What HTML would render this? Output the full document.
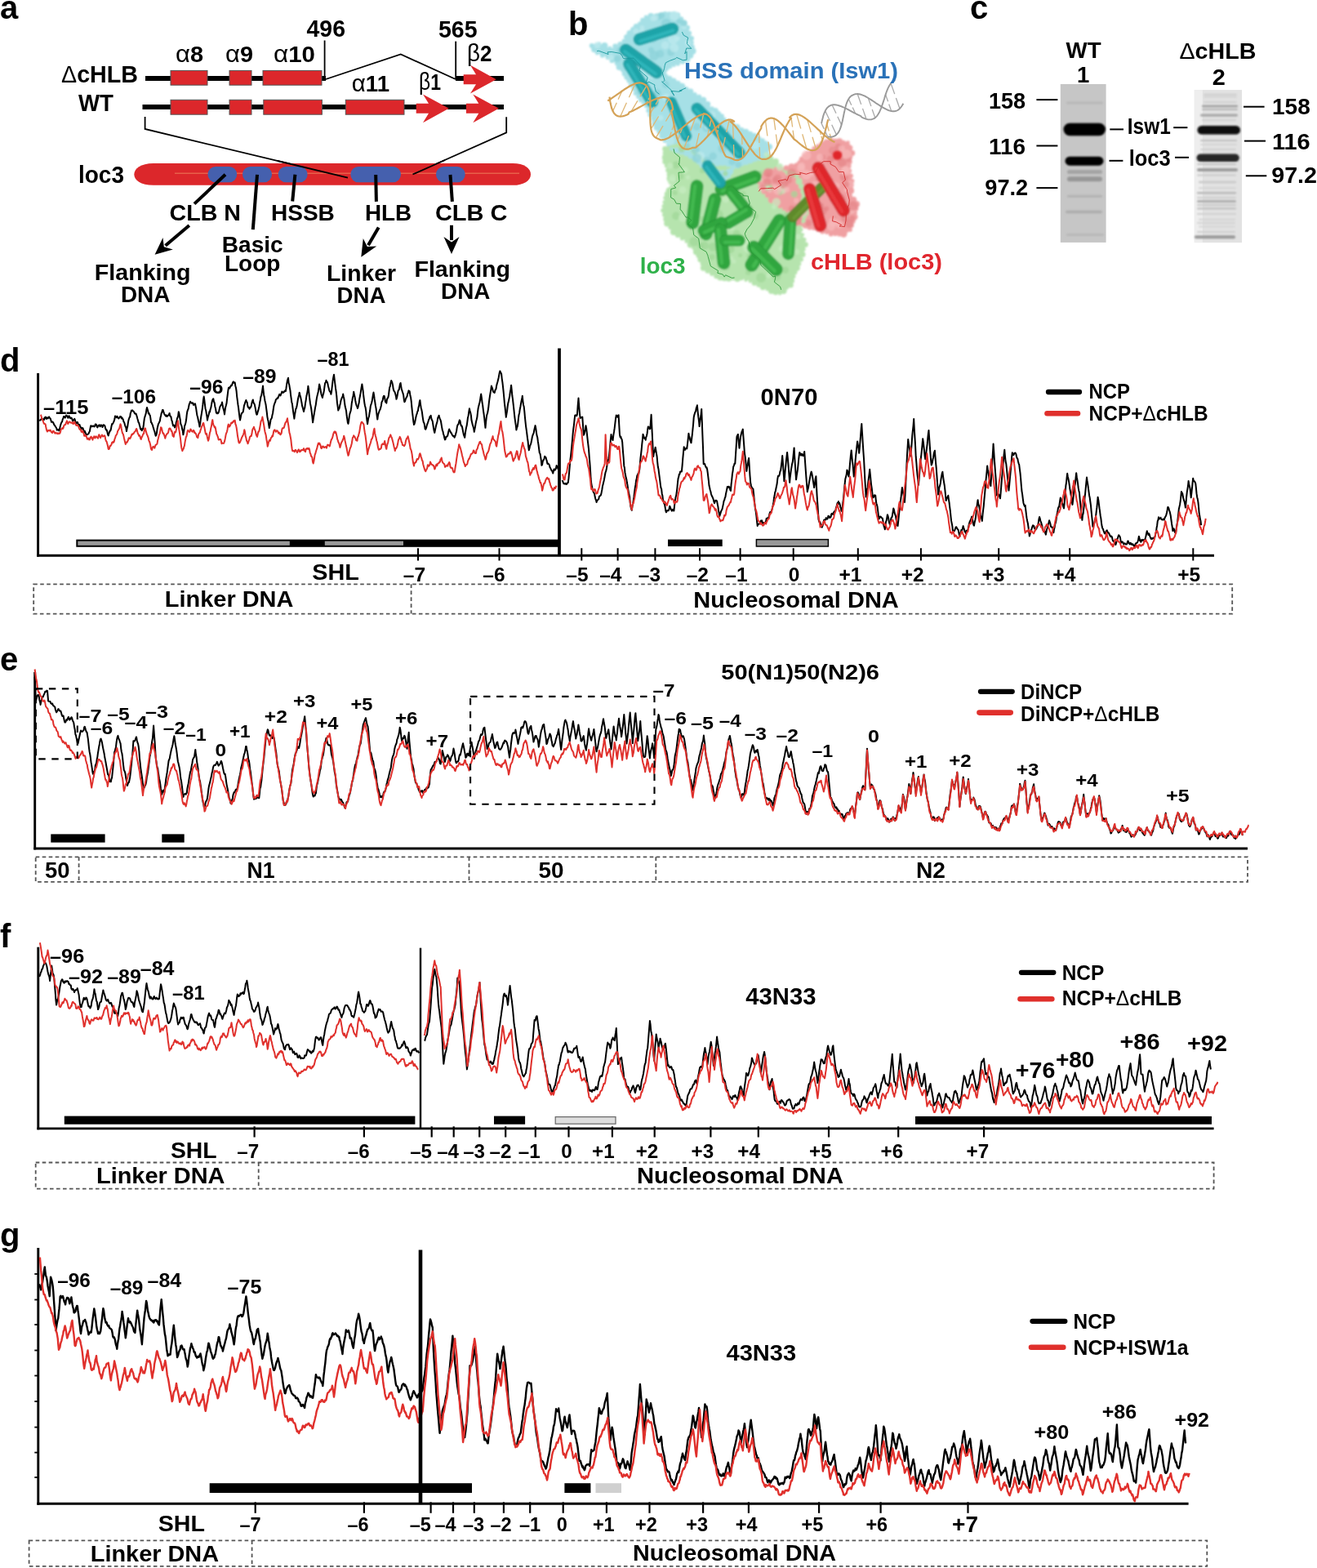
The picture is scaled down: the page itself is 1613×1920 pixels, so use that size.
<!DOCTYPE html>
<html><head><meta charset="utf-8"><title>Figure</title>
<style>
html,body{margin:0;padding:0;background:#fff;overflow:hidden;width:1613px;height:1920px;}
svg{display:block;}
text{font-family:'Liberation Sans', Arial, Helvetica, sans-serif;font-weight:bold;}
</style></head>
<body>
<svg width="1613" height="1920" viewBox="0 0 1613 1920">
<rect width="1613" height="1920" fill="#fff"/>
<text x="0.0" y="23.0" font-size="40">a</text>
<text x="696.0" y="43.4" font-size="40">b</text>
<text x="1188.0" y="23.0" font-size="40">c</text>
<text x="0.0" y="454.7" font-size="40">d</text>
<text x="0.0" y="820.5" font-size="40">e</text>
<text x="0.0" y="1160.3" font-size="40">f</text>
<text x="0.0" y="1526.4" font-size="40">g</text>
<line x1="178.0" y1="96.0" x2="399.0" y2="96.0" stroke="#000" stroke-width="6"/>
<line x1="558.0" y1="96.0" x2="617.0" y2="96.0" stroke="#000" stroke-width="6"/>
<line x1="174.5" y1="131.0" x2="617.0" y2="131.0" stroke="#000" stroke-width="6"/>
<rect x="209.0" y="86.4" width="45.0" height="17.8" fill="#dc272b" stroke="#555" stroke-width="1"/>
<rect x="281.0" y="86.4" width="27.0" height="17.8" fill="#dc272b" stroke="#555" stroke-width="1"/>
<rect x="322.0" y="86.4" width="72.0" height="17.8" fill="#dc272b" stroke="#555" stroke-width="1"/>
<rect x="209.0" y="122.3" width="45.0" height="17.9" fill="#dc272b" stroke="#555" stroke-width="1"/>
<rect x="281.0" y="122.3" width="27.0" height="17.9" fill="#dc272b" stroke="#555" stroke-width="1"/>
<rect x="322.8" y="122.3" width="71.6" height="17.9" fill="#dc272b" stroke="#555" stroke-width="1"/>
<rect x="423.3" y="122.3" width="71.7" height="17.9" fill="#dc272b" stroke="#555" stroke-width="1"/>
<path d="M567.7,91.2 L583,91.2 L576,79.80000000000001 L607.8,97.2 L576,114.6 L583,103.2 L567.7,103.2 Z" fill="#dc272b"/>
<path d="M509.7,126.80000000000001 L525,126.80000000000001 L518,115.4 L549.8,132.8 L518,150.20000000000002 L525,138.8 L509.7,138.8 Z" fill="#dc272b"/>
<path d="M570.9,126.80000000000001 L586.3,126.80000000000001 L579.3,115.4 L611,132.8 L579.3,150.20000000000002 L586.3,138.8 L570.9,138.8 Z" fill="#dc272b"/>
<line x1="397.6" y1="49.5" x2="397.6" y2="97.0" stroke="#000" stroke-width="1.8"/>
<line x1="558.2" y1="50.6" x2="558.2" y2="97.0" stroke="#000" stroke-width="1.8"/>
<path d="M399,97 L490.8,66.4 L558,97" fill="none" stroke="#000" stroke-width="1.8"/>
<path d="M177.6,143 L177.6,158 L426,217.7" fill="none" stroke="#000" stroke-width="1.8"/>
<path d="M620.2,143.3 L620.2,162.3 L505.5,213.5" fill="none" stroke="#000" stroke-width="1.8"/>
<path d="M188,200 L628,200 C642,200 650,206 650,213.4 C650,220.8 642,226.8 628,226.8 L188,226.8 C172,226.8 164.3,220 164.3,213.4 C164.3,206.8 172,200 188,200 Z" fill="#dc272b"/>
<line x1="214.0" y1="212.3" x2="636.0" y2="212.3" stroke="#e8604a" stroke-width="1.6"/>
<rect x="254.5" y="204.0" width="35.7" height="19.3" fill="#4560ae" rx="9.6"/>
<rect x="297.0" y="204.0" width="36.0" height="19.3" fill="#4560ae" rx="9.6"/>
<rect x="340.7" y="204.0" width="35.9" height="19.3" fill="#4560ae" rx="9.6"/>
<rect x="429.3" y="204.0" width="61.7" height="19.3" fill="#4560ae" rx="9.6"/>
<rect x="534.0" y="204.0" width="35.7" height="19.3" fill="#4560ae" rx="9.6"/>
<path d="M340,197 L426,217.7" fill="none" stroke="#000" stroke-width="1.8"/>
<path d="M545,196 L505.5,213.5" fill="none" stroke="#000" stroke-width="1.8"/>
<line x1="276.0" y1="213.8" x2="238.0" y2="249.6" stroke="#000" stroke-width="4"/>
<line x1="315.0" y1="213.8" x2="309.8" y2="281.2" stroke="#000" stroke-width="4"/>
<line x1="361.4" y1="213.8" x2="358.2" y2="246.5" stroke="#000" stroke-width="4"/>
<line x1="460.2" y1="214.0" x2="460.9" y2="246.9" stroke="#000" stroke-width="4"/>
<line x1="551.5" y1="214.0" x2="553.9" y2="246.9" stroke="#000" stroke-width="4"/>
<line x1="231.8" y1="276.0" x2="202.6" y2="300.8" stroke="#000" stroke-width="4"/>
<path d="M189.6,311.8 L199.5,291.0 L200.8,302.3 L211.8,305.5 Z" fill="#000"/>
<line x1="463.7" y1="278.6" x2="451.0" y2="300.2" stroke="#000" stroke-width="4"/>
<path d="M442.3,314.8 L444.8,291.9 L449.8,302.1 L461.2,301.6 Z" fill="#000"/>
<line x1="553.0" y1="275.8" x2="553.0" y2="294.1" stroke="#000" stroke-width="4"/>
<path d="M553.0,311.1 L543.5,290.1 L553.0,296.4 L562.5,290.1 Z" fill="#000"/>
<text x="75.0" y="101.2" font-size="29.3" textLength="94.0" lengthAdjust="spacingAndGlyphs"><tspan font-weight="normal">&#916;</tspan>cHLB</text>
<text x="96.0" y="136.0" font-size="29.3" textLength="43.0" lengthAdjust="spacingAndGlyphs">WT</text>
<text x="96.0" y="223.9" font-size="29.3" textLength="56.0" lengthAdjust="spacingAndGlyphs">loc3</text>
<text x="375.5" y="44.7" font-size="29" textLength="47.5" lengthAdjust="spacingAndGlyphs">496</text>
<text x="537.0" y="46.4" font-size="29" textLength="47.6" lengthAdjust="spacingAndGlyphs">565</text>
<text x="215.0" y="76.0" font-size="28" textLength="34.0" lengthAdjust="spacingAndGlyphs"><tspan font-family="'Liberation Sans', 'DejaVu Sans', sans-serif" font-weight="normal" font-size="30">&#945;</tspan>8</text>
<text x="276.0" y="76.0" font-size="28" textLength="34.0" lengthAdjust="spacingAndGlyphs"><tspan font-family="'Liberation Sans', 'DejaVu Sans', sans-serif" font-weight="normal" font-size="30">&#945;</tspan>9</text>
<text x="335.0" y="76.0" font-size="28" textLength="51.0" lengthAdjust="spacingAndGlyphs"><tspan font-family="'Liberation Sans', 'DejaVu Sans', sans-serif" font-weight="normal" font-size="30">&#945;</tspan>10</text>
<text x="430.7" y="111.7" font-size="28" textLength="46.3" lengthAdjust="spacingAndGlyphs"><tspan font-family="'Liberation Sans', 'DejaVu Sans', sans-serif" font-weight="normal" font-size="30">&#945;</tspan>11</text>
<text x="513.0" y="109.6" font-size="28" textLength="27.0" lengthAdjust="spacingAndGlyphs"><tspan font-family="'Liberation Sans', 'DejaVu Sans', sans-serif" font-weight="normal" font-size="30">&#946;</tspan>1</text>
<text x="572.0" y="74.8" font-size="28" textLength="30.5" lengthAdjust="spacingAndGlyphs"><tspan font-family="'Liberation Sans', 'DejaVu Sans', sans-serif" font-weight="normal" font-size="30">&#946;</tspan>2</text>
<text x="207.5" y="269.6" font-size="28" textLength="87.5" lengthAdjust="spacingAndGlyphs">CLB N</text>
<text x="331.9" y="269.6" font-size="28" textLength="78.0" lengthAdjust="spacingAndGlyphs">HSSB</text>
<text x="447.0" y="270.2" font-size="28" textLength="57.2" lengthAdjust="spacingAndGlyphs">HLB</text>
<text x="532.9" y="270.2" font-size="28" textLength="88.5" lengthAdjust="spacingAndGlyphs">CLB C</text>
<text x="115.8" y="343.4" font-size="28" textLength="117.7" lengthAdjust="spacingAndGlyphs">Flanking</text>
<text x="147.9" y="369.8" font-size="28" textLength="60.7" lengthAdjust="spacingAndGlyphs">DNA</text>
<text x="271.8" y="308.6" font-size="28" textLength="74.9" lengthAdjust="spacingAndGlyphs">Basic</text>
<text x="275.0" y="331.8" font-size="28" textLength="68.5" lengthAdjust="spacingAndGlyphs">Loop</text>
<text x="400.0" y="343.6" font-size="28" textLength="85.0" lengthAdjust="spacingAndGlyphs">Linker</text>
<text x="412.5" y="370.6" font-size="28" textLength="59.9" lengthAdjust="spacingAndGlyphs">DNA</text>
<text x="507.4" y="339.0" font-size="28" textLength="117.7" lengthAdjust="spacingAndGlyphs">Flanking</text>
<text x="540.0" y="366.0" font-size="28" textLength="60.4" lengthAdjust="spacingAndGlyphs">DNA</text>
<defs><filter id="sb" x="-10%" y="-10%" width="120%" height="120%"><feGaussianBlur stdDeviation="1.2"/></filter><filter id="sb2" x="-10%" y="-10%" width="120%" height="120%"><feGaussianBlur stdDeviation="0.9"/></filter></defs>
<g filter="url(#sb)">
<path d="M814.6,182.3 C817.2,179.3 825.0,179.7 830.2,179.7 C835.4,179.7 840.6,179.3 845.8,182.3 C851.0,185.3 856.2,194.0 861.5,197.9 C866.7,201.8 871.0,204.4 877.1,205.7 C883.2,207.0 890.1,207.0 897.9,205.7 C905.7,204.4 917.0,201.0 924.0,197.9 C930.9,194.9 935.2,187.5 939.6,187.5 C943.9,187.5 946.5,194.4 950.0,197.9 C953.5,201.4 956.1,205.3 960.4,208.3 C964.8,211.4 972.1,211.8 976.0,216.1 C979.9,220.5 982.1,227.0 983.9,234.4 C985.6,241.8 986.9,252.6 986.5,260.4 C986.0,268.2 981.2,274.7 981.2,281.2 C981.2,287.8 986.5,293.4 986.5,299.5 C986.5,305.6 983.4,312.1 981.2,317.7 C979.1,323.4 975.6,328.1 973.4,333.3 C971.3,338.5 971.3,344.6 968.2,349.0 C965.2,353.3 960.0,358.5 955.2,359.4 C950.4,360.2 944.8,356.3 939.6,354.2 C934.4,352.0 929.2,348.5 924.0,346.4 C918.8,344.2 913.5,342.0 908.3,341.1 C903.1,340.3 897.9,341.6 892.7,341.1 C887.5,340.7 882.3,340.7 877.1,338.5 C871.9,336.4 864.9,332.5 861.5,328.1 C858.0,323.8 858.9,317.3 856.2,312.5 C853.6,307.7 849.3,303.0 845.8,299.5 C842.4,296.0 838.9,294.3 835.4,291.7 C831.9,289.1 828.0,286.9 825.0,283.9 C822.0,280.8 819.4,277.8 817.2,273.4 C815.0,269.1 812.4,263.0 812.0,257.8 C811.5,252.6 812.8,247.0 814.6,242.2 C816.3,237.4 821.5,233.9 822.4,229.2 C823.3,224.4 821.1,218.8 819.8,213.5 C818.5,208.3 815.5,203.1 814.6,197.9 C813.7,192.7 812.0,185.3 814.6,182.3 Z" fill="#b6e4ae"/>
<path d="M724.7,56.0 C725.2,54.0 730.2,53.0 733.9,53.4 C737.5,53.8 742.5,58.4 746.9,58.6 C751.2,58.8 755.1,58.4 759.9,54.7 C764.7,51.0 770.3,42.1 775.5,36.5 C780.7,30.8 785.5,23.9 791.1,20.8 C796.8,17.8 802.9,18.7 809.4,18.2 C815.9,17.8 824.8,15.6 830.2,18.2 C835.6,20.8 839.1,29.1 841.9,33.9 C844.7,38.6 846.1,42.1 847.1,46.9 C848.2,51.6 849.3,58.2 848.4,62.5 C847.6,66.8 845.0,70.3 841.9,72.9 C838.9,75.5 834.5,76.4 830.2,78.1 C825.9,79.9 819.4,81.2 815.9,83.3 C812.4,85.5 807.9,88.5 809.4,91.1 C810.9,93.8 818.9,95.5 825.0,99.0 C831.1,102.4 839.8,108.1 845.8,112.0 C851.9,115.9 857.1,118.9 861.5,122.4 C865.8,125.9 867.5,128.9 871.9,132.8 C876.2,136.7 881.4,141.5 887.5,145.8 C893.6,150.2 901.4,154.9 908.3,158.9 C915.3,162.8 923.5,165.8 929.2,169.3 C934.8,172.7 940.5,176.6 942.2,179.7 C943.9,182.7 941.8,185.3 939.6,187.5 C937.4,189.7 933.5,191.0 929.2,192.7 C924.8,194.4 918.8,195.7 913.5,197.9 C908.3,200.1 902.3,202.3 897.9,205.7 C893.6,209.2 891.8,217.0 887.5,218.8 C883.2,220.5 877.1,219.6 871.9,216.1 C866.7,212.7 861.5,202.7 856.2,197.9 C851.0,193.1 846.3,190.1 840.6,187.5 C835.0,184.9 826.7,184.9 822.4,182.3 C818.1,179.7 817.2,175.3 814.6,171.9 C812.0,168.4 809.4,165.8 806.8,161.5 C804.2,157.1 801.6,151.0 799.0,145.8 C796.4,140.6 794.6,135.4 791.1,130.2 C787.7,125.0 781.6,119.8 778.1,114.6 C774.7,109.4 772.9,103.7 770.3,99.0 C767.7,94.2 765.1,89.4 762.5,85.9 C759.9,82.5 757.7,80.7 754.7,78.1 C751.6,75.5 748.2,72.5 744.3,70.3 C740.4,68.1 734.5,67.5 731.2,65.1 C728.0,62.7 724.3,57.9 724.7,56.0 Z" fill="#a6e0e6"/>
<path d="M929.2,216.1 C931.3,212.7 939.1,210.1 944.8,208.3 C950.4,206.6 957.8,206.6 963.0,205.7 C968.2,204.9 971.7,206.2 976.0,203.1 C980.4,200.1 984.7,191.4 989.1,187.5 C993.4,183.6 997.3,182.3 1002.1,179.7 C1006.9,177.1 1011.6,172.7 1017.7,171.9 C1023.8,171.0 1034.2,171.9 1038.5,174.5 C1042.9,177.1 1043.8,182.7 1043.8,187.5 C1043.8,192.3 1038.5,197.5 1038.5,203.1 C1038.5,208.8 1043.3,215.3 1043.8,221.4 C1044.2,227.4 1040.3,234.8 1041.1,239.6 C1042.0,244.4 1048.1,245.7 1049.0,250.0 C1049.8,254.3 1047.7,260.4 1046.4,265.6 C1045.1,270.8 1043.3,277.8 1041.1,281.2 C1039.0,284.7 1037.2,285.6 1033.3,286.5 C1029.4,287.3 1022.9,287.3 1017.7,286.5 C1012.5,285.6 1007.3,283.0 1002.1,281.2 C996.9,279.5 990.8,277.3 986.5,276.0 C982.1,274.7 978.6,276.0 976.0,273.4 C973.4,270.8 973.4,263.5 970.8,260.4 C968.2,257.4 963.9,256.9 960.4,255.2 C956.9,253.5 953.5,252.6 950.0,250.0 C946.5,247.4 942.6,243.1 939.6,239.6 C936.5,236.1 933.5,233.1 931.8,229.2 C930.0,225.3 927.0,219.6 929.2,216.1 Z" fill="#f0a0a2"/>
<circle cx="814.6" cy="182.3" r="3.4" fill="#b6e4ae"/>
<circle cx="819.8" cy="181.4" r="3.6" fill="#b6e4ae"/>
<circle cx="825.0" cy="180.6" r="3.7" fill="#b6e4ae"/>
<circle cx="830.2" cy="179.7" r="4.1" fill="#b6e4ae"/>
<circle cx="835.4" cy="180.6" r="3.6" fill="#b6e4ae"/>
<circle cx="840.6" cy="181.4" r="4.0" fill="#b6e4ae"/>
<circle cx="845.8" cy="182.3" r="2.1" fill="#b6e4ae"/>
<circle cx="849.7" cy="186.2" r="3.0" fill="#b6e4ae"/>
<circle cx="853.6" cy="190.1" r="4.1" fill="#b6e4ae"/>
<circle cx="857.6" cy="194.0" r="3.4" fill="#b6e4ae"/>
<circle cx="861.5" cy="197.9" r="4.0" fill="#b6e4ae"/>
<circle cx="866.7" cy="200.5" r="2.2" fill="#b6e4ae"/>
<circle cx="871.9" cy="203.1" r="3.0" fill="#b6e4ae"/>
<circle cx="877.1" cy="205.7" r="2.5" fill="#b6e4ae"/>
<circle cx="882.3" cy="205.7" r="3.2" fill="#b6e4ae"/>
<circle cx="887.5" cy="205.7" r="3.3" fill="#b6e4ae"/>
<circle cx="892.7" cy="205.7" r="2.0" fill="#b6e4ae"/>
<circle cx="897.9" cy="205.7" r="2.5" fill="#b6e4ae"/>
<circle cx="903.1" cy="204.2" r="2.6" fill="#b6e4ae"/>
<circle cx="908.3" cy="202.6" r="4.0" fill="#b6e4ae"/>
<circle cx="913.5" cy="201.0" r="3.7" fill="#b6e4ae"/>
<circle cx="918.8" cy="199.5" r="2.4" fill="#b6e4ae"/>
<circle cx="924.0" cy="197.9" r="3.8" fill="#b6e4ae"/>
<circle cx="929.2" cy="194.4" r="2.3" fill="#b6e4ae"/>
<circle cx="934.4" cy="191.0" r="3.4" fill="#b6e4ae"/>
<circle cx="939.6" cy="187.5" r="2.3" fill="#b6e4ae"/>
<circle cx="944.8" cy="192.7" r="2.0" fill="#b6e4ae"/>
<circle cx="950.0" cy="197.9" r="3.9" fill="#b6e4ae"/>
<circle cx="955.2" cy="203.1" r="2.5" fill="#b6e4ae"/>
<circle cx="960.4" cy="208.3" r="2.5" fill="#b6e4ae"/>
<circle cx="965.6" cy="210.9" r="4.2" fill="#b6e4ae"/>
<circle cx="970.8" cy="213.5" r="3.9" fill="#b6e4ae"/>
<circle cx="976.0" cy="216.1" r="2.6" fill="#b6e4ae"/>
<circle cx="978.6" cy="222.2" r="4.1" fill="#b6e4ae"/>
<circle cx="981.3" cy="228.3" r="3.2" fill="#b6e4ae"/>
<circle cx="983.9" cy="234.4" r="3.5" fill="#b6e4ae"/>
<circle cx="984.4" cy="239.6" r="2.5" fill="#b6e4ae"/>
<circle cx="984.9" cy="244.8" r="4.1" fill="#b6e4ae"/>
<circle cx="985.4" cy="250.0" r="3.5" fill="#b6e4ae"/>
<circle cx="985.9" cy="255.2" r="4.1" fill="#b6e4ae"/>
<circle cx="986.5" cy="260.4" r="4.0" fill="#b6e4ae"/>
<circle cx="985.2" cy="265.6" r="2.7" fill="#b6e4ae"/>
<circle cx="983.9" cy="270.8" r="2.8" fill="#b6e4ae"/>
<circle cx="982.6" cy="276.0" r="2.4" fill="#b6e4ae"/>
<circle cx="981.2" cy="281.2" r="2.3" fill="#b6e4ae"/>
<circle cx="983.0" cy="287.3" r="2.1" fill="#b6e4ae"/>
<circle cx="984.7" cy="293.4" r="2.7" fill="#b6e4ae"/>
<circle cx="986.5" cy="299.5" r="3.3" fill="#b6e4ae"/>
<circle cx="984.7" cy="305.6" r="2.0" fill="#b6e4ae"/>
<circle cx="983.0" cy="311.6" r="3.5" fill="#b6e4ae"/>
<circle cx="981.2" cy="317.7" r="2.7" fill="#b6e4ae"/>
<circle cx="978.6" cy="322.9" r="2.7" fill="#b6e4ae"/>
<circle cx="976.0" cy="328.1" r="3.8" fill="#b6e4ae"/>
<circle cx="973.4" cy="333.3" r="3.1" fill="#b6e4ae"/>
<circle cx="971.7" cy="338.5" r="2.7" fill="#b6e4ae"/>
<circle cx="970.0" cy="343.8" r="3.1" fill="#b6e4ae"/>
<circle cx="968.2" cy="349.0" r="3.6" fill="#b6e4ae"/>
<circle cx="963.9" cy="352.4" r="2.1" fill="#b6e4ae"/>
<circle cx="959.5" cy="355.9" r="4.1" fill="#b6e4ae"/>
<circle cx="955.2" cy="359.4" r="2.1" fill="#b6e4ae"/>
<circle cx="950.0" cy="357.6" r="3.6" fill="#b6e4ae"/>
<circle cx="944.8" cy="355.9" r="3.9" fill="#b6e4ae"/>
<circle cx="939.6" cy="354.2" r="2.0" fill="#b6e4ae"/>
<circle cx="934.4" cy="351.6" r="3.7" fill="#b6e4ae"/>
<circle cx="929.2" cy="349.0" r="2.8" fill="#b6e4ae"/>
<circle cx="924.0" cy="346.4" r="3.3" fill="#b6e4ae"/>
<circle cx="918.8" cy="344.6" r="2.0" fill="#b6e4ae"/>
<circle cx="913.5" cy="342.9" r="2.1" fill="#b6e4ae"/>
<circle cx="908.3" cy="341.1" r="2.4" fill="#b6e4ae"/>
<circle cx="903.1" cy="341.1" r="4.1" fill="#b6e4ae"/>
<circle cx="897.9" cy="341.1" r="2.4" fill="#b6e4ae"/>
<circle cx="892.7" cy="341.1" r="3.7" fill="#b6e4ae"/>
<circle cx="887.5" cy="340.3" r="4.0" fill="#b6e4ae"/>
<circle cx="882.3" cy="339.4" r="4.1" fill="#b6e4ae"/>
<circle cx="877.1" cy="338.5" r="2.8" fill="#b6e4ae"/>
<circle cx="871.9" cy="335.1" r="2.8" fill="#b6e4ae"/>
<circle cx="866.7" cy="331.6" r="3.2" fill="#b6e4ae"/>
<circle cx="861.5" cy="328.1" r="3.7" fill="#b6e4ae"/>
<circle cx="859.7" cy="322.9" r="2.2" fill="#b6e4ae"/>
<circle cx="858.0" cy="317.7" r="3.6" fill="#b6e4ae"/>
<circle cx="856.2" cy="312.5" r="3.8" fill="#b6e4ae"/>
<circle cx="852.8" cy="308.2" r="3.9" fill="#b6e4ae"/>
<circle cx="849.3" cy="303.8" r="2.1" fill="#b6e4ae"/>
<circle cx="845.8" cy="299.5" r="4.1" fill="#b6e4ae"/>
<circle cx="840.6" cy="295.6" r="2.2" fill="#b6e4ae"/>
<circle cx="835.4" cy="291.7" r="2.7" fill="#b6e4ae"/>
<circle cx="830.2" cy="287.8" r="3.3" fill="#b6e4ae"/>
<circle cx="825.0" cy="283.9" r="4.0" fill="#b6e4ae"/>
<circle cx="821.1" cy="278.6" r="2.7" fill="#b6e4ae"/>
<circle cx="817.2" cy="273.4" r="4.0" fill="#b6e4ae"/>
<circle cx="815.5" cy="268.2" r="3.2" fill="#b6e4ae"/>
<circle cx="813.7" cy="263.0" r="2.7" fill="#b6e4ae"/>
<circle cx="812.0" cy="257.8" r="2.7" fill="#b6e4ae"/>
<circle cx="812.8" cy="252.6" r="2.4" fill="#b6e4ae"/>
<circle cx="813.7" cy="247.4" r="2.2" fill="#b6e4ae"/>
<circle cx="814.6" cy="242.2" r="2.3" fill="#b6e4ae"/>
<circle cx="817.2" cy="237.8" r="3.5" fill="#b6e4ae"/>
<circle cx="819.8" cy="233.5" r="4.2" fill="#b6e4ae"/>
<circle cx="822.4" cy="229.2" r="2.4" fill="#b6e4ae"/>
<circle cx="821.5" cy="224.0" r="2.1" fill="#b6e4ae"/>
<circle cx="820.7" cy="218.8" r="4.2" fill="#b6e4ae"/>
<circle cx="819.8" cy="213.5" r="3.2" fill="#b6e4ae"/>
<circle cx="818.1" cy="208.3" r="2.9" fill="#b6e4ae"/>
<circle cx="816.3" cy="203.1" r="2.5" fill="#b6e4ae"/>
<circle cx="814.6" cy="197.9" r="3.3" fill="#b6e4ae"/>
<circle cx="814.6" cy="192.7" r="3.8" fill="#b6e4ae"/>
<circle cx="814.6" cy="187.5" r="3.0" fill="#b6e4ae"/>
<circle cx="724.7" cy="56.0" r="2.9" fill="#a6e0e6"/>
<circle cx="733.9" cy="53.4" r="2.1" fill="#a6e0e6"/>
<circle cx="740.4" cy="56.0" r="4.0" fill="#a6e0e6"/>
<circle cx="746.9" cy="58.6" r="2.1" fill="#a6e0e6"/>
<circle cx="753.4" cy="56.6" r="3.1" fill="#a6e0e6"/>
<circle cx="759.9" cy="54.7" r="3.8" fill="#a6e0e6"/>
<circle cx="763.8" cy="50.1" r="2.3" fill="#a6e0e6"/>
<circle cx="767.7" cy="45.6" r="3.6" fill="#a6e0e6"/>
<circle cx="771.6" cy="41.0" r="4.1" fill="#a6e0e6"/>
<circle cx="775.5" cy="36.5" r="3.4" fill="#a6e0e6"/>
<circle cx="779.4" cy="32.6" r="3.7" fill="#a6e0e6"/>
<circle cx="783.3" cy="28.6" r="2.2" fill="#a6e0e6"/>
<circle cx="787.2" cy="24.7" r="3.0" fill="#a6e0e6"/>
<circle cx="791.1" cy="20.8" r="2.3" fill="#a6e0e6"/>
<circle cx="797.2" cy="20.0" r="3.9" fill="#a6e0e6"/>
<circle cx="803.3" cy="19.1" r="2.6" fill="#a6e0e6"/>
<circle cx="809.4" cy="18.2" r="3.0" fill="#a6e0e6"/>
<circle cx="814.6" cy="18.2" r="4.2" fill="#a6e0e6"/>
<circle cx="819.8" cy="18.2" r="3.9" fill="#a6e0e6"/>
<circle cx="825.0" cy="18.2" r="4.1" fill="#a6e0e6"/>
<circle cx="830.2" cy="18.2" r="3.0" fill="#a6e0e6"/>
<circle cx="834.1" cy="23.4" r="3.1" fill="#a6e0e6"/>
<circle cx="838.0" cy="28.6" r="3.6" fill="#a6e0e6"/>
<circle cx="841.9" cy="33.9" r="3.1" fill="#a6e0e6"/>
<circle cx="844.5" cy="40.4" r="2.6" fill="#a6e0e6"/>
<circle cx="847.1" cy="46.9" r="2.9" fill="#a6e0e6"/>
<circle cx="847.6" cy="52.1" r="2.3" fill="#a6e0e6"/>
<circle cx="848.0" cy="57.3" r="2.8" fill="#a6e0e6"/>
<circle cx="848.4" cy="62.5" r="4.2" fill="#a6e0e6"/>
<circle cx="845.2" cy="67.7" r="4.1" fill="#a6e0e6"/>
<circle cx="841.9" cy="72.9" r="3.4" fill="#a6e0e6"/>
<circle cx="836.1" cy="75.5" r="3.1" fill="#a6e0e6"/>
<circle cx="830.2" cy="78.1" r="2.7" fill="#a6e0e6"/>
<circle cx="825.4" cy="79.9" r="2.2" fill="#a6e0e6"/>
<circle cx="820.7" cy="81.6" r="2.6" fill="#a6e0e6"/>
<circle cx="815.9" cy="83.3" r="3.7" fill="#a6e0e6"/>
<circle cx="812.6" cy="87.2" r="3.9" fill="#a6e0e6"/>
<circle cx="809.4" cy="91.1" r="2.8" fill="#a6e0e6"/>
<circle cx="814.6" cy="93.8" r="3.7" fill="#a6e0e6"/>
<circle cx="819.8" cy="96.4" r="3.7" fill="#a6e0e6"/>
<circle cx="825.0" cy="99.0" r="3.5" fill="#a6e0e6"/>
<circle cx="830.2" cy="102.2" r="3.5" fill="#a6e0e6"/>
<circle cx="835.4" cy="105.5" r="3.7" fill="#a6e0e6"/>
<circle cx="840.6" cy="108.7" r="2.8" fill="#a6e0e6"/>
<circle cx="845.8" cy="112.0" r="3.5" fill="#a6e0e6"/>
<circle cx="851.0" cy="115.5" r="2.6" fill="#a6e0e6"/>
<circle cx="856.2" cy="118.9" r="3.1" fill="#a6e0e6"/>
<circle cx="861.5" cy="122.4" r="3.7" fill="#a6e0e6"/>
<circle cx="866.7" cy="127.6" r="3.5" fill="#a6e0e6"/>
<circle cx="871.9" cy="132.8" r="2.6" fill="#a6e0e6"/>
<circle cx="875.8" cy="136.1" r="4.1" fill="#a6e0e6"/>
<circle cx="879.7" cy="139.3" r="3.4" fill="#a6e0e6"/>
<circle cx="883.6" cy="142.6" r="3.3" fill="#a6e0e6"/>
<circle cx="887.5" cy="145.8" r="2.0" fill="#a6e0e6"/>
<circle cx="892.7" cy="149.1" r="3.2" fill="#a6e0e6"/>
<circle cx="897.9" cy="152.3" r="2.6" fill="#a6e0e6"/>
<circle cx="903.1" cy="155.6" r="3.5" fill="#a6e0e6"/>
<circle cx="908.3" cy="158.9" r="3.0" fill="#a6e0e6"/>
<circle cx="913.5" cy="161.5" r="3.8" fill="#a6e0e6"/>
<circle cx="918.8" cy="164.1" r="3.4" fill="#a6e0e6"/>
<circle cx="924.0" cy="166.7" r="3.8" fill="#a6e0e6"/>
<circle cx="929.2" cy="169.3" r="2.8" fill="#a6e0e6"/>
<circle cx="933.5" cy="172.7" r="3.4" fill="#a6e0e6"/>
<circle cx="937.8" cy="176.2" r="3.6" fill="#a6e0e6"/>
<circle cx="942.2" cy="179.7" r="3.8" fill="#a6e0e6"/>
<circle cx="939.6" cy="187.5" r="2.8" fill="#a6e0e6"/>
<circle cx="934.4" cy="190.1" r="3.9" fill="#a6e0e6"/>
<circle cx="929.2" cy="192.7" r="3.9" fill="#a6e0e6"/>
<circle cx="924.0" cy="194.4" r="3.5" fill="#a6e0e6"/>
<circle cx="918.8" cy="196.2" r="4.1" fill="#a6e0e6"/>
<circle cx="913.5" cy="197.9" r="4.1" fill="#a6e0e6"/>
<circle cx="908.3" cy="200.5" r="3.1" fill="#a6e0e6"/>
<circle cx="903.1" cy="203.1" r="3.2" fill="#a6e0e6"/>
<circle cx="897.9" cy="205.7" r="2.4" fill="#a6e0e6"/>
<circle cx="894.4" cy="210.1" r="3.8" fill="#a6e0e6"/>
<circle cx="891.0" cy="214.4" r="4.1" fill="#a6e0e6"/>
<circle cx="887.5" cy="218.8" r="3.0" fill="#a6e0e6"/>
<circle cx="882.3" cy="217.9" r="3.5" fill="#a6e0e6"/>
<circle cx="877.1" cy="217.0" r="3.6" fill="#a6e0e6"/>
<circle cx="871.9" cy="216.1" r="3.6" fill="#a6e0e6"/>
<circle cx="868.0" cy="211.6" r="2.4" fill="#a6e0e6"/>
<circle cx="864.1" cy="207.0" r="3.7" fill="#a6e0e6"/>
<circle cx="860.2" cy="202.5" r="3.3" fill="#a6e0e6"/>
<circle cx="856.2" cy="197.9" r="3.5" fill="#a6e0e6"/>
<circle cx="851.0" cy="194.4" r="2.9" fill="#a6e0e6"/>
<circle cx="845.8" cy="191.0" r="3.4" fill="#a6e0e6"/>
<circle cx="840.6" cy="187.5" r="3.7" fill="#a6e0e6"/>
<circle cx="834.5" cy="185.8" r="3.4" fill="#a6e0e6"/>
<circle cx="828.5" cy="184.0" r="3.6" fill="#a6e0e6"/>
<circle cx="822.4" cy="182.3" r="2.1" fill="#a6e0e6"/>
<circle cx="818.5" cy="177.1" r="2.4" fill="#a6e0e6"/>
<circle cx="814.6" cy="171.9" r="3.0" fill="#a6e0e6"/>
<circle cx="810.7" cy="166.7" r="3.4" fill="#a6e0e6"/>
<circle cx="806.8" cy="161.5" r="2.5" fill="#a6e0e6"/>
<circle cx="804.2" cy="156.2" r="3.5" fill="#a6e0e6"/>
<circle cx="801.6" cy="151.0" r="3.4" fill="#a6e0e6"/>
<circle cx="799.0" cy="145.8" r="2.1" fill="#a6e0e6"/>
<circle cx="796.4" cy="140.6" r="3.0" fill="#a6e0e6"/>
<circle cx="793.8" cy="135.4" r="2.5" fill="#a6e0e6"/>
<circle cx="791.1" cy="130.2" r="2.1" fill="#a6e0e6"/>
<circle cx="787.9" cy="126.3" r="2.3" fill="#a6e0e6"/>
<circle cx="784.6" cy="122.4" r="2.7" fill="#a6e0e6"/>
<circle cx="781.4" cy="118.5" r="2.4" fill="#a6e0e6"/>
<circle cx="778.1" cy="114.6" r="2.4" fill="#a6e0e6"/>
<circle cx="775.5" cy="109.4" r="2.1" fill="#a6e0e6"/>
<circle cx="772.9" cy="104.2" r="3.0" fill="#a6e0e6"/>
<circle cx="770.3" cy="99.0" r="2.8" fill="#a6e0e6"/>
<circle cx="767.7" cy="94.6" r="3.3" fill="#a6e0e6"/>
<circle cx="765.1" cy="90.3" r="3.3" fill="#a6e0e6"/>
<circle cx="762.5" cy="85.9" r="2.5" fill="#a6e0e6"/>
<circle cx="758.6" cy="82.0" r="4.0" fill="#a6e0e6"/>
<circle cx="754.7" cy="78.1" r="2.0" fill="#a6e0e6"/>
<circle cx="749.5" cy="74.2" r="2.9" fill="#a6e0e6"/>
<circle cx="744.3" cy="70.3" r="2.6" fill="#a6e0e6"/>
<circle cx="737.8" cy="67.7" r="2.9" fill="#a6e0e6"/>
<circle cx="731.2" cy="65.1" r="2.3" fill="#a6e0e6"/>
<circle cx="728.0" cy="60.5" r="3.8" fill="#a6e0e6"/>
<circle cx="929.2" cy="216.1" r="2.8" fill="#f0a0a2"/>
<circle cx="934.4" cy="213.5" r="2.1" fill="#f0a0a2"/>
<circle cx="939.6" cy="210.9" r="3.3" fill="#f0a0a2"/>
<circle cx="944.8" cy="208.3" r="2.2" fill="#f0a0a2"/>
<circle cx="950.9" cy="207.5" r="3.2" fill="#f0a0a2"/>
<circle cx="956.9" cy="206.6" r="2.7" fill="#f0a0a2"/>
<circle cx="963.0" cy="205.7" r="3.3" fill="#f0a0a2"/>
<circle cx="969.5" cy="204.4" r="4.1" fill="#f0a0a2"/>
<circle cx="976.0" cy="203.1" r="3.8" fill="#f0a0a2"/>
<circle cx="979.3" cy="199.2" r="2.9" fill="#f0a0a2"/>
<circle cx="982.6" cy="195.3" r="3.8" fill="#f0a0a2"/>
<circle cx="985.8" cy="191.4" r="3.4" fill="#f0a0a2"/>
<circle cx="989.1" cy="187.5" r="2.8" fill="#f0a0a2"/>
<circle cx="993.4" cy="184.9" r="2.3" fill="#f0a0a2"/>
<circle cx="997.7" cy="182.3" r="3.3" fill="#f0a0a2"/>
<circle cx="1002.1" cy="179.7" r="3.2" fill="#f0a0a2"/>
<circle cx="1007.3" cy="177.1" r="4.1" fill="#f0a0a2"/>
<circle cx="1012.5" cy="174.5" r="4.1" fill="#f0a0a2"/>
<circle cx="1017.7" cy="171.9" r="3.3" fill="#f0a0a2"/>
<circle cx="1022.9" cy="172.5" r="2.8" fill="#f0a0a2"/>
<circle cx="1028.1" cy="173.2" r="4.0" fill="#f0a0a2"/>
<circle cx="1033.3" cy="173.8" r="2.0" fill="#f0a0a2"/>
<circle cx="1038.5" cy="174.5" r="2.2" fill="#f0a0a2"/>
<circle cx="1041.1" cy="181.0" r="3.2" fill="#f0a0a2"/>
<circle cx="1043.8" cy="187.5" r="3.4" fill="#f0a0a2"/>
<circle cx="1042.0" cy="192.7" r="2.3" fill="#f0a0a2"/>
<circle cx="1040.3" cy="197.9" r="3.4" fill="#f0a0a2"/>
<circle cx="1038.5" cy="203.1" r="4.0" fill="#f0a0a2"/>
<circle cx="1040.3" cy="209.2" r="2.8" fill="#f0a0a2"/>
<circle cx="1042.0" cy="215.3" r="2.9" fill="#f0a0a2"/>
<circle cx="1043.8" cy="221.4" r="2.5" fill="#f0a0a2"/>
<circle cx="1042.9" cy="227.4" r="2.6" fill="#f0a0a2"/>
<circle cx="1042.0" cy="233.5" r="4.1" fill="#f0a0a2"/>
<circle cx="1041.1" cy="239.6" r="2.8" fill="#f0a0a2"/>
<circle cx="1045.1" cy="244.8" r="4.1" fill="#f0a0a2"/>
<circle cx="1049.0" cy="250.0" r="4.0" fill="#f0a0a2"/>
<circle cx="1048.1" cy="255.2" r="3.3" fill="#f0a0a2"/>
<circle cx="1047.2" cy="260.4" r="2.6" fill="#f0a0a2"/>
<circle cx="1046.4" cy="265.6" r="4.2" fill="#f0a0a2"/>
<circle cx="1044.6" cy="270.8" r="3.1" fill="#f0a0a2"/>
<circle cx="1042.9" cy="276.0" r="2.9" fill="#f0a0a2"/>
<circle cx="1041.1" cy="281.2" r="2.7" fill="#f0a0a2"/>
<circle cx="1033.3" cy="286.5" r="4.2" fill="#f0a0a2"/>
<circle cx="1028.1" cy="286.5" r="3.1" fill="#f0a0a2"/>
<circle cx="1022.9" cy="286.5" r="2.6" fill="#f0a0a2"/>
<circle cx="1017.7" cy="286.5" r="3.0" fill="#f0a0a2"/>
<circle cx="1012.5" cy="284.7" r="2.3" fill="#f0a0a2"/>
<circle cx="1007.3" cy="283.0" r="3.4" fill="#f0a0a2"/>
<circle cx="1002.1" cy="281.2" r="3.0" fill="#f0a0a2"/>
<circle cx="996.9" cy="279.5" r="2.6" fill="#f0a0a2"/>
<circle cx="991.7" cy="277.8" r="3.7" fill="#f0a0a2"/>
<circle cx="986.5" cy="276.0" r="3.8" fill="#f0a0a2"/>
<circle cx="981.2" cy="274.7" r="2.0" fill="#f0a0a2"/>
<circle cx="976.0" cy="273.4" r="3.2" fill="#f0a0a2"/>
<circle cx="973.4" cy="266.9" r="2.6" fill="#f0a0a2"/>
<circle cx="970.8" cy="260.4" r="4.1" fill="#f0a0a2"/>
<circle cx="965.6" cy="257.8" r="3.7" fill="#f0a0a2"/>
<circle cx="960.4" cy="255.2" r="2.5" fill="#f0a0a2"/>
<circle cx="955.2" cy="252.6" r="2.6" fill="#f0a0a2"/>
<circle cx="950.0" cy="250.0" r="2.3" fill="#f0a0a2"/>
<circle cx="944.8" cy="244.8" r="4.2" fill="#f0a0a2"/>
<circle cx="939.6" cy="239.6" r="2.6" fill="#f0a0a2"/>
<circle cx="935.7" cy="234.4" r="3.3" fill="#f0a0a2"/>
<circle cx="931.8" cy="229.2" r="3.0" fill="#f0a0a2"/>
<circle cx="930.5" cy="222.7" r="3.4" fill="#f0a0a2"/>
<circle cx="917.3" cy="313.3" r="2.9" fill="#9fd797" opacity="0.7"/>
<circle cx="864.4" cy="275.6" r="3.7" fill="#c8edc2" opacity="0.7"/>
<circle cx="873.0" cy="302.2" r="5.3" fill="#9fd797" opacity="0.7"/>
<circle cx="966.9" cy="277.7" r="2.6" fill="#c8edc2" opacity="0.7"/>
<circle cx="915.8" cy="303.5" r="5.8" fill="#c8edc2" opacity="0.7"/>
<circle cx="961.8" cy="330.8" r="4.2" fill="#9fd797" opacity="0.7"/>
<circle cx="968.8" cy="263.3" r="5.2" fill="#c8edc2" opacity="0.7"/>
<circle cx="957.9" cy="304.5" r="4.0" fill="#c8edc2" opacity="0.7"/>
<circle cx="925.1" cy="264.6" r="3.6" fill="#9fd797" opacity="0.7"/>
<circle cx="895.5" cy="278.4" r="4.2" fill="#c8edc2" opacity="0.7"/>
<circle cx="905.8" cy="256.2" r="4.4" fill="#9fd797" opacity="0.7"/>
<circle cx="823.9" cy="221.0" r="5.4" fill="#9fd797" opacity="0.7"/>
<circle cx="850.2" cy="295.7" r="5.8" fill="#9fd797" opacity="0.7"/>
<circle cx="888.4" cy="212.6" r="3.1" fill="#9fd797" opacity="0.7"/>
<circle cx="823.7" cy="218.0" r="4.4" fill="#c8edc2" opacity="0.7"/>
<circle cx="942.1" cy="230.0" r="4.5" fill="#9fd797" opacity="0.7"/>
<circle cx="941.5" cy="337.5" r="3.0" fill="#c8edc2" opacity="0.7"/>
<circle cx="897.4" cy="243.2" r="4.8" fill="#9fd797" opacity="0.7"/>
<circle cx="836.1" cy="232.6" r="4.5" fill="#c8edc2" opacity="0.7"/>
<circle cx="970.8" cy="279.4" r="4.7" fill="#c8edc2" opacity="0.7"/>
<circle cx="823.0" cy="222.0" r="5.4" fill="#c8edc2" opacity="0.7"/>
<circle cx="852.9" cy="246.4" r="5.1" fill="#9fd797" opacity="0.7"/>
<circle cx="834.9" cy="183.0" r="3.7" fill="#9fd797" opacity="0.7"/>
<circle cx="827.9" cy="202.1" r="4.6" fill="#9fd797" opacity="0.7"/>
<circle cx="880.0" cy="262.8" r="5.9" fill="#9fd797" opacity="0.7"/>
<circle cx="938.5" cy="189.3" r="3.0" fill="#c8edc2" opacity="0.7"/>
<circle cx="930.8" cy="219.8" r="2.9" fill="#c8edc2" opacity="0.7"/>
<circle cx="955.2" cy="204.8" r="4.7" fill="#c8edc2" opacity="0.7"/>
<circle cx="957.8" cy="231.8" r="5.8" fill="#c8edc2" opacity="0.7"/>
<circle cx="950.9" cy="247.6" r="5.0" fill="#c8edc2" opacity="0.7"/>
<circle cx="925.0" cy="324.2" r="4.0" fill="#c8edc2" opacity="0.7"/>
<circle cx="902.3" cy="286.2" r="4.5" fill="#9fd797" opacity="0.7"/>
<circle cx="895.9" cy="316.3" r="2.5" fill="#c8edc2" opacity="0.7"/>
<circle cx="972.8" cy="237.8" r="4.1" fill="#9fd797" opacity="0.7"/>
<circle cx="839.0" cy="208.3" r="3.8" fill="#c8edc2" opacity="0.7"/>
<circle cx="963.6" cy="264.1" r="4.4" fill="#9fd797" opacity="0.7"/>
<circle cx="860.4" cy="208.7" r="3.5" fill="#9fd797" opacity="0.7"/>
<circle cx="872.1" cy="314.8" r="3.6" fill="#9fd797" opacity="0.7"/>
<circle cx="932.0" cy="300.8" r="4.2" fill="#9fd797" opacity="0.7"/>
<circle cx="862.8" cy="300.9" r="5.1" fill="#9fd797" opacity="0.7"/>
<circle cx="912.3" cy="297.6" r="4.7" fill="#c8edc2" opacity="0.7"/>
<circle cx="930.7" cy="212.8" r="3.8" fill="#9fd797" opacity="0.7"/>
<circle cx="939.8" cy="308.7" r="3.1" fill="#9fd797" opacity="0.7"/>
<circle cx="842.6" cy="217.2" r="2.7" fill="#c8edc2" opacity="0.7"/>
<circle cx="938.7" cy="228.3" r="4.1" fill="#c8edc2" opacity="0.7"/>
<circle cx="947.9" cy="253.4" r="2.7" fill="#c8edc2" opacity="0.7"/>
<circle cx="975.9" cy="308.4" r="3.3" fill="#c8edc2" opacity="0.7"/>
<circle cx="828.0" cy="264.4" r="4.9" fill="#9fd797" opacity="0.7"/>
<circle cx="898.8" cy="320.1" r="2.7" fill="#c8edc2" opacity="0.7"/>
<circle cx="889.8" cy="294.8" r="5.6" fill="#9fd797" opacity="0.7"/>
<circle cx="843.3" cy="271.1" r="3.9" fill="#9fd797" opacity="0.7"/>
<circle cx="826.7" cy="236.1" r="2.9" fill="#9fd797" opacity="0.7"/>
<circle cx="916.4" cy="333.6" r="3.3" fill="#9fd797" opacity="0.7"/>
<circle cx="889.0" cy="243.9" r="4.0" fill="#c8edc2" opacity="0.7"/>
<circle cx="932.1" cy="339.9" r="6.0" fill="#9fd797" opacity="0.7"/>
<circle cx="836.2" cy="266.5" r="5.2" fill="#c8edc2" opacity="0.7"/>
<circle cx="955.0" cy="235.9" r="3.0" fill="#9fd797" opacity="0.7"/>
<circle cx="894.3" cy="305.0" r="5.3" fill="#9fd797" opacity="0.7"/>
<circle cx="860.1" cy="268.2" r="3.4" fill="#9fd797" opacity="0.7"/>
<circle cx="950.9" cy="338.3" r="5.6" fill="#9fd797" opacity="0.7"/>
<circle cx="885.4" cy="236.1" r="5.1" fill="#9fd797" opacity="0.7"/>
<circle cx="968.3" cy="297.2" r="5.2" fill="#9fd797" opacity="0.7"/>
<circle cx="889.1" cy="326.5" r="4.8" fill="#9fd797" opacity="0.7"/>
<circle cx="939.0" cy="305.7" r="3.4" fill="#c8edc2" opacity="0.7"/>
<circle cx="910.0" cy="237.4" r="3.6" fill="#9fd797" opacity="0.7"/>
<circle cx="857.8" cy="301.1" r="3.5" fill="#9fd797" opacity="0.7"/>
<circle cx="906.6" cy="312.5" r="2.6" fill="#9fd797" opacity="0.7"/>
<circle cx="820.8" cy="203.1" r="3.8" fill="#c8edc2" opacity="0.7"/>
<circle cx="977.6" cy="289.7" r="3.3" fill="#c8edc2" opacity="0.7"/>
<circle cx="833.8" cy="215.8" r="3.8" fill="#9fd797" opacity="0.7"/>
<circle cx="851.8" cy="184.0" r="5.0" fill="#8cd2d9" opacity="0.7"/>
<circle cx="821.7" cy="64.0" r="4.6" fill="#8cd2d9" opacity="0.7"/>
<circle cx="820.7" cy="172.1" r="5.8" fill="#bfeaee" opacity="0.7"/>
<circle cx="815.9" cy="28.7" r="5.9" fill="#8cd2d9" opacity="0.7"/>
<circle cx="825.7" cy="58.6" r="5.4" fill="#bfeaee" opacity="0.7"/>
<circle cx="801.2" cy="68.0" r="5.9" fill="#8cd2d9" opacity="0.7"/>
<circle cx="831.3" cy="25.8" r="3.1" fill="#8cd2d9" opacity="0.7"/>
<circle cx="925.0" cy="177.9" r="5.1" fill="#bfeaee" opacity="0.7"/>
<circle cx="873.2" cy="191.3" r="4.7" fill="#8cd2d9" opacity="0.7"/>
<circle cx="806.6" cy="20.3" r="4.3" fill="#8cd2d9" opacity="0.7"/>
<circle cx="872.2" cy="140.6" r="4.3" fill="#bfeaee" opacity="0.7"/>
<circle cx="843.4" cy="156.7" r="4.1" fill="#8cd2d9" opacity="0.7"/>
<circle cx="841.4" cy="178.4" r="3.8" fill="#8cd2d9" opacity="0.7"/>
<circle cx="786.5" cy="33.8" r="2.8" fill="#bfeaee" opacity="0.7"/>
<circle cx="857.5" cy="191.3" r="5.8" fill="#bfeaee" opacity="0.7"/>
<circle cx="870.4" cy="210.1" r="5.6" fill="#8cd2d9" opacity="0.7"/>
<circle cx="829.8" cy="36.7" r="2.9" fill="#bfeaee" opacity="0.7"/>
<circle cx="810.3" cy="18.8" r="3.9" fill="#8cd2d9" opacity="0.7"/>
<circle cx="794.6" cy="83.2" r="5.5" fill="#bfeaee" opacity="0.7"/>
<circle cx="778.9" cy="38.3" r="3.5" fill="#bfeaee" opacity="0.7"/>
<circle cx="814.6" cy="55.4" r="4.8" fill="#bfeaee" opacity="0.7"/>
<circle cx="815.4" cy="103.5" r="4.4" fill="#8cd2d9" opacity="0.7"/>
<circle cx="790.5" cy="74.5" r="4.6" fill="#bfeaee" opacity="0.7"/>
<circle cx="865.3" cy="156.6" r="5.1" fill="#8cd2d9" opacity="0.7"/>
<circle cx="837.7" cy="32.8" r="3.2" fill="#bfeaee" opacity="0.7"/>
<circle cx="865.0" cy="204.1" r="3.3" fill="#bfeaee" opacity="0.7"/>
<circle cx="797.7" cy="92.0" r="5.2" fill="#bfeaee" opacity="0.7"/>
<circle cx="884.8" cy="181.9" r="5.3" fill="#8cd2d9" opacity="0.7"/>
<circle cx="767.2" cy="83.2" r="3.1" fill="#8cd2d9" opacity="0.7"/>
<circle cx="826.1" cy="19.4" r="5.9" fill="#bfeaee" opacity="0.7"/>
<circle cx="807.6" cy="86.9" r="5.1" fill="#bfeaee" opacity="0.7"/>
<circle cx="890.0" cy="162.9" r="3.5" fill="#8cd2d9" opacity="0.7"/>
<circle cx="799.5" cy="46.6" r="5.7" fill="#8cd2d9" opacity="0.7"/>
<circle cx="837.6" cy="28.3" r="4.0" fill="#8cd2d9" opacity="0.7"/>
<circle cx="823.1" cy="44.1" r="2.8" fill="#8cd2d9" opacity="0.7"/>
<circle cx="803.2" cy="21.5" r="3.4" fill="#bfeaee" opacity="0.7"/>
<circle cx="868.5" cy="142.2" r="4.6" fill="#8cd2d9" opacity="0.7"/>
<circle cx="904.3" cy="201.8" r="3.8" fill="#8cd2d9" opacity="0.7"/>
<circle cx="783.6" cy="112.4" r="3.5" fill="#8cd2d9" opacity="0.7"/>
<circle cx="892.0" cy="170.2" r="2.8" fill="#bfeaee" opacity="0.7"/>
<circle cx="793.8" cy="110.1" r="4.1" fill="#8cd2d9" opacity="0.7"/>
<circle cx="731.5" cy="55.3" r="4.0" fill="#bfeaee" opacity="0.7"/>
<circle cx="797.4" cy="61.3" r="3.5" fill="#8cd2d9" opacity="0.7"/>
<circle cx="786.4" cy="39.5" r="3.9" fill="#bfeaee" opacity="0.7"/>
<circle cx="804.9" cy="114.0" r="4.5" fill="#8cd2d9" opacity="0.7"/>
<circle cx="808.5" cy="65.9" r="4.8" fill="#8cd2d9" opacity="0.7"/>
<circle cx="815.8" cy="119.3" r="4.6" fill="#bfeaee" opacity="0.7"/>
<circle cx="799.9" cy="22.5" r="3.5" fill="#bfeaee" opacity="0.7"/>
<circle cx="853.2" cy="155.1" r="4.8" fill="#8cd2d9" opacity="0.7"/>
<circle cx="801.1" cy="117.3" r="4.5" fill="#8cd2d9" opacity="0.7"/>
<circle cx="830.0" cy="47.1" r="2.9" fill="#bfeaee" opacity="0.7"/>
<circle cx="809.2" cy="144.3" r="3.4" fill="#bfeaee" opacity="0.7"/>
<circle cx="853.5" cy="193.7" r="5.7" fill="#8cd2d9" opacity="0.7"/>
<circle cx="853.9" cy="131.6" r="5.7" fill="#bfeaee" opacity="0.7"/>
<circle cx="857.7" cy="141.0" r="3.3" fill="#8cd2d9" opacity="0.7"/>
<circle cx="878.2" cy="162.4" r="4.6" fill="#8cd2d9" opacity="0.7"/>
<circle cx="865.8" cy="197.1" r="5.0" fill="#8cd2d9" opacity="0.7"/>
<circle cx="784.2" cy="99.5" r="3.6" fill="#bfeaee" opacity="0.7"/>
<circle cx="758.5" cy="61.6" r="3.4" fill="#8cd2d9" opacity="0.7"/>
<circle cx="824.2" cy="48.3" r="6.0" fill="#bfeaee" opacity="0.7"/>
<circle cx="819.9" cy="122.1" r="3.9" fill="#8cd2d9" opacity="0.7"/>
<circle cx="756.3" cy="71.9" r="4.2" fill="#8cd2d9" opacity="0.7"/>
<circle cx="845.5" cy="151.1" r="4.0" fill="#bfeaee" opacity="0.7"/>
<circle cx="748.2" cy="70.2" r="3.8" fill="#bfeaee" opacity="0.7"/>
<circle cx="830.6" cy="160.4" r="2.8" fill="#8cd2d9" opacity="0.7"/>
<circle cx="842.8" cy="52.8" r="3.7" fill="#bfeaee" opacity="0.7"/>
<circle cx="788.4" cy="85.8" r="6.0" fill="#bfeaee" opacity="0.7"/>
<circle cx="896.6" cy="198.0" r="4.3" fill="#8cd2d9" opacity="0.7"/>
<circle cx="825.2" cy="32.6" r="4.0" fill="#bfeaee" opacity="0.7"/>
<circle cx="866.4" cy="154.9" r="3.6" fill="#bfeaee" opacity="0.7"/>
<circle cx="1042.5" cy="225.3" r="2.9" fill="#e48588" opacity="0.7"/>
<circle cx="942.9" cy="233.5" r="2.8" fill="#f6b9ba" opacity="0.7"/>
<circle cx="981.6" cy="203.1" r="4.4" fill="#f6b9ba" opacity="0.7"/>
<circle cx="1007.8" cy="192.6" r="3.2" fill="#e48588" opacity="0.7"/>
<circle cx="1041.7" cy="225.3" r="4.1" fill="#f6b9ba" opacity="0.7"/>
<circle cx="959.9" cy="225.8" r="5.2" fill="#e48588" opacity="0.7"/>
<circle cx="1012.4" cy="255.4" r="2.9" fill="#e48588" opacity="0.7"/>
<circle cx="939.9" cy="223.0" r="4.7" fill="#e48588" opacity="0.7"/>
<circle cx="1025.2" cy="227.1" r="3.5" fill="#f6b9ba" opacity="0.7"/>
<circle cx="1004.4" cy="251.8" r="4.4" fill="#e48588" opacity="0.7"/>
<circle cx="998.4" cy="227.0" r="5.4" fill="#f6b9ba" opacity="0.7"/>
<circle cx="963.7" cy="231.9" r="3.5" fill="#f6b9ba" opacity="0.7"/>
<circle cx="1007.6" cy="258.6" r="5.0" fill="#e48588" opacity="0.7"/>
<circle cx="987.6" cy="190.2" r="5.9" fill="#f6b9ba" opacity="0.7"/>
<circle cx="1008.4" cy="220.1" r="5.4" fill="#f6b9ba" opacity="0.7"/>
<circle cx="969.9" cy="255.7" r="4.3" fill="#e48588" opacity="0.7"/>
<circle cx="948.3" cy="228.5" r="2.5" fill="#f6b9ba" opacity="0.7"/>
<circle cx="1021.6" cy="267.8" r="2.7" fill="#e48588" opacity="0.7"/>
<circle cx="1031.3" cy="199.2" r="5.4" fill="#e48588" opacity="0.7"/>
<circle cx="975.3" cy="245.8" r="3.3" fill="#f6b9ba" opacity="0.7"/>
<circle cx="1039.4" cy="195.4" r="3.3" fill="#e48588" opacity="0.7"/>
<circle cx="1018.2" cy="229.6" r="4.0" fill="#f6b9ba" opacity="0.7"/>
<circle cx="996.0" cy="235.0" r="5.3" fill="#e48588" opacity="0.7"/>
<circle cx="1036.0" cy="232.7" r="2.5" fill="#f6b9ba" opacity="0.7"/>
<circle cx="1020.9" cy="184.1" r="4.1" fill="#f6b9ba" opacity="0.7"/>
<circle cx="1036.8" cy="225.7" r="3.5" fill="#e48588" opacity="0.7"/>
<circle cx="1021.1" cy="243.3" r="5.4" fill="#e48588" opacity="0.7"/>
<circle cx="941.2" cy="214.2" r="2.8" fill="#e48588" opacity="0.7"/>
<circle cx="1033.6" cy="216.7" r="5.2" fill="#e48588" opacity="0.7"/>
<circle cx="1036.3" cy="250.8" r="3.3" fill="#f6b9ba" opacity="0.7"/>
<circle cx="1037.0" cy="188.8" r="5.9" fill="#f6b9ba" opacity="0.7"/>
<circle cx="983.8" cy="259.8" r="4.9" fill="#f6b9ba" opacity="0.7"/>
<circle cx="1020.5" cy="271.6" r="5.7" fill="#f6b9ba" opacity="0.7"/>
<circle cx="1027.9" cy="275.0" r="4.5" fill="#f6b9ba" opacity="0.7"/>
<circle cx="1016.9" cy="195.1" r="4.5" fill="#e48588" opacity="0.7"/>
<circle cx="952.2" cy="233.0" r="5.4" fill="#f6b9ba" opacity="0.7"/>
<circle cx="1005.0" cy="253.1" r="4.0" fill="#e48588" opacity="0.7"/>
<circle cx="1004.3" cy="192.7" r="4.4" fill="#f6b9ba" opacity="0.7"/>
<circle cx="1042.7" cy="257.0" r="5.0" fill="#f6b9ba" opacity="0.7"/>
<circle cx="1043.9" cy="267.4" r="3.6" fill="#e48588" opacity="0.7"/>
<circle cx="987.6" cy="214.0" r="6.0" fill="#f6b9ba" opacity="0.7"/>
<circle cx="1019.8" cy="226.6" r="5.3" fill="#f6b9ba" opacity="0.7"/>
<circle cx="1035.3" cy="209.6" r="5.9" fill="#f6b9ba" opacity="0.7"/>
<circle cx="949.6" cy="220.7" r="4.0" fill="#e48588" opacity="0.7"/>
<circle cx="1027.0" cy="180.0" r="4.4" fill="#e48588" opacity="0.7"/>
<circle cx="971.1" cy="260.0" r="2.6" fill="#e48588" opacity="0.7"/>
<circle cx="1040.2" cy="273.9" r="5.2" fill="#e48588" opacity="0.7"/>
<circle cx="934.0" cy="230.7" r="4.1" fill="#f6b9ba" opacity="0.7"/>
<circle cx="965.6" cy="220.5" r="4.7" fill="#e48588" opacity="0.7"/>
<circle cx="1034.7" cy="267.1" r="4.6" fill="#e48588" opacity="0.7"/>
<circle cx="940.7" cy="211.5" r="5.8" fill="#e48588" opacity="0.7"/>
<circle cx="1044.8" cy="252.1" r="5.8" fill="#e48588" opacity="0.7"/>
<circle cx="1035.7" cy="207.3" r="4.1" fill="#f6b9ba" opacity="0.7"/>
<circle cx="990.3" cy="273.0" r="3.9" fill="#e48588" opacity="0.7"/>
<circle cx="1002.8" cy="218.3" r="4.0" fill="#e48588" opacity="0.7"/>
<circle cx="997.2" cy="239.4" r="4.9" fill="#e48588" opacity="0.7"/>
<circle cx="1004.2" cy="204.5" r="4.8" fill="#e48588" opacity="0.7"/>
<circle cx="981.1" cy="205.9" r="4.9" fill="#f6b9ba" opacity="0.7"/>
<circle cx="1030.0" cy="242.8" r="5.5" fill="#e48588" opacity="0.7"/>
<circle cx="1030.9" cy="182.0" r="4.0" fill="#f6b9ba" opacity="0.7"/>
<circle cx="973.5" cy="261.7" r="5.8" fill="#e48588" opacity="0.7"/>
<circle cx="975.9" cy="270.1" r="6.0" fill="#e48588" opacity="0.7"/>
<circle cx="994.1" cy="212.8" r="3.1" fill="#f6b9ba" opacity="0.7"/>
<circle cx="952.4" cy="218.4" r="4.9" fill="#e48588" opacity="0.7"/>
<circle cx="1037.1" cy="261.1" r="3.6" fill="#f6b9ba" opacity="0.7"/>
<circle cx="969.5" cy="211.7" r="5.5" fill="#e48588" opacity="0.7"/>
<circle cx="934.6" cy="229.1" r="3.5" fill="#e48588" opacity="0.7"/>
<circle cx="955.6" cy="224.1" r="2.6" fill="#e48588" opacity="0.7"/>
<circle cx="1020.1" cy="184.3" r="4.9" fill="#e48588" opacity="0.7"/>
<circle cx="1017.8" cy="277.3" r="5.4" fill="#f6b9ba" opacity="0.7"/>
</g>
<g filter="url(#sb2)">
<line x1="853.6" y1="227.9" x2="848.2" y2="272.9" stroke="#23862f" stroke-width="15.1" stroke-linecap="round" opacity="0.92"/>
<line x1="853.6" y1="227.9" x2="848.2" y2="272.9" stroke="#2fa83f" stroke-width="13.7" stroke-linecap="round" opacity="0.92"/>
<line x1="851.2" y1="227.6" x2="845.7" y2="272.6" stroke="#52c75a" stroke-width="4.1" stroke-linecap="round" opacity="0.6"/>
<line x1="883.6" y1="231.8" x2="924.5" y2="216.7" stroke="#23862f" stroke-width="15.4" stroke-linecap="round" opacity="0.92"/>
<line x1="883.6" y1="231.8" x2="924.5" y2="216.7" stroke="#2fa83f" stroke-width="14.0" stroke-linecap="round" opacity="0.92"/>
<line x1="884.5" y1="234.1" x2="925.4" y2="219.0" stroke="#52c75a" stroke-width="4.2" stroke-linecap="round" opacity="0.6"/>
<line x1="875.5" y1="244.0" x2="864.6" y2="286.5" stroke="#23862f" stroke-width="15.1" stroke-linecap="round" opacity="0.92"/>
<line x1="875.5" y1="244.0" x2="864.6" y2="286.5" stroke="#2fa83f" stroke-width="13.7" stroke-linecap="round" opacity="0.92"/>
<line x1="873.1" y1="243.4" x2="862.2" y2="285.8" stroke="#52c75a" stroke-width="4.1" stroke-linecap="round" opacity="0.6"/>
<line x1="895.8" y1="234.6" x2="915.1" y2="259.1" stroke="#23862f" stroke-width="14.2" stroke-linecap="round" opacity="0.92"/>
<line x1="895.8" y1="234.6" x2="915.1" y2="259.1" stroke="#2fa83f" stroke-width="12.8" stroke-linecap="round" opacity="0.92"/>
<line x1="894.0" y1="236.1" x2="913.3" y2="260.5" stroke="#52c75a" stroke-width="3.9" stroke-linecap="round" opacity="0.6"/>
<line x1="915.1" y1="259.1" x2="891.9" y2="272.9" stroke="#23862f" stroke-width="14.2" stroke-linecap="round" opacity="0.92"/>
<line x1="915.1" y1="259.1" x2="891.9" y2="272.9" stroke="#2fa83f" stroke-width="12.8" stroke-linecap="round" opacity="0.92"/>
<line x1="913.9" y1="257.1" x2="890.7" y2="270.9" stroke="#52c75a" stroke-width="3.9" stroke-linecap="round" opacity="0.6"/>
<line x1="862.0" y1="282.3" x2="883.6" y2="272.9" stroke="#23862f" stroke-width="14.2" stroke-linecap="round" opacity="0.92"/>
<line x1="862.0" y1="282.3" x2="883.6" y2="272.9" stroke="#2fa83f" stroke-width="12.8" stroke-linecap="round" opacity="0.92"/>
<line x1="862.9" y1="284.4" x2="884.5" y2="275.0" stroke="#52c75a" stroke-width="3.9" stroke-linecap="round" opacity="0.6"/>
<line x1="882.3" y1="281.0" x2="886.5" y2="321.9" stroke="#23862f" stroke-width="15.1" stroke-linecap="round" opacity="0.92"/>
<line x1="882.3" y1="281.0" x2="886.5" y2="321.9" stroke="#2fa83f" stroke-width="13.7" stroke-linecap="round" opacity="0.92"/>
<line x1="879.8" y1="281.2" x2="884.0" y2="322.1" stroke="#52c75a" stroke-width="4.1" stroke-linecap="round" opacity="0.6"/>
<line x1="887.8" y1="294.5" x2="905.5" y2="294.5" stroke="#23862f" stroke-width="13.7" stroke-linecap="round" opacity="0.92"/>
<line x1="887.8" y1="294.5" x2="905.5" y2="294.5" stroke="#2fa83f" stroke-width="12.3" stroke-linecap="round" opacity="0.92"/>
<line x1="887.8" y1="296.7" x2="905.5" y2="296.7" stroke="#52c75a" stroke-width="3.7" stroke-linecap="round" opacity="0.6"/>
<line x1="920.6" y1="324.5" x2="954.7" y2="270.1" stroke="#23862f" stroke-width="15.7" stroke-linecap="round" opacity="0.92"/>
<line x1="920.6" y1="324.5" x2="954.7" y2="270.1" stroke="#2fa83f" stroke-width="14.3" stroke-linecap="round" opacity="0.92"/>
<line x1="922.8" y1="325.8" x2="956.9" y2="271.4" stroke="#52c75a" stroke-width="4.3" stroke-linecap="round" opacity="0.6"/>
<line x1="923.2" y1="302.9" x2="950.5" y2="329.9" stroke="#23862f" stroke-width="15.7" stroke-linecap="round" opacity="0.92"/>
<line x1="923.2" y1="302.9" x2="950.5" y2="329.9" stroke="#2fa83f" stroke-width="14.3" stroke-linecap="round" opacity="0.92"/>
<line x1="921.4" y1="304.7" x2="948.7" y2="331.8" stroke="#52c75a" stroke-width="4.3" stroke-linecap="round" opacity="0.6"/>
<line x1="965.4" y1="310.9" x2="968.2" y2="268.8" stroke="#23862f" stroke-width="14.2" stroke-linecap="round" opacity="0.92"/>
<line x1="965.4" y1="310.9" x2="968.2" y2="268.8" stroke="#2fa83f" stroke-width="12.8" stroke-linecap="round" opacity="0.92"/>
<line x1="967.7" y1="311.1" x2="970.5" y2="268.9" stroke="#52c75a" stroke-width="3.9" stroke-linecap="round" opacity="0.6"/>
<line x1="970.8" y1="265.6" x2="1007.3" y2="229.2" stroke="#4a6e20" stroke-width="13.1" stroke-linecap="round" opacity="1.0"/>
<line x1="970.8" y1="265.6" x2="1007.3" y2="229.2" stroke="#5e8a2a" stroke-width="11.7" stroke-linecap="round" opacity="1.0"/>
<line x1="972.3" y1="267.1" x2="1008.8" y2="230.7" stroke="#74a03a" stroke-width="3.5" stroke-linecap="round" opacity="0.6"/>
<line x1="783.3" y1="48.2" x2="823.7" y2="35.2" stroke="#168a8f" stroke-width="14.5" stroke-linecap="round" opacity="0.92"/>
<line x1="783.3" y1="48.2" x2="823.7" y2="35.2" stroke="#1ea5ab" stroke-width="13.1" stroke-linecap="round" opacity="0.92"/>
<line x1="784.1" y1="50.4" x2="824.4" y2="37.4" stroke="#3cc3c8" stroke-width="3.9" stroke-linecap="round" opacity="0.6"/>
<line x1="766.4" y1="61.2" x2="804.2" y2="88.5" stroke="#168a8f" stroke-width="14.5" stroke-linecap="round" opacity="0.92"/>
<line x1="766.4" y1="61.2" x2="804.2" y2="88.5" stroke="#1ea5ab" stroke-width="13.1" stroke-linecap="round" opacity="0.92"/>
<line x1="765.0" y1="63.1" x2="802.8" y2="90.5" stroke="#3cc3c8" stroke-width="3.9" stroke-linecap="round" opacity="0.6"/>
<line x1="770.3" y1="78.1" x2="799.0" y2="125.0" stroke="#168a8f" stroke-width="13.7" stroke-linecap="round" opacity="0.92"/>
<line x1="770.3" y1="78.1" x2="799.0" y2="125.0" stroke="#1ea5ab" stroke-width="12.3" stroke-linecap="round" opacity="0.92"/>
<line x1="768.4" y1="79.3" x2="797.1" y2="126.1" stroke="#3cc3c8" stroke-width="3.7" stroke-linecap="round" opacity="0.6"/>
<line x1="822.4" y1="125.0" x2="840.6" y2="166.7" stroke="#168a8f" stroke-width="12.5" stroke-linecap="round" opacity="0.92"/>
<line x1="822.4" y1="125.0" x2="840.6" y2="166.7" stroke="#1ea5ab" stroke-width="11.1" stroke-linecap="round" opacity="0.92"/>
<line x1="820.6" y1="125.8" x2="838.8" y2="167.5" stroke="#3cc3c8" stroke-width="3.3" stroke-linecap="round" opacity="0.6"/>
<line x1="853.6" y1="132.8" x2="905.7" y2="187.5" stroke="#168a8f" stroke-width="13.7" stroke-linecap="round" opacity="0.92"/>
<line x1="853.6" y1="132.8" x2="905.7" y2="187.5" stroke="#1ea5ab" stroke-width="12.3" stroke-linecap="round" opacity="0.92"/>
<line x1="852.0" y1="134.3" x2="904.1" y2="189.0" stroke="#3cc3c8" stroke-width="3.7" stroke-linecap="round" opacity="0.6"/>
<line x1="866.7" y1="203.1" x2="882.3" y2="224.0" stroke="#168a8f" stroke-width="13.1" stroke-linecap="round" opacity="0.92"/>
<line x1="866.7" y1="203.1" x2="882.3" y2="224.0" stroke="#1ea5ab" stroke-width="11.7" stroke-linecap="round" opacity="0.92"/>
<line x1="865.0" y1="204.4" x2="880.6" y2="225.2" stroke="#3cc3c8" stroke-width="3.5" stroke-linecap="round" opacity="0.6"/>
<line x1="991.7" y1="231.8" x2="1004.7" y2="276.0" stroke="#b81c20" stroke-width="14.5" stroke-linecap="round" opacity="1.0"/>
<line x1="991.7" y1="231.8" x2="1004.7" y2="276.0" stroke="#e0262b" stroke-width="13.1" stroke-linecap="round" opacity="1.0"/>
<line x1="989.4" y1="232.4" x2="1002.4" y2="276.7" stroke="#ee4a4c" stroke-width="3.9" stroke-linecap="round" opacity="0.6"/>
<line x1="1002.1" y1="205.7" x2="1033.3" y2="257.8" stroke="#b81c20" stroke-width="14.5" stroke-linecap="round" opacity="1.0"/>
<line x1="1002.1" y1="205.7" x2="1033.3" y2="257.8" stroke="#e0262b" stroke-width="13.1" stroke-linecap="round" opacity="1.0"/>
<line x1="1000.1" y1="206.9" x2="1031.3" y2="259.0" stroke="#ee4a4c" stroke-width="3.9" stroke-linecap="round" opacity="0.6"/>
<circle cx="1025.5" cy="190.1" r="5.7" fill="#e0262b"/>
</g>
<path d="M835.4,39.1 L837.2,43.1 L842.7,46.1 L841.7,50.6 L841.5,53.7 L846.8,59.4 L840.8,59.0 L838.7,65.8 L841.0,63.3 L841.0,73.2 L836.5,73.8 L828.8,70.4 L827.3,71.8 L820.7,74.2 L815.3,76.8 L814.1,80.6 L813.7,83.3 L812.5,87.6 L811.1,89.0 L814.0,98.4 L811.9,100.5 L810.6,100.1 L813.0,102.1 L819.1,107.6 L822.3,110.6 L825.7,117.1 L821.9,111.4 L831.6,112.3 L835.3,110.7 L831.8,111.4 L840.1,107.7" fill="none" stroke="#18989d" stroke-width="0.9" stroke-linejoin="round"/>
<path d="M731.2,62.5 L733.4,62.3 L745.1,66.5 L744.1,63.8 L749.2,63.5 L759.5,65.4 L761.9,68.4 L763.4,71.5 L767.1,71.9 L771.2,71.3 L776.0,71.2 L784.7,80.3 L782.9,86.1 L785.4,87.8 L793.2,94.8 L790.8,102.5 L794.8,100.3 L802.0,104.0 L801.6,105.2 L803.3,112.1 L807.5,115.3" fill="none" stroke="#18989d" stroke-width="0.9" stroke-linejoin="round"/>
<path d="M825.0,182.3 L826.1,187.2 L832.5,192.6 L831.8,200.6 L831.0,200.6 L838.4,210.7 L831.0,211.3 L832.0,222.0 L825.4,227.2 L827.8,229.9 L821.8,231.5 L821.6,241.9 L825.7,244.2 L828.4,249.2 L833.5,249.5 L833.1,256.8 L834.4,257.4 L840.0,266.1 L842.5,266.1 L846.8,269.7 L842.3,274.4 L848.6,279.1 L849.7,287.6 L855.7,292.1 L857.3,303.9 L865.0,308.4 L867.0,313.1 L867.2,314.3 L870.4,325.9 L879.6,331.5 L878.8,334.3 L885.3,336.1 L887.2,339.1 L888.6,336.8 L896.5,340.4 L899.6,340.0" fill="none" stroke="#2c9a3a" stroke-width="0.9" stroke-linejoin="round"/>
<path d="M897.9,229.2 L903.2,234.3 L903.1,234.7 L910.2,238.1 L909.8,239.6 L916.2,240.1 L916.5,242.9 L918.3,248.7 L916.7,253.1 L925.5,259.0 L925.6,259.6 L923.6,267.3 L919.4,275.4 L914.7,281.0 L912.2,286.2 L913.4,289.7 L917.1,295.8 L918.5,303.1 L918.0,300.6 L920.4,309.6 L921.8,310.1 L931.1,318.4 L931.9,324.7 L935.2,327.8 L938.4,330.7 L947.0,339.0 L949.6,338.2 L949.6,340.8 L948.4,345.3 L955.6,351.0 L956.7,354.8" fill="none" stroke="#2c9a3a" stroke-width="0.9" stroke-linejoin="round"/>
<path d="M929.2,234.4 L931.7,230.9 L937.1,230.7 L939.6,230.6 L946.8,230.2 L948.7,231.6 L956.6,226.7 L953.1,221.6 L962.1,219.6 L964.0,221.3 L964.2,220.9 L966.3,215.1 L973.6,213.2 L980.5,213.7 L979.7,211.3 L987.4,213.2 L992.6,211.5 L999.1,210.6 L1003.4,202.0 L1007.1,198.7 L1008.9,197.7 L1017.2,197.7 L1017.1,201.0 L1023.3,204.3 L1025.8,208.1 L1027.3,210.5 L1033.2,210.5 L1035.4,220.4 L1031.7,223.6 L1037.4,232.2 L1037.6,234.9 L1040.3,244.9 L1039.7,250.8 L1036.5,257.2 L1036.0,270.0 L1034.4,277.6 L1028.1,276.9 L1030.6,275.4 L1024.2,271.9 L1019.5,270.7 L1020.3,264.5" fill="none" stroke="#d42a2a" stroke-width="0.9" stroke-linejoin="round"/>
<line x1="750.6" y1="136.1" x2="755.3" y2="125.8" stroke="#dfb776" stroke-width="1.3"/>
<line x1="761.8" y1="111.5" x2="757.1" y2="121.8" stroke="#dfb776" stroke-width="1.3"/>
<line x1="759.8" y1="142.6" x2="767.4" y2="125.7" stroke="#dfb776" stroke-width="1.3"/>
<line x1="778.0" y1="102.4" x2="770.4" y2="119.3" stroke="#dfb776" stroke-width="1.3"/>
<line x1="773.0" y1="136.6" x2="780.9" y2="123.4" stroke="#dfb776" stroke-width="1.3"/>
<line x1="791.8" y1="105.2" x2="783.9" y2="118.3" stroke="#dfb776" stroke-width="1.3"/>
<line x1="791.1" y1="127.0" x2="793.2" y2="123.5" stroke="#dfb776" stroke-width="1.3"/>
<line x1="796.1" y1="118.7" x2="794.0" y2="122.2" stroke="#dfb776" stroke-width="1.3"/>
<line x1="807.9" y1="119.7" x2="803.0" y2="127.8" stroke="#dfb776" stroke-width="1.3"/>
<line x1="796.4" y1="138.9" x2="801.2" y2="130.8" stroke="#dfb776" stroke-width="1.3"/>
<line x1="819.3" y1="121.3" x2="810.1" y2="136.7" stroke="#dfb776" stroke-width="1.3"/>
<line x1="797.3" y1="157.9" x2="806.6" y2="142.5" stroke="#dfb776" stroke-width="1.3"/>
<line x1="824.1" y1="133.9" x2="815.4" y2="148.5" stroke="#dfb776" stroke-width="1.3"/>
<line x1="803.3" y1="168.7" x2="812.0" y2="154.1" stroke="#dfb776" stroke-width="1.3"/>
<line x1="825.5" y1="152.5" x2="823.1" y2="159.1" stroke="#dfb776" stroke-width="1.3"/>
<line x1="819.8" y1="168.2" x2="822.2" y2="161.6" stroke="#dfb776" stroke-width="1.3"/>
<line x1="830.0" y1="171.7" x2="832.3" y2="165.3" stroke="#dfb776" stroke-width="1.3"/>
<line x1="835.6" y1="156.5" x2="833.2" y2="162.9" stroke="#dfb776" stroke-width="1.3"/>
<line x1="837.7" y1="182.0" x2="843.5" y2="166.1" stroke="#dfb776" stroke-width="1.3"/>
<line x1="851.6" y1="144.2" x2="845.7" y2="160.1" stroke="#dfb776" stroke-width="1.3"/>
<line x1="852.1" y1="180.6" x2="856.2" y2="163.1" stroke="#dfb776" stroke-width="1.3"/>
<line x1="861.8" y1="139.1" x2="857.7" y2="156.5" stroke="#dfb776" stroke-width="1.3"/>
<line x1="866.3" y1="167.3" x2="868.4" y2="158.4" stroke="#dfb776" stroke-width="1.3"/>
<line x1="871.2" y1="146.1" x2="869.1" y2="155.0" stroke="#dfb776" stroke-width="1.3"/>
<line x1="880.7" y1="153.0" x2="879.7" y2="157.4" stroke="#dfb776" stroke-width="1.3"/>
<line x1="878.3" y1="163.5" x2="879.3" y2="159.1" stroke="#dfb776" stroke-width="1.3"/>
<line x1="893.3" y1="146.5" x2="889.7" y2="161.9" stroke="#dfb776" stroke-width="1.3"/>
<line x1="884.8" y1="183.1" x2="888.3" y2="167.8" stroke="#dfb776" stroke-width="1.3"/>
<line x1="897.6" y1="151.5" x2="898.3" y2="170.0" stroke="#dfb776" stroke-width="1.3"/>
<line x1="899.1" y1="195.5" x2="898.5" y2="177.0" stroke="#dfb776" stroke-width="1.3"/>
<line x1="908.6" y1="165.6" x2="909.0" y2="177.1" stroke="#dfb776" stroke-width="1.3"/>
<line x1="909.6" y1="193.0" x2="909.2" y2="181.5" stroke="#dfb776" stroke-width="1.3"/>
<line x1="930.6" y1="193.8" x2="930.2" y2="180.2" stroke="#dfb776" stroke-width="1.3"/>
<line x1="929.6" y1="161.5" x2="930.0" y2="175.0" stroke="#dfb776" stroke-width="1.3"/>
<line x1="943.4" y1="192.2" x2="940.9" y2="173.6" stroke="#dfb776" stroke-width="1.3"/>
<line x1="937.5" y1="147.9" x2="939.9" y2="166.5" stroke="#dfb776" stroke-width="1.3"/>
<line x1="952.3" y1="178.6" x2="950.4" y2="164.5" stroke="#dfb776" stroke-width="1.3"/>
<line x1="947.8" y1="145.1" x2="949.7" y2="159.2" stroke="#dfb776" stroke-width="1.3"/>
<line x1="969.1" y1="144.5" x2="970.6" y2="155.5" stroke="#dfb776" stroke-width="1.3"/>
<line x1="972.6" y1="170.5" x2="971.1" y2="159.6" stroke="#dfb776" stroke-width="1.3"/>
<line x1="975.6" y1="139.9" x2="980.8" y2="157.5" stroke="#dfb776" stroke-width="1.3"/>
<line x1="987.9" y1="182.0" x2="982.7" y2="164.3" stroke="#dfb776" stroke-width="1.3"/>
<line x1="988.8" y1="146.6" x2="993.3" y2="161.9" stroke="#dfb776" stroke-width="1.3"/>
<line x1="999.5" y1="183.0" x2="995.0" y2="167.7" stroke="#dfb776" stroke-width="1.3"/>
<line x1="1004.1" y1="160.4" x2="1005.4" y2="165.1" stroke="#dfb776" stroke-width="1.3"/>
<line x1="1007.3" y1="171.5" x2="1005.9" y2="166.8" stroke="#dfb776" stroke-width="1.3"/>
<line x1="1018.7" y1="172.2" x2="1016.2" y2="163.7" stroke="#dfb776" stroke-width="1.3"/>
<line x1="1012.8" y1="152.0" x2="1015.3" y2="160.5" stroke="#dfb776" stroke-width="1.3"/>
<path d="M746.5,118.6 L746.9,121.5 L747.3,124.4 L747.8,127.1 L748.4,129.6 L749.0,132.0 L749.8,134.1 L750.6,136.1 L751.6,137.8 L752.6,139.3 L753.8,140.5 L755.1,141.4 L756.5,142.1 L758.1,142.5 L759.8,142.6 L761.5,142.5 L763.4,142.1 L765.4,141.5 L767.5,140.7 L769.7,139.6 L770.5,137.6 L773.0,136.6 L775.4,135.4 L778.0,134.1 L780.6,132.7 L783.2,131.3 L785.8,129.9 L788.5,128.4 L791.1,127.0 L793.7,125.6 L796.2,124.3 L798.7,123.1 L801.1,122.0 L803.5,121.1 L805.7,120.3 L807.9,119.7 L809.9,119.3 L811.8,119.0 L813.6,119.0 L815.2,119.3 L816.7,119.7 L818.1,120.4 L819.3,121.3 L820.4,122.5 L821.3,123.9 L822.1,125.5 L822.8,127.3 L823.3,129.3 L823.8,131.5 L824.1,133.9 L822.0,135.3 L822.7,138.0 L823.3,140.7 L823.9,143.6 L824.4,146.5 L825.0,149.5 L825.5,152.5 L826.1,155.5 L826.6,158.5 L827.2,161.4 L827.8,164.2 L828.5,166.8 L829.2,169.4 L830.0,171.7 L830.8,173.9 L831.8,175.8 L832.8,177.6 L833.9,179.1 L835.0,180.3 L836.3,181.3 L837.7,182.0 L839.2,182.5 L840.7,182.7 L842.4,182.6 L844.2,182.3 L846.0,181.7 L847.9,180.9 L852.1,180.6 L854.0,179.1 L856.0,177.5 L858.0,175.7 L860.0,173.7 L862.1,171.7 L864.2,169.5 L866.3,167.3 L868.4,165.1 L870.5,162.9 L872.6,160.7 L874.6,158.6 L876.7,156.6 L878.7,154.7 L880.7,153.0 L882.7,151.4 L884.6,150.0 L886.4,148.8 L888.2,147.9 L890.0,147.2 L891.7,146.7 L893.3,146.5 L894.9,146.6 L896.4,147.0 L897.8,147.7 L899.2,148.6 L894.6,149.2 L896.1,150.2 L897.6,151.5 L899.2,153.0 L900.8,154.7 L902.3,156.6 L903.9,158.7 L905.5,160.9 L907.1,163.2 L908.6,165.6 L910.2,168.1 L911.8,170.6 L913.4,173.1 L915.0,175.6 L916.6,178.1 L918.2,180.4 L919.7,182.7 L921.3,184.8 L922.9,186.8 L924.4,188.7 L926.0,190.3 L927.6,191.7 L929.1,192.9 L930.6,193.8 L932.2,194.5 L933.7,194.9 L937.6,194.8 L939.1,194.6 L940.6,194.0 L942.0,193.2 L943.4,192.2 L944.7,190.9 L946.0,189.3 L947.3,187.5 L948.6,185.5 L949.8,183.4 L951.1,181.0 L952.3,178.6 L953.4,176.0 L954.6,173.3 L955.8,170.6 L956.9,167.8 L958.1,165.0 L959.3,162.3 L960.4,159.6 L961.6,157.0 L962.8,154.5 L964.0,152.2 L965.3,150.0 L966.5,147.9 L967.8,146.1 L969.1,144.5 L967.1,143.9 L968.3,142.5 L969.6,141.5 L971.0,140.7 L972.4,140.1 L974.0,139.9 L975.6,139.9 L977.2,140.1 L979.0,140.6 L980.8,141.4 L982.7,142.4 L984.7,143.6 L986.7,145.0 L988.8,146.6 L990.9,148.3 L993.0,150.2 L995.2,152.2 L997.4,154.2 L999.6,156.3 L1001.8,158.4 L1004.1,160.4 L1006.3,162.5 L1008.4,164.4 L1010.6,166.3 L1012.7,168.0 L1014.8,169.6 L1016.8,171.0 L1018.7,172.2 L1020.6,173.2 L1022.5,174.0" fill="none" stroke="#d4a257" stroke-width="2.2" stroke-linejoin="round"/>
<path d="M744.3,123.5 L746.7,122.0 L749.1,120.3 L751.6,118.6 L754.2,116.9 L756.7,115.1 L759.3,113.3 L761.8,111.5 L764.3,109.8 L766.8,108.2 L769.2,106.7 L771.5,105.3 L773.8,104.2 L776.0,103.2 L778.0,102.4 L780.0,101.8 L781.9,101.5 L783.7,101.4 L785.3,101.6 L786.8,102.1 L790.7,104.1 L791.8,105.2 L792.8,106.5 L793.6,108.0 L794.3,109.8 L794.9,111.7 L795.4,113.9 L795.8,116.2 L796.1,118.7 L796.2,121.4 L796.4,124.1 L796.4,127.0 L796.4,129.9 L796.4,132.9 L796.4,135.9 L796.4,138.9 L796.3,141.9 L796.3,144.8 L796.4,147.7 L796.5,150.4 L796.7,153.1 L797.0,155.6 L797.3,157.9 L797.8,160.1 L798.4,162.1 L799.1,163.8 L799.9,165.4 L800.9,166.7 L802.0,167.8 L803.3,168.7 L808.8,171.3 L810.4,171.4 L812.1,171.2 L813.9,170.8 L815.8,170.1 L817.8,169.2 L819.8,168.2 L821.9,166.9 L824.1,165.4 L826.3,163.8 L828.6,162.1 L830.9,160.3 L833.2,158.4 L835.6,156.5 L837.9,154.5 L840.3,152.6 L842.6,150.7 L844.9,148.9 L847.2,147.2 L849.4,145.6 L851.6,144.2 L853.7,142.9 L855.7,141.8 L857.7,141.0 L859.6,140.3 L861.3,139.9 L863.0,139.8 L861.8,139.1 L863.3,139.3 L864.8,139.7 L866.2,140.5 L867.5,141.5 L868.8,142.8 L870.1,144.3 L871.2,146.1 L872.4,148.1 L873.4,150.3 L874.5,152.6 L875.4,155.2 L876.4,157.8 L877.3,160.6 L878.3,163.5 L879.2,166.4 L880.1,169.3 L881.0,172.2 L881.9,175.1 L882.8,177.9 L883.8,180.6 L884.8,183.1 L885.8,185.6 L886.8,187.8 L887.9,189.9 L889.1,191.7 L896.0,193.9 L897.6,194.8 L899.1,195.5 L900.6,196.0 L902.1,196.1 L903.6,196.1 L905.1,195.7 L906.6,195.1 L908.1,194.2 L909.6,193.0 L911.0,191.7 L912.5,190.1 L913.9,188.3 L915.3,186.3 L916.8,184.1 L918.2,181.8 L919.6,179.4 L921.0,176.9 L922.5,174.3 L923.9,171.7 L925.3,169.1 L926.7,166.5 L928.1,163.9 L929.6,161.5 L931.0,159.1 L932.4,156.8 L932.3,154.9 L933.5,152.8 L934.8,150.9 L936.1,149.3 L937.5,147.9 L938.8,146.7 L940.2,145.7 L941.7,145.1 L943.2,144.7 L944.7,144.6 L946.2,144.7 L947.8,145.1 L949.4,145.8 L951.1,146.7 L952.8,147.9 L954.5,149.3 L956.2,150.9 L958.0,152.7 L959.8,154.6 L961.6,156.7 L963.4,158.9 L965.2,161.1 L967.1,163.5 L968.9,165.8 L970.8,168.2 L972.6,170.5 L975.6,172.6 L977.7,174.5 L979.9,176.3 L982.0,178.0 L984.0,179.5 L986.0,180.8 L987.9,182.0 L989.8,182.9 L991.6,183.5 L993.3,184.0 L995.0,184.1 L996.6,184.0 L998.1,183.7 L999.5,183.0 L1000.8,182.1 L1002.1,180.9 L1003.2,179.5 L1004.4,177.8 L1005.4,175.9 L1006.4,173.8 L1007.3,171.5 L1008.2,169.0 L1009.0,166.4 L1009.8,163.7 L1010.6,160.8 L1011.3,157.9 L1012.1,155.0 L1012.8,152.0 L1013.5,149.1 L1014.3,146.2" fill="none" stroke="#d4a257" stroke-width="2.2" stroke-linejoin="round"/>
<line x1="1013.7" y1="167.4" x2="1010.5" y2="160.5" stroke="#aaaaaa" stroke-width="1.3"/>
<line x1="1006.1" y1="151.1" x2="1009.3" y2="157.9" stroke="#aaaaaa" stroke-width="1.3"/>
<line x1="1024.4" y1="164.9" x2="1018.7" y2="152.7" stroke="#aaaaaa" stroke-width="1.3"/>
<line x1="1010.7" y1="135.8" x2="1016.5" y2="148.0" stroke="#aaaaaa" stroke-width="1.3"/>
<line x1="1030.6" y1="152.9" x2="1025.8" y2="142.7" stroke="#aaaaaa" stroke-width="1.3"/>
<line x1="1019.1" y1="128.5" x2="1024.0" y2="138.8" stroke="#aaaaaa" stroke-width="1.3"/>
<line x1="1039.3" y1="121.2" x2="1042.8" y2="128.7" stroke="#aaaaaa" stroke-width="1.3"/>
<line x1="1047.7" y1="139.0" x2="1044.2" y2="131.5" stroke="#aaaaaa" stroke-width="1.3"/>
<line x1="1050.2" y1="115.0" x2="1054.7" y2="127.9" stroke="#aaaaaa" stroke-width="1.3"/>
<line x1="1061.0" y1="145.8" x2="1056.5" y2="132.9" stroke="#aaaaaa" stroke-width="1.3"/>
<line x1="1063.3" y1="120.0" x2="1066.9" y2="130.1" stroke="#aaaaaa" stroke-width="1.3"/>
<line x1="1071.8" y1="144.2" x2="1068.2" y2="134.0" stroke="#aaaaaa" stroke-width="1.3"/>
<line x1="1091.7" y1="136.0" x2="1088.7" y2="127.5" stroke="#aaaaaa" stroke-width="1.3"/>
<line x1="1084.6" y1="115.9" x2="1087.6" y2="124.3" stroke="#aaaaaa" stroke-width="1.3"/>
<line x1="1102.0" y1="133.0" x2="1097.4" y2="120.0" stroke="#aaaaaa" stroke-width="1.3"/>
<line x1="1091.1" y1="102.1" x2="1095.7" y2="115.1" stroke="#aaaaaa" stroke-width="1.3"/>
<path d="M1013.7,167.4 L1015.6,167.6 L1017.3,167.7 L1018.9,167.6 L1020.4,167.2 L1021.9,166.7 L1023.2,165.9 L1024.4,164.9 L1025.6,163.8 L1026.6,162.4 L1027.6,160.8 L1028.4,159.1 L1029.2,157.2 L1029.9,155.1 L1030.6,152.9 L1031.2,150.6 L1031.8,148.2 L1032.3,145.8 L1032.8,143.3 L1033.3,140.8 L1033.8,138.3 L1034.4,135.8 L1034.9,133.4 L1035.5,131.0 L1036.1,128.8 L1036.8,126.7 L1037.6,124.7 L1038.4,122.9 L1039.3,121.2 L1040.3,119.7 L1041.4,118.5 L1042.6,117.4 L1045.6,115.8 L1047.1,115.3 L1048.6,115.1 L1050.2,115.0 L1051.9,115.2 L1053.6,115.5 L1055.5,116.1 L1057.3,116.8 L1059.3,117.7 L1061.3,118.8 L1063.3,120.0 L1065.4,121.2 L1067.5,122.6 L1069.6,124.0 L1071.7,125.4 L1073.8,126.9 L1076.0,128.3 L1078.1,129.6 L1080.1,130.9 L1082.2,132.1 L1084.2,133.2 L1086.1,134.2 L1088.0,135.0 L1089.9,135.6 L1091.7,136.0 L1093.4,136.2 L1095.0,136.3 L1096.5,136.0 L1098.0,135.6 L1099.4,135.0 L1100.7,134.1 L1102.0,133.0 L1103.1,131.7 L1104.2,130.2 L1105.3,128.5 L1106.3,126.7" fill="none" stroke="#999999" stroke-width="1.9" stroke-linejoin="round"/>
<path d="M1006.1,151.1 L1006.6,148.6 L1007.2,146.2 L1007.8,143.9 L1008.4,141.6 L1009.1,139.5 L1009.9,137.6 L1010.7,135.8 L1011.6,134.1 L1012.6,132.7 L1013.7,131.4 L1014.9,130.4 L1016.2,129.6 L1017.6,128.9 L1019.1,128.5 L1020.7,128.3 L1022.4,128.3 L1024.2,128.5 L1026.1,128.9 L1028.0,129.5 L1030.0,130.2 L1032.1,131.0 L1034.3,132.0 L1036.5,133.0 L1038.7,134.2 L1040.9,135.4 L1043.2,136.6 L1045.4,137.8 L1047.7,139.0 L1049.9,140.1 L1052.1,141.2 L1054.3,142.1 L1055.3,143.5 L1057.2,144.4 L1059.1,145.2 L1061.0,145.8 L1062.7,146.2 L1064.4,146.4 L1066.1,146.4 L1067.6,146.2 L1069.1,145.7 L1070.5,145.1 L1071.8,144.2 L1073.0,143.1 L1074.2,141.8 L1075.3,140.3 L1076.3,138.6 L1077.3,136.7 L1078.2,134.7 L1079.1,132.6 L1079.9,130.3 L1080.7,128.0 L1081.5,125.6 L1082.3,123.2 L1083.1,120.7 L1083.8,118.3 L1084.6,115.9 L1085.4,113.5 L1086.2,111.3 L1087.1,109.1 L1088.0,107.1 L1089.0,105.3 L1090.0,103.6 L1091.1,102.1 L1092.3,100.7 L1093.5,99.7 L1094.9,98.8 L1096.3,98.1" fill="none" stroke="#999999" stroke-width="1.9" stroke-linejoin="round"/>
<text x="838.0" y="96.0" font-size="28" fill="#2a72b8" textLength="262.0" lengthAdjust="spacingAndGlyphs">HSS domain (Isw1)</text>
<text x="783.8" y="334.8" font-size="28" fill="#2fb14a" textLength="55.8" lengthAdjust="spacingAndGlyphs">loc3</text>
<text x="993.0" y="330.0" font-size="28" fill="#e0262e" textLength="161.0" lengthAdjust="spacingAndGlyphs">cHLB (loc3)</text>
<defs><filter id="gb1" x="-20%" y="-50%" width="140%" height="200%"><feGaussianBlur stdDeviation="1.3"/></filter><filter id="gb2" x="-20%" y="-50%" width="140%" height="200%"><feGaussianBlur stdDeviation="0.8"/></filter></defs>
<rect x="1298.8" y="103" width="55.8" height="193.9" fill="#c6c6c6"/>
<g filter="url(#gb1)">
<rect x="1302.5" y="150.8" width="51.5" height="15.5" rx="7.8" fill="#000" opacity="1"/>
<rect x="1304.5" y="191.7" width="47.0" height="11.0" rx="5.5" fill="#050505" opacity="1"/>
<rect x="1307" y="208.1" width="43.0" height="5.0" rx="2.5" fill="#a4a4a4" opacity="1"/>
<rect x="1307" y="216.2" width="43.0" height="6.0" rx="3.0" fill="#979797" opacity="1"/>
<rect x="1306" y="124.5" width="45.0" height="3.0" rx="1.5" fill="#b8b8b8" opacity="1"/>
<rect x="1307" y="238.8" width="43.0" height="3.0" rx="1.5" fill="#b2b2b2" opacity="1"/>
<rect x="1305" y="257.8" width="45.0" height="3.5" rx="1.8" fill="#adadad" opacity="1"/>
<rect x="1306" y="286.2" width="46.0" height="2.5" rx="1.2" fill="#b6b6b6" opacity="1"/>
</g>
<rect x="1462.8" y="110.1" width="58.2" height="187" fill="#e2e2e2"/>
<rect x="1462.8" y="110.1" width="10" height="187" fill="#eeeeee"/>
<g filter="url(#gb2)">
<rect x="1474" y="114.5" width="41.0" height="3.0" rx="1.5" fill="#d2d2d2" opacity="1"/>
<rect x="1474" y="118.0" width="41.0" height="2.0" rx="1.0" fill="#d6d6d6" opacity="1"/>
<rect x="1472" y="128.7" width="44.0" height="2.6" rx="1.3" fill="#9c9c9c" opacity="1"/>
<rect x="1472" y="133.0" width="44.0" height="2.0" rx="1.0" fill="#b4b4b4" opacity="1"/>
<rect x="1470" y="139.5" width="46.0" height="3.2" rx="1.6" fill="#a8a8a8" opacity="1"/>
<rect x="1472" y="146.0" width="42.0" height="2.0" rx="1.0" fill="#cfcfcf" opacity="1"/>
<rect x="1470" y="171.1" width="45.0" height="2.0" rx="1.0" fill="#bdbdbd" opacity="1"/>
<rect x="1470" y="176.0" width="45.0" height="2.0" rx="1.0" fill="#d4d4d4" opacity="1"/>
<rect x="1466" y="205.9" width="50.0" height="4.0" rx="2.0" fill="#9d9d9d" opacity="1"/>
<rect x="1468" y="221.7" width="46.0" height="2.5" rx="1.2" fill="#c8c8c8" opacity="1"/>
<rect x="1468" y="229.3" width="46.0" height="2.0" rx="1.0" fill="#d3d3d3" opacity="1"/>
<rect x="1466" y="234.9" width="48.0" height="2.6" rx="1.3" fill="#b8b8b8" opacity="1"/>
<rect x="1466" y="241.1" width="48.0" height="2.0" rx="1.0" fill="#cdcdcd" opacity="1"/>
<rect x="1466" y="244.9" width="48.0" height="3.0" rx="1.5" fill="#afafaf" opacity="1"/>
<rect x="1466" y="254.3" width="48.0" height="2.2" rx="1.1" fill="#c0c0c0" opacity="1"/>
<rect x="1468" y="267.8" width="45.0" height="2.0" rx="1.0" fill="#d2d2d2" opacity="1"/>
<rect x="1468" y="276.4" width="45.0" height="2.0" rx="1.0" fill="#d6d6d6" opacity="1"/>
<rect x="1463" y="288.2" width="50.0" height="4.0" rx="2.0" fill="#999999" opacity="1"/>
<rect x="1470" y="182.0" width="44.0" height="2.0" rx="1.0" fill="#d0d0d0" opacity="1"/>
<rect x="1466" y="200.0" width="48.0" height="2.0" rx="1.0" fill="#c4c4c4" opacity="1"/>
<rect x="1466" y="213.5" width="48.0" height="2.0" rx="1.0" fill="#cacaca" opacity="1"/>
<rect x="1466" y="250.0" width="48.0" height="2.0" rx="1.0" fill="#c8c8c8" opacity="1"/>
<rect x="1466" y="261.0" width="48.0" height="2.0" rx="1.0" fill="#cfcfcf" opacity="1"/>
<rect x="1466" y="272.0" width="47.0" height="2.0" rx="1.0" fill="#d2d2d2" opacity="1"/>
<rect x="1466" y="283.0" width="47.0" height="2.0" rx="1.0" fill="#cdcdcd" opacity="1"/>
<rect x="1474" y="124.0" width="41.0" height="2.0" rx="1.0" fill="#d0d0d0" opacity="1"/>
<rect x="1466.5" y="154.1" width="52.5" height="10.5" rx="5.2" fill="#0a0a0a" opacity="1"/>
<rect x="1465.5" y="188.6" width="52.3" height="9.5" rx="4.8" fill="#262626" opacity="1"/>
</g>
<text x="1305.6" y="71.1" font-size="28.5" textLength="43.0" lengthAdjust="spacingAndGlyphs">WT</text>
<text x="1319.0" y="100.7" font-size="28.5" textLength="15.3" lengthAdjust="spacingAndGlyphs">1</text>
<text x="1444.4" y="72.0" font-size="28.5" textLength="94.0" lengthAdjust="spacingAndGlyphs"><tspan font-weight="normal">&#916;</tspan>cHLB</text>
<text x="1484.7" y="104.2" font-size="28.5" textLength="16.1" lengthAdjust="spacingAndGlyphs">2</text>
<text x="1210.9" y="132.9" font-size="28" textLength="45.1" lengthAdjust="spacingAndGlyphs">158</text>
<text x="1210.9" y="189.3" font-size="28" textLength="45.1" lengthAdjust="spacingAndGlyphs">116</text>
<text x="1206.3" y="238.9" font-size="28" textLength="52.9" lengthAdjust="spacingAndGlyphs">97.2</text>
<line x1="1269.4" y1="122.1" x2="1295.4" y2="122.1" stroke="#000" stroke-width="2"/>
<line x1="1269.4" y1="178.5" x2="1295.4" y2="178.5" stroke="#000" stroke-width="2"/>
<line x1="1269.4" y1="230.1" x2="1295.4" y2="230.1" stroke="#000" stroke-width="2"/>
<line x1="1359.3" y1="158.4" x2="1376.0" y2="158.4" stroke="#000" stroke-width="2"/>
<text x="1380.8" y="163.8" font-size="28" textLength="52.9" lengthAdjust="spacingAndGlyphs">Isw1</text>
<line x1="1437.2" y1="156.2" x2="1454.4" y2="156.2" stroke="#000" stroke-width="2"/>
<line x1="1358.5" y1="196.8" x2="1375.4" y2="196.8" stroke="#000" stroke-width="2"/>
<text x="1382.7" y="202.7" font-size="28" textLength="51.0" lengthAdjust="spacingAndGlyphs">loc3</text>
<line x1="1439.0" y1="192.8" x2="1456.0" y2="192.8" stroke="#000" stroke-width="2"/>
<text x="1558.0" y="140.1" font-size="28" textLength="46.7" lengthAdjust="spacingAndGlyphs">158</text>
<text x="1558.0" y="182.5" font-size="28" textLength="46.7" lengthAdjust="spacingAndGlyphs">116</text>
<text x="1557.2" y="224.2" font-size="28" textLength="55.8" lengthAdjust="spacingAndGlyphs">97.2</text>
<line x1="1523.0" y1="130.7" x2="1548.6" y2="130.7" stroke="#000" stroke-width="2"/>
<line x1="1524.0" y1="172.6" x2="1550.0" y2="172.6" stroke="#000" stroke-width="2"/>
<line x1="1525.8" y1="215.3" x2="1551.3" y2="215.3" stroke="#000" stroke-width="2"/>
<line x1="46.6" y1="456.9" x2="46.6" y2="681.6" stroke="#000" stroke-width="2.9"/>
<line x1="45.2" y1="680.2" x2="1487.0" y2="680.2" stroke="#000" stroke-width="2.9"/>
<line x1="512.0" y1="671.2" x2="512.0" y2="686.5" stroke="#000" stroke-width="2"/>
<line x1="611.5" y1="671.2" x2="611.5" y2="686.5" stroke="#000" stroke-width="2"/>
<line x1="712.3" y1="671.2" x2="712.3" y2="686.5" stroke="#000" stroke-width="2"/>
<line x1="756.6" y1="671.2" x2="756.6" y2="686.5" stroke="#000" stroke-width="2"/>
<line x1="802.4" y1="671.2" x2="802.4" y2="686.5" stroke="#000" stroke-width="2"/>
<line x1="857.0" y1="671.2" x2="857.0" y2="686.5" stroke="#000" stroke-width="2"/>
<line x1="906.6" y1="671.2" x2="906.6" y2="686.5" stroke="#000" stroke-width="2"/>
<line x1="971.7" y1="671.2" x2="971.7" y2="686.5" stroke="#000" stroke-width="2"/>
<line x1="1050.8" y1="671.2" x2="1050.8" y2="686.5" stroke="#000" stroke-width="2"/>
<line x1="1127.9" y1="671.2" x2="1127.9" y2="686.5" stroke="#000" stroke-width="2"/>
<line x1="1223.2" y1="671.2" x2="1223.2" y2="686.5" stroke="#000" stroke-width="2"/>
<line x1="1310.2" y1="671.2" x2="1310.2" y2="686.5" stroke="#000" stroke-width="2"/>
<line x1="1461.3" y1="671.2" x2="1461.3" y2="686.5" stroke="#000" stroke-width="2"/>
<rect x="93.3" y="660.6" width="591.7" height="9.2" fill="#000"/>
<rect x="95.3" y="662.6" width="259.5" height="5.2" fill="#999"/>
<rect x="397.8" y="662.6" width="96.2" height="5.2" fill="#999"/>
<rect x="818.0" y="660.6" width="66.7" height="8.4" fill="#000"/>
<rect x="926.4" y="660.6" width="88.0" height="8.4" fill="#999" stroke="#000" stroke-width="1.5"/>
<path d="M48.4,514.3 L49.0,514.8 L49.6,513.9 L50.2,513.8 L50.8,512.6 L51.5,512.6 L52.1,513.6 L52.7,513.4 L53.3,513.5 L53.9,514.0 L54.5,511.5 L55.1,511.5 L55.7,510.6 L56.3,512.4 L56.9,512.9 L57.6,511.3 L58.2,512.2 L58.8,512.4 L59.4,510.9 L60.0,510.4 L60.6,511.3 L61.2,512.3 L61.8,512.7 L62.4,514.7 L63.1,516.9 L63.7,516.5 L64.3,516.4 L64.9,516.9 L65.5,518.3 L66.1,519.5 L66.7,520.7 L67.3,521.2 L67.9,522.3 L68.5,523.3 L69.2,524.3 L69.8,526.8 L70.4,526.0 L71.0,526.0 L71.6,526.1 L72.2,527.4 L72.9,526.5 L73.5,523.0 L74.2,520.4 L74.8,518.5 L75.4,517.0 L76.1,516.4 L76.7,513.6 L77.4,512.1 L78.0,510.0 L78.6,510.1 L79.2,511.4 L79.8,511.6 L80.4,510.2 L81.0,508.5 L81.6,508.9 L82.2,509.2 L82.8,510.7 L83.4,511.8 L84.0,510.0 L84.6,509.2 L85.2,510.5 L85.8,511.8 L86.4,512.2 L87.1,511.5 L87.7,511.9 L88.3,513.1 L88.9,515.2 L89.5,515.4 L90.1,514.5 L90.7,513.7 L91.3,512.8 L91.9,514.3 L92.6,517.4 L93.2,518.8 L93.8,517.7 L94.4,517.0 L95.0,517.0 L95.6,518.9 L96.2,520.6 L96.9,520.2 L97.5,520.1 L98.1,522.2 L98.8,523.0 L99.4,524.8 L100.0,525.5 L100.6,523.9 L101.2,523.9 L101.9,525.2 L102.5,527.7 L103.1,529.6 L103.8,527.8 L104.4,529.6 L105.0,530.7 L105.6,532.0 L106.2,532.1 L106.9,532.1 L107.5,531.8 L108.1,531.2 L108.7,530.7 L109.3,529.0 L109.9,528.2 L110.5,524.6 L111.1,521.6 L111.7,521.2 L112.3,522.2 L113.0,522.2 L113.6,521.6 L114.3,521.6 L114.9,522.1 L115.5,522.5 L116.2,521.6 L116.8,519.5 L117.4,519.4 L118.1,520.1 L118.7,522.4 L119.4,523.4 L120.0,522.1 L120.6,520.9 L121.2,520.6 L121.8,520.3 L122.4,522.3 L123.0,522.0 L123.6,520.4 L124.2,520.4 L124.9,521.1 L125.5,523.1 L126.1,521.7 L126.7,520.2 L127.3,520.6 L127.9,520.7 L128.5,521.7 L129.2,524.7 L129.9,526.5 L130.6,526.3 L131.3,528.3 L132.0,531.8 L132.7,533.4 L133.3,531.0 L134.0,529.4 L134.6,527.5 L135.3,527.4 L135.9,525.4 L136.5,521.9 L137.2,518.9 L137.8,519.3 L138.4,518.3 L139.1,516.9 L139.7,515.5 L140.4,513.1 L141.0,509.4 L141.6,509.8 L142.2,510.5 L142.8,511.3 L143.5,509.7 L144.1,511.0 L144.7,511.9 L145.3,512.5 L145.9,511.4 L146.5,511.4 L147.1,510.0 L147.8,509.9 L148.4,510.7 L149.0,512.4 L149.6,511.6 L150.2,512.8 L150.8,513.6 L151.4,516.2 L152.0,517.0 L152.6,518.8 L153.2,521.1 L153.8,522.5 L154.4,524.0 L155.0,528.0 L155.6,524.6 L156.2,522.3 L156.8,518.1 L157.4,514.6 L158.0,512.8 L158.6,511.0 L159.2,510.7 L159.8,506.0 L160.4,504.6 L161.0,502.6 L161.6,502.8 L162.2,502.4 L162.9,503.4 L163.5,503.6 L164.1,504.3 L164.8,505.9 L165.4,506.8 L166.0,506.5 L166.6,506.5 L167.2,508.5 L167.8,510.4 L168.4,512.7 L169.0,514.7 L169.6,517.2 L170.2,517.8 L170.8,520.2 L171.4,522.2 L172.0,525.0 L172.6,525.9 L173.2,525.0 L173.8,527.2 L174.4,525.8 L175.0,525.3 L175.7,521.8 L176.3,516.6 L176.9,512.1 L177.5,510.1 L178.1,508.2 L178.8,505.9 L179.4,501.4 L180.0,499.0 L180.6,501.0 L181.3,503.4 L181.9,506.5 L182.5,505.9 L183.1,507.8 L183.8,508.7 L184.4,512.3 L185.0,517.1 L185.7,517.6 L186.3,519.5 L186.9,520.3 L187.6,523.1 L188.2,524.9 L188.8,527.0 L189.4,528.5 L190.1,531.6 L190.7,533.8 L191.3,532.9 L192.0,530.1 L192.6,524.8 L193.3,522.1 L193.9,519.2 L194.5,518.2 L195.2,516.8 L195.8,515.5 L196.4,511.8 L197.1,509.0 L197.7,506.0 L198.4,504.5 L199.0,502.1 L199.7,502.1 L200.3,504.4 L201.0,506.3 L201.7,507.8 L202.3,508.4 L203.0,509.5 L203.7,508.3 L204.3,509.9 L205.0,509.7 L205.6,508.8 L206.3,508.4 L206.9,507.7 L207.6,506.0 L208.2,509.4 L208.9,509.5 L209.5,510.7 L210.2,514.4 L210.8,515.8 L211.4,518.8 L212.1,521.4 L212.7,520.5 L213.4,520.9 L214.0,523.6 L214.6,522.4 L215.2,521.4 L215.8,517.2 L216.4,515.7 L217.0,512.1 L217.6,511.3 L218.2,508.7 L218.8,504.2 L219.4,506.3 L220.0,510.1 L220.7,513.7 L221.3,518.9 L221.9,520.3 L222.5,521.7 L223.2,525.6 L223.8,527.6 L224.4,532.3 L225.0,529.3 L225.6,525.5 L226.2,521.2 L226.9,519.8 L227.5,517.3 L228.1,514.0 L228.7,508.1 L229.3,504.1 L230.0,501.9 L230.6,500.7 L231.2,497.8 L231.8,494.7 L232.5,493.4 L233.1,491.7 L233.8,492.8 L234.4,493.5 L235.1,493.8 L235.7,493.2 L236.4,493.6 L237.0,495.9 L237.7,495.5 L238.3,495.5 L239.0,494.3 L239.6,497.4 L240.2,500.3 L240.8,504.7 L241.4,508.5 L242.1,510.8 L242.7,513.7 L243.3,516.4 L243.9,518.8 L244.5,522.6 L245.2,518.4 L245.8,513.5 L246.4,509.3 L247.1,505.1 L247.8,500.6 L248.4,495.7 L249.0,489.4 L249.7,485.6 L250.3,489.6 L250.9,494.9 L251.5,500.2 L252.2,502.5 L252.8,506.4 L253.4,509.5 L254.0,514.7 L254.6,511.2 L255.2,509.2 L255.8,507.1 L256.4,503.9 L257.0,504.5 L257.6,501.3 L258.3,499.4 L258.9,496.1 L259.5,492.8 L260.1,490.2 L260.7,489.0 L261.3,488.2 L262.0,491.9 L262.7,493.3 L263.4,498.0 L264.1,500.5 L264.8,505.2 L265.5,506.2 L266.1,505.4 L266.8,506.3 L267.4,505.6 L268.1,503.8 L268.8,500.6 L269.4,498.0 L270.1,497.0 L270.7,495.8 L271.4,495.3 L272.0,492.6 L272.6,496.0 L273.2,498.9 L273.8,501.3 L274.4,503.6 L275.0,507.4 L275.6,502.5 L276.2,498.7 L276.9,496.2 L277.5,493.8 L278.1,488.5 L278.8,483.0 L279.4,478.2 L280.0,474.7 L280.6,474.6 L281.3,475.4 L281.9,473.7 L282.6,473.0 L283.2,471.6 L283.9,471.9 L284.5,470.3 L285.1,468.3 L285.8,467.4 L286.4,468.8 L287.1,468.7 L287.7,468.3 L288.3,472.4 L289.0,475.0 L289.6,479.0 L290.2,485.6 L290.9,490.9 L291.5,495.7 L292.1,499.5 L292.7,504.9 L293.4,510.5 L294.0,514.4 L294.6,512.0 L295.2,508.7 L295.9,506.0 L296.5,505.6 L297.1,505.3 L297.7,504.3 L298.3,501.3 L298.9,496.8 L299.5,495.4 L300.2,492.9 L300.8,491.4 L301.4,490.0 L302.0,492.0 L302.6,492.5 L303.2,496.3 L303.8,498.7 L304.4,498.5 L305.0,499.5 L305.6,500.8 L306.3,498.7 L307.0,498.8 L307.7,497.1 L308.4,493.6 L309.1,491.2 L309.8,489.5 L310.4,492.6 L311.1,494.0 L311.8,495.2 L312.4,498.1 L313.1,501.6 L313.7,505.5 L314.4,507.7 L315.0,507.2 L315.6,504.6 L316.3,502.4 L316.9,499.9 L317.5,497.5 L318.2,492.8 L318.8,490.0 L319.5,485.5 L320.1,484.7 L320.7,481.1 L321.4,476.8 L322.0,472.6 L322.6,478.5 L323.2,483.7 L323.8,486.3 L324.4,490.4 L325.0,492.9 L325.6,495.8 L326.2,500.4 L326.8,505.0 L327.4,510.3 L328.0,513.7 L328.6,515.7 L329.2,520.4 L329.8,524.0 L330.4,520.8 L331.0,517.6 L331.6,513.7 L332.3,512.9 L332.9,511.6 L333.5,508.2 L334.1,506.0 L334.7,501.5 L335.4,497.1 L336.0,495.0 L336.6,493.3 L337.2,492.2 L337.8,489.5 L338.5,488.6 L339.1,488.4 L339.7,487.3 L340.4,487.6 L341.0,485.8 L341.6,484.5 L342.2,482.8 L342.9,483.6 L343.5,484.4 L344.1,482.8 L344.8,481.4 L345.4,479.4 L346.1,480.3 L346.7,480.8 L347.3,480.5 L348.0,479.8 L348.6,478.4 L349.3,478.4 L349.9,479.1 L350.5,475.4 L351.1,470.8 L351.8,466.8 L352.4,464.5 L353.0,462.7 L353.6,469.0 L354.2,471.0 L354.9,475.1 L355.5,478.3 L356.1,483.8 L356.7,488.1 L357.3,492.5 L357.9,494.5 L358.5,499.4 L359.2,504.5 L359.8,508.7 L360.4,512.7 L361.0,507.8 L361.7,504.2 L362.3,500.7 L362.9,499.9 L363.5,497.6 L364.2,493.5 L364.8,489.5 L365.4,486.8 L366.1,484.0 L366.7,480.8 L367.4,483.7 L368.0,485.7 L368.7,488.9 L369.4,492.7 L370.0,496.6 L370.7,499.0 L371.3,501.2 L372.0,504.1 L372.7,500.9 L373.3,499.1 L374.0,493.9 L374.7,489.8 L375.4,484.8 L376.0,482.1 L376.7,478.8 L377.4,472.8 L378.0,476.8 L378.6,483.1 L379.3,488.9 L379.9,493.7 L380.5,496.6 L381.2,500.5 L381.8,504.9 L382.4,510.5 L383.1,517.3 L383.7,513.4 L384.3,509.6 L384.9,506.0 L385.5,502.5 L386.1,498.9 L386.8,495.6 L387.4,491.0 L388.0,487.1 L388.6,484.4 L389.2,481.9 L389.8,479.4 L390.5,475.0 L391.1,470.6 L391.7,472.6 L392.3,476.3 L393.0,480.0 L393.6,483.0 L394.2,484.9 L394.9,487.0 L395.5,484.0 L396.2,481.9 L396.9,478.2 L397.5,473.1 L398.2,469.0 L398.8,468.4 L399.5,465.7 L400.1,467.7 L400.8,467.8 L401.4,470.0 L402.0,473.0 L402.7,475.6 L403.3,478.1 L404.0,479.6 L404.7,479.6 L405.4,482.7 L406.1,479.2 L406.8,472.8 L407.6,466.0 L408.3,462.0 L409.0,458.7 L409.7,464.5 L410.3,469.5 L411.0,475.2 L411.6,479.2 L412.3,485.1 L412.9,492.8 L413.6,497.6 L414.3,502.5 L414.9,500.9 L415.6,500.0 L416.2,496.6 L416.9,494.0 L417.5,490.5 L418.2,488.5 L418.9,486.6 L419.5,486.1 L420.2,482.6 L420.8,485.8 L421.4,488.2 L422.1,493.5 L422.7,497.8 L423.3,500.1 L424.0,503.1 L424.6,508.5 L425.2,512.7 L425.9,517.5 L426.5,518.9 L427.1,515.6 L427.7,510.6 L428.3,507.0 L428.9,505.1 L429.6,503.0 L430.2,499.1 L430.8,493.5 L431.4,490.5 L432.0,486.5 L432.6,484.8 L433.2,479.7 L433.9,483.1 L434.6,486.3 L435.2,490.5 L435.9,493.8 L436.6,496.6 L437.2,497.3 L437.9,500.0 L438.5,498.6 L439.1,495.6 L439.7,493.3 L440.3,488.2 L440.9,485.2 L441.5,481.9 L442.1,478.1 L442.7,474.1 L443.4,470.4 L444.0,474.2 L444.6,478.3 L445.2,484.1 L445.8,488.9 L446.4,493.6 L447.0,497.0 L447.6,499.0 L448.3,503.4 L448.9,510.1 L449.5,515.0 L450.1,519.2 L450.7,515.0 L451.3,511.6 L451.9,510.1 L452.6,505.5 L453.2,502.5 L453.8,497.4 L454.4,495.3 L455.0,493.8 L455.6,491.6 L456.2,487.8 L456.9,483.5 L457.5,480.6 L458.1,483.9 L458.7,488.9 L459.3,492.4 L459.9,496.9 L460.5,499.6 L461.1,504.3 L461.7,509.4 L462.3,513.6 L463.0,508.3 L463.6,506.3 L464.3,504.2 L464.9,502.3 L465.6,501.4 L466.2,499.3 L466.9,496.4 L467.5,492.3 L468.2,491.3 L468.8,489.5 L469.5,486.0 L470.1,484.7 L470.8,485.1 L471.4,488.4 L472.0,492.1 L472.7,492.4 L473.3,493.7 L473.9,489.3 L474.6,487.7 L475.3,486.9 L475.9,484.3 L476.6,478.5 L477.2,474.4 L477.9,472.8 L478.5,468.7 L479.2,466.0 L479.8,467.2 L480.5,469.1 L481.1,471.9 L481.7,476.3 L482.4,478.6 L483.0,479.2 L483.6,480.3 L484.2,482.2 L484.9,485.1 L485.5,488.8 L486.1,487.0 L486.8,483.2 L487.4,479.8 L488.0,477.6 L488.7,477.4 L489.3,474.0 L489.9,470.5 L490.6,469.0 L491.2,472.9 L491.8,476.6 L492.4,478.1 L493.0,480.1 L493.6,481.8 L494.2,484.2 L494.8,489.5 L495.4,492.3 L496.1,491.2 L496.7,489.1 L497.3,487.5 L498.0,486.4 L498.6,485.2 L499.2,482.1 L499.8,481.2 L500.5,478.2 L501.1,479.6 L501.7,479.1 L502.4,484.3 L503.1,486.7 L503.7,491.3 L504.4,498.8 L505.0,504.8 L505.7,510.5 L506.4,516.7 L507.0,520.1 L507.6,519.0 L508.2,516.8 L508.9,513.3 L509.5,510.3 L510.1,507.9 L510.7,506.5 L511.3,503.9 L511.9,503.1 L512.5,499.1 L513.2,496.6 L513.8,492.1 L514.4,490.1 L515.0,495.1 L515.7,499.4 L516.3,501.6 L516.9,504.6 L517.6,510.1 L518.2,514.1 L518.8,517.1 L519.5,518.1 L520.1,521.3 L520.7,525.3 L521.3,525.7 L522.0,524.2 L522.6,521.6 L523.2,519.5 L523.9,517.8 L524.5,516.0 L525.1,513.8 L525.8,512.9 L526.4,510.3 L527.0,510.1 L527.7,508.8 L528.3,512.4 L529.0,514.2 L529.7,515.6 L530.3,519.5 L531.0,524.0 L531.6,527.3 L532.3,529.9 L533.0,526.4 L533.6,523.4 L534.3,520.2 L534.9,518.4 L535.6,515.7 L536.3,511.4 L536.9,510.6 L537.6,508.7 L538.2,511.1 L538.8,512.8 L539.4,514.1 L540.0,516.0 L540.7,520.4 L541.3,523.9 L541.9,527.1 L542.5,528.4 L543.1,531.7 L543.7,533.1 L544.3,536.2 L545.0,538.4 L545.6,537.9 L546.3,534.8 L546.9,534.7 L547.6,534.5 L548.3,533.3 L548.9,530.2 L549.6,527.3 L550.2,525.5 L550.9,527.4 L551.5,528.1 L552.1,529.8 L552.8,530.2 L553.4,531.7 L554.0,532.7 L554.7,533.8 L555.3,534.2 L555.9,533.6 L556.6,535.8 L557.2,534.3 L557.8,532.8 L558.4,530.5 L559.1,527.9 L559.7,523.6 L560.3,520.9 L561.0,519.8 L561.6,519.2 L562.2,516.4 L562.9,514.4 L563.5,515.4 L564.1,518.7 L564.8,521.4 L565.4,521.2 L566.0,522.7 L566.7,526.2 L567.3,529.4 L567.9,532.3 L568.6,534.2 L569.2,535.8 L569.8,530.8 L570.5,526.4 L571.1,523.3 L571.7,521.1 L572.4,516.2 L573.0,511.2 L573.6,509.2 L574.3,504.1 L574.9,500.3 L575.5,503.0 L576.2,505.3 L576.9,508.6 L577.5,514.6 L578.2,517.6 L578.8,520.2 L579.5,522.2 L580.1,524.4 L580.8,528.8 L581.4,525.5 L582.0,522.7 L582.6,518.7 L583.2,515.7 L583.8,513.5 L584.4,510.8 L585.0,505.1 L585.6,500.3 L586.2,497.6 L586.8,495.3 L587.4,492.9 L588.0,490.1 L588.6,486.0 L589.2,482.6 L589.9,487.1 L590.5,492.3 L591.2,496.4 L591.9,502.5 L592.5,506.4 L593.2,511.6 L593.8,518.0 L594.5,523.8 L595.1,517.1 L595.7,511.8 L596.3,508.0 L597.0,506.2 L597.6,503.0 L598.2,499.5 L598.8,493.6 L599.4,488.9 L600.0,484.9 L600.6,481.2 L601.3,476.9 L601.9,472.6 L602.5,474.2 L603.1,475.6 L603.8,478.9 L604.4,480.1 L605.0,480.4 L605.7,480.9 L606.3,478.4 L606.9,476.9 L607.5,476.4 L608.1,472.4 L608.7,470.1 L609.3,468.0 L610.0,465.3 L610.6,462.8 L611.2,459.6 L611.8,456.2 L612.4,454.4 L613.3,456.3 L614.1,457.8 L614.7,463.6 L615.4,468.2 L616.0,473.4 L616.6,479.2 L617.3,486.5 L617.9,493.6 L618.5,498.3 L619.2,504.8 L619.8,510.8 L620.4,507.2 L621.1,503.2 L621.7,497.6 L622.3,493.7 L623.0,491.0 L623.6,487.9 L624.2,485.0 L624.8,480.4 L625.5,476.4 L626.1,471.7 L626.7,477.3 L627.4,485.0 L628.0,488.9 L628.6,494.4 L629.3,500.5 L629.9,506.6 L630.5,511.9 L631.2,517.2 L631.8,520.8 L632.4,526.5 L633.1,523.6 L633.7,522.4 L634.3,518.6 L634.9,512.7 L635.5,508.0 L636.1,505.9 L636.7,501.5 L637.4,498.0 L638.0,494.5 L638.6,491.0 L639.2,488.6 L639.8,484.8 L640.4,491.1 L641.0,495.7 L641.7,498.0 L642.3,503.6 L642.9,510.5 L643.5,516.3 L644.1,522.0 L644.7,526.1 L645.4,531.5 L646.0,536.5 L646.6,540.4 L647.2,546.8 L647.8,551.3 L648.5,548.8 L649.1,545.6 L649.8,544.5 L650.4,542.5 L651.1,539.3 L651.7,535.8 L652.4,533.1 L653.0,531.6 L653.7,530.1 L654.3,526.5 L655.0,523.6 L655.6,521.1 L656.3,524.6 L656.9,529.3 L657.6,533.7 L658.2,535.3 L658.9,540.9 L659.5,544.6 L660.2,550.1 L660.8,554.5 L661.5,555.5 L662.1,559.2 L662.8,563.6 L663.4,569.8 L664.1,568.9 L664.7,565.3 L665.3,563.6 L666.0,563.0 L666.6,561.2 L667.2,558.7 L667.8,560.1 L668.5,560.1 L669.1,562.5 L669.7,564.2 L670.4,567.9 L671.0,567.4 L671.6,567.8 L672.3,568.7 L672.9,569.5 L673.5,572.2 L674.2,573.3 L674.8,574.6 L675.4,575.9 L676.1,576.5 L676.7,578.1 L677.3,579.5 L677.9,576.6 L678.5,574.6 L679.1,574.6 L679.7,575.6 L680.3,574.9 L680.9,573.5 L681.6,570.1 L682.2,570.8 L682.8,571.7 L683.4,574.0 L684.1,574.8 M688.4,588.0 L689.1,589.0 L689.7,590.7 L690.3,592.1 L691.0,592.5 L691.6,592.6 L692.2,591.8 L692.8,592.7 L693.4,592.0 L694.0,592.9 L694.6,591.8 L695.2,591.3 L695.8,590.9 L696.5,585.4 L697.1,578.6 L697.8,570.3 L698.4,563.4 L699.1,558.0 L699.8,551.6 L700.4,545.4 L701.1,537.3 L701.7,530.4 L702.3,524.9 L703.0,520.0 L703.6,513.9 L704.2,508.6 L704.9,508.3 L705.6,508.5 L706.3,509.2 L707.0,507.1 L707.7,496.3 L708.5,487.6 L709.2,497.2 L709.9,505.3 L710.6,512.0 L711.2,510.8 L711.9,510.9 L712.6,511.7 L713.3,510.5 L714.0,521.0 L714.8,532.7 L715.5,531.5 L716.2,528.6 L716.8,525.9 L717.5,521.2 L718.2,524.9 L719.0,532.0 L719.7,538.7 L720.4,544.7 L721.1,550.6 L721.7,559.1 L722.4,567.1 L723.0,576.2 L723.6,585.7 L724.3,592.5 L724.9,595.1 L725.5,598.3 L726.2,601.0 L726.8,602.6 L727.4,603.4 L728.1,604.8 L728.7,608.3 L729.3,610.8 L730.0,612.5 L730.6,615.0 L731.3,612.7 L731.9,612.5 L732.6,611.6 L733.2,611.4 L733.9,607.9 L734.6,607.3 L735.2,607.0 L735.9,606.3 L736.6,603.4 L737.3,599.9 L738.0,595.2 L738.6,592.9 L739.2,590.6 L739.8,587.9 L740.4,584.7 L741.0,581.2 L741.6,578.2 L742.2,576.9 L742.8,574.0 L743.4,570.4 L744.1,565.6 L744.7,563.9 L745.3,562.0 L746.0,557.6 L746.6,552.1 L747.2,545.3 L747.9,537.8 L748.5,532.1 L749.2,535.5 L749.9,537.6 L750.6,539.0 L751.3,532.9 L752.0,528.9 L752.7,524.2 L753.4,518.2 L754.1,512.2 L754.8,508.5 L755.5,509.8 L756.2,510.7 L756.9,508.8 L757.6,508.2 L758.3,520.9 L759.0,532.6 L759.7,535.4 L760.3,534.6 L760.9,537.1 L761.6,537.9 L762.2,541.5 L762.9,551.9 L763.6,559.8 L764.3,570.4 L764.9,572.8 L765.5,578.9 L766.1,582.0 L766.7,585.1 L767.3,586.9 L767.9,590.8 L768.5,593.9 L769.2,598.9 L769.9,602.6 L770.5,605.5 L771.2,608.6 L771.8,615.8 L772.5,620.5 L773.1,623.0 L773.8,624.8 L774.5,619.9 L775.1,616.7 L775.8,612.4 L776.4,608.4 L777.1,602.6 L777.8,597.1 L778.4,593.9 L779.1,588.3 L779.7,586.3 L780.3,582.5 L780.9,581.5 L781.5,579.9 L782.1,580.8 L782.7,577.7 L783.3,574.8 L783.9,567.3 L784.5,560.7 L785.1,556.0 L785.7,550.3 L786.3,543.9 L786.9,538.5 L787.5,531.8 L788.1,533.4 L788.8,535.8 L789.4,537.0 L790.0,536.4 L790.7,538.8 L791.3,535.3 L791.9,534.0 L792.6,530.7 L793.2,525.9 L793.8,522.4 L794.5,522.9 L795.1,523.1 L795.7,525.4 L796.4,524.7 L797.0,515.9 L797.6,507.8 L798.3,521.6 L798.9,533.8 L799.5,547.1 L800.2,559.1 L800.8,555.1 L801.4,553.8 L802.0,550.7 L802.7,547.7 L803.3,551.3 L803.9,554.9 L804.6,559.0 L805.2,565.9 L805.8,571.5 L806.5,574.5 L807.1,579.5 L807.7,583.9 L808.3,588.7 L808.9,593.8 L809.5,597.5 L810.1,598.5 L810.7,604.2 L811.4,607.1 L812.0,612.2 L812.7,613.8 L813.3,616.5 L814.0,617.3 L814.6,620.8 L815.3,625.4 L816.0,627.3 L816.6,626.2 L817.2,624.9 L817.8,625.1 L818.4,625.3 L819.0,625.0 L819.6,622.8 L820.2,619.7 L820.8,620.8 L821.5,623.0 L822.2,624.6 L822.8,625.6 L823.5,625.0 L824.1,623.8 L824.8,625.3 L825.4,625.4 L826.1,618.9 L826.9,612.9 L827.6,608.5 L828.2,606.6 L828.8,602.5 L829.4,597.5 L830.0,590.8 L830.6,585.9 L831.2,584.1 L831.8,580.8 L832.4,580.8 L833.0,577.7 L833.7,577.3 L834.3,577.4 L834.9,577.4 L835.6,570.2 L836.3,561.3 L837.0,553.8 L837.7,547.3 L838.4,550.6 L839.1,550.8 L839.8,549.3 L840.5,548.6 L841.3,549.4 L842.0,543.5 L842.7,537.7 L843.4,530.8 L844.0,533.8 L844.6,535.5 L845.3,539.0 L845.9,540.6 L846.5,542.3 L847.2,536.9 L847.8,532.2 L848.4,526.2 L849.1,519.1 L849.7,511.1 L850.3,508.1 L850.9,506.2 L851.5,504.4 L852.1,503.6 L852.7,499.8 L853.3,498.5 L853.9,496.3 L854.6,504.0 L855.3,510.4 L856.0,515.3 L856.6,522.1 L857.3,515.9 L857.9,511.5 L858.5,508.5 L859.2,500.9 L859.8,516.2 L860.4,532.7 L861.1,550.3 L861.7,568.2 L862.3,568.2 L863.0,567.9 L863.6,569.5 L864.2,571.2 L864.9,572.6 L865.5,572.3 L866.1,574.5 L866.7,578.6 L867.3,583.6 L867.9,588.7 L868.5,594.6 L869.1,597.1 L869.7,599.7 L870.4,602.0 L871.0,605.0 L871.7,607.0 L872.3,608.0 L873.0,609.7 L873.7,611.4 L874.3,614.0 L875.0,616.2 L875.6,614.7 L876.2,612.8 L876.9,612.7 L877.5,612.9 L878.1,613.6 L878.8,617.6 L879.4,620.4 L880.0,624.9 L880.7,628.5 L881.3,632.0 L882.0,629.9 L882.6,627.9 L883.3,625.5 L883.9,624.6 L884.6,623.1 L885.3,619.9 L885.9,617.1 L886.6,613.1 L887.2,612.5 L887.8,609.6 L888.4,608.7 L889.0,604.8 L889.6,602.1 L890.2,599.2 L890.8,596.1 L891.4,597.2 L892.0,595.9 L892.6,595.7 L893.2,596.5 L893.8,597.9 L894.4,600.1 L895.0,600.9 L895.6,592.8 L896.3,587.0 L896.9,580.5 L897.5,577.1 L898.2,571.5 L898.9,570.1 L899.6,567.4 L900.3,567.8 L901.0,556.9 L901.7,546.6 L902.4,534.8 L903.1,533.2 L903.9,531.8 L904.7,541.4 L905.5,548.7 L906.3,540.8 L907.0,535.0 L907.7,532.0 L908.4,529.0 L909.1,527.4 L909.8,525.6 L910.5,535.6 L911.2,544.6 L911.9,554.7 L912.5,558.4 L913.1,563.1 L913.8,569.8 L914.4,576.9 L915.1,572.0 L915.8,568.5 L916.5,563.8 L917.1,560.9 L917.8,571.2 L918.5,582.5 L919.2,591.1 L919.9,594.5 L920.5,596.2 L921.1,597.4 L921.8,598.1 L922.4,598.7 L923.1,605.2 L923.7,611.1 L924.4,617.8 L925.0,623.0 L925.7,626.4 L926.4,631.9 L927.0,637.7 L927.7,643.9 L928.3,642.1 L928.9,641.7 L929.5,641.5 L930.1,641.6 L930.7,641.1 L931.3,639.7 L931.9,637.4 L932.5,638.1 L933.1,637.3 L933.7,639.7 L934.3,640.8 L934.9,640.2 L935.5,640.0 L936.1,641.0 L936.8,639.7 L937.4,639.7 L938.1,638.2 L938.7,634.8 L939.4,635.2 L940.1,634.2 L940.7,634.8 L941.4,633.0 L942.0,631.3 L942.6,628.6 L943.2,627.1 L943.8,627.8 L944.4,627.3 L945.0,625.1 L945.6,623.5 L946.2,621.1 L946.8,618.5 L947.4,614.9 L948.0,609.5 L948.6,607.1 L949.2,602.9 L949.8,601.5 L950.4,598.3 L951.1,595.0 L951.7,592.0 L952.3,586.4 L953.0,582.8 L953.6,582.9 L954.2,582.7 L954.9,580.3 L955.5,577.0 L956.1,576.4 L956.8,571.0 L957.5,565.3 L958.2,558.0 L958.9,566.8 L959.7,578.7 L960.4,589.3 L961.0,584.6 L961.6,576.8 L962.3,570.5 L962.9,563.8 L963.5,558.8 L964.1,553.9 L964.9,561.9 L965.6,570.2 L966.4,580.8 L967.1,590.8 L967.7,584.5 L968.3,580.1 L968.9,575.1 L969.5,571.7 L970.1,568.2 L970.8,565.6 L971.4,560.1 L972.0,554.1 L972.6,548.4 L973.2,559.4 L973.8,568.3 L974.5,579.4 L975.1,587.3 L975.7,582.7 L976.3,579.1 L976.9,575.1 L977.5,569.6 L978.1,563.2 L978.7,557.8 L979.3,554.0 L979.9,555.2 L980.5,556.9 L981.1,557.7 L981.7,555.7 L982.3,556.0 L982.9,557.2 L983.5,558.1 L984.4,557.0 L985.2,552.9 L985.9,563.4 L986.7,574.6 L987.4,584.4 L988.1,593.0 L988.8,602.2 L989.4,599.4 L990.0,597.0 L990.6,593.2 L991.2,589.4 L991.8,586.4 L992.4,583.3 L993.1,579.3 L993.7,577.6 L994.4,580.1 L995.1,583.6 L995.8,588.6 L996.5,592.9 L997.2,597.1 L997.9,593.1 L998.6,586.8 L999.4,583.2 L1000.0,595.2 L1000.6,606.9 L1001.2,615.8 L1001.9,625.4 L1002.5,636.0 L1003.1,638.1 L1003.7,639.7 L1004.3,639.2 L1004.9,640.9 L1005.5,642.8 L1006.1,645.0 L1006.7,645.7 L1007.4,644.0 L1008.0,642.0 L1008.6,639.2 L1009.3,636.6 L1009.9,636.6 L1010.5,636.5 L1011.2,636.4 L1011.8,634.1 L1012.4,634.7 L1013.1,635.6 L1013.7,635.1 L1014.4,631.8 L1015.0,631.9 L1015.6,632.5 L1016.3,634.1 L1016.9,633.3 L1017.6,633.0 L1018.2,629.6 L1018.8,628.7 L1019.5,629.1 L1020.1,629.9 L1020.8,628.0 L1021.4,627.0 L1022.0,626.2 L1022.6,625.8 L1023.2,626.0 L1023.9,622.2 L1024.5,620.4 L1025.1,617.7 L1025.7,615.9 L1026.3,617.0 L1026.9,613.9 L1027.5,617.0 L1028.1,615.8 L1028.7,617.8 L1029.3,620.8 L1029.9,622.3 L1030.5,625.7 L1031.1,625.9 L1031.7,621.8 L1032.3,615.4 L1032.9,611.6 L1033.5,605.0 L1034.1,598.3 L1034.7,592.1 L1035.3,586.5 L1036.0,583.9 L1036.7,581.3 L1037.4,575.5 L1038.1,577.1 L1038.8,580.8 L1039.5,583.5 L1040.1,578.3 L1040.8,570.1 L1041.4,563.5 L1042.0,556.9 L1042.7,551.4 L1043.3,558.1 L1043.9,564.4 L1044.6,569.7 L1045.2,576.8 L1045.8,583.6 L1046.4,579.0 L1047.0,571.9 L1047.6,564.2 L1048.2,558.0 L1048.8,552.4 L1049.4,546.7 L1050.1,540.5 L1050.8,544.4 L1051.5,548.7 L1052.2,554.8 L1052.8,548.8 L1053.4,541.5 L1054.1,533.4 L1054.7,525.2 L1055.3,519.1 L1056.0,530.5 L1056.7,542.0 L1057.4,553.0 L1058.1,562.9 L1058.7,574.4 L1059.3,586.5 L1060.0,598.3 L1060.6,608.5 L1061.3,602.8 L1061.9,599.3 L1062.6,596.7 L1063.2,591.0 L1063.9,585.7 L1064.6,580.6 L1065.2,574.8 L1065.9,581.8 L1066.5,588.4 L1067.1,594.0 L1067.8,598.5 L1068.4,604.0 L1069.0,609.5 L1069.7,609.1 L1070.3,608.1 L1070.9,606.2 L1071.6,607.1 L1072.2,606.6 L1072.8,613.0 L1073.4,616.5 L1074.0,618.2 L1074.6,620.6 L1075.2,625.4 L1075.8,630.7 L1076.4,635.4 L1077.0,634.8 L1077.7,632.7 L1078.3,632.5 L1078.9,632.8 L1079.6,634.1 L1080.2,634.4 L1080.8,634.4 L1081.4,637.7 L1082.0,641.7 L1082.6,644.4 L1083.2,645.8 L1083.8,648.3 L1084.4,643.3 L1085.0,638.9 L1085.7,637.4 L1086.3,633.8 L1086.9,630.2 L1087.6,632.0 L1088.2,635.0 L1088.8,638.7 L1089.5,641.4 L1090.1,642.6 L1090.7,639.3 L1091.3,634.9 L1091.9,633.5 L1092.5,633.4 L1093.1,630.0 L1093.7,626.3 L1094.3,622.5 L1095.0,624.4 L1095.6,627.9 L1096.3,630.2 L1097.0,632.1 L1097.6,636.4 L1098.3,639.5 L1098.9,643.4 L1099.6,643.9 L1100.2,638.1 L1100.9,630.6 L1101.5,625.7 L1102.1,621.8 L1102.7,615.7 L1103.5,609.5 L1104.2,602.6 L1104.9,597.0 L1105.5,600.5 L1106.1,603.8 L1106.8,607.4 L1107.4,610.9 L1108.0,614.9 L1108.6,605.5 L1109.2,594.2 L1109.8,581.5 L1110.4,569.5 L1111.0,557.4 L1111.6,547.9 L1112.2,538.0 L1112.9,543.3 L1113.5,546.7 L1114.1,550.4 L1114.8,555.3 L1115.4,558.5 L1116.0,550.7 L1116.7,541.8 L1117.3,533.4 L1117.9,527.3 L1118.6,521.0 L1119.2,513.0 L1119.8,525.6 L1120.5,536.4 L1121.1,546.3 L1121.7,559.2 L1122.4,567.0 L1123.0,575.1 L1123.6,581.6 L1124.2,586.6 L1124.9,593.8 L1125.5,588.0 L1126.2,579.7 L1126.9,570.8 L1127.5,563.8 L1128.2,558.5 L1128.8,552.6 L1129.5,545.3 L1130.2,537.2 L1130.8,540.8 L1131.4,546.3 L1132.0,552.2 L1132.7,558.9 L1133.3,562.2 L1133.9,557.6 L1134.5,553.0 L1135.1,548.4 L1135.7,543.4 L1136.3,536.5 L1136.9,530.8 L1137.5,527.0 L1138.2,537.4 L1138.8,546.1 L1139.4,554.4 L1140.1,563.3 L1140.7,569.5 L1141.3,568.3 L1141.9,566.3 L1142.5,562.1 L1143.1,560.2 L1143.7,555.7 L1144.3,553.3 L1144.9,551.8 L1145.5,559.6 L1146.1,566.7 L1146.7,572.8 L1147.3,580.9 L1147.9,589.5 L1148.5,597.5 L1149.1,605.6 L1149.8,602.4 L1150.4,596.7 L1151.1,595.0 L1151.8,591.9 L1152.4,587.3 L1153.1,583.4 L1153.7,579.8 L1154.4,577.8 L1155.0,583.1 L1155.6,587.3 L1156.2,591.2 L1156.8,594.7 L1157.4,599.9 L1158.0,606.2 L1158.6,613.0 L1159.3,611.5 L1160.0,609.3 L1160.7,608.4 L1161.3,606.8 L1162.0,611.8 L1162.6,615.6 L1163.2,620.9 L1163.9,626.2 L1164.5,632.6 L1165.1,637.9 L1165.8,641.2 L1166.4,644.6 L1167.0,650.3 L1167.6,650.3 L1168.2,649.9 L1168.8,650.3 L1169.4,649.0 L1170.1,647.1 L1170.7,645.4 L1171.3,645.2 L1171.9,646.6 L1172.5,647.4 L1173.1,648.3 L1173.7,649.0 L1174.3,652.0 L1174.9,654.8 L1175.5,657.0 L1176.1,654.8 L1176.7,651.7 L1177.3,649.0 L1177.9,649.1 L1178.5,648.8 L1179.1,646.3 L1179.7,644.1 L1180.3,646.7 L1181.0,648.2 L1181.6,651.0 L1182.2,651.1 L1182.8,653.0 L1183.5,650.0 L1184.1,649.8 L1184.7,649.7 L1185.4,648.9 L1186.0,646.0 L1186.6,642.9 L1187.2,640.6 L1187.8,638.4 L1188.4,637.5 L1189.0,636.3 L1189.6,634.9 L1190.2,632.6 L1190.9,635.5 L1191.6,639.3 L1192.3,642.6 L1193.0,643.6 L1193.6,640.0 L1194.3,637.0 L1195.0,633.5 L1195.6,628.2 L1196.3,622.4 L1196.9,616.6 L1197.6,612.2 L1198.3,617.6 L1198.9,618.7 L1199.6,621.9 L1200.2,626.1 L1200.9,631.0 L1201.6,632.9 L1202.2,635.0 L1202.9,637.9 L1203.5,630.1 L1204.1,624.9 L1204.8,619.3 L1205.4,611.9 L1206.0,605.9 L1206.7,597.9 L1207.3,590.0 L1207.9,584.0 L1208.6,577.2 L1209.2,570.4 L1209.8,575.0 L1210.4,577.9 L1211.0,582.7 L1211.6,586.5 L1212.2,589.3 L1212.8,592.3 L1213.4,595.1 L1214.0,586.5 L1214.7,576.5 L1215.3,565.8 L1215.9,555.2 L1216.6,543.5 L1217.2,552.3 L1217.8,561.5 L1218.4,569.7 L1219.0,577.9 L1219.6,585.6 L1220.2,595.4 L1220.8,606.5 L1221.4,606.3 L1222.0,606.1 L1222.6,605.1 L1223.2,605.5 L1223.8,606.3 L1224.4,608.7 L1225.0,610.3 L1225.7,602.5 L1226.3,594.9 L1227.0,586.2 L1227.6,580.3 L1228.3,571.7 L1229.0,563.6 L1229.6,556.5 L1230.3,550.8 L1230.9,558.2 L1231.6,565.1 L1232.3,568.0 L1232.9,573.7 L1233.6,580.7 L1234.2,587.2 L1234.9,594.1 L1235.5,600.6 L1236.2,594.0 L1236.8,586.8 L1237.4,580.6 L1238.0,574.4 L1238.6,567.6 L1239.2,559.7 L1239.8,554.2 L1240.4,555.2 L1241.1,557.3 L1241.8,556.4 L1242.4,555.0 L1243.1,554.5 L1243.7,554.7 L1244.4,555.9 L1245.0,559.2 L1245.7,561.2 L1246.3,561.6 L1246.9,564.8 L1247.6,567.6 L1248.2,568.9 L1248.9,574.7 L1249.5,579.2 L1250.2,586.6 L1250.8,594.5 L1251.5,601.6 L1252.1,605.2 L1252.8,610.9 L1253.5,616.0 L1254.2,618.2 L1254.9,619.9 L1255.6,618.7 L1256.2,623.6 L1256.9,629.7 L1257.5,634.4 L1258.2,638.0 L1258.9,641.0 L1259.5,645.4 L1260.2,650.5 L1260.8,656.4 L1261.4,654.7 L1262.0,652.2 L1262.6,649.6 L1263.3,648.5 L1263.9,646.3 L1264.5,644.7 L1265.1,643.2 L1265.7,644.0 L1266.3,644.0 L1266.9,646.9 L1267.5,647.4 L1268.1,648.4 L1268.7,646.5 L1269.3,647.6 L1269.9,645.8 L1270.5,644.9 L1271.2,643.3 L1271.8,639.8 L1272.4,635.8 L1273.1,633.0 L1273.7,634.8 L1274.4,638.1 L1275.1,639.6 L1275.7,641.9 L1276.4,644.0 L1277.0,648.4 L1277.7,649.6 L1278.3,650.4 L1279.0,650.1 L1279.6,650.3 L1280.2,652.9 L1280.9,654.6 L1281.5,651.4 L1282.1,648.1 L1282.7,646.9 L1283.3,644.2 L1283.9,641.9 L1284.5,639.7 L1285.1,637.3 L1285.7,639.1 L1286.4,641.2 L1287.1,645.1 L1287.7,645.1 L1288.4,646.0 L1289.0,645.6 L1289.7,648.1 L1290.4,652.2 L1291.0,648.1 L1291.6,645.9 L1292.2,642.1 L1292.8,640.2 L1293.4,637.8 L1294.0,633.1 L1294.6,629.5 L1295.2,627.1 L1295.8,622.9 L1296.4,621.0 L1297.0,620.9 L1297.6,617.6 L1298.2,613.0 L1298.8,609.4 L1299.4,610.6 L1300.0,613.1 L1300.6,615.6 L1301.2,616.4 L1301.8,618.5 L1302.4,620.9 L1303.0,622.5 L1303.6,617.1 L1304.2,609.4 L1304.8,601.7 L1305.4,594.5 L1306.0,591.0 L1306.6,584.6 L1307.2,579.8 L1307.8,583.7 L1308.5,586.5 L1309.1,589.6 L1309.7,593.6 L1310.4,598.9 L1311.0,601.9 L1311.6,606.1 L1312.3,608.6 L1312.9,614.7 L1313.5,618.0 L1314.2,612.4 L1314.9,605.6 L1315.5,599.1 L1316.2,595.3 L1316.9,592.2 L1317.5,585.4 L1318.2,579.2 L1318.8,584.2 L1319.4,587.5 L1320.1,592.1 L1320.7,597.4 L1321.3,600.7 L1322.0,603.6 L1322.7,612.0 L1323.4,618.8 L1324.0,626.1 L1324.7,630.5 L1325.4,636.8 L1326.0,630.9 L1326.7,628.7 L1327.3,622.6 L1327.9,618.0 L1328.5,610.0 L1329.1,604.5 L1329.8,597.1 L1330.4,590.7 L1331.0,584.6 L1331.6,588.9 L1332.2,592.4 L1332.9,597.7 L1333.5,602.2 L1334.1,606.7 L1334.7,609.4 L1335.3,614.0 L1336.0,618.8 L1336.6,625.8 L1337.2,631.8 L1337.8,637.5 L1338.4,644.8 L1339.1,642.6 L1339.7,640.9 L1340.3,640.4 L1340.9,636.9 L1341.5,635.3 L1342.2,631.3 L1342.8,625.8 L1343.4,621.4 L1344.0,615.3 L1344.6,608.7 L1345.3,612.5 L1345.9,617.1 L1346.5,622.2 L1347.1,626.3 L1347.7,631.2 L1348.4,635.0 L1349.0,640.3 L1349.6,644.3 L1350.2,646.8 L1350.8,647.4 L1351.5,649.6 L1352.1,651.1 L1352.7,652.9 L1353.3,653.4 L1353.9,652.6 L1354.6,651.0 L1355.2,649.8 L1355.8,649.4 L1356.4,651.0 L1357.0,652.5 L1357.7,652.3 L1358.3,653.2 L1358.9,654.9 L1359.5,655.7 L1360.1,657.1 L1360.8,656.6 L1361.4,656.7 L1362.0,658.0 L1362.6,660.8 L1363.2,662.3 L1363.9,663.0 L1364.5,662.6 L1365.1,663.6 L1365.7,664.2 L1366.3,667.0 L1367.0,665.3 L1367.6,662.6 L1368.2,659.7 L1368.8,659.7 L1369.4,657.3 L1370.1,655.2 L1370.7,655.9 L1371.3,656.6 L1371.9,657.9 L1372.5,661.7 L1373.2,664.6 L1373.8,663.9 L1374.4,663.3 L1375.0,663.6 L1375.6,665.1 L1376.3,666.2 L1376.9,665.7 L1377.5,665.2 L1378.1,665.9 L1378.7,666.6 L1379.4,666.6 L1380.0,666.5 L1380.6,664.9 L1381.2,662.5 L1381.8,662.5 L1382.5,665.0 L1383.1,665.7 L1383.7,666.4 L1384.3,664.7 L1384.9,665.0 L1385.6,666.6 L1386.2,666.1 L1386.8,666.9 L1387.4,666.2 L1388.0,667.4 L1388.7,668.5 L1389.3,669.9 L1389.9,669.1 L1390.5,666.2 L1391.1,665.2 L1391.8,665.1 L1392.4,664.7 L1393.0,664.1 L1393.6,662.8 L1394.2,660.3 L1394.9,656.8 L1395.5,658.7 L1396.1,662.1 L1396.7,661.5 L1397.3,663.8 L1398.0,661.0 L1398.6,662.2 L1399.2,661.6 L1399.8,660.8 L1400.4,661.2 L1401.1,662.1 L1401.7,663.0 L1402.3,660.6 L1402.9,658.5 L1403.5,656.2 L1404.2,652.7 L1404.8,650.2 L1405.4,652.4 L1406.0,653.7 L1406.6,655.0 L1407.3,653.3 L1407.9,655.1 L1408.5,657.1 L1409.1,658.4 L1409.7,659.8 L1410.4,659.0 L1411.0,659.9 L1411.6,659.3 L1412.2,658.7 L1412.8,659.3 L1413.5,658.4 L1414.1,657.8 L1414.7,656.8 L1415.3,653.4 L1415.9,652.0 L1416.6,646.2 L1417.2,643.2 L1417.8,637.9 L1418.4,636.8 L1419.0,633.3 L1419.7,635.5 L1420.3,635.2 L1420.9,634.6 L1421.5,633.7 L1422.1,635.5 L1422.8,636.0 L1423.4,636.6 L1424.0,636.5 L1424.6,635.6 L1425.2,636.4 L1425.9,636.5 L1426.5,634.3 L1427.1,633.0 L1427.7,632.2 L1428.3,630.6 L1429.0,628.0 L1429.6,624.9 L1430.2,621.1 L1430.8,621.1 L1431.4,622.4 L1432.1,625.0 L1432.7,626.6 L1433.3,629.2 L1433.9,632.3 L1434.5,637.0 L1435.2,642.0 L1435.8,645.5 L1436.4,650.1 L1437.0,649.0 L1437.6,647.2 L1438.3,649.3 L1438.9,651.8 L1439.5,652.0 L1440.1,652.7 L1440.7,647.2 L1441.4,642.7 L1442.0,639.4 L1442.6,634.8 L1443.2,629.4 L1443.8,623.5 L1444.5,620.4 L1445.1,617.7 L1445.7,613.6 L1446.3,608.5 L1446.9,602.0 L1447.6,603.5 L1448.2,604.2 L1448.8,607.5 L1449.4,610.6 L1450.0,612.5 L1450.7,614.6 L1451.3,617.9 L1451.9,621.6 L1452.5,616.2 L1453.1,608.8 L1453.8,602.5 L1454.4,598.9 L1455.0,595.0 L1455.6,589.0 L1456.2,592.7 L1456.9,595.6 L1457.5,598.0 L1458.1,603.7 L1458.7,609.3 L1459.3,604.5 L1460.0,597.7 L1460.6,591.4 L1461.2,585.7 L1461.8,588.7 L1462.4,589.2 L1463.1,589.5 L1463.7,590.7 L1464.3,592.2 L1464.9,597.6 L1465.5,604.2 L1466.2,608.9 L1466.8,611.1 L1467.4,614.7 L1468.0,620.1 L1468.6,627.6 L1469.2,631.2 L1469.9,635.6 L1470.5,638.0 L1471.1,643.1" fill="none" stroke="#000" stroke-width="2.0" stroke-linejoin="round"/>
<path d="M49.5,508.0 L50.1,508.4 L50.7,510.2 L51.3,512.7 L51.9,513.6 L52.5,515.2 L53.1,516.6 L53.8,518.7 L54.4,519.0 L55.0,519.1 L55.6,519.4 L56.2,522.5 L56.8,525.2 L57.4,527.5 L58.0,528.5 L58.6,527.5 L59.2,526.7 L59.9,527.3 L60.5,527.5 L61.1,526.8 L61.7,526.6 L62.3,528.1 L62.9,529.0 L63.6,529.7 L64.2,530.0 L64.8,528.0 L65.4,527.7 L66.0,528.2 L66.7,529.4 L67.3,530.7 L67.9,529.7 L68.5,529.7 L69.1,530.7 L69.7,530.8 L70.4,530.2 L71.0,531.3 L71.6,530.8 L72.2,530.3 L72.8,530.9 L73.4,530.4 L74.0,528.9 L74.7,525.6 L75.3,525.2 L75.9,525.0 L76.5,523.9 L77.1,524.9 L77.7,523.5 L78.3,521.3 L78.9,520.4 L79.6,520.0 L80.2,520.1 L80.8,517.8 L81.4,516.9 L82.0,515.4 L82.6,517.8 L83.3,519.0 L83.9,517.8 L84.5,516.6 L85.1,516.4 L85.8,516.6 L86.4,517.5 L87.0,517.7 L87.7,517.6 L88.3,517.9 L88.9,517.1 L89.6,519.2 L90.2,517.9 L90.8,518.4 L91.4,516.6 L92.1,518.6 L92.7,519.7 L93.3,520.9 L93.9,521.1 L94.5,520.7 L95.2,520.5 L95.8,521.3 L96.4,522.9 L97.0,524.6 L97.6,525.9 L98.2,525.7 L98.9,525.7 L99.5,528.6 L100.1,529.0 L100.7,529.1 L101.3,527.5 L102.0,529.9 L102.6,530.7 L103.2,533.8 L103.8,533.5 L104.4,532.8 L105.0,534.0 L105.7,533.6 L106.3,536.0 L106.9,537.8 L107.5,536.9 L108.1,536.5 L108.7,538.2 L109.3,537.9 L109.9,538.4 L110.5,535.8 L111.1,535.2 L111.7,534.6 L112.3,536.7 L112.9,536.7 L113.5,538.6 L114.1,535.7 L114.7,535.9 L115.3,534.2 L115.9,535.1 L116.5,536.5 L117.1,534.8 L117.7,534.3 L118.3,535.4 L118.9,535.6 L119.5,535.5 L120.1,536.7 L120.7,533.5 L121.3,532.2 L121.9,533.2 L122.5,535.0 L123.1,536.1 L123.7,534.5 L124.3,533.8 L124.9,532.5 L125.5,533.5 L126.1,534.5 L126.7,534.2 L127.3,533.8 L127.9,533.2 L128.5,534.0 L129.2,537.8 L129.9,540.0 L130.6,540.7 L131.3,543.2 L132.0,546.0 L132.7,549.8 L133.3,550.0 L134.0,549.2 L134.6,546.1 L135.3,546.1 L135.9,545.3 L136.5,544.3 L137.2,541.8 L137.8,542.2 L138.4,540.8 L139.1,541.8 L139.7,540.7 L140.4,537.7 L141.0,536.4 L141.7,533.7 L142.3,532.9 L142.9,532.0 L143.6,530.3 L144.2,527.7 L144.9,526.9 L145.6,525.4 L146.2,524.6 L146.8,521.8 L147.5,519.3 L148.1,520.7 L148.8,525.0 L149.4,528.0 L150.0,530.5 L150.7,531.4 L151.3,533.4 L151.9,536.2 L152.5,538.7 L153.2,541.8 L153.8,544.0 L154.4,541.8 L155.0,541.4 L155.6,541.8 L156.2,540.2 L156.8,539.5 L157.4,536.8 L158.0,536.0 L158.6,536.8 L159.2,537.1 L159.8,536.0 L160.5,534.5 L161.1,532.5 L161.7,531.5 L162.3,532.1 L162.9,530.9 L163.5,531.1 L164.1,530.0 L164.7,529.0 L165.3,528.4 L165.9,527.9 L166.5,526.2 L167.1,525.0 L167.8,526.7 L168.4,529.2 L169.0,531.1 L169.7,532.3 L170.3,533.8 L170.9,533.1 L171.5,534.5 L172.2,537.1 L172.8,537.9 L173.5,535.2 L174.1,534.8 L174.8,532.7 L175.4,531.4 L176.1,531.0 L176.7,526.8 L177.3,524.5 L178.0,524.4 L178.6,527.7 L179.2,529.4 L179.9,532.0 L180.5,533.0 L181.1,534.7 L181.8,536.7 L182.4,539.9 L183.0,540.6 L183.6,542.6 L184.2,545.0 L184.9,549.3 L185.5,550.6 L186.1,551.0 L186.8,547.8 L187.4,547.1 L188.0,546.7 L188.7,547.8 L189.3,548.6 L189.9,546.9 L190.5,545.1 L191.2,544.5 L191.8,544.3 L192.5,543.3 L193.1,539.5 L193.8,536.9 L194.4,534.4 L195.1,531.8 L195.7,531.0 L196.3,527.5 L197.0,523.2 L197.7,523.8 L198.3,526.1 L199.0,528.8 L199.7,530.8 L200.3,530.6 L201.0,532.4 L201.6,534.3 L202.3,536.7 L202.9,534.4 L203.6,532.7 L204.2,531.7 L204.8,530.9 L205.4,530.7 L206.1,529.5 L206.7,526.4 L207.3,524.7 L208.0,524.5 L208.6,524.8 L209.2,526.2 L209.8,527.9 L210.4,527.8 L211.0,530.2 L211.6,533.8 L212.2,533.7 L212.8,534.9 L213.5,530.8 L214.1,528.7 L214.8,529.5 L215.4,528.4 L216.1,524.9 L216.7,520.1 L217.3,517.3 L218.0,515.3 L218.6,521.1 L219.2,525.5 L219.8,528.8 L220.4,533.1 L221.0,537.0 L221.6,542.8 L222.2,547.7 L222.8,550.3 L223.4,552.1 L224.0,550.5 L224.7,549.7 L225.3,547.4 L225.9,545.8 L226.6,541.1 L227.2,538.1 L227.8,535.2 L228.4,534.4 L229.1,531.3 L229.7,527.7 L230.3,526.8 L230.9,528.0 L231.5,528.0 L232.1,528.9 L232.7,528.1 L233.3,525.4 L234.0,526.1 L234.6,527.2 L235.2,528.2 L235.8,528.7 L236.4,528.2 L237.0,526.9 L237.6,527.5 L238.2,529.9 L238.8,529.6 L239.4,530.8 L240.0,531.2 L240.6,533.0 L241.2,535.2 L241.8,535.4 L242.4,536.2 L243.0,532.5 L243.7,530.6 L244.3,530.3 L244.9,529.2 L245.6,526.6 L246.2,525.0 L246.8,523.0 L247.4,521.7 L248.1,519.9 L248.7,518.2 L249.3,518.1 L250.0,521.8 L250.6,524.4 L251.2,527.7 L251.8,530.9 L252.5,531.9 L253.1,531.1 L253.7,534.4 L254.4,537.5 L255.0,539.7 L255.7,537.8 L256.3,533.8 L257.0,529.7 L257.6,528.4 L258.3,524.2 L259.0,521.3 L259.6,517.1 L260.3,514.1 L260.9,517.9 L261.5,520.6 L262.1,521.5 L262.8,523.4 L263.4,522.5 L264.0,524.5 L264.6,528.3 L265.2,531.4 L265.9,532.5 L266.5,534.1 L267.1,535.7 L267.7,538.5 L268.3,538.4 L269.0,537.9 L269.6,538.0 L270.2,538.0 L270.9,540.2 L271.5,543.3 L272.1,542.4 L272.7,542.8 L273.4,542.7 L274.0,542.9 L274.6,541.6 L275.3,539.4 L275.9,536.4 L276.6,532.3 L277.2,530.4 L277.9,528.8 L278.6,525.7 L279.2,521.3 L279.8,519.6 L280.4,520.9 L281.0,522.6 L281.6,521.5 L282.2,520.6 L282.8,518.5 L283.4,517.5 L284.1,518.3 L284.7,517.1 L285.3,517.0 L285.9,515.6 L286.5,515.2 L287.1,516.2 L287.7,514.7 L288.4,519.5 L289.0,520.6 L289.7,524.0 L290.4,528.8 L291.0,533.8 L291.7,537.5 L292.3,541.3 L293.0,542.5 L293.6,542.0 L294.3,540.5 L294.9,539.2 L295.5,537.7 L296.1,535.7 L296.8,534.6 L297.4,533.5 L298.0,532.0 L298.7,529.7 L299.3,526.2 L300.0,528.8 L300.7,534.2 L301.4,536.2 L302.1,539.8 L302.8,540.7 L303.5,543.3 L304.1,541.9 L304.7,539.6 L305.4,537.9 L306.0,535.0 L306.6,534.5 L307.2,533.7 L307.8,533.9 L308.4,531.3 L309.0,527.1 L309.7,525.0 L310.3,524.5 L310.9,522.7 L311.6,524.8 L312.3,526.6 L312.9,528.2 L313.6,531.7 L314.3,533.6 L315.0,534.9 L315.6,532.3 L316.3,528.8 L316.9,528.7 L317.6,527.0 L318.2,523.7 L318.8,520.6 L319.5,516.0 L320.1,514.9 L320.8,513.5 L321.4,510.6 L322.0,514.0 L322.7,517.7 L323.3,521.1 L323.9,525.2 L324.5,528.7 L325.2,531.1 L325.8,533.5 L326.4,538.0 L327.1,541.7 L327.7,546.7 L328.3,544.9 L329.0,541.6 L329.6,539.8 L330.2,538.7 L330.9,539.8 L331.5,537.3 L332.1,535.8 L332.8,535.4 L333.4,533.5 L334.0,534.3 L334.7,530.7 L335.3,527.8 L335.9,526.7 L336.6,526.4 L337.2,527.8 L337.8,528.8 L338.5,528.3 L339.1,527.1 L339.7,527.7 L340.4,528.3 L341.0,530.5 L341.6,529.8 L342.2,529.8 L342.9,531.6 L343.5,532.2 L344.1,531.5 L344.7,530.5 L345.3,526.1 L345.9,524.4 L346.5,524.1 L347.1,524.3 L347.8,523.8 L348.4,521.4 L349.0,519.3 L349.6,517.6 L350.2,516.7 L350.8,516.4 L351.4,514.1 L352.0,512.3 L352.6,517.3 L353.3,520.9 L353.9,525.7 L354.5,530.2 L355.1,531.7 L355.8,535.5 L356.4,538.8 L357.0,544.8 L357.7,549.9 L358.3,552.2 L358.9,552.3 L359.6,552.0 L360.2,552.0 L360.8,553.2 L361.5,551.2 L362.1,550.9 L362.7,551.9 L363.3,552.6 L364.0,554.2 L364.6,552.8 L365.2,551.2 L365.9,550.4 L366.5,552.1 L367.1,553.2 L367.7,553.1 L368.4,551.6 L369.0,551.1 L369.6,551.5 L370.2,550.9 L370.9,550.6 L371.5,551.2 L372.1,549.1 L372.8,551.6 L373.4,552.4 L374.0,553.2 L374.6,550.4 L375.3,549.3 L375.9,549.8 L376.5,548.9 L377.2,549.7 L377.8,550.0 L378.4,548.9 L379.1,550.9 L379.7,554.7 L380.4,555.8 L381.1,558.7 L381.7,559.1 L382.4,560.2 L383.0,565.6 L383.7,567.5 L384.3,565.0 L385.0,561.3 L385.6,557.1 L386.2,555.7 L386.9,553.1 L387.5,551.0 L388.1,549.4 L388.8,546.6 L389.4,544.2 L390.0,542.6 L390.7,544.0 L391.3,542.6 L391.9,544.0 L392.6,545.5 L393.2,548.5 L393.8,549.1 L394.4,548.4 L395.0,546.7 L395.7,546.4 L396.3,547.0 L396.9,547.9 L397.5,548.0 L398.1,547.4 L398.8,547.0 L399.4,547.3 L400.0,548.6 L400.6,546.3 L401.2,544.6 L401.9,545.0 L402.5,545.1 L403.1,545.5 L403.7,546.5 L404.4,543.9 L405.0,541.2 L405.6,539.0 L406.3,537.5 L406.9,536.7 L407.5,534.4 L408.2,531.5 L408.8,529.8 L409.4,528.7 L410.1,528.4 L410.7,530.1 L411.3,529.2 L411.9,531.6 L412.6,534.5 L413.2,537.9 L413.8,539.2 L414.5,541.7 L415.1,542.4 L415.7,544.6 L416.4,547.9 L417.0,546.2 L417.6,543.7 L418.2,541.8 L418.8,540.7 L419.4,539.8 L420.0,537.9 L420.6,536.9 L421.2,533.7 L421.9,536.0 L422.5,539.4 L423.2,542.5 L423.9,546.1 L424.5,548.3 L425.2,552.1 L425.8,555.3 L426.5,557.9 L427.1,556.6 L427.7,553.4 L428.3,550.8 L428.9,548.7 L429.6,547.4 L430.2,545.2 L430.8,543.0 L431.4,539.1 L432.0,535.6 L432.6,535.4 L433.2,533.3 L433.8,534.1 L434.4,534.7 L435.0,536.2 L435.6,537.2 L436.2,539.1 L436.9,538.7 L437.5,539.7 L438.1,535.2 L438.8,534.5 L439.4,531.7 L440.1,529.4 L440.7,525.8 L441.4,521.2 L442.1,518.4 L442.7,517.0 L443.4,516.7 L444.1,518.2 L444.8,518.5 L445.5,520.0 L446.1,525.1 L446.8,529.7 L447.5,533.2 L448.1,537.9 L448.8,543.6 L449.4,550.2 L450.1,556.3 L450.7,552.7 L451.3,550.1 L451.9,548.1 L452.5,546.2 L453.1,544.3 L453.7,542.8 L454.3,540.9 L454.9,537.8 L455.5,537.5 L456.1,536.2 L456.7,534.0 L457.3,530.1 L457.9,526.5 L458.5,524.8 L459.2,530.7 L459.9,533.7 L460.5,535.6 L461.2,539.5 L461.8,541.1 L462.5,545.0 L463.1,548.3 L463.8,550.8 L464.4,550.5 L465.0,549.5 L465.6,550.0 L466.3,549.5 L466.9,548.4 L467.5,544.4 L468.1,544.2 L468.7,543.3 L469.3,543.8 L470.0,544.2 L470.6,542.2 L471.2,540.0 L471.9,544.0 L472.6,547.9 L473.3,549.8 L473.9,545.8 L474.6,543.4 L475.2,541.8 L475.8,538.5 L476.5,535.8 L477.1,535.5 L477.7,533.9 L478.3,532.4 L479.0,534.4 L479.6,535.4 L480.2,537.3 L480.8,539.6 L481.4,541.8 L482.0,544.4 L482.6,547.3 L483.2,549.1 L483.8,552.1 L484.5,548.9 L485.1,549.2 L485.8,548.0 L486.5,546.0 L487.1,543.6 L487.8,539.3 L488.4,537.9 L489.1,536.8 L489.7,534.9 L490.4,536.2 L491.1,538.4 L491.7,541.2 L492.4,542.1 L493.0,545.0 L493.7,545.0 L494.4,545.2 L495.0,546.1 L495.7,545.2 L496.3,543.8 L497.0,539.9 L497.7,537.9 L498.3,536.5 L499.0,536.1 L499.6,534.3 L500.3,537.1 L500.9,539.9 L501.5,542.5 L502.1,545.8 L502.7,549.5 L503.3,550.5 L503.9,552.5 L504.6,556.1 L505.2,561.0 L505.8,565.3 L506.4,568.1 L507.0,570.6 L507.6,567.0 L508.2,567.0 L508.9,565.7 L509.5,565.9 L510.1,563.9 L510.7,562.1 L511.3,562.1 L511.9,562.6 L512.6,561.2 L513.2,559.9 L513.8,556.4 L514.4,555.2 L515.0,556.6 L515.7,559.6 L516.3,561.0 L516.9,563.7 L517.6,564.5 L518.2,568.2 L518.8,570.4 L519.5,572.9 L520.1,574.8 L520.7,576.4 L521.3,577.2 L522.0,575.3 L522.6,574.7 L523.2,573.2 L523.9,569.3 L524.5,569.8 L525.1,570.8 L525.8,570.1 L526.4,569.0 L527.0,565.6 L527.7,567.0 L528.4,568.4 L529.0,569.0 L529.7,569.0 L530.3,570.0 L531.0,570.1 L531.7,572.1 L532.3,574.5 L532.9,573.6 L533.5,571.0 L534.1,569.4 L534.7,568.6 L535.3,570.3 L535.9,568.2 L536.5,567.4 L537.1,567.2 L537.7,566.8 L538.3,565.5 L538.9,565.7 L539.5,562.5 L540.1,562.0 L540.7,560.5 L541.3,563.5 L541.9,565.9 L542.5,566.6 L543.2,567.5 L543.8,567.9 L544.4,568.8 L545.0,571.9 L545.6,570.9 L546.3,571.0 L546.9,570.0 L547.6,569.5 L548.3,570.7 L548.9,568.4 L549.6,567.3 L550.2,566.0 L550.9,567.6 L551.5,571.6 L552.1,572.7 L552.8,573.1 L553.4,572.7 L554.0,573.3 L554.7,576.0 L555.3,577.7 L555.9,578.5 L556.6,578.2 L557.2,575.2 L557.8,571.0 L558.4,567.9 L559.1,562.6 L559.7,558.6 L560.3,554.6 L561.0,551.0 L561.6,548.4 L562.2,544.2 L562.9,546.1 L563.5,547.4 L564.1,549.5 L564.8,552.2 L565.4,554.8 L566.0,557.8 L566.7,560.3 L567.3,562.9 L567.9,565.9 L568.6,567.3 L569.2,569.1 L569.8,571.1 L570.5,569.8 L571.1,568.9 L571.7,568.9 L572.4,567.9 L573.0,564.7 L573.6,563.5 L574.3,561.6 L574.9,561.7 L575.5,559.5 L576.2,557.9 L576.8,556.2 L577.4,555.8 L578.1,555.4 L578.7,554.9 L579.3,553.3 L579.9,551.5 L580.5,551.8 L581.1,554.0 L581.7,554.9 L582.3,555.0 L582.9,555.0 L583.6,550.9 L584.2,550.3 L584.9,548.9 L585.5,546.2 L586.2,544.6 L586.9,542.9 L587.5,541.2 L588.2,540.9 L588.8,543.0 L589.4,543.6 L590.1,544.3 L590.7,548.0 L591.3,550.6 L592.0,553.1 L592.6,556.0 L593.2,557.8 L593.9,559.7 L594.5,562.7 L595.1,561.7 L595.7,558.7 L596.3,555.3 L596.9,555.0 L597.5,553.8 L598.1,552.7 L598.7,550.9 L599.3,548.0 L599.9,545.4 L600.5,543.3 L601.1,542.5 L601.7,540.7 L602.3,537.9 L603.0,536.4 L603.6,534.1 L604.2,537.9 L604.9,538.3 L605.5,539.2 L606.2,539.9 L606.9,540.8 L607.5,545.2 L608.2,546.6 L608.9,541.9 L609.5,537.9 L610.2,533.4 L610.8,531.6 L611.5,527.8 L612.1,523.4 L612.8,519.2 L613.5,516.0 L614.1,522.1 L614.7,527.0 L615.4,528.9 L616.0,532.6 L616.6,537.1 L617.3,543.6 L617.9,549.4 L618.5,553.6 L619.2,556.3 L619.8,559.5 L620.4,558.1 L621.1,558.6 L621.8,556.8 L622.4,555.7 L623.1,555.8 L623.7,555.3 L624.4,555.4 L625.1,553.3 L625.7,553.2 L626.3,554.5 L626.9,556.9 L627.5,559.3 L628.1,563.0 L628.7,564.6 L629.3,563.6 L629.9,561.5 L630.5,561.1 L631.1,559.6 L631.7,556.6 L632.3,554.9 L632.9,552.3 L633.5,552.6 L634.2,557.5 L634.9,561.2 L635.6,563.0 L636.3,559.3 L636.9,556.9 L637.6,554.8 L638.2,551.6 L638.9,547.6 L639.6,544.6 L640.2,541.9 L640.8,544.8 L641.4,546.8 L642.0,549.1 L642.7,550.1 L643.3,553.7 L643.9,558.6 L644.5,560.4 L645.1,562.4 L645.7,565.0 L646.3,565.8 L646.9,569.1 L647.5,573.4 L648.1,577.4 L648.7,578.0 L649.3,581.8 L649.9,579.7 L650.6,579.5 L651.2,578.0 L651.8,575.2 L652.5,575.1 L653.1,573.0 L653.7,574.6 L654.4,574.3 L655.0,571.5 L655.6,569.9 L656.2,569.5 L656.8,572.4 L657.4,576.2 L658.0,577.8 L658.6,580.9 L659.2,582.1 L659.8,585.1 L660.4,586.8 L661.0,588.3 L661.6,591.1 L662.2,590.9 L662.9,593.6 L663.5,596.5 L664.1,600.7 L664.7,598.8 L665.3,595.4 L666.0,592.5 L666.6,591.6 L667.2,591.8 L667.8,589.3 L668.5,587.5 L669.1,586.4 L669.7,585.4 L670.4,584.9 L671.0,586.1 L671.6,586.9 L672.3,586.2 L672.9,589.8 L673.5,591.2 L674.2,594.1 L674.8,595.4 L675.4,597.2 L676.1,597.7 L676.7,600.6 L677.3,600.6 L677.9,599.9 L678.5,598.0 L679.1,596.8 L679.7,598.2 L680.3,597.9 L680.9,596.0 L681.6,594.8 M688.4,581.7 L689.1,581.2 L689.7,583.3 L690.3,586.6 L691.0,587.4 L691.6,587.3 L692.2,583.4 L692.8,579.9 L693.4,579.8 L694.0,578.7 L694.6,575.4 L695.2,571.7 L695.8,568.3 L696.4,567.2 L697.0,567.8 L697.6,567.3 L698.2,563.9 L698.8,564.2 L699.4,564.3 L700.0,563.6 L700.7,559.9 L701.3,552.3 L701.9,546.1 L702.6,541.2 L703.2,537.8 L703.8,534.4 L704.5,529.8 L705.1,527.0 L705.7,522.2 L706.3,519.3 L707.1,517.0 L707.8,515.0 L708.5,512.2 L709.1,514.9 L709.7,518.9 L710.4,522.0 L711.0,524.1 L711.6,525.0 L712.3,528.2 L712.9,535.0 L713.5,540.5 L714.1,545.3 L714.8,549.6 L715.5,552.9 L716.2,555.0 L716.8,556.3 L717.5,558.9 L718.2,560.0 L719.0,563.1 L719.7,568.4 L720.4,571.4 L721.1,573.6 L721.7,577.8 L722.4,583.1 L723.0,587.2 L723.6,594.5 L724.3,599.2 L724.9,598.0 L725.5,599.3 L726.1,600.3 L726.7,601.3 L727.3,600.7 L727.9,599.2 L728.5,599.1 L729.1,600.1 L729.7,602.9 L730.4,604.5 L731.0,604.1 L731.6,604.0 L732.3,601.2 L732.9,599.3 L733.5,597.6 L734.2,595.2 L734.8,591.3 L735.5,588.0 L736.2,584.5 L736.9,580.2 L737.5,576.8 L738.2,574.9 L738.8,572.7 L739.4,571.7 L740.1,569.6 L740.7,567.4 L741.6,532.2 L742.4,550.3 L743.2,569.1 L743.9,567.2 L744.5,566.6 L745.1,566.3 L745.8,566.7 L746.4,565.6 L747.1,554.3 L747.9,543.5 L748.5,542.2 L749.1,543.0 L749.7,544.3 L750.3,545.5 L750.9,545.3 L751.5,544.7 L752.1,544.8 L752.7,546.0 L753.4,547.2 L754.0,546.0 L754.6,546.0 L755.3,546.9 L755.9,549.4 L756.5,550.1 L757.2,549.9 L757.8,546.7 L758.4,547.1 L759.1,553.1 L759.8,561.3 L760.5,567.8 L761.2,573.5 L761.8,575.1 L762.4,577.4 L763.0,580.1 L763.6,583.9 L764.2,585.3 L764.8,586.4 L765.4,588.8 L766.0,593.9 L766.6,596.0 L767.2,597.3 L767.8,598.3 L768.4,598.7 L769.0,601.4 L769.6,605.7 L770.2,608.7 L770.8,611.5 L771.4,612.7 L772.0,616.8 L772.6,619.9 L773.2,621.8 L773.8,624.3 L774.5,618.9 L775.1,616.2 L775.8,616.3 L776.4,613.1 L777.1,610.4 L777.8,606.5 L778.4,602.8 L779.1,599.7 L779.7,597.3 L780.3,591.6 L780.9,588.0 L781.5,584.4 L782.1,580.1 L782.7,576.0 L783.3,572.8 L783.9,569.3 L784.5,566.6 L785.1,565.4 L785.7,565.1 L786.3,563.7 L786.9,562.2 L787.5,558.6 L788.1,558.5 L788.8,560.0 L789.4,561.9 L790.0,562.8 L790.7,564.7 L791.3,560.8 L791.9,559.3 L792.6,555.1 L793.2,552.9 L793.8,546.9 L794.5,544.4 L795.1,543.1 L795.7,544.2 L796.4,542.8 L797.0,540.4 L797.7,546.4 L798.4,553.6 L799.1,562.5 L799.7,567.2 L800.4,569.0 L801.0,572.4 L801.6,576.9 L802.3,579.8 L802.9,584.3 L803.5,587.1 L804.1,588.9 L804.7,592.3 L805.3,597.3 L805.9,601.2 L806.5,606.4 L807.1,606.0 L807.8,607.0 L808.5,607.2 L809.1,610.0 L809.8,610.1 L810.4,611.1 L811.1,612.2 L811.7,613.6 L812.4,614.3 L813.1,615.4 L813.7,615.7 L814.4,614.3 L815.0,615.4 L815.7,616.7 L816.4,618.8 L817.0,618.7 L817.6,616.1 L818.2,614.7 L818.8,612.7 L819.4,611.0 L820.0,609.0 L820.6,607.7 L821.2,606.8 L821.8,609.1 L822.4,611.7 L823.0,611.0 L823.6,610.9 L824.2,611.4 L824.8,612.1 L825.4,615.4 L826.0,616.5 L826.7,616.0 L827.3,613.7 L827.9,614.5 L828.5,614.8 L829.1,614.7 L829.7,613.3 L830.3,607.5 L830.9,604.3 L831.6,601.2 L832.2,598.1 L832.8,596.9 L833.4,593.7 L834.0,591.7 L834.6,590.1 L835.2,589.6 L835.8,589.1 L836.4,588.7 L837.0,587.1 L837.7,585.1 L838.4,586.3 L839.0,583.9 L839.7,583.8 L840.3,580.6 L841.0,579.5 L841.7,579.1 L842.3,580.2 L842.9,582.0 L843.5,580.9 L844.1,581.2 L844.7,583.8 L845.3,584.7 L845.9,586.1 L846.5,587.9 L847.1,585.1 L847.7,583.7 L848.3,583.0 L848.9,581.3 L849.5,580.1 L850.1,576.4 L850.7,574.1 L851.3,573.5 L851.9,575.3 L852.5,575.8 L853.2,574.8 L853.8,571.3 L854.4,570.8 L855.0,570.2 L855.6,572.0 L856.2,572.7 L856.9,572.8 L857.5,573.2 L858.1,576.3 L858.8,577.1 L859.5,586.5 L860.2,593.1 L861.0,602.7 L861.7,612.6 L862.3,613.0 L863.0,611.6 L863.6,608.6 L864.2,607.6 L864.9,605.6 L865.5,605.1 L866.1,609.3 L866.8,612.7 L867.4,616.7 L868.0,622.5 L868.7,628.3 L869.3,626.5 L869.9,622.6 L870.6,619.3 L871.2,618.1 L871.8,617.4 L872.5,618.7 L873.1,620.2 L873.8,620.5 L874.5,621.5 L875.1,622.4 L875.8,624.8 L876.4,623.1 L877.1,624.0 L877.7,627.1 L878.4,631.1 L879.1,633.0 L879.7,632.9 L880.4,632.1 L881.0,635.1 L881.7,636.2 L882.4,638.4 L883.0,637.5 L883.6,637.4 L884.2,637.1 L884.8,637.1 L885.4,637.2 L886.0,635.3 L886.6,633.6 L887.2,630.7 L887.8,631.6 L888.4,631.2 L889.0,629.3 L889.6,624.9 L890.2,623.2 L890.8,620.8 L891.4,620.3 L892.0,619.2 L892.6,618.9 L893.2,617.3 L893.8,616.1 L894.4,614.7 L895.0,614.9 L895.6,611.5 L896.2,609.8 L896.8,606.3 L897.4,605.4 L898.0,605.6 L898.6,606.1 L899.2,604.8 L899.9,597.9 L900.5,593.0 L901.1,588.6 L901.8,585.1 L902.4,580.6 L903.0,579.5 L903.6,578.3 L904.2,578.3 L904.8,580.4 L905.4,578.6 L906.0,577.9 L906.6,576.7 L907.2,570.5 L907.9,567.0 L908.5,563.4 L909.1,558.9 L909.8,552.8 L910.4,560.2 L911.0,566.7 L911.7,575.4 L912.3,583.2 L912.9,589.2 L913.6,590.2 L914.2,591.0 L914.8,593.6 L915.5,592.6 L916.1,591.6 L916.7,591.9 L917.3,592.6 L917.9,595.8 L918.5,596.9 L919.1,597.4 L919.7,598.1 L920.3,598.6 L920.9,601.7 L921.5,605.1 L922.1,607.2 L922.7,608.4 L923.3,611.5 L923.9,615.6 L924.5,618.0 L925.2,622.7 L925.8,624.5 L926.4,626.2 L927.0,629.0 L927.7,633.8 L928.3,636.8 L929.0,637.9 L929.7,638.5 L930.3,639.0 L931.0,640.9 L931.6,641.8 L932.3,640.6 L933.0,642.0 L933.6,642.7 L934.3,643.7 L934.9,643.2 L935.6,642.8 L936.2,640.4 L936.9,639.9 L937.6,641.1 L938.2,641.6 L938.9,639.1 L939.5,638.2 L940.2,635.9 L940.9,635.5 L941.5,635.4 L942.2,633.2 L942.8,629.6 L943.5,629.8 L944.1,628.3 L944.7,628.1 L945.3,625.6 L945.9,622.0 L946.5,620.0 L947.1,618.6 L947.7,618.2 L948.3,615.3 L948.9,613.5 L949.5,610.8 L950.1,609.8 L950.7,608.9 L951.3,608.3 L951.9,605.8 L952.5,603.7 L953.1,604.6 L953.7,606.4 L954.3,608.3 L954.9,610.3 L955.5,610.0 L956.1,607.7 L956.8,606.2 L957.4,605.2 L958.0,603.9 L958.7,601.5 L959.3,599.7 L959.9,596.8 L960.6,596.7 L961.2,595.9 L961.8,591.6 L962.5,588.3 L963.1,592.7 L963.7,596.7 L964.3,602.8 L964.9,606.4 L965.5,609.7 L966.1,613.0 L966.7,617.6 L967.3,613.5 L967.9,609.5 L968.6,604.8 L969.2,599.7 L969.8,597.2 L970.4,601.2 L971.0,605.4 L971.6,607.2 L972.2,609.6 L972.9,613.1 L973.5,618.1 L974.1,622.5 L974.7,618.1 L975.3,615.3 L975.9,609.4 L976.5,606.0 L977.1,601.7 L977.7,597.7 L978.3,594.7 L978.9,593.6 L979.6,594.4 L980.2,596.2 L980.9,597.2 L981.6,596.4 L982.2,594.9 L982.9,594.8 L983.5,595.3 L984.2,600.2 L984.9,605.3 L985.5,607.4 L986.2,611.5 L986.8,615.5 L987.5,619.1 L988.2,622.7 L988.8,624.5 L989.5,620.8 L990.1,620.7 L990.8,618.6 L991.4,615.0 L992.1,610.6 L992.8,605.5 L993.4,602.9 L994.1,601.2 L994.7,604.5 L995.3,605.4 L996.0,608.6 L996.6,612.0 L997.2,613.6 L997.9,614.4 L998.5,615.1 L999.1,617.2 L999.8,619.0 L1000.4,623.7 L1001.0,625.8 L1001.6,629.9 L1002.2,630.9 L1002.8,634.8 L1003.4,637.5 L1004.0,641.1 L1004.6,645.6 L1005.3,643.6 L1005.9,644.0 L1006.6,643.8 L1007.3,642.4 L1007.9,641.2 L1008.6,639.2 L1009.2,638.5 L1009.9,637.9 L1010.6,641.3 L1011.2,642.6 L1011.9,642.8 L1012.6,643.2 L1013.3,644.6 L1013.9,646.5 L1014.6,647.7 L1015.3,649.7 L1015.9,647.1 L1016.6,645.5 L1017.2,644.7 L1017.9,642.6 L1018.6,639.1 L1019.2,635.7 L1019.9,635.8 L1020.5,635.4 L1021.2,634.1 L1021.9,629.8 L1022.5,628.3 L1023.2,626.4 L1023.8,623.1 L1024.5,621.6 L1025.2,619.0 L1025.8,617.3 L1026.5,621.4 L1027.1,623.2 L1027.8,625.9 L1028.4,625.1 L1029.1,628.5 L1029.8,630.8 L1030.4,634.0 L1031.1,638.2 L1031.7,630.7 L1032.3,622.4 L1033.0,615.9 L1033.6,608.5 L1034.2,600.9 L1034.9,593.9 L1035.6,597.1 L1036.3,600.3 L1037.0,604.5 L1037.7,606.5 L1038.5,607.7 L1039.1,602.1 L1039.8,595.2 L1040.5,590.0 L1041.2,583.8 L1041.9,589.3 L1042.6,594.1 L1043.3,600.0 L1044.1,604.6 L1044.8,608.9 L1045.4,602.3 L1046.0,596.5 L1046.6,592.3 L1047.2,587.6 L1047.8,580.4 L1048.4,573.6 L1049.0,567.3 L1049.6,568.8 L1050.2,569.1 L1050.8,568.2 L1051.4,566.6 L1052.0,565.7 L1052.6,564.8 L1053.2,565.5 L1053.8,571.0 L1054.5,576.9 L1055.1,583.0 L1055.7,589.1 L1056.4,597.6 L1057.0,603.4 L1057.6,607.7 L1058.3,610.1 L1058.9,613.8 L1059.5,620.4 L1060.2,625.2 L1060.8,619.8 L1061.4,615.2 L1062.0,610.5 L1062.6,606.4 L1063.2,600.9 L1063.8,595.3 L1064.4,589.1 L1065.0,592.1 L1065.7,596.5 L1066.4,603.4 L1067.0,607.6 L1067.7,609.5 L1068.4,612.3 L1069.0,616.1 L1069.7,617.7 L1070.4,616.0 L1071.1,615.7 L1071.7,617.7 L1072.3,621.7 L1072.9,627.4 L1073.5,629.0 L1074.1,632.0 L1074.7,634.0 L1075.3,636.8 L1076.0,639.0 L1076.6,640.7 L1077.2,639.9 L1077.8,639.3 L1078.4,639.0 L1079.0,639.2 L1079.6,640.2 L1080.3,640.7 L1080.9,639.4 L1081.5,640.5 L1082.1,640.3 L1082.7,640.8 L1083.4,643.0 L1084.0,643.2 L1084.7,642.0 L1085.4,644.3 L1086.0,646.0 L1086.7,648.1 L1087.3,648.5 L1088.0,648.4 L1088.7,646.5 L1089.3,645.9 L1090.0,644.3 L1090.6,641.8 L1091.3,638.0 L1091.9,638.2 L1092.6,637.6 L1093.3,636.3 L1093.9,637.6 L1094.5,639.3 L1095.2,641.5 L1095.8,644.1 L1096.4,647.5 L1097.1,644.0 L1097.7,639.9 L1098.4,635.4 L1099.1,632.1 L1099.7,627.4 L1100.4,623.4 L1101.0,617.7 L1101.7,614.6 L1102.3,616.9 L1103.0,621.3 L1103.6,623.5 L1104.2,624.5 L1104.9,624.7 L1105.5,620.1 L1106.1,614.1 L1106.8,608.5 L1107.4,603.5 L1108.0,597.0 L1108.7,591.8 L1109.3,587.1 L1109.9,581.5 L1110.5,574.9 L1111.2,567.3 L1111.8,565.6 L1112.4,564.4 L1113.0,562.9 L1113.6,559.6 L1114.2,555.3 L1114.8,552.4 L1115.4,548.3 L1116.0,555.8 L1116.6,560.0 L1117.2,564.8 L1117.8,570.6 L1118.4,575.7 L1119.0,581.3 L1119.6,586.1 L1120.2,590.7 L1120.9,595.5 L1121.5,600.8 L1122.1,609.0 L1122.8,615.1 L1123.4,608.1 L1124.0,599.8 L1124.6,592.0 L1125.2,584.8 L1125.8,577.6 L1126.4,569.8 L1127.0,561.9 L1127.6,565.1 L1128.2,567.9 L1128.8,572.3 L1129.4,574.5 L1130.0,577.5 L1130.6,578.1 L1131.2,580.1 L1131.8,583.4 L1132.6,580.5 L1133.3,574.8 L1134.0,568.1 L1134.7,562.2 L1135.4,555.3 L1136.1,562.6 L1136.7,567.8 L1137.3,572.9 L1138.0,580.1 L1138.6,586.0 L1139.2,585.1 L1139.8,582.6 L1140.4,578.5 L1141.0,575.6 L1141.6,573.1 L1142.2,573.3 L1142.8,572.5 L1143.5,579.1 L1144.1,584.2 L1144.8,588.7 L1145.4,596.5 L1146.1,601.0 L1146.8,606.4 L1147.4,612.6 L1148.1,619.6 L1148.7,618.0 L1149.3,614.9 L1149.9,612.2 L1150.5,608.2 L1151.1,604.4 L1151.7,602.9 L1152.3,601.4 L1152.9,602.8 L1153.5,605.3 L1154.1,607.3 L1154.7,609.6 L1155.3,611.9 L1155.9,614.8 L1156.5,615.7 L1157.1,615.8 L1157.8,618.4 L1158.4,621.0 L1159.0,623.9 L1159.7,625.4 L1160.3,628.2 L1160.9,630.9 L1161.5,634.4 L1162.1,640.0 L1162.7,643.8 L1163.3,648.2 L1163.9,652.0 L1164.5,651.6 L1165.1,651.7 L1165.7,653.8 L1166.3,652.0 L1166.9,651.2 L1167.5,650.7 L1168.1,652.7 L1168.8,655.1 L1169.4,657.1 L1170.1,655.5 L1170.7,655.4 L1171.4,656.9 L1172.0,657.1 L1172.7,659.1 L1173.4,659.0 L1174.0,658.9 L1174.7,657.5 L1175.3,656.8 L1176.0,655.4 L1176.7,653.1 L1177.3,652.2 L1178.0,650.8 L1178.6,651.2 L1179.3,653.9 L1179.9,654.4 L1180.5,656.3 L1181.2,657.7 L1181.8,659.6 L1182.4,657.8 L1183.0,655.1 L1183.6,654.2 L1184.2,651.7 L1184.8,651.4 L1185.4,651.1 L1186.0,647.3 L1186.7,645.1 L1187.3,642.2 L1188.0,641.7 L1188.6,641.4 L1189.3,640.9 L1190.0,638.1 L1190.6,634.6 L1191.3,634.6 L1191.9,631.9 L1192.5,630.0 L1193.1,627.6 L1193.7,625.4 L1194.3,624.2 L1194.9,622.0 L1195.5,620.9 L1196.1,623.2 L1196.7,624.1 L1197.3,625.7 L1197.9,630.2 L1198.5,634.6 L1199.1,637.3 L1199.7,639.3 L1200.3,629.9 L1201.0,622.5 L1201.6,615.7 L1202.2,606.9 L1202.9,603.3 L1203.5,599.5 L1204.1,596.6 L1204.8,595.5 L1205.4,592.4 L1206.0,589.6 L1206.6,589.5 L1207.2,589.2 L1207.8,590.8 L1208.4,593.4 L1209.0,597.0 L1209.7,597.4 L1210.3,597.7 L1210.9,591.6 L1211.5,587.6 L1212.2,580.5 L1212.8,575.0 L1213.4,567.2 L1214.0,562.3 L1214.8,570.1 L1215.5,578.1 L1216.2,582.6 L1216.9,588.1 L1217.6,594.7 L1218.3,600.2 L1218.9,606.5 L1219.5,611.6 L1220.2,613.9 L1220.8,620.5 L1221.4,614.0 L1222.1,607.8 L1222.7,600.5 L1223.3,594.3 L1224.0,588.3 L1224.6,584.8 L1225.2,579.8 L1225.9,572.9 L1226.5,567.0 L1227.1,559.7 L1227.8,565.7 L1228.4,570.6 L1229.1,576.8 L1229.8,581.3 L1230.4,586.7 L1231.1,591.5 L1231.7,598.5 L1232.4,601.8 L1233.0,595.8 L1233.7,593.5 L1234.4,589.8 L1235.0,588.6 L1235.7,583.3 L1236.3,578.0 L1237.0,574.2 L1237.7,570.8 L1238.3,569.9 L1238.9,568.0 L1239.6,565.2 L1240.2,564.3 L1240.8,562.9 L1241.5,561.2 L1242.1,567.9 L1242.7,572.3 L1243.3,578.1 L1244.0,584.3 L1244.6,593.6 L1245.2,602.0 L1245.9,609.8 L1246.5,615.1 L1247.1,623.2 L1247.7,623.6 L1248.3,624.8 L1248.9,622.9 L1249.6,623.2 L1250.2,624.0 L1250.8,624.2 L1251.4,626.2 L1252.0,628.4 L1252.6,631.4 L1253.2,633.8 L1253.8,637.8 L1254.4,642.5 L1255.0,648.9 L1255.6,652.5 L1256.2,651.7 L1256.9,650.4 L1257.5,649.9 L1258.2,650.8 L1258.9,650.5 L1259.5,648.8 L1260.2,648.4 L1260.8,650.0 L1261.5,652.0 L1262.2,651.6 L1262.8,650.1 L1263.5,650.3 L1264.1,650.4 L1264.8,652.3 L1265.5,652.6 L1266.1,653.3 L1266.8,651.6 L1267.4,649.6 L1268.1,649.8 L1268.7,646.9 L1269.4,644.7 L1270.1,643.9 L1270.7,643.4 L1271.4,642.8 L1272.0,642.7 L1272.6,641.6 L1273.2,641.8 L1273.8,642.8 L1274.4,643.4 L1275.0,645.5 L1275.6,644.5 L1276.2,646.1 L1276.9,648.4 L1277.5,648.9 L1278.1,651.4 L1278.8,650.8 L1279.4,648.2 L1280.0,645.3 L1280.7,644.5 L1281.3,643.9 L1281.9,642.1 L1282.6,642.7 L1283.2,642.7 L1283.8,644.5 L1284.5,646.5 L1285.1,648.4 L1285.7,649.9 L1286.3,651.5 L1287.0,652.6 L1287.6,655.4 L1288.2,655.8 L1288.9,651.4 L1289.6,647.5 L1290.2,646.3 L1290.9,645.6 L1291.5,643.1 L1292.2,639.3 L1292.9,636.0 L1293.5,632.5 L1294.1,632.4 L1294.8,631.1 L1295.4,630.1 L1296.0,627.3 L1296.7,626.9 L1297.3,627.3 L1297.9,625.1 L1298.6,623.5 L1299.2,620.0 L1299.8,616.8 L1300.4,615.9 L1301.0,614.3 L1301.6,611.0 L1302.2,607.1 L1302.8,604.9 L1303.4,601.0 L1304.1,599.1 L1304.7,601.9 L1305.4,605.0 L1306.0,607.7 L1306.7,611.8 L1307.3,617.7 L1308.0,620.7 L1308.7,621.8 L1309.3,624.3 L1310.0,620.9 L1310.6,617.2 L1311.3,615.0 L1311.9,611.2 L1312.6,605.6 L1313.3,601.1 L1313.9,596.8 L1314.6,593.4 L1315.2,588.6 L1315.9,593.3 L1316.7,599.7 L1317.4,604.7 L1318.1,608.8 L1318.8,613.6 L1319.4,614.9 L1320.0,619.2 L1320.6,622.8 L1321.2,627.0 L1321.8,629.1 L1322.4,631.7 L1323.0,634.6 L1323.9,629.5 L1324.8,622.0 L1325.4,617.8 L1326.0,613.0 L1326.7,610.1 L1327.3,607.6 L1327.9,611.2 L1328.5,613.2 L1329.1,615.3 L1329.8,618.0 L1330.4,622.1 L1331.0,623.9 L1331.6,625.1 L1332.2,627.8 L1332.9,632.5 L1333.5,636.6 L1334.1,642.1 L1334.7,644.5 L1335.3,648.5 L1336.0,651.3 L1336.6,657.3 L1337.2,655.8 L1337.8,653.9 L1338.4,649.5 L1339.1,647.5 L1339.7,644.5 L1340.3,640.4 L1340.9,638.5 L1341.5,634.2 L1342.2,632.0 L1342.8,635.7 L1343.4,640.0 L1344.0,643.3 L1344.6,645.0 L1345.3,646.4 L1345.9,647.2 L1346.5,650.7 L1347.1,655.2 L1347.7,656.7 L1348.4,655.7 L1349.0,655.0 L1349.6,656.0 L1350.2,658.1 L1350.8,659.4 L1351.5,661.0 L1352.1,661.2 L1352.7,660.6 L1353.3,659.9 L1353.9,658.5 L1354.6,656.1 L1355.2,652.1 L1355.8,654.6 L1356.4,657.1 L1357.0,660.4 L1357.7,662.1 L1358.3,662.9 L1358.9,663.7 L1359.5,664.5 L1360.1,664.7 L1360.8,667.0 L1361.4,666.7 L1362.0,666.2 L1362.6,669.2 L1363.2,669.3 L1363.9,667.6 L1364.5,665.3 L1365.1,662.3 L1365.7,660.4 L1366.3,660.8 L1367.0,660.7 L1367.6,662.1 L1368.2,662.0 L1368.8,661.1 L1369.4,662.9 L1370.1,663.4 L1370.7,663.8 L1371.3,663.6 L1371.9,665.1 L1372.5,667.0 L1373.2,669.6 L1373.8,671.2 L1374.4,670.3 L1375.0,669.0 L1375.6,668.3 L1376.3,668.4 L1376.9,668.6 L1377.5,670.1 L1378.1,670.5 L1378.7,669.8 L1379.4,671.6 L1380.0,670.9 L1380.6,672.3 L1381.2,671.6 L1381.8,672.1 L1382.5,672.2 L1383.1,674.2 L1383.7,673.7 L1384.3,672.9 L1384.9,671.5 L1385.6,670.7 L1386.2,671.2 L1386.8,673.1 L1387.4,672.1 L1388.0,671.3 L1388.7,669.8 L1389.3,670.7 L1389.9,671.3 L1390.5,670.4 L1391.1,669.3 L1391.8,667.5 L1392.4,667.7 L1393.0,670.1 L1393.6,671.1 L1394.2,670.3 L1394.9,667.2 L1395.5,667.6 L1396.1,667.0 L1396.7,667.9 L1397.3,668.7 L1398.0,668.1 L1398.6,667.2 L1399.2,667.0 L1399.8,667.6 L1400.4,666.5 L1401.1,663.9 L1401.7,661.7 L1402.3,662.5 L1402.9,662.8 L1403.5,661.0 L1404.2,663.5 L1404.8,663.9 L1405.4,665.0 L1406.0,666.3 L1406.6,669.2 L1407.3,671.4 L1407.9,672.5 L1408.5,672.0 L1409.1,670.0 L1409.7,670.3 L1410.4,669.0 L1411.0,666.6 L1411.6,665.7 L1412.2,664.0 L1412.8,663.0 L1413.5,661.4 L1414.1,659.1 L1414.7,656.0 L1415.3,652.1 L1415.9,651.2 L1416.6,650.1 L1417.2,649.8 L1417.8,651.3 L1418.4,652.9 L1419.0,656.5 L1419.7,658.3 L1420.3,658.8 L1420.9,659.5 L1421.5,657.6 L1422.1,656.5 L1422.8,655.6 L1423.4,656.8 L1424.0,654.3 L1424.6,650.0 L1425.2,647.9 L1425.9,645.4 L1426.5,642.5 L1427.1,638.0 L1427.7,639.1 L1428.3,642.6 L1429.0,645.4 L1429.6,647.5 L1430.2,650.3 L1430.8,650.3 L1431.4,652.2 L1432.1,655.2 L1432.7,657.8 L1433.3,661.4 L1433.9,661.7 L1434.5,660.1 L1435.2,660.6 L1435.8,659.8 L1436.4,661.2 L1437.0,659.4 L1437.6,658.8 L1438.3,657.8 L1438.9,656.4 L1439.5,654.2 L1440.1,653.1 L1440.7,648.8 L1441.4,644.3 L1442.0,640.4 L1442.6,637.6 L1443.2,636.4 L1443.8,631.5 L1444.5,627.1 L1445.1,630.2 L1445.7,631.1 L1446.3,633.5 L1446.9,633.8 L1447.6,634.2 L1448.2,637.8 L1448.8,639.8 L1449.4,643.2 L1450.0,639.7 L1450.7,636.5 L1451.3,632.2 L1451.9,631.3 L1452.5,628.0 L1453.1,627.9 L1453.8,625.1 L1454.4,620.8 L1455.0,618.8 L1455.6,621.0 L1456.2,622.5 L1456.9,624.1 L1457.5,624.6 L1458.1,626.8 L1458.7,628.9 L1459.3,626.1 L1460.0,623.2 L1460.6,618.0 L1461.2,613.1 L1461.8,610.2 L1462.4,614.4 L1463.1,615.8 L1463.7,619.8 L1464.3,621.8 L1464.9,625.1 L1465.5,627.8 L1466.2,629.9 L1466.8,632.3 L1467.4,632.1 L1468.0,635.1 L1468.6,639.3 L1469.2,642.6 L1469.9,645.8 L1470.5,645.7 L1471.1,648.2 L1471.7,648.8 L1472.3,651.7 L1473.0,654.2 L1473.6,651.1 L1474.2,646.0 L1474.8,643.7 L1475.4,642.7 L1476.1,638.8 L1476.7,634.9" fill="none" stroke="#e0302c" stroke-width="2.0" stroke-linejoin="round"/>
<line x1="685.0" y1="426.5" x2="685.0" y2="680.0" stroke="#000" stroke-width="3.8"/>
<text x="382.2" y="710.4" font-size="27" textLength="57.7" lengthAdjust="spacingAndGlyphs">SHL</text>
<text x="507.5" y="711.5" font-size="24.5" text-anchor="middle">&#8211;7</text>
<text x="604.9" y="711.5" font-size="24.5" text-anchor="middle">&#8211;6</text>
<text x="707.0" y="711.5" font-size="24.5" text-anchor="middle">&#8211;5</text>
<text x="747.8" y="711.5" font-size="24.5" text-anchor="middle">&#8211;4</text>
<text x="795.4" y="711.5" font-size="24.5" text-anchor="middle">&#8211;3</text>
<text x="854.3" y="711.5" font-size="24.5" text-anchor="middle">&#8211;2</text>
<text x="902.0" y="711.5" font-size="24.5" text-anchor="middle">&#8211;1</text>
<text x="972.6" y="711.5" font-size="24.5" text-anchor="middle">0</text>
<text x="1041.4" y="711.5" font-size="24.5" text-anchor="middle">+1</text>
<text x="1117.6" y="711.5" font-size="24.5" text-anchor="middle">+2</text>
<text x="1216.4" y="711.5" font-size="24.5" text-anchor="middle">+3</text>
<text x="1303.3" y="711.5" font-size="24.5" text-anchor="middle">+4</text>
<text x="1456.2" y="711.5" font-size="24.5" text-anchor="middle">+5</text>
<rect x="41.2" y="715.3" width="1468.0" height="36.3" fill="none" stroke="#555" stroke-width="1.8" stroke-dasharray="4.6,3.4"/>
<line x1="503.6" y1="715.3" x2="503.6" y2="751.6" stroke="#555" stroke-width="1.8" stroke-dasharray="4.6,3.4"/>
<text x="201.8" y="743.4" font-size="28" textLength="157.6" lengthAdjust="spacingAndGlyphs">Linker DNA</text>
<text x="849.3" y="744.0" font-size="28" textLength="251.5" lengthAdjust="spacingAndGlyphs">Nucleosomal DNA</text>
<text x="53.0" y="506.8" font-size="24" textLength="55.5" lengthAdjust="spacingAndGlyphs">&#8211;115</text>
<text x="136.7" y="493.8" font-size="24" textLength="54.3" lengthAdjust="spacingAndGlyphs">&#8211;106</text>
<text x="232.2" y="481.6" font-size="24" textLength="41.2" lengthAdjust="spacingAndGlyphs">&#8211;96</text>
<text x="297.3" y="468.6" font-size="24" textLength="41.2" lengthAdjust="spacingAndGlyphs">&#8211;89</text>
<text x="388.5" y="448.2" font-size="24" textLength="39.0" lengthAdjust="spacingAndGlyphs">&#8211;81</text>
<text x="931.6" y="495.5" font-size="29.5" textLength="69.8" lengthAdjust="spacingAndGlyphs">0N70</text>
<line x1="1284.0" y1="480.0" x2="1322.0" y2="480.0" stroke="#000" stroke-width="6.3" stroke-linecap="round"/>
<line x1="1282.5" y1="506.3" x2="1320.0" y2="506.3" stroke="#e0302c" stroke-width="6.6" stroke-linecap="round"/>
<text x="1333.6" y="487.7" font-size="25.5" textLength="50.4" lengthAdjust="spacingAndGlyphs">NCP</text>
<text x="1333.6" y="515.3" font-size="25.5" textLength="146.0" lengthAdjust="spacingAndGlyphs">NCP+<tspan font-weight="normal">&#916;</tspan>cHLB</text>
<line x1="42.7" y1="823.0" x2="42.7" y2="1040.4" stroke="#000" stroke-width="2.9"/>
<line x1="41.3" y1="1039.0" x2="1528.0" y2="1039.0" stroke="#000" stroke-width="2.9"/>
<rect x="62.3" y="1021.4" width="66.3" height="10.2" fill="#000"/>
<rect x="198.3" y="1021.4" width="27.4" height="10.2" fill="#000"/>
<path d="M42.6,829.0 L43.3,844.3 L43.9,859.0 L44.5,856.4 L45.2,853.4 L45.8,851.7 L46.4,851.0 L47.1,851.0 L47.7,852.5 L48.3,856.9 L49.0,859.4 L49.6,862.9 L50.2,859.5 L50.9,856.7 L51.5,853.5 L52.1,853.6 L52.8,853.3 L53.4,851.4 L54.0,850.1 L54.7,848.6 L55.3,846.7 L55.9,847.1 L56.6,846.7 L57.3,845.6 L58.0,845.9 L59.1,858.3 L59.7,858.7 L60.3,858.9 L61.0,858.8 L61.6,859.2 L62.2,861.2 L62.9,861.2 L63.5,862.1 L64.1,861.4 L64.8,863.2 L65.4,864.3 L66.0,864.5 L66.7,865.2 L67.3,865.8 L67.9,869.0 L68.6,871.0 L69.2,872.3 L69.8,871.1 L70.5,870.0 L71.1,868.4 L71.7,868.1 L72.4,869.7 L73.0,870.2 L73.6,870.7 L74.3,870.6 L74.9,872.3 L75.6,875.2 L76.3,877.0 L77.0,876.9 L77.6,876.4 L78.3,880.0 L78.9,882.9 L79.5,884.6 L80.2,884.5 L80.8,883.0 L81.4,881.0 L82.1,881.9 L82.7,880.7 L83.3,878.7 L84.0,877.9 L84.6,880.1 L85.2,881.6 L85.8,880.1 L86.5,880.5 L87.1,878.6 L87.7,878.2 L88.4,880.0 L89.0,882.6 L89.6,883.4 L90.3,885.1 L91.0,890.0 L91.7,893.4 L92.4,899.3 L93.0,900.5 L93.6,903.6 L94.3,906.7 L94.9,909.7 L95.6,910.2 L96.3,906.6 L97.0,903.0 L97.7,900.1 L98.4,896.6 L99.1,894.5 L99.8,895.4 L100.5,895.8 L101.2,895.7 L101.9,894.4 L102.5,894.3 L103.1,890.6 L103.8,889.7 L104.5,892.0 L105.1,894.1 L105.8,896.3 L106.5,896.7 L107.1,900.3 L107.8,904.7 L108.4,910.2 L109.0,915.8 L109.7,920.9 L110.3,923.7 L110.9,927.8 L111.5,933.2 L112.1,936.7 L112.7,940.3 L113.3,944.8 L113.9,947.8 L114.5,946.7 L115.1,945.0 L115.7,944.2 L116.3,941.6 L116.9,937.0 L117.5,935.6 L118.1,934.1 L118.7,929.8 L119.3,927.1 L119.9,922.4 L120.5,918.8 L121.1,914.9 L121.7,912.3 L122.3,908.2 L122.9,905.4 L123.6,904.5 L124.2,906.3 L124.8,908.4 L125.5,912.2 L126.2,916.1 L126.9,919.3 L127.6,922.7 L128.2,926.8 L128.9,930.4 L129.5,933.5 L130.1,937.0 L130.7,940.2 L131.4,944.2 L132.0,948.1 L132.6,948.3 L133.3,950.8 L133.9,953.7 L134.5,956.9 L135.2,957.0 L135.8,957.3 L136.4,954.1 L137.1,952.2 L137.7,946.5 L138.3,941.2 L139.0,933.6 L139.6,927.1 L140.2,920.7 L140.8,919.5 L141.4,916.8 L142.0,914.7 L142.6,909.2 L143.2,905.1 L143.8,902.4 L144.5,900.9 L145.1,903.5 L145.7,905.3 L146.3,906.5 L147.0,908.8 L147.6,910.4 L148.2,916.3 L148.8,920.4 L149.4,922.5 L150.0,926.6 L150.6,932.6 L151.2,937.8 L151.8,942.9 L152.4,944.1 L153.0,945.2 L153.6,947.8 L154.2,952.5 L154.8,955.6 L155.4,959.3 L156.0,962.0 L156.7,959.8 L157.3,958.2 L157.9,958.0 L158.6,954.7 L159.2,951.7 L159.8,946.6 L160.4,940.7 L161.0,936.0 L161.6,929.5 L162.2,923.8 L162.8,916.0 L163.4,907.2 L164.1,907.5 L164.9,907.5 L165.6,906.1 L166.3,904.0 L167.0,902.3 L167.7,906.2 L168.4,909.2 L169.1,910.9 L169.7,914.1 L170.4,920.0 L171.0,928.5 L171.6,933.8 L172.3,940.8 L172.9,944.9 L173.5,948.9 L174.2,953.6 L174.8,958.6 L175.4,962.2 L176.1,964.8 L176.7,964.6 L177.3,962.5 L178.0,961.6 L178.6,960.0 L179.2,956.7 L179.8,951.6 L180.4,949.2 L181.0,945.8 L181.6,941.9 L182.2,936.9 L182.8,932.7 L183.4,927.1 L184.2,923.2 L184.9,917.8 L185.6,912.1 L186.3,907.4 L187.0,903.6 L188.1,888.6 L188.8,898.7 L189.5,907.5 L190.1,917.3 L190.8,928.9 L191.4,931.9 L192.0,936.6 L192.6,939.7 L193.2,941.0 L193.8,945.3 L194.4,949.4 L195.0,953.4 L195.7,956.4 L196.3,960.1 L196.9,965.4 L197.6,968.8 L198.2,972.7 L198.8,970.6 L199.5,968.5 L200.1,967.6 L200.7,969.8 L201.4,969.8 L202.0,963.6 L202.7,959.1 L203.3,953.9 L204.0,949.9 L204.7,945.7 L205.3,941.1 L206.0,935.9 L206.6,931.5 L207.2,930.1 L207.8,928.7 L208.4,925.2 L209.0,922.1 L209.6,919.2 L210.2,916.6 L210.8,914.7 L211.5,911.9 L212.1,908.2 L212.7,904.4 L213.4,901.2 L214.1,905.6 L214.7,911.0 L215.4,914.3 L216.1,918.2 L216.7,922.7 L217.3,927.9 L217.9,932.5 L218.5,934.6 L219.1,937.3 L219.7,939.9 L220.3,943.7 L220.9,949.5 L221.5,954.3 L222.1,956.8 L222.7,961.4 L223.3,966.0 L223.9,971.7 L224.6,975.8 L225.2,973.1 L225.8,972.6 L226.4,972.1 L227.0,971.8 L227.6,972.8 L228.2,971.4 L228.8,970.9 L229.4,965.7 L230.0,962.5 L230.7,959.4 L231.3,955.7 L231.9,951.7 L232.5,948.3 L233.1,945.1 L233.7,944.2 L234.3,940.3 L234.9,936.9 L235.5,934.2 L236.1,929.9 L236.8,928.7 L237.4,927.6 L238.0,926.8 L238.7,921.8 L239.3,917.9 L239.9,923.8 L240.6,927.3 L241.2,933.1 L241.8,936.5 L242.5,940.9 L243.1,946.0 L243.7,950.4 L244.4,955.0 L245.0,956.4 L245.6,960.8 L246.2,964.4 L246.8,970.0 L247.4,973.9 L248.0,979.1 L248.6,982.4 L249.2,983.9 L249.8,988.4 L250.5,987.7 L251.1,986.5 L251.7,983.1 L252.4,981.0 L253.0,980.3 L253.6,978.9 L254.2,976.0 L254.8,970.8 L255.4,966.0 L256.0,962.4 L256.6,960.0 L257.2,958.1 L257.8,955.1 L258.4,952.6 L259.0,950.1 L259.6,946.3 L260.2,944.7 L260.8,940.8 L261.4,938.5 L262.1,937.2 L262.7,936.7 L263.3,936.9 L264.0,936.8 L264.6,935.4 L265.2,934.7 L265.8,932.8 L266.4,933.6 L267.0,936.4 L267.6,937.6 L268.2,936.7 L268.8,936.2 L269.5,935.5 L270.2,933.5 L270.9,931.9 L271.6,933.5 L272.3,936.9 L273.0,940.5 L273.7,943.7 L274.3,946.6 L274.9,947.9 L275.6,947.5 L276.2,950.6 L276.8,954.8 L277.5,960.1 L278.1,963.1 L278.7,965.8 L279.4,969.7 L280.0,972.9 L280.6,976.7 L281.3,978.3 L281.9,979.9 L282.5,983.7 L283.1,982.9 L283.7,982.8 L284.3,979.2 L284.9,977.5 L285.5,973.3 L286.1,971.6 L286.7,970.1 L287.3,970.3 L287.9,969.1 L288.5,967.3 L289.1,966.6 L289.7,966.9 L290.3,966.5 L291.0,963.8 L291.6,959.9 L292.2,956.6 L292.8,953.4 L293.4,951.1 L294.0,948.3 L294.6,945.1 L295.2,940.6 L295.8,938.2 L296.4,936.1 L297.1,932.8 L297.7,929.9 L298.3,927.0 L299.0,923.6 L299.7,922.1 L300.4,918.8 L301.1,913.9 L301.7,914.0 L302.3,917.9 L303.0,920.8 L303.6,924.9 L304.2,929.6 L304.9,931.5 L305.5,935.1 L306.1,941.1 L306.8,944.7 L307.4,949.4 L308.0,954.1 L308.6,959.0 L309.2,963.4 L309.8,969.9 L310.4,975.0 L311.0,978.7 L311.6,976.3 L312.2,976.5 L312.9,978.1 L313.5,977.7 L314.1,977.5 L314.8,975.9 L315.4,975.7 L316.0,976.8 L316.7,976.1 L317.3,977.2 L317.9,971.9 L318.5,965.8 L319.1,964.0 L319.7,959.5 L320.3,955.9 L320.9,950.2 L321.5,943.3 L322.1,937.8 L322.7,932.7 L323.3,928.1 L323.9,921.2 L324.5,915.5 L325.1,909.5 L325.7,903.2 L326.4,900.5 L327.1,896.3 L327.8,893.2 L328.4,894.1 L329.0,897.2 L329.6,899.6 L330.2,900.8 L330.9,900.1 L331.5,900.9 L332.1,901.7 L332.8,901.8 L333.5,904.1 L334.2,903.3 L334.9,901.8 L335.6,903.9 L336.3,907.7 L336.9,912.6 L337.5,917.1 L338.2,921.2 L338.8,926.8 L339.4,933.5 L340.0,937.4 L340.6,939.9 L341.2,942.0 L341.8,944.7 L342.4,950.1 L343.0,954.6 L343.6,958.0 L344.3,962.1 L344.9,965.4 L345.5,970.0 L346.1,975.2 L346.7,980.2 L347.3,981.6 L347.9,985.6 L348.5,984.4 L349.1,985.8 L349.7,985.4 L350.3,984.4 L350.9,982.6 L351.5,981.0 L352.1,980.6 L352.7,977.0 L353.3,975.0 L353.9,969.9 L354.5,966.5 L355.1,963.3 L355.7,960.9 L356.3,959.4 L356.9,954.3 L357.5,947.5 L358.1,942.7 L358.7,939.7 L359.3,937.6 L359.9,934.2 L360.5,929.3 L361.1,926.2 L361.7,923.1 L362.3,922.2 L362.9,920.4 L363.5,919.0 L364.1,916.7 L364.7,914.2 L365.4,914.7 L366.1,916.0 L366.8,913.0 L367.5,909.2 L368.1,904.9 L368.7,902.1 L369.4,898.5 L370.0,895.5 L370.6,891.5 L371.3,887.5 L371.9,884.9 L372.5,881.5 L373.2,877.2 L373.9,885.2 L374.6,891.9 L375.3,901.1 L375.9,910.5 L376.5,916.9 L377.2,925.0 L377.8,931.6 L378.4,939.5 L379.1,945.4 L379.7,950.7 L380.3,954.5 L381.0,959.2 L381.6,962.8 L382.3,968.5 L383.0,972.9 L383.7,975.6 L384.3,974.1 L385.0,974.5 L385.6,974.6 L386.2,972.3 L386.9,971.4 L387.5,966.2 L388.1,961.3 L388.8,959.3 L389.4,956.6 L390.0,953.0 L390.7,950.0 L391.3,947.3 L391.9,943.3 L392.6,941.4 L393.2,936.9 L393.8,931.2 L394.5,929.1 L395.1,926.4 L395.7,925.1 L396.3,921.5 L397.0,917.0 L397.6,911.6 L398.2,909.1 L398.9,906.8 L399.5,903.8 L400.2,905.4 L400.9,908.6 L401.6,911.5 L402.3,912.3 L402.9,912.6 L403.5,912.2 L404.1,912.4 L404.8,913.8 L405.4,919.4 L406.0,924.0 L406.7,926.4 L407.3,928.3 L407.9,931.7 L408.6,935.8 L409.2,940.8 L409.8,945.4 L410.5,948.4 L411.1,952.5 L411.7,959.5 L412.4,964.3 L413.0,967.4 L413.6,970.6 L414.3,975.0 L414.9,976.6 L415.5,977.9 L416.1,978.7 L416.7,979.1 L417.3,979.8 L417.9,978.8 L418.5,980.5 L419.1,981.5 L419.7,982.4 L420.3,983.0 L420.9,984.8 L421.5,986.6 L422.1,988.4 L422.7,989.5 L423.3,986.5 L424.0,984.3 L424.6,982.0 L425.2,981.6 L425.9,981.7 L426.5,979.2 L427.1,976.8 L427.8,973.2 L428.4,972.2 L429.0,970.3 L429.7,965.5 L430.3,963.4 L430.9,958.9 L431.6,956.6 L432.2,954.9 L432.8,950.2 L433.4,946.2 L434.1,941.4 L434.7,938.2 L435.3,935.9 L436.0,935.3 L436.6,931.3 L437.2,929.3 L437.9,926.3 L438.5,925.2 L439.1,920.7 L439.8,916.7 L440.4,913.2 L441.0,912.2 L441.7,910.3 L442.3,906.2 L442.9,900.5 L443.6,896.0 L444.2,891.8 L444.8,887.7 L445.5,885.7 L446.1,884.2 L446.7,882.1 L447.4,880.5 L448.0,879.1 L448.6,882.4 L449.3,885.9 L449.9,888.1 L450.5,889.4 L451.2,895.0 L451.9,904.0 L452.6,913.1 L453.3,920.3 L453.9,921.5 L454.5,922.1 L455.2,925.6 L455.8,928.6 L456.4,931.0 L457.1,932.0 L457.7,936.0 L458.3,940.7 L459.0,941.9 L459.6,944.0 L460.2,946.8 L460.9,951.9 L461.5,957.7 L462.1,960.9 L462.7,965.3 L463.4,966.5 L464.0,968.8 L464.6,971.2 L465.3,975.0 L465.9,976.2 L466.5,975.4 L467.2,974.9 L467.8,976.5 L468.4,976.1 L469.1,974.5 L469.7,971.1 L470.3,969.9 L471.0,968.9 L471.6,968.9 L472.2,967.1 L472.9,964.0 L473.5,959.8 L474.1,958.3 L474.8,954.9 L475.4,953.4 L476.1,950.6 L476.8,947.3 L477.5,944.4 L478.1,942.3 L478.8,940.0 L479.4,934.8 L480.0,930.7 L480.7,927.5 L481.3,925.5 L481.9,924.8 L482.6,921.7 L483.2,917.5 L483.8,914.8 L484.5,912.5 L485.1,911.3 L485.7,909.7 L486.4,905.2 L487.0,904.3 L487.7,901.6 L488.4,899.3 L489.0,896.3 L489.7,890.7 L490.4,893.5 L491.0,898.4 L491.6,904.2 L492.3,907.9 L492.9,904.9 L493.5,903.7 L494.2,904.3 L494.8,901.9 L495.4,900.8 L496.1,902.4 L496.7,905.9 L497.3,909.6 L498.0,914.3 L498.6,916.9 L499.3,909.2 L500.0,902.3 L500.7,896.8 L501.4,907.9 L502.1,915.2 L502.8,922.9 L503.4,928.0 L504.1,930.4 L504.7,935.5 L505.3,936.6 L506.0,939.6 L506.6,942.1 L507.2,947.8 L507.9,952.2 L508.5,956.0 L509.1,958.5 L509.7,959.0 L510.3,959.2 L510.9,961.9 L511.5,963.8 L512.1,964.5 L512.7,967.0 L513.3,968.1 L513.9,969.6 L514.5,969.2 L515.1,969.6 L515.7,968.5 L516.4,968.5 L517.0,968.1 L517.6,970.4 L518.2,971.0 L518.8,969.2 L519.4,968.4 L520.0,967.4 L520.6,966.5 L521.2,967.0 L521.8,966.3 L522.4,964.5 L523.0,964.0 L523.6,965.3 L524.2,964.3 L524.8,964.0 L525.4,961.6 L526.0,959.9 L526.8,949.4 L527.7,942.3 L528.4,941.6 L529.1,940.1 L529.8,938.6 L530.5,937.3 L531.3,937.5 L531.9,935.1 L532.5,933.0 L533.2,933.1 L533.8,932.9 L534.4,932.5 L535.1,930.5 L535.7,929.1 L536.3,927.1 L536.9,928.5 L537.6,929.4 L538.3,931.5 L539.0,934.9 L539.7,935.5 L540.4,930.0 L541.1,926.0 L541.8,918.9 L542.4,921.2 L543.1,924.2 L543.7,926.8 L544.3,931.8 L545.0,932.9 L545.6,930.0 L546.2,927.1 L546.9,926.7 L547.5,926.3 L548.1,924.3 L548.8,925.1 L549.4,926.6 L550.0,928.7 L550.6,930.2 L551.3,931.9 L551.9,930.1 L552.5,927.2 L553.1,926.1 L553.7,925.4 L554.3,924.1 L554.9,920.5 L555.5,916.6 L556.1,919.2 L556.8,923.2 L557.4,927.8 L558.0,931.7 L558.7,934.3 L559.3,934.0 L559.9,932.4 L560.6,932.5 L561.2,932.3 L561.8,930.1 L562.5,925.9 L563.1,924.1 L563.8,924.5 L564.5,921.3 L565.1,918.2 L565.8,915.3 L566.4,912.6 L567.1,910.2 L567.7,913.6 L568.4,916.6 L569.0,920.3 L569.6,922.9 L570.3,927.7 L570.9,927.2 L571.5,926.4 L572.1,922.9 L572.7,922.6 L573.3,923.0 L573.9,925.0 L574.5,925.0 L575.1,920.6 L575.7,917.5 L576.4,913.4 L577.0,911.5 L577.6,908.8 L578.3,913.3 L578.9,916.0 L579.5,919.9 L580.2,924.3 L580.8,929.1 L581.4,926.1 L582.0,922.4 L582.6,920.1 L583.2,918.4 L583.8,916.3 L584.4,914.2 L585.0,912.3 L585.6,909.9 L586.2,907.6 L586.8,907.2 L587.4,905.5 L588.0,903.0 L588.6,900.7 L589.2,899.1 L589.8,899.9 L590.4,899.8 L591.0,898.0 L591.6,894.2 L592.2,892.0 L592.8,891.2 L593.4,890.7 L594.1,896.8 L594.7,901.8 L595.3,906.6 L596.0,911.0 L596.6,916.9 L597.2,916.5 L597.9,914.9 L598.5,911.6 L599.1,909.8 L599.8,909.3 L600.4,908.8 L601.0,907.4 L601.7,903.5 L602.3,901.8 L602.9,898.9 L603.6,903.4 L604.2,907.4 L604.8,909.8 L605.5,913.0 L606.1,916.0 L606.7,915.4 L607.4,913.4 L608.0,910.1 L608.6,909.2 L609.2,908.5 L609.9,912.0 L610.5,914.5 L611.1,916.7 L611.8,917.7 L612.4,917.5 L613.0,917.7 L613.6,916.6 L614.2,915.7 L614.8,914.5 L615.4,912.8 L616.0,911.0 L616.6,909.2 L617.2,910.2 L617.8,907.4 L618.4,906.6 L619.0,907.4 L619.6,907.4 L620.2,908.3 L620.8,909.2 L621.5,912.1 L622.1,914.0 L622.7,918.5 L623.4,923.4 L624.0,927.7 L624.6,922.0 L625.3,917.7 L625.9,911.0 L626.5,906.5 L627.2,900.8 L627.8,898.5 L628.4,897.4 L629.0,897.1 L629.6,897.8 L630.2,897.7 L630.8,897.2 L631.4,893.6 L632.0,896.5 L632.6,901.3 L633.3,903.6 L633.9,907.5 L634.5,910.9 L635.2,906.8 L635.8,904.7 L636.4,901.3 L637.1,898.2 L637.7,895.0 L638.3,890.8 L639.0,891.3 L639.6,890.0 L640.2,891.5 L640.9,889.4 L641.6,886.9 L642.2,884.1 L642.9,883.0 L643.6,883.4 L644.3,884.8 L645.0,887.7 L645.8,893.0 L646.5,897.5 L647.2,898.6 L647.8,896.8 L648.5,892.8 L649.1,890.9 L649.7,889.7 L650.4,888.9 L651.0,893.8 L651.6,895.8 L652.3,899.6 L652.9,904.3 L653.5,908.6 L654.1,906.2 L654.8,904.6 L655.4,901.4 L656.0,900.9 L656.7,901.0 L657.3,903.2 L657.9,904.6 L658.6,905.4 L659.2,909.3 L659.8,914.7 L660.5,910.3 L661.1,906.3 L661.7,901.3 L662.4,897.3 L663.0,894.5 L663.6,893.3 L664.3,890.6 L664.9,888.1 L665.5,887.2 L666.2,887.1 L666.8,892.4 L667.4,896.5 L668.1,900.8 L668.7,904.3 L669.3,911.0 L669.9,910.7 L670.5,908.7 L671.1,905.1 L671.7,904.7 L672.3,903.2 L672.9,900.5 L673.5,898.4 L674.1,899.5 L674.7,901.0 L675.3,906.0 L676.0,908.7 L676.6,912.9 L677.2,913.2 L677.8,914.1 L678.4,912.9 L679.0,911.1 L679.7,910.2 L680.3,907.6 L680.9,904.7 L681.6,903.0 L682.2,900.3 L682.8,899.7 L683.4,896.8 L684.1,892.8 L684.7,897.6 L685.3,902.5 L686.0,909.0 L686.6,914.1 L687.2,917.9 L687.9,911.3 L688.5,905.9 L689.1,901.8 L689.8,896.7 L690.4,890.7 L691.1,886.7 L691.8,882.7 L692.5,881.6 L693.1,883.1 L693.8,884.5 L694.4,887.0 L695.0,890.5 L695.7,894.0 L696.4,900.1 L697.1,903.2 L697.8,907.6 L698.4,902.8 L699.0,899.9 L699.6,896.8 L700.2,893.7 L700.8,889.9 L701.4,885.7 L702.0,883.1 L702.7,888.8 L703.3,891.6 L704.0,895.2 L704.6,899.5 L705.3,904.5 L705.9,901.1 L706.5,899.9 L707.2,895.0 L707.8,892.1 L708.4,887.5 L709.1,891.4 L709.7,895.9 L710.3,899.6 L711.0,902.0 L711.6,907.4 L712.2,907.6 L712.9,906.6 L713.5,904.6 L714.1,902.6 L714.8,901.1 L715.4,905.3 L716.0,910.4 L716.7,914.4 L717.3,916.6 L717.9,918.7 L718.5,914.2 L719.2,909.8 L719.8,904.7 L720.4,897.7 L721.1,892.3 L721.7,896.4 L722.3,900.2 L723.0,902.5 L723.6,904.8 L724.2,906.7 L724.9,902.9 L725.5,901.3 L726.1,899.3 L726.8,896.2 L727.4,892.9 L728.0,898.0 L728.7,905.0 L729.3,909.9 L729.9,916.3 L730.6,920.2 L731.2,917.1 L731.8,916.0 L732.5,912.6 L733.1,908.9 L733.7,905.5 L734.4,901.9 L735.1,899.2 L735.8,897.8 L736.5,894.7 L737.1,889.7 L737.7,887.6 L738.4,883.3 L739.0,880.2 L739.6,884.3 L740.3,887.9 L740.9,891.8 L741.5,897.8 L742.2,904.0 L742.8,902.4 L743.4,899.1 L744.1,898.1 L744.7,895.6 L745.3,893.3 L746.0,899.0 L746.6,903.9 L747.2,908.7 L747.8,912.0 L748.5,917.5 L749.1,913.2 L749.7,906.5 L750.4,900.6 L751.0,894.7 L751.6,889.5 L752.3,894.4 L752.9,898.2 L753.5,901.2 L754.2,902.4 L754.8,906.4 L755.4,900.8 L756.1,896.3 L756.7,889.0 L757.3,885.2 L758.0,879.8 L758.6,885.6 L759.2,889.2 L759.9,892.8 L760.5,896.6 L761.1,902.2 L761.8,897.4 L762.4,892.4 L763.0,888.1 L763.7,881.1 L764.3,875.1 L764.9,882.0 L765.6,889.6 L766.2,897.4 L766.8,902.3 L767.5,910.5 L768.1,906.5 L768.7,901.5 L769.3,896.7 L769.9,890.2 L770.5,883.4 L771.1,877.9 L771.7,872.5 L772.3,880.3 L772.9,888.1 L773.6,894.3 L774.2,901.1 L774.8,910.1 L775.5,901.3 L776.3,894.0 L777.0,885.9 L777.7,877.6 L778.4,873.2 L779.1,881.9 L779.8,889.6 L780.5,897.7 L781.2,907.2 L781.8,904.1 L782.4,899.3 L783.1,894.8 L783.7,889.3 L784.3,883.0 L784.9,892.3 L785.6,900.1 L786.2,906.6 L786.8,913.9 L787.5,922.5 L788.2,926.1 L788.8,927.2 L789.5,926.8 L790.2,926.7 L790.9,920.0 L791.5,914.2 L792.1,907.3 L792.7,901.2 L793.4,905.3 L794.0,911.9 L794.6,918.1 L795.3,922.9 L795.9,928.5 L796.5,922.7 L797.2,919.1 L797.8,916.7 L798.4,914.4 L799.1,910.3 L799.8,914.6 L800.5,921.4 L801.2,928.3 L801.9,917.0 L802.6,905.6 L803.3,893.3 L803.9,891.2 L804.6,888.0 L805.2,883.6 L805.8,880.0 L806.5,875.1 L807.1,876.5 L807.7,881.9 L808.3,885.2 L809.0,887.7 L809.6,890.8 L810.2,891.8 L810.9,895.2 L811.5,898.0 L812.1,899.5 L812.8,902.2 L813.4,906.1 L814.0,909.6 L814.7,914.2 L815.3,918.2 L815.9,919.4 L816.6,921.6 L817.2,925.2 L817.8,930.3 L818.5,933.5 L819.1,936.5 L819.8,940.1 L820.5,942.6 L821.2,945.7 L821.8,950.1 L822.6,946.7 L823.3,943.1 L824.0,942.6 L824.7,941.1 L825.4,938.1 L826.1,931.5 L826.7,925.6 L827.3,923.1 L828.0,920.3 L828.6,916.0 L829.2,911.2 L829.8,906.1 L830.5,900.9 L831.1,897.7 L831.7,892.7 L832.4,893.1 L833.0,893.5 L833.6,896.7 L834.3,899.4 L834.9,902.7 L835.5,901.7 L836.2,901.5 L836.8,901.2 L837.4,903.1 L838.1,905.3 L838.7,909.3 L839.3,913.3 L840.0,918.6 L840.6,923.1 L841.2,928.8 L841.8,931.3 L842.4,933.6 L843.0,937.5 L843.6,942.6 L844.2,947.6 L844.8,951.3 L845.4,954.2 L846.1,955.0 L846.7,957.7 L847.3,961.2 L848.0,966.2 L848.6,967.6 L849.2,964.2 L849.9,958.5 L850.5,954.5 L851.1,950.1 L851.8,946.3 L852.4,941.0 L853.0,938.7 L853.6,936.8 L854.2,935.2 L854.8,933.8 L855.4,932.4 L856.0,928.5 L856.6,925.1 L857.3,923.3 L857.9,919.8 L858.5,918.4 L859.1,915.5 L859.8,910.8 L860.5,908.7 L861.2,906.5 L861.9,900.6 L862.5,905.8 L863.2,910.0 L863.8,917.9 L864.4,924.4 L865.1,928.5 L865.7,930.7 L866.3,934.2 L866.9,937.4 L867.6,940.8 L868.2,944.2 L868.8,946.1 L869.4,949.6 L870.0,952.1 L870.6,956.9 L871.2,960.4 L871.8,962.1 L872.4,962.0 L873.0,963.7 L873.6,967.6 L874.2,970.2 L874.8,973.9 L875.4,975.0 L876.0,977.3 L876.6,974.2 L877.2,971.7 L877.8,968.4 L878.4,964.5 L879.0,962.1 L879.6,960.0 L880.2,958.8 L880.8,956.6 L881.4,954.5 L882.0,953.0 L882.6,949.5 L883.2,947.2 L883.8,947.0 L884.4,944.9 L885.0,943.3 L885.6,940.5 L886.3,937.7 L886.9,934.8 L887.5,932.7 L888.1,930.8 L888.7,928.0 L889.3,922.3 L889.9,919.2 L890.6,917.0 L891.2,915.0 L891.8,909.3 L892.5,905.1 L893.2,903.3 L893.9,900.9 L894.6,904.6 L895.2,908.9 L895.8,910.9 L896.5,915.5 L897.1,920.7 L897.7,924.2 L898.4,927.5 L899.0,932.1 L899.6,936.8 L900.3,944.3 L900.9,947.4 L901.5,952.1 L902.2,953.6 L902.8,957.5 L903.4,961.0 L904.0,964.4 L904.6,966.0 L905.2,967.5 L905.8,969.8 L906.4,973.2 L907.0,975.1 L907.6,976.8 L908.2,975.2 L908.8,972.5 L909.4,972.1 L910.0,973.0 L910.6,973.4 L911.2,972.7 L911.8,970.1 L912.5,964.3 L913.1,960.1 L913.7,957.2 L914.4,952.9 L915.0,949.0 L915.6,943.9 L916.3,941.4 L916.9,937.8 L917.5,933.7 L918.2,928.3 L918.9,923.2 L919.6,920.1 L920.3,918.2 L921.0,915.0 L921.8,912.2 L922.4,913.3 L923.1,915.3 L923.8,920.1 L924.5,921.8 L925.1,920.4 L925.8,919.3 L926.4,918.9 L927.0,920.8 L927.7,917.9 L928.3,920.6 L928.9,924.5 L929.6,927.0 L930.2,933.0 L930.8,937.5 L931.5,940.9 L932.1,945.6 L932.7,948.6 L933.3,952.5 L934.0,957.8 L934.6,959.2 L935.2,963.0 L935.8,966.6 L936.4,970.9 L937.0,973.2 L937.6,977.2 L938.2,978.0 L938.8,977.2 L939.4,977.0 L940.0,978.2 L940.6,978.7 L941.2,979.6 L941.8,977.8 L942.4,979.4 L943.0,978.9 L943.6,981.9 L944.2,980.7 L944.8,980.5 L945.4,982.4 L946.0,983.8 L946.6,986.6 L947.2,984.5 L947.8,981.7 L948.4,977.0 L949.0,975.5 L949.6,973.8 L950.2,973.5 L950.8,969.8 L951.4,966.8 L952.0,964.9 L952.6,963.1 L953.3,959.9 L953.9,957.6 L954.5,953.6 L955.1,949.6 L955.7,947.7 L956.3,946.9 L956.9,944.5 L957.5,942.5 L958.1,939.7 L958.7,935.3 L959.3,933.4 L959.9,930.3 L960.5,927.4 L961.2,924.2 L961.8,920.5 L962.4,917.8 L963.1,914.1 L963.7,917.3 L964.3,920.0 L965.0,922.0 L965.6,926.3 L966.2,927.1 L966.9,927.1 L967.5,924.9 L968.1,922.3 L968.8,920.1 L969.4,923.5 L970.0,927.7 L970.7,930.2 L971.3,933.9 L971.9,936.2 L972.6,940.8 L973.2,946.0 L973.8,949.0 L974.5,953.2 L975.1,956.5 L975.7,957.9 L976.4,961.8 L977.1,963.2 L977.7,963.9 L978.4,964.5 L979.0,965.9 L979.7,968.9 L980.4,970.6 L981.0,972.3 L981.6,972.8 L982.2,976.9 L982.8,979.6 L983.4,981.9 L984.0,983.3 L984.7,983.7 L985.3,984.9 L985.9,988.3 L986.5,992.3 L987.1,994.9 L987.7,996.8 L988.3,994.0 L988.9,994.8 L989.5,994.5 L990.1,993.7 L990.7,993.0 L991.3,990.1 L991.9,991.2 L992.5,989.7 L993.2,986.1 L993.8,983.5 L994.4,979.7 L995.0,974.4 L995.6,972.8 L996.2,971.0 L996.8,968.5 L997.4,965.3 L998.0,962.4 L998.6,961.1 L999.2,958.3 L999.8,955.9 L1000.4,953.1 L1001.0,951.1 L1001.6,947.4 L1002.2,945.9 L1002.8,947.0 L1003.4,944.0 L1004.0,941.0 L1004.6,938.7 L1005.2,938.1 L1005.9,939.8 L1006.5,943.6 L1007.1,943.6 L1007.8,944.3 L1008.4,943.6 L1009.0,940.6 L1009.7,940.2 L1010.3,936.2 L1010.9,936.4 L1011.6,937.4 L1012.2,940.6 L1012.8,943.5 L1013.4,944.8 L1014.1,945.2 L1014.7,949.9 L1015.3,957.3 L1016.0,964.6 L1016.6,971.1 L1017.2,977.2 L1017.9,976.7 L1018.6,978.8 L1019.2,980.8 L1019.9,981.9 L1020.5,983.5 L1021.2,983.7 L1021.9,985.6 L1022.5,987.8 L1023.1,988.6 L1023.8,989.5 L1024.4,988.3 L1025.0,990.4 L1025.7,990.5 L1026.3,991.9 L1026.9,993.8 L1027.6,992.7 L1028.2,995.3 L1028.8,995.9 L1029.5,997.9 L1030.2,996.6 L1030.8,997.5 L1031.5,996.9 L1032.1,998.8 L1032.8,1001.6 L1033.4,1002.4 L1034.1,1001.4 L1034.8,998.9 L1035.6,998.6 L1036.3,996.2 L1036.9,997.1 L1037.5,995.3 L1038.1,995.1 L1038.7,996.2 L1039.3,996.2 L1039.9,995.7 L1040.5,994.4 L1041.2,991.5 L1041.8,990.2 L1042.4,989.8 L1043.1,989.2 L1043.7,987.6 L1044.3,988.7 L1045.0,991.8 L1045.6,994.2 L1046.2,996.1 L1046.9,998.0 L1047.5,992.9 L1048.1,986.8 L1048.8,982.1 L1049.4,977.1 L1050.0,971.0 L1050.7,970.2 L1051.3,971.2 L1051.9,973.7 L1052.6,975.9 L1053.2,979.0 L1053.8,975.3 L1054.5,971.9 L1055.1,969.2 L1055.7,966.7 L1056.3,963.8 L1057.0,962.2 L1057.6,963.9 L1058.2,963.5 L1058.9,966.9 L1059.5,966.3 L1060.1,954.3 L1060.8,939.7 L1061.4,926.9 L1062.0,916.7 L1062.9,929.8 L1063.7,940.8 L1064.4,948.4 L1065.1,957.0 L1065.8,963.1 L1066.5,962.5 L1067.1,960.4 L1067.7,961.3 L1068.4,961.5 L1069.0,963.1 L1069.6,965.3 L1070.3,966.5 L1070.9,966.9 L1071.5,969.5 L1072.2,971.8 L1072.8,974.6 L1073.4,979.2 L1074.1,980.7 L1074.7,984.6 L1075.3,990.2 L1076.0,987.3 L1076.6,985.1 L1077.2,981.1 L1077.8,980.1 L1078.5,980.9 L1079.1,983.6 L1079.7,987.2 L1080.4,989.7 L1081.0,990.5 L1081.6,994.8 L1082.2,996.7 L1082.8,997.7 L1083.5,998.7 L1084.1,999.7 L1084.7,1000.2 L1085.3,1002.7 L1085.9,1004.5 L1086.5,1004.4 L1087.1,1002.0 L1087.7,1003.0 L1088.3,1003.6 L1088.9,1006.6 L1089.5,1006.3 L1090.1,1005.8 L1090.7,1004.4 L1091.3,1002.6 L1092.0,1003.5 L1092.6,1002.8 L1093.2,1001.4 L1093.8,1000.3 L1094.4,1001.3 L1095.0,1002.6 L1095.6,1004.6 L1096.2,1003.0 L1096.9,1001.7 L1097.5,1001.8 L1098.1,999.7 L1098.7,997.0 L1099.4,994.0 L1100.0,990.7 L1100.6,986.7 L1101.2,987.6 L1101.9,989.3 L1102.5,992.5 L1103.1,993.0 L1103.8,994.1 L1104.5,987.1 L1105.2,981.8 L1105.9,972.8 L1106.5,974.7 L1107.2,977.1 L1107.8,981.7 L1108.4,987.2 L1109.0,991.3 L1109.6,987.9 L1110.3,982.5 L1110.9,977.8 L1111.5,974.5 L1112.1,970.3 L1112.7,965.4 L1113.3,960.1 L1114.0,963.0 L1114.7,967.3 L1115.4,971.9 L1116.0,965.3 L1116.6,960.4 L1117.3,954.0 L1117.9,951.0 L1118.5,945.9 L1119.2,952.0 L1119.8,956.5 L1120.4,961.8 L1121.1,966.4 L1121.7,972.0 L1122.3,967.1 L1123.0,962.5 L1123.6,957.8 L1124.2,953.3 L1124.9,951.0 L1125.5,955.8 L1126.1,960.6 L1126.8,962.5 L1127.4,966.6 L1128.0,970.9 L1128.7,967.5 L1129.5,962.7 L1130.2,957.2 L1130.9,951.7 L1131.6,948.4 L1132.3,953.4 L1133.0,956.6 L1133.7,963.1 L1134.3,969.0 L1135.0,973.7 L1135.6,978.0 L1136.2,980.2 L1136.9,982.4 L1137.5,986.5 L1138.1,989.4 L1138.8,992.3 L1139.4,994.2 L1140.0,997.9 L1140.7,1001.1 L1141.3,1002.7 L1141.9,1002.7 L1142.5,1001.2 L1143.1,1000.2 L1143.7,1000.5 L1144.3,1001.8 L1144.9,1005.0 L1145.5,1004.5 L1146.2,1002.6 L1146.9,1002.4 L1147.5,1002.2 L1148.2,1001.3 L1148.8,1002.2 L1149.5,1000.3 L1150.2,1001.6 L1150.8,1001.5 L1151.4,1003.4 L1152.0,1003.7 L1152.6,1004.2 L1153.2,1003.5 L1153.8,1003.6 L1154.4,1004.5 L1155.0,1003.8 L1155.6,1002.0 L1156.2,997.6 L1156.8,996.3 L1157.4,993.9 L1158.0,992.1 L1158.6,989.1 L1159.2,988.5 L1159.8,989.4 L1160.5,989.2 L1161.1,991.1 L1161.7,991.4 L1162.3,985.3 L1162.9,980.0 L1163.6,973.1 L1164.2,970.1 L1164.8,965.4 L1165.4,961.6 L1166.0,955.7 L1166.6,957.1 L1167.2,959.8 L1167.9,960.8 L1168.5,963.0 L1169.1,964.3 L1169.8,959.8 L1170.4,956.9 L1171.0,954.6 L1171.7,950.6 L1172.3,945.7 L1172.9,952.2 L1173.5,959.6 L1174.2,969.2 L1174.8,979.0 L1175.4,987.6 L1176.0,981.4 L1176.7,976.4 L1177.3,972.6 L1177.9,967.4 L1178.5,963.4 L1179.1,955.7 L1179.7,951.6 L1180.3,955.9 L1180.9,960.6 L1181.6,965.9 L1182.2,968.6 L1182.8,972.0 L1183.5,968.0 L1184.1,964.7 L1184.7,962.6 L1185.4,959.2 L1186.0,953.9 L1186.6,960.9 L1187.3,967.2 L1187.9,973.3 L1188.5,977.5 L1189.1,980.9 L1189.8,978.9 L1190.4,979.7 L1191.0,979.0 L1191.7,979.1 L1192.3,976.5 L1192.9,978.0 L1193.5,979.1 L1194.1,981.7 L1194.7,985.4 L1195.3,986.7 L1195.9,987.8 L1196.5,990.6 L1197.1,990.7 L1197.7,991.1 L1198.3,989.5 L1198.9,987.0 L1199.5,987.0 L1200.1,986.9 L1200.7,987.4 L1201.4,990.3 L1202.0,992.6 L1202.6,995.6 L1203.3,998.3 L1203.9,1001.4 L1204.5,999.2 L1205.2,998.0 L1205.8,995.4 L1206.4,993.8 L1207.1,993.8 L1207.7,996.0 L1208.3,997.5 L1208.9,998.0 L1209.5,999.4 L1210.1,1000.0 L1210.7,1004.1 L1211.3,1007.4 L1211.9,1007.4 L1212.5,1007.4 L1213.1,1008.5 L1213.7,1008.2 L1214.3,1010.9 L1214.9,1011.0 L1215.5,1011.1 L1216.1,1010.8 L1216.7,1012.7 L1217.3,1013.2 L1217.9,1014.5 L1218.5,1013.0 L1219.1,1013.3 L1219.7,1013.1 L1220.3,1013.6 L1220.9,1015.6 L1221.5,1015.4 L1222.1,1015.4 L1222.7,1014.5 L1223.3,1016.5 L1223.9,1017.0 L1224.5,1015.3 L1225.1,1011.5 L1225.7,1010.8 L1226.3,1008.3 L1226.9,1009.3 L1227.5,1008.5 L1228.1,1005.6 L1228.7,1004.0 L1229.3,1003.1 L1230.0,1002.0 L1230.6,1001.5 L1231.2,1002.1 L1231.8,1000.0 L1232.4,999.8 L1233.0,1000.2 L1233.6,1001.5 L1234.3,1004.5 L1234.9,1003.0 L1235.5,1003.6 L1236.2,1001.5 L1236.8,998.3 L1237.4,996.9 L1238.1,993.9 L1238.7,988.6 L1239.3,986.4 L1239.9,986.7 L1240.6,986.8 L1241.2,985.7 L1241.8,984.5 L1242.5,986.3 L1243.1,989.6 L1243.7,994.0 L1244.4,996.1 L1245.0,995.3 L1245.6,989.7 L1246.2,985.2 L1246.8,982.7 L1247.4,977.4 L1248.0,971.9 L1248.6,966.8 L1249.2,959.7 L1249.9,962.8 L1250.5,963.7 L1251.1,965.9 L1251.8,966.5 L1252.4,966.5 L1253.0,966.4 L1253.7,964.3 L1254.3,961.5 L1254.9,957.6 L1255.5,955.8 L1256.2,963.6 L1256.8,972.1 L1257.4,981.7 L1258.1,987.6 L1258.7,994.6 L1259.3,989.7 L1260.0,986.9 L1260.6,984.5 L1261.2,979.5 L1261.9,974.5 L1262.5,972.8 L1263.1,972.6 L1263.7,970.6 L1264.3,969.3 L1264.9,964.1 L1265.5,962.5 L1266.1,960.2 L1266.7,965.8 L1267.4,969.6 L1268.0,972.5 L1268.6,975.6 L1269.2,980.1 L1269.9,978.5 L1270.5,978.0 L1271.1,977.9 L1271.8,976.5 L1272.4,976.0 L1273.0,983.2 L1273.7,989.4 L1274.3,995.4 L1274.9,999.3 L1275.6,1004.1 L1276.2,1002.8 L1276.8,1001.7 L1277.4,1001.0 L1278.0,999.4 L1278.6,997.7 L1279.2,995.5 L1279.8,996.2 L1280.4,998.0 L1281.1,1000.1 L1281.7,1002.1 L1282.3,1003.6 L1283.0,1008.8 L1283.6,1010.6 L1284.2,1009.5 L1284.8,1008.5 L1285.4,1009.3 L1286.0,1010.3 L1286.6,1011.7 L1287.2,1012.2 L1287.8,1013.0 L1288.5,1012.1 L1289.1,1013.3 L1289.8,1014.9 L1290.5,1016.1 L1291.1,1014.3 L1291.8,1015.8 L1292.4,1015.3 L1293.0,1017.0 L1293.6,1014.8 L1294.2,1013.7 L1294.8,1010.7 L1295.4,1008.6 L1296.1,1006.3 L1296.7,1005.9 L1297.3,1006.3 L1297.9,1007.9 L1298.5,1007.1 L1299.1,1010.0 L1299.7,1011.1 L1300.3,1010.9 L1300.9,1012.5 L1301.5,1008.6 L1302.1,1006.5 L1302.7,1006.6 L1303.3,1006.0 L1303.9,1005.2 L1304.5,1003.6 L1305.1,1001.6 L1305.7,1002.4 L1306.3,1005.1 L1306.9,1007.1 L1307.5,1008.2 L1308.1,1008.8 L1308.7,1010.4 L1309.3,1012.8 L1309.9,1011.6 L1310.5,1007.8 L1311.1,1004.9 L1311.7,1000.6 L1312.3,999.1 L1312.9,997.9 L1313.5,996.5 L1314.2,992.4 L1314.8,988.9 L1315.5,986.8 L1316.2,983.7 L1316.8,982.2 L1317.5,979.7 L1318.1,975.5 L1318.8,974.6 L1319.4,978.4 L1320.0,982.8 L1320.6,984.3 L1321.2,986.6 L1321.8,989.2 L1322.4,992.3 L1323.0,997.6 L1323.6,995.0 L1324.2,990.9 L1324.8,987.2 L1325.4,984.3 L1326.0,981.2 L1326.6,978.0 L1327.2,972.8 L1327.8,978.3 L1328.5,983.5 L1329.1,990.5 L1329.7,994.6 L1330.4,999.5 L1331.0,999.0 L1331.6,996.2 L1332.2,996.6 L1332.8,997.0 L1333.4,996.7 L1334.0,996.0 L1334.6,995.0 L1335.3,993.1 L1335.9,990.1 L1336.6,988.0 L1337.2,983.5 L1337.9,980.9 L1338.5,978.6 L1339.2,977.8 L1339.9,976.2 L1340.5,978.0 L1341.1,982.4 L1341.8,985.4 L1342.4,989.6 L1343.0,995.2 L1343.7,990.2 L1344.3,985.5 L1344.9,982.2 L1345.6,978.0 L1346.2,974.3 L1346.8,976.7 L1347.4,979.8 L1348.0,984.2 L1348.6,989.6 L1349.2,995.9 L1349.8,1000.2 L1350.4,1004.7 L1351.0,1003.1 L1351.6,1001.8 L1352.2,1003.3 L1352.8,1002.6 L1353.4,1003.9 L1354.0,1002.6 L1354.6,1002.1 L1355.3,1005.3 L1355.9,1007.7 L1356.5,1009.3 L1357.2,1009.3 L1357.8,1011.1 L1358.5,1013.2 L1359.1,1015.4 L1359.8,1017.6 L1360.5,1020.5 L1361.2,1019.9 L1361.9,1017.7 L1362.6,1017.1 L1363.3,1016.9 L1363.9,1013.8 L1364.6,1012.7 L1365.3,1012.8 L1366.1,1014.4 L1366.9,1015.4 L1367.7,1016.0 L1368.4,1016.5 L1369.1,1018.3 L1369.8,1019.6 L1370.5,1018.6 L1371.2,1018.7 L1371.9,1017.5 L1372.6,1016.5 L1373.3,1014.6 L1374.0,1013.1 L1374.7,1010.9 L1375.4,1014.7 L1376.1,1017.1 L1376.9,1015.3 L1377.6,1015.6 L1378.3,1018.7 L1379.0,1017.6 L1379.7,1018.9 L1380.5,1016.8 L1381.2,1014.2 L1381.9,1017.3 L1382.7,1018.0 L1383.4,1020.5 L1384.2,1020.5 L1384.8,1022.9 L1385.5,1024.7 L1386.2,1023.9 L1386.9,1023.5 L1387.5,1022.0 L1388.2,1023.7 L1388.9,1024.1 L1389.5,1023.6 L1390.2,1022.1 L1390.8,1021.7 L1391.5,1019.3 L1392.1,1018.7 L1392.8,1017.6 L1393.4,1015.6 L1394.1,1013.5 L1394.8,1014.1 L1395.5,1015.3 L1396.2,1016.8 L1396.9,1016.9 L1397.6,1015.2 L1398.3,1016.2 L1399.0,1019.6 L1399.7,1019.9 L1400.4,1021.4 L1401.1,1022.1 L1401.8,1022.8 L1402.6,1020.6 L1403.3,1016.7 L1404.0,1015.2 L1404.8,1013.1 L1405.5,1016.1 L1406.2,1017.3 L1407.0,1017.4 L1407.7,1019.2 L1408.5,1019.4 L1409.3,1022.0 L1410.1,1022.7 L1410.8,1020.1 L1411.5,1018.7 L1412.2,1017.0 L1412.9,1013.6 L1413.6,1011.3 L1414.3,1009.0 L1415.0,1007.5 L1415.7,1005.8 L1416.4,1004.2 L1417.1,999.1 L1417.8,1000.8 L1418.6,1004.5 L1419.3,1007.3 L1420.0,1008.4 L1420.7,1009.5 L1421.4,1013.1 L1422.1,1013.1 L1422.9,1013.3 L1423.6,1013.9 L1424.3,1010.6 L1425.0,1009.2 L1425.7,1006.1 L1426.4,1004.5 L1427.1,999.6 L1427.7,995.6 L1428.4,1000.6 L1429.2,1003.8 L1429.9,1004.2 L1430.6,1007.7 L1431.3,1012.5 L1431.9,1013.5 L1432.6,1014.0 L1433.3,1014.4 L1434.0,1014.0 L1434.6,1017.0 L1435.3,1019.3 L1436.0,1020.7 L1436.7,1017.1 L1437.4,1013.0 L1438.1,1012.0 L1438.8,1009.5 L1439.5,1006.1 L1440.3,1002.6 L1441.0,999.9 L1441.7,998.1 L1442.5,996.3 L1443.2,995.9 L1444.0,997.1 L1444.8,1002.6 L1445.6,1004.3 L1446.4,1005.7 L1447.2,1006.1 L1447.9,1005.2 L1448.6,1005.0 L1449.4,1004.2 L1450.1,1001.3 L1450.9,1000.6 L1451.7,998.2 L1452.5,996.2 L1453.2,996.3 L1453.9,999.1 L1454.6,1002.4 L1455.3,1006.7 L1456.0,1010.6 L1457.2,1012.1 L1457.9,1011.2 L1458.6,1008.9 L1459.2,1006.2 L1459.9,1003.3 L1460.6,1003.0 L1461.3,1001.1 L1462.0,1005.5 L1462.7,1008.3 L1463.4,1009.1 L1464.1,1011.1 L1464.8,1016.4 L1465.5,1015.9 L1466.2,1016.4 L1466.9,1016.8 L1467.6,1019.3 L1468.3,1021.6 L1469.0,1020.6 L1469.7,1017.5 L1470.4,1016.6 L1471.1,1015.0 L1471.8,1014.6 L1472.5,1013.8 L1473.2,1012.4 L1474.0,1014.1 L1474.7,1015.2 L1475.4,1017.6 L1476.1,1018.8 L1476.9,1019.3 L1477.6,1021.3 L1478.3,1023.9 L1479.0,1024.4 L1479.7,1022.2 L1480.4,1023.3 L1481.2,1026.0 L1481.9,1028.0 L1482.6,1026.0 L1483.2,1025.0 L1483.9,1023.2 L1484.6,1024.2 L1485.2,1022.4 L1485.9,1020.7 L1486.6,1019.4 L1487.2,1019.5 L1487.9,1022.0 L1488.6,1024.1 L1489.3,1022.5 L1490.0,1022.7 L1490.8,1025.7 L1491.4,1026.6 L1492.1,1026.1 L1492.7,1023.8 L1493.4,1022.9 L1494.0,1023.1 L1494.7,1022.5 L1495.3,1021.9 L1496.0,1020.3 L1496.6,1019.9 L1497.3,1023.0 L1498.0,1024.6 L1498.7,1024.5 L1499.4,1023.7 L1500.1,1024.0 L1500.8,1025.8 L1501.4,1025.0 L1502.1,1026.1 L1502.7,1024.0 L1503.4,1022.7 L1504.0,1023.6 L1504.7,1022.8 L1505.3,1020.7 L1505.9,1018.3 L1506.6,1018.5 L1507.2,1019.1 L1508.0,1021.9 L1508.8,1022.0 L1509.6,1022.8 L1510.3,1022.6 L1511.0,1025.3 L1511.7,1026.1 L1512.4,1025.8 L1513.1,1027.1 L1513.9,1026.3 L1514.6,1025.4 L1515.3,1024.2 L1516.1,1022.0 L1516.8,1021.3 L1517.6,1021.9 L1518.3,1020.5 L1519.0,1016.5 L1519.8,1016.0 L1520.5,1018.3 L1521.2,1021.0 L1522.0,1023.0" fill="none" stroke="#000" stroke-width="2.0" stroke-linejoin="round"/>
<path d="M42.6,819.5 L43.5,826.1 L44.3,831.0 L45.0,834.2 L45.6,839.4 L46.2,844.4 L46.9,846.7 L47.5,848.2 L48.1,847.7 L48.8,850.0 L49.4,851.4 L50.0,852.5 L50.6,853.2 L51.3,854.3 L51.9,857.3 L52.5,858.6 L53.2,858.8 L53.8,858.3 L54.4,857.5 L55.1,859.8 L55.7,863.2 L56.3,865.4 L57.0,866.2 L57.7,867.2 L58.4,867.6 L59.1,871.4 L59.7,872.9 L60.3,873.3 L61.0,873.7 L61.6,876.3 L62.2,877.8 L62.9,881.2 L63.5,881.4 L64.1,881.2 L64.8,882.4 L65.4,886.7 L66.0,888.4 L66.7,890.2 L67.3,890.4 L67.9,890.5 L68.6,891.9 L69.2,894.3 L69.8,895.3 L70.5,895.8 L71.1,897.9 L71.7,901.7 L72.4,902.0 L73.0,902.5 L73.6,903.0 L74.3,902.1 L74.9,903.8 L75.5,905.9 L76.2,907.2 L76.8,909.0 L77.4,907.5 L78.1,908.7 L78.7,909.2 L79.3,910.5 L79.9,909.4 L80.6,909.3 L81.2,911.1 L81.8,912.5 L82.5,914.6 L83.1,915.4 L83.7,913.1 L84.4,913.1 L85.0,915.0 L85.6,918.0 L86.3,918.9 L86.9,918.4 L87.5,919.1 L88.2,920.0 L88.8,921.9 L89.4,921.4 L90.1,922.5 L90.7,923.3 L91.3,925.2 L92.0,927.1 L92.6,928.9 L93.2,926.8 L93.9,926.8 L94.6,927.8 L95.3,928.4 L96.0,928.3 L96.7,927.6 L97.4,925.3 L98.1,924.8 L98.7,923.9 L99.3,922.8 L100.0,921.6 L100.6,919.9 L101.2,920.8 L101.9,924.8 L102.5,925.5 L103.1,925.2 L103.8,925.3 L104.4,926.4 L105.0,930.7 L105.6,932.8 L106.2,935.0 L106.8,936.5 L107.4,940.8 L108.0,942.9 L108.6,945.5 L109.3,948.3 L110.0,950.5 L110.8,954.1 L111.5,960.4 L112.2,964.5 L112.8,960.9 L113.5,957.5 L114.1,953.2 L114.7,951.8 L115.4,947.4 L116.0,945.0 L116.6,942.8 L117.3,940.0 L117.9,940.0 L118.5,937.8 L119.2,934.7 L119.8,932.5 L120.4,929.7 L121.1,930.0 L121.7,930.1 L122.3,931.1 L122.9,932.0 L123.6,931.8 L124.2,932.1 L124.8,934.5 L125.5,936.2 L126.1,938.5 L126.7,940.9 L127.4,945.6 L128.0,948.4 L128.6,951.9 L129.3,954.9 L129.9,954.7 L130.5,957.0 L131.2,958.7 L131.8,963.1 L132.4,959.7 L133.1,956.0 L133.7,951.9 L134.3,948.2 L135.0,944.5 L135.6,942.1 L136.2,940.2 L136.8,937.3 L137.4,935.6 L138.0,933.4 L138.6,932.4 L139.2,929.6 L139.8,926.0 L140.4,923.6 L141.0,921.7 L141.6,921.3 L142.2,920.1 L142.8,917.1 L143.4,916.1 L144.0,919.3 L144.6,921.1 L145.2,925.9 L145.8,928.1 L146.4,929.6 L147.0,931.4 L147.6,937.3 L148.2,941.6 L148.8,947.9 L149.4,950.7 L150.0,952.7 L150.6,957.2 L151.2,963.5 L151.8,968.6 L152.5,966.8 L153.1,964.6 L153.7,961.1 L154.4,959.3 L155.0,959.3 L155.6,954.1 L156.3,952.1 L156.9,947.8 L157.5,947.8 L158.2,946.7 L158.8,944.1 L159.4,939.4 L160.0,935.9 L160.6,931.3 L161.2,929.9 L161.8,926.8 L162.4,924.7 L163.0,922.3 L163.6,920.3 L164.3,919.6 L164.9,917.3 L165.5,914.7 L166.2,917.8 L166.8,920.6 L167.4,925.8 L168.1,930.1 L168.7,932.9 L169.3,936.1 L169.9,939.5 L170.5,942.5 L171.1,945.6 L171.7,951.2 L172.3,954.4 L172.9,956.1 L173.6,962.4 L174.3,968.2 L175.0,974.1 L175.6,969.0 L176.3,964.5 L176.9,962.0 L177.5,961.3 L178.2,957.8 L178.8,953.6 L179.5,949.4 L180.2,945.2 L180.8,940.6 L181.5,936.6 L182.1,932.7 L182.8,927.7 L183.4,922.5 L184.0,923.5 L184.7,921.1 L185.3,919.0 L185.9,916.8 L186.5,913.1 L187.1,912.4 L187.7,910.6 L188.3,916.3 L188.9,917.9 L189.6,920.5 L190.2,924.4 L190.8,928.0 L191.4,933.3 L192.0,938.2 L192.6,941.8 L193.2,945.4 L193.8,952.1 L194.4,958.5 L195.0,963.1 L195.7,966.4 L196.3,968.9 L196.9,972.4 L197.6,978.1 L198.2,984.3 L198.8,980.5 L199.5,978.2 L200.1,976.2 L200.7,973.5 L201.4,971.1 L202.0,967.6 L202.7,963.7 L203.3,963.1 L204.0,961.4 L204.7,960.8 L205.3,956.4 L206.0,953.6 L206.6,950.6 L207.3,948.9 L207.9,947.3 L208.5,944.5 L209.2,943.2 L209.8,940.3 L210.4,940.7 L211.1,939.2 L211.7,937.5 L212.3,935.5 L213.0,935.6 L213.6,937.2 L214.2,941.8 L214.9,942.7 L215.5,943.7 L216.1,943.8 L216.7,946.7 L217.3,948.7 L217.9,952.2 L218.5,955.4 L219.1,955.9 L219.7,959.5 L220.3,962.1 L221.0,966.3 L221.6,968.7 L222.2,971.1 L222.9,976.3 L223.5,980.9 L224.1,983.2 L224.7,984.6 L225.3,985.0 L225.9,983.3 L226.5,984.7 L227.1,985.9 L227.7,987.4 L228.3,984.8 L228.9,981.0 L229.5,978.5 L230.1,974.8 L230.7,973.6 L231.3,970.3 L231.9,966.0 L232.5,961.1 L233.1,958.2 L233.7,954.8 L234.3,953.5 L234.9,948.7 L235.5,944.6 L236.1,941.0 L236.8,940.0 L237.4,938.8 L238.0,937.6 L238.7,936.2 L239.3,935.9 L239.9,939.4 L240.6,942.0 L241.2,942.6 L241.8,942.8 L242.5,944.1 L243.1,946.8 L243.7,951.9 L244.3,955.7 L244.9,959.5 L245.5,963.1 L246.1,966.7 L246.7,970.5 L247.3,973.8 L247.9,978.1 L248.6,980.0 L249.2,982.5 L249.8,987.0 L250.5,993.6 L251.2,992.7 L251.9,990.0 L252.6,987.5 L253.3,986.9 L254.1,986.8 L254.7,984.8 L255.3,981.8 L255.9,980.5 L256.5,978.4 L257.1,976.2 L257.7,972.2 L258.3,968.9 L258.9,964.8 L259.5,963.1 L260.1,959.4 L260.7,957.9 L261.3,953.6 L261.9,948.3 L262.5,944.6 L263.1,943.6 L263.8,945.1 L264.4,944.7 L265.0,944.1 L265.7,943.7 L266.3,945.2 L266.9,945.9 L267.6,945.8 L268.2,946.9 L268.8,945.1 L269.5,948.6 L270.1,951.5 L270.7,954.1 L271.3,955.0 L272.0,955.9 L272.6,956.7 L273.2,958.4 L273.8,960.2 L274.4,962.1 L275.0,963.2 L275.6,964.2 L276.2,966.3 L276.8,967.9 L277.4,970.6 L278.0,970.1 L278.6,969.7 L279.2,971.5 L279.8,975.8 L280.4,977.3 L281.0,979.2 L281.7,980.4 L282.3,981.6 L282.9,982.4 L283.6,984.8 L284.2,983.7 L284.8,981.2 L285.4,981.5 L286.0,979.3 L286.6,981.0 L287.2,978.3 L287.8,976.0 L288.4,973.9 L289.0,971.4 L289.6,969.2 L290.2,969.0 L290.8,967.1 L291.4,964.8 L292.0,960.8 L292.6,959.0 L293.2,956.8 L293.8,953.3 L294.4,950.2 L295.0,946.7 L295.6,942.9 L296.2,942.0 L296.9,940.8 L297.5,937.5 L298.1,932.9 L298.8,930.9 L299.4,930.1 L300.0,930.2 L300.6,931.4 L301.3,931.4 L301.9,930.1 L302.5,929.1 L303.1,933.5 L303.7,935.4 L304.4,938.5 L305.0,940.2 L305.6,942.6 L306.2,947.8 L306.8,950.9 L307.4,953.9 L308.0,957.3 L308.6,960.3 L309.2,964.4 L309.8,969.4 L310.4,973.6 L311.0,977.4 L311.6,976.4 L312.3,976.0 L313.0,977.2 L313.6,975.7 L314.3,973.8 L314.9,974.0 L315.6,973.9 L316.2,975.3 L316.9,972.0 L317.6,966.2 L318.2,960.4 L318.9,955.5 L319.5,953.5 L320.2,950.4 L320.9,945.6 L321.5,939.7 L322.1,935.6 L322.7,930.0 L323.3,923.5 L323.9,915.7 L324.5,910.1 L325.1,903.3 L325.7,898.3 L326.3,900.4 L326.9,904.1 L327.5,903.7 L328.1,905.2 L328.7,905.9 L329.3,908.7 L329.9,912.2 L330.5,909.4 L331.2,906.7 L331.8,903.2 L332.4,901.8 L333.0,900.5 L333.6,896.6 L334.2,893.6 L334.8,898.7 L335.5,903.8 L336.1,910.6 L336.8,915.4 L337.5,920.5 L338.1,924.5 L338.8,929.1 L339.4,934.1 L340.0,937.2 L340.6,939.8 L341.2,944.4 L341.8,948.2 L342.4,951.2 L343.0,956.1 L343.6,958.1 L344.3,961.3 L344.9,965.1 L345.5,968.8 L346.1,975.0 L346.7,979.4 L347.3,983.7 L347.9,986.1 L348.5,985.2 L349.1,984.7 L349.7,985.4 L350.3,982.6 L350.9,982.3 L351.5,980.0 L352.1,981.9 L352.7,978.1 L353.3,974.7 L353.9,970.4 L354.5,967.1 L355.1,963.0 L355.7,961.2 L356.3,958.3 L356.9,954.1 L357.5,950.3 L358.1,946.4 L358.7,944.0 L359.3,939.2 L359.9,935.6 L360.5,932.4 L361.1,926.7 L361.7,925.4 L362.3,921.8 L362.9,919.5 L363.5,915.6 L364.1,911.0 L364.7,904.7 L365.4,905.8 L366.0,904.8 L366.6,905.6 L367.3,903.0 L367.9,903.1 L368.5,898.8 L369.2,896.0 L369.8,892.1 L370.4,888.3 L371.1,884.2 L371.8,885.6 L372.5,885.8 L373.2,885.0 L373.9,889.9 L374.6,891.8 L375.3,897.0 L375.9,907.9 L376.5,916.8 L377.2,924.3 L377.8,933.0 L378.4,940.0 L379.1,947.0 L379.7,951.0 L380.3,954.4 L381.0,958.4 L381.6,962.1 L382.2,965.5 L382.9,968.1 L383.5,969.9 L384.1,970.4 L384.8,971.4 L385.4,969.4 L386.0,968.8 L386.7,966.8 L387.3,964.1 L387.9,960.6 L388.5,958.3 L389.2,955.6 L389.8,951.6 L390.4,947.5 L391.1,942.7 L391.7,941.0 L392.3,938.6 L393.0,935.9 L393.6,932.5 L394.2,928.5 L394.9,923.4 L395.5,920.9 L396.1,919.1 L396.8,913.7 L397.4,909.6 L398.0,909.2 L398.7,910.3 L399.3,909.2 L399.9,907.3 L400.6,903.7 L401.2,901.1 L401.8,901.5 L402.5,902.4 L403.1,900.7 L403.7,898.1 L404.4,902.1 L405.0,906.6 L405.6,911.1 L406.3,915.3 L406.9,918.2 L407.5,922.6 L408.1,929.8 L408.7,935.7 L409.3,940.2 L409.9,943.3 L410.5,947.1 L411.1,951.9 L411.7,957.7 L412.3,962.3 L412.9,967.9 L413.5,970.7 L414.1,973.6 L414.7,978.7 L415.3,983.4 L415.9,983.6 L416.5,983.4 L417.1,981.7 L417.7,983.2 L418.3,985.5 L418.9,985.5 L419.5,985.2 L420.3,984.7 L421.0,984.8 L421.7,986.8 L422.4,988.5 L423.1,990.0 L423.8,986.4 L424.4,984.5 L425.0,983.6 L425.6,981.4 L426.3,979.4 L426.9,976.2 L427.5,972.4 L428.2,971.3 L428.8,970.5 L429.4,967.8 L430.1,963.6 L430.7,960.5 L431.3,956.4 L432.0,955.0 L432.6,951.8 L433.2,950.0 L433.9,946.6 L434.5,945.2 L435.1,941.7 L435.8,940.1 L436.4,936.2 L437.0,930.7 L437.7,929.3 L438.3,927.6 L438.9,923.7 L439.6,921.5 L440.2,916.1 L440.8,911.2 L441.5,907.8 L442.1,904.1 L442.7,899.9 L443.3,898.2 L443.9,896.8 L444.5,894.1 L445.1,893.3 L445.7,890.5 L446.3,887.9 L446.9,885.3 L447.6,888.0 L448.2,890.8 L448.8,894.7 L449.5,896.1 L450.1,898.5 L450.7,903.6 L451.4,909.0 L452.0,913.0 L452.6,918.6 L453.3,922.4 L453.9,925.8 L454.5,930.3 L455.2,932.3 L455.8,935.5 L456.4,936.7 L457.1,938.5 L457.7,940.8 L458.3,946.7 L459.0,950.4 L459.6,952.9 L460.2,953.8 L460.9,957.4 L461.5,962.2 L462.1,966.6 L462.7,969.6 L463.4,971.3 L464.0,975.7 L464.6,979.9 L465.3,983.2 L465.9,984.9 L466.5,986.2 L467.3,983.0 L468.0,980.0 L468.7,979.0 L469.4,975.2 L470.1,971.4 L470.8,971.0 L471.4,968.9 L472.0,967.2 L472.7,964.6 L473.3,962.9 L473.9,961.3 L474.5,962.4 L475.1,961.0 L475.7,961.1 L476.3,956.8 L476.9,955.8 L477.5,954.5 L478.1,952.8 L478.8,950.7 L479.4,948.0 L480.0,945.7 L480.7,942.9 L481.3,940.5 L481.9,936.9 L482.6,933.7 L483.2,929.0 L483.8,927.2 L484.5,927.3 L485.1,926.4 L485.7,924.2 L486.4,921.0 L487.0,917.8 L487.6,918.1 L488.3,916.8 L488.9,915.4 L489.5,913.7 L490.2,910.9 L490.8,910.8 L491.4,910.9 L492.0,909.9 L492.7,908.2 L493.3,907.2 L493.9,909.1 L494.6,912.5 L495.2,914.0 L495.8,914.6 L496.5,915.1 L497.1,913.2 L497.7,914.1 L498.4,913.7 L499.0,911.7 L499.6,911.5 L500.3,913.8 L500.9,917.9 L501.5,923.4 L502.2,923.9 L502.8,925.9 L503.4,930.6 L504.1,933.4 L504.7,939.6 L505.3,943.0 L506.0,944.7 L506.6,946.3 L507.2,950.3 L507.9,952.3 L508.5,954.6 L509.1,957.0 L509.7,958.6 L510.3,959.6 L510.9,961.4 L511.5,964.3 L512.1,963.1 L512.7,962.8 L513.3,963.4 L514.0,968.5 L514.6,970.9 L515.2,974.0 L515.9,974.9 L516.5,977.1 L517.1,974.6 L517.8,973.9 L518.4,973.2 L519.0,969.9 L519.7,969.0 L520.3,969.7 L520.9,969.7 L521.5,968.9 L522.1,967.9 L522.7,964.5 L523.3,963.7 L523.9,962.9 L524.5,960.8 L525.1,959.0 L525.8,955.2 L526.4,951.4 L527.0,949.3 L527.7,946.6 L528.4,945.7 L529.1,944.0 L529.8,942.8 L530.5,943.3 L531.3,941.9 L531.9,940.2 L532.5,937.5 L533.2,934.0 L533.8,934.0 L534.4,931.8 L535.0,931.7 L535.6,929.1 L536.2,926.7 L536.8,924.6 L537.4,922.7 L538.0,919.9 L538.6,917.5 L539.3,919.9 L539.9,922.6 L540.5,927.2 L541.2,931.7 L541.8,932.9 L542.4,933.2 L543.1,933.5 L543.7,937.3 L544.3,939.5 L545.0,941.5 L545.6,939.0 L546.2,937.4 L546.8,937.3 L547.4,937.5 L548.0,935.0 L548.6,932.9 L549.2,930.7 L549.8,932.7 L550.4,933.5 L551.0,937.1 L551.6,936.2 L552.2,937.3 L552.8,937.3 L553.4,937.7 L554.0,939.5 L554.6,939.6 L555.2,939.6 L555.8,940.3 L556.4,941.1 L557.0,943.4 L557.6,944.1 L558.2,942.2 L558.8,940.3 L559.4,938.1 L560.0,937.8 L560.6,938.5 L561.2,937.9 L561.8,935.7 L562.4,934.1 L563.0,934.3 L563.6,935.5 L564.2,936.3 L564.8,936.6 L565.4,936.1 L566.0,936.3 L566.6,935.8 L567.2,936.8 L567.8,935.1 L568.4,934.1 L569.0,931.4 L569.7,930.5 L570.3,933.0 L570.9,935.6 L571.5,936.0 L572.1,936.1 L572.7,938.5 L573.3,940.0 L573.9,940.8 L574.5,943.5 L575.1,940.8 L575.7,937.8 L576.3,935.8 L576.9,934.4 L577.5,932.9 L578.1,930.7 L578.7,927.7 L579.3,926.2 L579.9,925.4 L580.5,927.2 L581.1,925.8 L581.7,925.8 L582.3,923.6 L582.9,922.6 L583.5,922.8 L584.1,923.6 L584.7,921.2 L585.3,919.4 L585.9,919.8 L586.5,920.2 L587.1,921.2 L587.8,919.0 L588.4,915.6 L589.1,912.8 L589.8,909.9 L590.4,909.5 L591.1,906.9 L591.7,904.6 L592.4,901.8 L593.0,908.7 L593.7,913.2 L594.3,918.6 L594.9,922.9 L595.5,926.4 L596.2,924.8 L596.8,924.3 L597.4,923.3 L598.1,920.1 L598.7,915.9 L599.3,917.4 L600.0,918.2 L600.6,919.9 L601.2,920.2 L601.9,919.9 L602.5,922.2 L603.1,924.7 L603.7,926.7 L604.3,929.0 L604.9,930.1 L605.5,930.0 L606.1,932.9 L606.7,934.7 L607.3,936.4 L607.9,937.0 L608.5,935.3 L609.1,935.6 L609.7,935.3 L610.3,936.7 L610.9,936.5 L611.5,937.2 L612.1,936.5 L612.7,936.9 L613.3,938.8 L613.9,939.4 L614.5,939.2 L615.1,935.6 L615.7,935.6 L616.3,935.4 L616.9,934.2 L617.5,934.5 L618.1,932.6 L618.7,930.5 L619.3,932.3 L619.9,934.7 L620.5,937.6 L621.1,939.9 L621.7,941.8 L622.3,943.7 L623.0,948.6 L623.6,946.4 L624.2,942.6 L624.8,939.6 L625.4,936.1 L626.0,935.4 L626.6,933.9 L627.2,933.5 L627.8,930.6 L628.4,928.6 L629.0,926.0 L629.6,923.1 L630.2,922.6 L630.8,919.7 L631.4,916.3 L632.0,919.0 L632.6,919.7 L633.2,923.1 L633.8,925.1 L634.4,924.5 L635.0,925.3 L635.6,927.3 L636.2,926.1 L636.9,926.7 L637.5,924.5 L638.1,924.1 L638.8,922.4 L639.4,919.0 L640.0,918.4 L640.6,915.1 L641.2,911.5 L641.8,909.5 L642.4,909.3 L643.0,908.0 L643.6,906.5 L644.3,907.8 L645.0,909.7 L645.8,913.6 L646.5,918.5 L647.2,923.1 L647.8,923.1 L648.5,923.7 L649.1,926.5 L649.7,927.8 L650.4,928.9 L651.0,925.4 L651.6,921.6 L652.3,919.4 L652.9,918.1 L653.5,917.3 L654.1,920.0 L654.7,922.2 L655.3,924.9 L655.9,928.0 L656.5,932.1 L657.1,936.7 L657.7,937.8 L658.4,936.0 L659.0,934.7 L659.6,933.3 L660.3,930.9 L660.9,926.7 L661.5,924.7 L662.1,922.8 L662.7,922.9 L663.3,921.7 L663.9,919.8 L664.5,917.3 L665.1,914.2 L665.7,916.1 L666.3,919.6 L666.9,922.3 L667.5,923.3 L668.1,925.1 L668.7,928.0 L669.3,931.5 L669.9,931.8 L670.5,933.6 L671.1,932.5 L671.7,935.4 L672.3,936.6 L672.9,940.8 L673.5,941.2 L674.1,939.1 L674.7,935.5 L675.3,934.2 L676.0,932.6 L676.6,929.6 L677.2,927.0 L677.8,925.8 L678.4,926.6 L679.0,928.7 L679.6,930.6 L680.2,931.4 L680.8,931.6 L681.4,931.4 L682.0,932.4 L682.6,933.6 L683.2,934.7 L683.8,933.2 L684.4,931.2 L685.0,930.2 L685.6,928.6 L686.2,928.0 L686.8,927.4 L687.4,924.2 L688.0,924.1 L688.6,922.5 L689.2,923.4 L689.8,922.3 L690.4,920.5 L691.0,917.1 L691.6,917.2 L692.2,917.8 L692.8,916.9 L693.4,917.9 L694.0,916.0 L694.6,915.7 L695.3,915.0 L695.9,912.2 L696.5,911.6 L697.2,909.7 L697.8,908.9 L698.4,911.6 L699.0,913.4 L699.7,916.3 L700.3,917.9 L700.9,919.3 L701.6,920.0 L702.2,921.5 L702.8,924.5 L703.4,925.8 L704.0,926.5 L704.7,926.9 L705.3,927.8 L705.9,926.2 L706.5,922.8 L707.2,919.2 L707.8,914.2 L708.4,911.9 L709.1,917.0 L709.7,920.3 L710.3,922.5 L711.0,923.4 L711.6,927.1 L712.2,925.8 L712.9,924.6 L713.5,922.5 L714.1,921.3 L714.8,918.7 L715.4,924.3 L716.0,926.8 L716.7,930.5 L717.3,931.1 L717.9,934.9 L718.5,933.5 L719.2,931.1 L719.8,927.7 L720.4,924.0 L721.1,918.1 L721.7,921.6 L722.3,923.8 L723.0,925.8 L723.6,927.6 L724.2,929.3 L724.9,927.6 L725.5,925.2 L726.1,922.3 L726.8,918.4 L727.4,914.6 L728.0,920.4 L728.7,926.9 L729.3,934.8 L729.9,940.5 L730.6,945.7 L731.2,938.9 L731.8,934.4 L732.5,930.4 L733.1,924.3 L733.7,918.7 L734.4,921.1 L735.0,923.2 L735.6,926.7 L736.3,926.9 L736.9,926.9 L737.5,921.6 L738.2,917.1 L738.8,914.3 L739.4,909.9 L740.1,903.3 L740.7,907.1 L741.3,911.9 L741.9,916.7 L742.6,921.7 L743.2,925.4 L743.8,923.6 L744.5,922.1 L745.1,921.0 L745.7,919.5 L746.4,916.9 L747.0,918.7 L747.6,924.0 L748.3,928.0 L748.9,933.7 L749.5,939.5 L750.2,932.3 L750.8,926.0 L751.4,921.0 L752.1,914.7 L752.7,909.0 L753.3,911.8 L754.0,916.4 L754.6,919.4 L755.2,925.4 L755.9,929.5 L756.5,924.4 L757.1,919.9 L757.8,916.3 L758.4,913.9 L759.0,911.9 L759.7,915.7 L760.3,918.7 L760.9,922.3 L761.6,926.9 L762.2,930.8 L762.8,924.7 L763.4,920.0 L764.1,914.8 L764.7,912.3 L765.3,907.6 L766.0,916.1 L766.8,921.8 L767.5,929.2 L768.1,926.4 L768.7,923.3 L769.3,919.9 L769.9,916.7 L770.5,911.3 L771.1,909.6 L771.7,905.5 L772.3,910.1 L772.9,912.2 L773.6,915.1 L774.2,919.9 L774.8,926.3 L775.4,923.6 L776.0,921.2 L776.6,915.3 L777.2,912.1 L777.8,909.4 L778.4,906.4 L779.0,903.9 L779.7,908.9 L780.5,914.3 L781.2,919.1 L781.8,919.9 L782.4,918.2 L783.1,916.3 L783.7,915.1 L784.3,914.9 L784.9,919.2 L785.6,923.7 L786.2,926.7 L786.8,930.7 L787.5,934.3 L788.2,936.0 L788.8,939.1 L789.5,941.2 L790.2,945.3 L790.9,940.4 L791.5,938.8 L792.1,935.8 L792.7,929.5 L793.4,932.1 L794.0,934.3 L794.6,939.1 L795.3,943.0 L795.9,945.3 L796.5,943.7 L797.2,940.2 L797.8,939.4 L798.4,936.9 L799.1,935.2 L799.8,938.1 L800.5,941.3 L801.2,946.8 L801.8,941.5 L802.4,932.1 L803.1,922.8 L803.7,914.1 L804.3,905.9 L804.9,906.0 L805.5,904.6 L806.1,901.2 L806.8,899.6 L807.4,898.6 L808.0,896.5 L808.6,895.2 L809.2,896.0 L809.8,898.9 L810.5,902.5 L811.1,906.9 L811.7,911.4 L812.3,912.5 L812.9,913.6 L813.5,915.0 L814.1,918.0 L814.7,921.3 L815.3,924.0 L815.9,926.0 L816.6,930.8 L817.2,934.0 L817.8,939.5 L818.5,942.9 L819.1,947.6 L819.7,947.7 L820.4,950.9 L821.0,954.8 L821.6,959.5 L822.3,961.3 L822.9,956.8 L823.5,953.7 L824.2,953.0 L824.8,951.3 L825.4,948.9 L826.1,944.2 L826.7,940.9 L827.3,937.1 L828.0,933.8 L828.6,927.7 L829.2,923.4 L829.8,918.0 L830.4,915.5 L831.0,912.3 L831.6,909.4 L832.2,905.8 L832.8,899.9 L833.4,902.0 L834.1,902.7 L834.7,905.3 L835.3,908.1 L836.0,908.4 L836.6,910.0 L837.2,913.4 L837.9,915.4 L838.5,917.2 L839.1,917.6 L839.8,920.6 L840.4,923.3 L841.0,929.2 L841.7,934.0 L842.3,936.9 L842.9,941.1 L843.5,944.0 L844.2,949.7 L844.8,952.7 L845.4,957.3 L846.1,961.0 L846.7,965.4 L847.3,969.7 L848.0,974.9 L848.6,976.7 L849.2,971.5 L849.9,966.7 L850.5,963.8 L851.1,962.0 L851.8,959.2 L852.4,955.1 L853.0,952.4 L853.6,949.8 L854.2,948.9 L854.8,945.7 L855.4,943.4 L856.0,939.3 L856.6,938.4 L857.3,935.4 L857.9,933.9 L858.5,931.7 L859.1,927.4 L859.8,923.2 L860.4,920.7 L861.0,918.1 L861.7,915.9 L862.3,911.4 L862.9,914.5 L863.6,918.2 L864.2,921.3 L864.8,925.4 L865.5,928.0 L866.1,931.2 L866.7,933.5 L867.4,939.1 L868.0,942.4 L868.6,944.8 L869.3,948.1 L869.9,952.5 L870.5,956.3 L871.2,962.9 L871.8,967.3 L872.4,969.9 L873.1,972.2 L873.7,974.6 L874.3,978.9 L875.0,980.9 L875.6,977.8 L876.2,977.0 L876.8,975.5 L877.4,976.5 L878.0,975.6 L878.6,972.2 L879.2,968.8 L879.8,967.8 L880.4,965.3 L881.0,964.3 L881.6,964.2 L882.2,960.6 L882.8,958.7 L883.4,957.6 L884.0,956.2 L884.6,952.2 L885.2,948.6 L885.8,944.4 L886.4,942.4 L887.0,942.0 L887.6,940.3 L888.2,935.6 L888.8,930.4 L889.4,923.2 L890.0,919.3 L890.6,916.2 L891.2,911.5 L891.8,907.9 L892.5,907.3 L893.1,910.5 L893.7,912.2 L894.4,913.4 L895.0,914.1 L895.6,914.7 L896.2,917.5 L896.9,921.9 L897.5,926.8 L898.1,929.9 L898.8,932.2 L899.4,935.5 L900.0,939.3 L900.7,943.9 L901.3,946.3 L901.9,951.0 L902.6,954.1 L903.2,958.4 L903.8,962.7 L904.5,967.2 L905.1,967.2 L905.7,968.4 L906.3,971.0 L906.9,973.8 L907.5,977.1 L908.1,978.9 L908.7,980.6 L909.3,979.7 L909.9,977.5 L910.5,976.8 L911.1,975.3 L911.7,974.4 L912.3,973.1 L912.9,971.5 L913.5,971.6 L914.1,968.0 L914.7,964.9 L915.3,961.0 L915.9,959.3 L916.5,956.2 L917.1,956.3 L917.7,952.8 L918.3,949.6 L918.9,945.5 L919.5,943.8 L920.1,940.4 L920.7,938.6 L921.3,934.4 L922.0,932.1 L922.6,930.9 L923.2,931.2 L923.9,931.0 L924.5,930.1 L925.1,927.5 L925.8,926.8 L926.4,929.4 L927.0,930.3 L927.7,931.1 L928.3,932.5 L928.9,933.2 L929.5,935.9 L930.1,939.7 L930.7,940.8 L931.3,942.7 L931.9,943.6 L932.5,947.4 L933.1,952.8 L933.8,958.2 L934.4,963.4 L935.0,965.3 L935.6,967.6 L936.2,970.6 L936.8,974.6 L937.4,976.6 L938.0,979.6 L938.6,982.5 L939.2,985.3 L939.9,985.3 L940.5,985.5 L941.1,984.6 L941.7,983.3 L942.3,982.1 L942.9,982.0 L943.5,983.2 L944.1,986.8 L944.7,987.9 L945.4,988.3 L946.0,990.8 L946.6,992.6 L947.2,990.7 L947.8,987.8 L948.4,985.4 L949.0,983.3 L949.6,980.1 L950.2,977.5 L950.8,974.6 L951.4,971.8 L952.0,969.0 L952.6,965.4 L953.3,965.1 L953.9,963.7 L954.5,961.7 L955.1,957.5 L955.7,954.3 L956.3,953.3 L956.9,950.9 L957.5,948.7 L958.1,945.6 L958.7,943.5 L959.3,941.3 L959.9,941.3 L960.5,939.5 L961.1,937.4 L961.7,935.4 L962.3,934.1 L962.9,934.0 L963.5,933.6 L964.1,935.1 L964.8,935.7 L965.4,936.7 L966.0,939.7 L966.7,941.2 L967.3,942.1 L967.9,942.0 L968.5,941.6 L969.2,944.1 L969.8,945.9 L970.4,950.5 L971.1,952.0 L971.7,953.4 L972.3,957.1 L973.0,962.5 L973.6,963.9 L974.2,965.4 L974.8,965.2 L975.4,966.2 L976.0,968.4 L976.6,968.8 L977.2,970.6 L977.9,972.1 L978.5,974.4 L979.2,976.7 L979.8,980.3 L980.5,983.0 L981.1,983.2 L981.8,984.3 L982.5,986.1 L983.1,987.9 L983.8,991.1 L984.4,990.5 L985.1,992.6 L985.8,993.4 L986.4,996.2 L987.1,996.7 L987.7,996.6 L988.3,995.6 L988.9,995.6 L989.5,997.8 L990.1,996.9 L990.7,996.3 L991.3,992.6 L991.9,991.2 L992.6,989.8 L993.3,988.6 L993.9,987.6 L994.6,983.0 L995.2,981.5 L995.9,980.5 L996.6,977.3 L997.2,973.9 L997.8,970.5 L998.4,967.9 L999.0,968.0 L999.6,967.3 L1000.2,964.8 L1000.8,962.4 L1001.4,959.0 L1002.0,958.5 L1002.6,957.6 L1003.2,957.6 L1003.8,958.1 L1004.4,956.7 L1005.0,956.3 L1005.6,955.7 L1006.3,959.7 L1006.9,961.6 L1007.5,963.8 L1008.2,966.6 L1008.8,969.4 L1009.4,967.1 L1010.1,964.4 L1010.7,959.5 L1011.3,954.3 L1012.0,949.6 L1012.6,955.0 L1013.2,958.1 L1013.8,961.7 L1014.4,963.5 L1015.0,968.2 L1015.6,972.4 L1016.2,975.2 L1016.8,977.8 L1017.5,976.9 L1018.2,979.4 L1018.8,982.7 L1019.5,986.2 L1020.1,987.8 L1020.8,989.2 L1021.5,990.2 L1022.1,992.2 L1022.7,992.5 L1023.4,993.1 L1024.0,992.3 L1024.6,992.4 L1025.3,994.8 L1025.9,996.4 L1026.5,996.5 L1027.2,995.4 L1027.8,994.9 L1028.4,994.8 L1029.0,997.1 L1029.7,1000.1 L1030.3,1000.8 L1030.9,1001.3 L1031.6,1002.0 L1032.2,1002.8 L1032.8,1003.5 L1033.5,1005.3 L1034.1,1005.7 L1034.8,1002.8 L1035.6,1001.4 L1036.3,1000.5 L1036.9,997.9 L1037.5,996.2 L1038.1,996.1 L1038.7,996.3 L1039.3,997.7 L1039.9,996.2 L1040.5,997.3 L1041.2,993.9 L1041.8,992.9 L1042.4,990.8 L1043.1,989.5 L1043.7,987.0 L1044.3,989.8 L1045.0,991.6 L1045.6,995.5 L1046.2,1000.2 L1046.9,1001.9 L1047.5,993.7 L1048.1,987.4 L1048.8,983.0 L1049.4,977.1 L1050.0,971.1 L1050.7,972.3 L1051.3,973.6 L1051.9,976.0 L1052.6,978.3 L1053.2,978.6 L1053.8,975.2 L1054.5,972.5 L1055.1,970.9 L1055.7,967.9 L1056.3,965.8 L1057.0,966.1 L1057.6,965.5 L1058.2,964.6 L1058.9,965.4 L1059.5,967.6 L1060.1,954.1 L1060.8,942.3 L1061.4,931.2 L1062.0,918.6 L1062.9,930.1 L1063.7,940.4 L1064.4,946.7 L1065.1,956.6 L1065.8,966.0 L1066.5,965.2 L1067.1,964.3 L1067.7,962.9 L1068.4,962.6 L1069.0,963.2 L1069.6,963.9 L1070.3,965.5 L1070.9,967.8 L1071.5,970.6 L1072.2,975.1 L1072.8,978.1 L1073.4,980.1 L1074.1,981.3 L1074.7,986.0 L1075.3,991.0 L1076.0,989.9 L1076.6,988.0 L1077.2,985.0 L1077.8,981.7 L1078.5,981.0 L1079.1,984.1 L1079.7,987.1 L1080.4,989.5 L1081.0,993.5 L1081.6,996.4 L1082.2,999.8 L1082.8,998.9 L1083.5,999.9 L1084.1,999.1 L1084.7,1001.2 L1085.3,1003.7 L1085.9,1004.7 L1086.5,1005.8 L1087.1,1005.5 L1087.7,1004.8 L1088.3,1005.1 L1088.9,1006.7 L1089.5,1005.8 L1090.1,1005.1 L1090.7,1004.3 L1091.3,1005.3 L1092.0,1005.5 L1092.6,1004.5 L1093.2,1001.8 L1093.8,1001.0 L1094.4,1002.0 L1095.0,1002.9 L1095.6,1003.7 L1096.2,1005.2 L1096.9,1004.4 L1097.5,1004.1 L1098.1,1002.5 L1098.7,998.6 L1099.4,993.8 L1100.0,990.0 L1100.6,986.0 L1101.2,990.0 L1101.9,993.0 L1102.5,993.4 L1103.1,994.0 L1103.8,995.5 L1104.5,987.4 L1105.2,980.4 L1105.9,973.4 L1106.5,976.1 L1107.2,980.3 L1107.8,984.8 L1108.4,989.9 L1109.0,992.7 L1109.6,987.3 L1110.3,981.1 L1110.9,978.3 L1111.5,975.6 L1112.1,972.7 L1112.7,967.5 L1113.3,963.3 L1114.0,964.7 L1114.7,968.0 L1115.4,972.0 L1116.0,967.3 L1116.6,960.5 L1117.3,957.6 L1117.9,953.0 L1118.5,949.1 L1119.2,952.2 L1119.8,955.9 L1120.4,961.9 L1121.1,967.0 L1121.7,974.9 L1122.3,971.1 L1123.0,965.2 L1123.6,960.0 L1124.2,955.7 L1124.9,951.9 L1125.5,956.9 L1126.1,961.0 L1126.8,963.6 L1127.4,968.5 L1128.0,973.8 L1128.7,968.5 L1129.5,962.4 L1130.2,956.2 L1130.9,953.1 L1131.6,948.8 L1132.3,955.7 L1133.0,961.1 L1133.7,964.7 L1134.3,971.6 L1135.0,974.0 L1135.6,977.3 L1136.2,979.6 L1136.9,982.9 L1137.5,987.8 L1138.1,992.6 L1138.8,995.2 L1139.4,995.9 L1140.0,997.3 L1140.7,1000.4 L1141.3,1002.4 L1141.9,1004.1 L1142.5,1003.2 L1143.1,1003.0 L1143.7,1004.1 L1144.3,1003.8 L1144.9,1004.1 L1145.5,1004.9 L1146.2,1002.3 L1146.9,1003.3 L1147.5,1002.9 L1148.2,1005.5 L1148.8,1004.2 L1149.5,1002.1 L1150.2,1000.5 L1150.8,1002.7 L1151.4,1003.6 L1152.0,1005.1 L1152.6,1005.0 L1153.2,1004.8 L1153.8,1005.7 L1154.4,1006.7 L1155.0,1005.4 L1155.6,1002.4 L1156.2,998.9 L1156.8,995.4 L1157.4,994.3 L1158.0,994.4 L1158.6,991.3 L1159.2,990.8 L1159.8,988.8 L1160.5,990.5 L1161.1,991.2 L1161.7,991.8 L1162.3,987.1 L1162.9,980.9 L1163.6,976.2 L1164.2,971.8 L1164.8,967.1 L1165.4,961.1 L1166.0,954.4 L1166.6,957.4 L1167.2,959.9 L1167.9,963.3 L1168.5,966.3 L1169.1,966.4 L1169.8,961.3 L1170.4,957.0 L1171.0,953.8 L1171.7,950.8 L1172.3,945.5 L1172.9,953.4 L1173.5,962.6 L1174.2,972.3 L1174.8,980.0 L1175.4,988.1 L1176.0,981.4 L1176.7,975.6 L1177.3,972.0 L1177.9,968.6 L1178.5,964.8 L1179.1,958.8 L1179.7,953.7 L1180.3,957.6 L1180.9,961.4 L1181.6,966.0 L1182.2,968.5 L1182.8,971.7 L1183.5,970.2 L1184.1,967.3 L1184.7,963.6 L1185.4,959.5 L1186.0,955.7 L1186.6,959.2 L1187.3,967.4 L1187.9,972.7 L1188.5,979.9 L1189.1,983.9 L1189.8,981.1 L1190.4,980.3 L1191.0,979.7 L1191.7,978.7 L1192.3,977.1 L1192.9,979.1 L1193.5,980.9 L1194.1,984.9 L1194.7,987.6 L1195.3,987.5 L1195.9,989.4 L1196.5,989.9 L1197.1,990.9 L1197.7,991.4 L1198.3,991.2 L1198.9,990.6 L1199.5,988.0 L1200.1,987.7 L1200.7,989.0 L1201.4,991.2 L1202.0,993.9 L1202.6,994.9 L1203.3,998.7 L1203.9,1003.6 L1204.5,1003.0 L1205.2,999.9 L1205.8,995.8 L1206.4,994.2 L1207.1,994.0 L1207.7,997.1 L1208.3,997.6 L1208.9,999.5 L1209.5,1001.9 L1210.1,1003.7 L1210.7,1005.7 L1211.3,1006.5 L1211.9,1007.0 L1212.5,1007.0 L1213.1,1008.5 L1213.7,1010.8 L1214.3,1012.0 L1214.9,1014.0 L1215.5,1012.8 L1216.1,1011.6 L1216.7,1012.9 L1217.3,1013.5 L1217.9,1014.0 L1218.5,1014.9 L1219.1,1013.7 L1219.7,1016.0 L1220.3,1016.2 L1220.9,1016.2 L1221.5,1017.0 L1222.1,1015.4 L1222.7,1014.2 L1223.3,1016.9 L1223.9,1017.4 L1224.5,1016.8 L1225.1,1015.1 L1225.7,1012.5 L1226.3,1011.1 L1226.9,1009.9 L1227.5,1007.8 L1228.1,1007.0 L1228.7,1004.7 L1229.3,1005.0 L1230.0,1004.3 L1230.6,1004.5 L1231.2,1002.1 L1231.8,1000.8 L1232.4,998.7 L1233.0,999.5 L1233.6,1003.5 L1234.3,1006.5 L1234.9,1007.0 L1235.5,1007.5 L1236.2,1001.8 L1236.8,999.9 L1237.4,996.9 L1238.1,993.1 L1238.7,989.9 L1239.3,988.4 L1239.9,987.9 L1240.6,988.9 L1241.2,988.0 L1241.8,984.6 L1242.5,986.8 L1243.1,989.1 L1243.7,994.7 L1244.4,997.9 L1245.0,998.0 L1245.6,993.2 L1246.2,988.5 L1246.8,982.9 L1247.4,977.2 L1248.0,972.9 L1248.6,966.7 L1249.2,961.5 L1249.9,963.4 L1250.5,965.9 L1251.1,967.9 L1251.8,966.9 L1252.4,967.3 L1253.0,965.9 L1253.7,964.6 L1254.3,964.0 L1254.9,961.3 L1255.5,957.1 L1256.2,965.9 L1256.8,972.8 L1257.4,981.3 L1258.1,988.9 L1258.7,995.7 L1259.3,991.4 L1260.0,990.3 L1260.6,985.7 L1261.2,982.2 L1261.9,977.0 L1262.5,972.7 L1263.1,971.7 L1263.7,971.3 L1264.3,970.5 L1264.9,966.3 L1265.5,964.3 L1266.1,963.3 L1266.7,966.2 L1267.4,971.1 L1268.0,973.7 L1268.6,976.9 L1269.2,980.3 L1269.9,981.5 L1270.5,980.6 L1271.1,979.4 L1271.8,978.2 L1272.4,975.2 L1273.0,982.5 L1273.7,988.4 L1274.3,995.9 L1274.9,1001.0 L1275.6,1005.8 L1276.2,1006.3 L1276.8,1004.9 L1277.4,1003.0 L1278.0,999.2 L1278.6,998.3 L1279.2,997.1 L1279.8,996.4 L1280.4,999.4 L1281.1,1002.8 L1281.7,1002.9 L1282.3,1005.9 L1283.0,1008.4 L1283.6,1009.3 L1284.2,1010.1 L1284.8,1010.0 L1285.4,1010.9 L1286.0,1012.9 L1286.6,1013.6 L1287.2,1013.7 L1287.8,1013.7 L1288.5,1013.8 L1289.1,1013.3 L1289.8,1016.3 L1290.5,1018.5 L1291.1,1017.9 L1291.8,1016.7 L1292.4,1017.0 L1293.0,1016.9 L1293.6,1015.3 L1294.2,1012.4 L1294.8,1010.3 L1295.4,1009.2 L1296.1,1009.1 L1296.7,1007.9 L1297.3,1008.1 L1297.9,1007.5 L1298.5,1008.0 L1299.1,1009.7 L1299.7,1011.1 L1300.3,1013.2 L1300.9,1014.4 L1301.5,1011.3 L1302.1,1010.1 L1302.7,1007.3 L1303.3,1006.7 L1303.9,1005.7 L1304.5,1002.6 L1305.1,1000.7 L1305.7,1004.3 L1306.3,1007.1 L1306.9,1009.2 L1307.5,1010.2 L1308.1,1009.4 L1308.7,1011.7 L1309.3,1014.1 L1309.9,1013.0 L1310.5,1009.6 L1311.1,1006.0 L1311.7,1004.2 L1312.3,1000.5 L1312.9,998.2 L1313.5,996.9 L1314.2,993.4 L1314.8,990.1 L1315.5,987.0 L1316.2,987.1 L1316.8,984.1 L1317.5,980.8 L1318.1,977.0 L1318.8,973.5 L1319.4,977.7 L1320.0,983.0 L1320.6,986.0 L1321.2,989.1 L1321.8,990.6 L1322.4,995.7 L1323.0,998.3 L1323.6,994.9 L1324.2,991.2 L1324.8,987.6 L1325.4,984.6 L1326.0,982.5 L1326.6,980.1 L1327.2,976.3 L1327.8,979.1 L1328.5,983.7 L1329.1,989.4 L1329.7,994.8 L1330.4,1000.7 L1331.0,1000.2 L1331.6,998.0 L1332.2,998.5 L1332.8,999.7 L1333.4,998.8 L1334.0,995.5 L1334.6,995.5 L1335.3,993.3 L1335.9,991.7 L1336.6,989.2 L1337.2,986.5 L1337.9,981.8 L1338.5,979.5 L1339.2,976.6 L1339.9,975.1 L1340.5,978.6 L1341.1,983.5 L1341.8,987.3 L1342.4,993.4 L1343.0,998.0 L1343.7,991.3 L1344.3,986.6 L1344.9,981.8 L1345.6,977.6 L1346.2,975.8 L1346.8,978.9 L1347.4,982.9 L1348.0,987.0 L1348.6,991.4 L1349.2,996.6 L1349.8,1000.5 L1350.4,1004.9 L1351.0,1004.9 L1351.6,1005.2 L1352.2,1005.0 L1352.8,1005.9 L1353.4,1005.9 L1354.0,1004.0 L1354.6,1002.2 L1355.3,1006.1 L1355.9,1008.2 L1356.5,1010.2 L1357.2,1011.8 L1357.8,1011.9 L1358.5,1014.6 L1359.1,1014.8 L1359.8,1015.7 L1360.5,1018.1 L1361.2,1017.7 L1361.9,1017.9 L1362.6,1017.1 L1363.3,1015.4 L1363.9,1013.5 L1364.6,1010.5 L1365.3,1008.9 L1366.1,1013.3 L1366.9,1015.0 L1367.7,1016.1 L1368.4,1015.6 L1369.1,1016.6 L1369.8,1017.8 L1370.5,1016.4 L1371.2,1016.5 L1371.9,1017.3 L1372.6,1017.8 L1373.3,1016.0 L1374.0,1012.5 L1374.7,1012.6 L1375.4,1012.9 L1376.1,1015.7 L1376.9,1016.1 L1377.6,1015.8 L1378.3,1017.3 L1379.0,1017.5 L1379.7,1015.6 L1380.5,1013.7 L1381.2,1013.7 L1381.9,1016.3 L1382.7,1018.2 L1383.4,1019.2 L1384.2,1018.8 L1384.8,1020.2 L1385.5,1021.7 L1386.2,1022.9 L1386.9,1023.1 L1387.5,1022.4 L1388.2,1022.8 L1388.9,1024.8 L1389.5,1022.5 L1390.2,1021.5 L1390.8,1018.1 L1391.5,1018.3 L1392.1,1018.8 L1392.8,1017.4 L1393.4,1016.6 L1394.1,1013.6 L1394.8,1012.5 L1395.5,1013.7 L1396.2,1015.3 L1396.9,1014.2 L1397.6,1015.0 L1398.3,1017.5 L1399.0,1017.9 L1399.7,1018.6 L1400.4,1018.6 L1401.1,1018.2 L1401.8,1021.2 L1402.6,1021.2 L1403.3,1017.7 L1404.0,1014.7 L1404.8,1013.1 L1405.5,1015.7 L1406.2,1016.4 L1407.0,1017.8 L1407.7,1018.6 L1408.5,1020.0 L1409.3,1022.5 L1410.1,1020.6 L1410.8,1016.9 L1411.5,1016.4 L1412.2,1015.6 L1412.9,1013.0 L1413.6,1010.5 L1414.3,1007.4 L1415.0,1006.2 L1415.7,1004.2 L1416.4,1002.7 L1417.1,998.3 L1417.8,1001.5 L1418.6,1004.2 L1419.3,1006.8 L1420.0,1007.1 L1420.7,1007.7 L1421.4,1008.9 L1422.1,1011.6 L1422.9,1013.8 L1423.6,1013.9 L1424.3,1010.2 L1425.0,1008.1 L1425.7,1004.9 L1426.4,1002.9 L1427.1,997.7 L1427.7,996.8 L1428.4,1001.1 L1429.2,1004.1 L1429.9,1006.2 L1430.6,1006.9 L1431.3,1009.0 L1431.9,1011.2 L1432.6,1013.6 L1433.3,1013.0 L1434.0,1014.3 L1434.6,1016.6 L1435.3,1017.4 L1436.0,1018.8 L1436.7,1014.2 L1437.4,1011.7 L1438.1,1010.4 L1438.8,1009.9 L1439.5,1006.7 L1440.3,1002.7 L1441.0,999.2 L1441.7,997.8 L1442.5,994.7 L1443.2,996.4 L1444.0,998.1 L1444.8,1002.5 L1445.6,1002.9 L1446.4,1003.1 L1447.2,1004.3 L1447.9,1004.8 L1448.6,1004.8 L1449.4,1004.6 L1450.1,1001.3 L1450.9,999.6 L1451.7,997.9 L1452.5,995.4 L1453.2,996.9 L1453.9,999.9 L1454.6,1004.3 L1455.3,1008.1 L1456.0,1008.9 L1457.2,1010.7 L1457.9,1009.6 L1458.6,1009.2 L1459.2,1006.5 L1459.9,1004.7 L1460.6,1001.5 L1461.3,1000.6 L1462.0,1003.7 L1462.7,1006.6 L1463.4,1008.7 L1464.1,1012.2 L1464.8,1016.4 L1465.5,1016.5 L1466.2,1014.1 L1466.9,1015.1 L1467.6,1016.6 L1468.3,1017.4 L1469.0,1018.5 L1469.7,1017.4 L1470.4,1015.7 L1471.1,1013.3 L1471.8,1013.8 L1472.5,1012.3 L1473.2,1012.1 L1474.0,1013.6 L1474.7,1016.2 L1475.4,1017.2 L1476.1,1018.0 L1476.9,1017.9 L1477.6,1018.9 L1478.3,1022.5 L1479.0,1024.0 L1479.7,1022.7 L1480.4,1024.2 L1481.2,1024.8 L1481.9,1024.2 L1482.6,1023.2 L1483.2,1021.9 L1483.9,1021.8 L1484.6,1023.4 L1485.2,1022.5 L1485.9,1021.5 L1486.6,1018.4 L1487.2,1017.9 L1487.9,1020.8 L1488.6,1020.6 L1489.3,1021.7 L1490.0,1023.4 L1490.8,1024.3 L1491.4,1024.6 L1492.1,1022.0 L1492.7,1022.0 L1493.4,1020.4 L1494.0,1021.4 L1494.7,1022.5 L1495.3,1022.3 L1496.0,1021.2 L1496.6,1019.3 L1497.3,1020.5 L1498.0,1021.4 L1498.7,1023.3 L1499.4,1022.9 L1500.1,1024.6 L1500.8,1025.7 L1501.4,1024.4 L1502.1,1023.2 L1502.7,1021.8 L1503.4,1021.0 L1504.0,1020.8 L1504.7,1021.4 L1505.3,1021.7 L1505.9,1018.4 L1506.6,1017.6 L1507.2,1017.7 L1508.0,1018.9 L1508.8,1020.0 L1509.6,1023.0 L1510.3,1023.8 L1511.0,1025.0 L1511.7,1025.1 L1512.4,1024.1 L1513.1,1023.2 L1513.9,1024.7 L1514.6,1025.8 L1515.3,1024.6 L1516.1,1022.7 L1516.8,1019.0 L1517.6,1017.9 L1518.3,1017.0 L1519.0,1014.9 L1519.8,1015.2 L1520.6,1020.0 L1521.4,1022.2 L1522.1,1018.6 L1522.9,1018.2 L1523.6,1018.3 L1524.3,1018.7 L1525.0,1018.8 L1525.6,1016.2 L1526.3,1015.0 L1527.0,1015.1 L1527.6,1013.6 L1528.3,1012.6 L1529.0,1010.6 L1529.6,1010.3" fill="none" stroke="#e0302c" stroke-width="2.0" stroke-linejoin="round"/>
<rect x="43.9" y="843.4" width="50.9" height="86" fill="none" stroke="#000" stroke-width="2.1" stroke-dasharray="8.4,7.6"/>
<rect x="576.1" y="852.9" width="225.4" height="131.8" fill="none" stroke="#000" stroke-width="2.1" stroke-dasharray="8.4,7.6"/>
<rect x="43.7" y="1049.3" width="1484.3" height="30.5" fill="none" stroke="#555" stroke-width="1.8" stroke-dasharray="4.6,3.4"/>
<line x1="96.6" y1="1049.3" x2="96.6" y2="1079.8" stroke="#555" stroke-width="1.8" stroke-dasharray="4.6,3.4"/>
<line x1="574.5" y1="1049.3" x2="574.5" y2="1079.8" stroke="#555" stroke-width="1.8" stroke-dasharray="4.6,3.4"/>
<line x1="803.3" y1="1049.3" x2="803.3" y2="1079.8" stroke="#555" stroke-width="1.8" stroke-dasharray="4.6,3.4"/>
<text x="54.9" y="1074.9" font-size="28.5" textLength="30.5" lengthAdjust="spacingAndGlyphs">50</text>
<text x="302.5" y="1074.9" font-size="28.5" textLength="34.1" lengthAdjust="spacingAndGlyphs">N1</text>
<text x="659.4" y="1074.9" font-size="28.5" textLength="31.0" lengthAdjust="spacingAndGlyphs">50</text>
<text x="1122.0" y="1074.9" font-size="28.5" textLength="36.0" lengthAdjust="spacingAndGlyphs">N2</text>
<text x="96.6" y="884.0" font-size="22.5" textLength="28.0" lengthAdjust="spacingAndGlyphs">&#8211;7</text>
<text x="110.8" y="899.3" font-size="22.5" textLength="27.5" lengthAdjust="spacingAndGlyphs">&#8211;6</text>
<text x="131.2" y="881.5" font-size="22.5" textLength="27.4" lengthAdjust="spacingAndGlyphs">&#8211;5</text>
<text x="152.5" y="891.7" font-size="22.5" textLength="28.0" lengthAdjust="spacingAndGlyphs">&#8211;4</text>
<text x="178.0" y="879.0" font-size="22.5" textLength="28.0" lengthAdjust="spacingAndGlyphs">&#8211;3</text>
<text x="199.8" y="899.3" font-size="22.5" textLength="27.5" lengthAdjust="spacingAndGlyphs">&#8211;2</text>
<text x="227.3" y="907.0" font-size="22.5" textLength="25.4" lengthAdjust="spacingAndGlyphs">&#8211;1</text>
<text x="263.4" y="926.2" font-size="22.5" textLength="13.6" lengthAdjust="spacingAndGlyphs">0</text>
<text x="281.0" y="902.9" font-size="22.5" textLength="25.6" lengthAdjust="spacingAndGlyphs">+1</text>
<text x="323.8" y="885.0" font-size="22.5" textLength="28.0" lengthAdjust="spacingAndGlyphs">+2</text>
<text x="359.0" y="866.3" font-size="22.5" textLength="27.4" lengthAdjust="spacingAndGlyphs">+3</text>
<text x="387.4" y="893.2" font-size="22.5" textLength="26.9" lengthAdjust="spacingAndGlyphs">+4</text>
<text x="429.6" y="870.3" font-size="22.5" textLength="26.9" lengthAdjust="spacingAndGlyphs">+5</text>
<text x="484.0" y="886.6" font-size="22.5" textLength="27.4" lengthAdjust="spacingAndGlyphs">+6</text>
<text x="521.6" y="914.6" font-size="22.5" textLength="27.4" lengthAdjust="spacingAndGlyphs">+7</text>
<text x="799.6" y="853.0" font-size="22.5" textLength="26.9" lengthAdjust="spacingAndGlyphs">&#8211;7</text>
<text x="813.6" y="887.0" font-size="22.5" textLength="27.4" lengthAdjust="spacingAndGlyphs">&#8211;6</text>
<text x="846.0" y="893.3" font-size="22.5" textLength="28.0" lengthAdjust="spacingAndGlyphs">&#8211;5</text>
<text x="880.7" y="889.7" font-size="22.5" textLength="26.9" lengthAdjust="spacingAndGlyphs">&#8211;4</text>
<text x="911.7" y="906.2" font-size="22.5" textLength="27.3" lengthAdjust="spacingAndGlyphs">&#8211;3</text>
<text x="950.5" y="907.8" font-size="22.5" textLength="27.3" lengthAdjust="spacingAndGlyphs">&#8211;2</text>
<text x="994.4" y="926.9" font-size="22.5" textLength="25.8" lengthAdjust="spacingAndGlyphs">&#8211;1</text>
<text x="1063.0" y="908.8" font-size="22.5" textLength="14.0" lengthAdjust="spacingAndGlyphs">0</text>
<text x="1108.0" y="939.8" font-size="22.5" textLength="27.4" lengthAdjust="spacingAndGlyphs">+1</text>
<text x="1162.2" y="938.8" font-size="22.5" textLength="27.4" lengthAdjust="spacingAndGlyphs">+2</text>
<text x="1244.9" y="950.1" font-size="22.5" textLength="27.4" lengthAdjust="spacingAndGlyphs">+3</text>
<text x="1317.2" y="963.0" font-size="22.5" textLength="27.4" lengthAdjust="spacingAndGlyphs">+4</text>
<text x="1428.2" y="982.1" font-size="22.5" textLength="28.4" lengthAdjust="spacingAndGlyphs">+5</text>
<text x="883.3" y="832.4" font-size="26" textLength="193.7" lengthAdjust="spacingAndGlyphs">50(N1)50(N2)6</text>
<line x1="1201.0" y1="846.8" x2="1239.7" y2="846.8" stroke="#000" stroke-width="6.3" stroke-linecap="round"/>
<line x1="1199.5" y1="872.6" x2="1237.7" y2="872.6" stroke="#e0302c" stroke-width="6.6" stroke-linecap="round"/>
<text x="1250.0" y="856.0" font-size="25.5" textLength="75.0" lengthAdjust="spacingAndGlyphs">DiNCP</text>
<text x="1250.0" y="883.0" font-size="25.5" textLength="170.5" lengthAdjust="spacingAndGlyphs">DiNCP+<tspan font-weight="normal">&#916;</tspan>cHLB</text>
<line x1="46.8" y1="1159.7" x2="46.8" y2="1383.3" stroke="#000" stroke-width="2.9"/>
<line x1="45.4" y1="1381.9" x2="1486.6" y2="1381.9" stroke="#000" stroke-width="2.9"/>
<line x1="311.6" y1="1379.3" x2="311.6" y2="1392.5" stroke="#000" stroke-width="2.2"/>
<line x1="445.9" y1="1379.3" x2="445.9" y2="1392.5" stroke="#000" stroke-width="2.2"/>
<line x1="528.7" y1="1379.3" x2="528.7" y2="1392.5" stroke="#000" stroke-width="2.2"/>
<line x1="555.7" y1="1379.3" x2="555.7" y2="1392.5" stroke="#000" stroke-width="2.2"/>
<line x1="587.2" y1="1379.3" x2="587.2" y2="1392.5" stroke="#000" stroke-width="2.2"/>
<line x1="619.2" y1="1379.3" x2="619.2" y2="1392.5" stroke="#000" stroke-width="2.2"/>
<line x1="655.8" y1="1379.3" x2="655.8" y2="1392.5" stroke="#000" stroke-width="2.2"/>
<line x1="696.5" y1="1379.3" x2="696.5" y2="1392.5" stroke="#000" stroke-width="2.2"/>
<line x1="749.9" y1="1379.3" x2="749.9" y2="1392.5" stroke="#000" stroke-width="2.2"/>
<line x1="801.7" y1="1379.3" x2="801.7" y2="1392.5" stroke="#000" stroke-width="2.2"/>
<line x1="870.4" y1="1379.3" x2="870.4" y2="1392.5" stroke="#000" stroke-width="2.2"/>
<line x1="928.8" y1="1379.3" x2="928.8" y2="1392.5" stroke="#000" stroke-width="2.2"/>
<line x1="1015.0" y1="1379.3" x2="1015.0" y2="1392.5" stroke="#000" stroke-width="2.2"/>
<line x1="1100.2" y1="1379.3" x2="1100.2" y2="1392.5" stroke="#000" stroke-width="2.2"/>
<line x1="1205.1" y1="1379.3" x2="1205.1" y2="1392.5" stroke="#000" stroke-width="2.2"/>
<rect x="78.8" y="1366.6" width="429.6" height="10.1" fill="#000"/>
<rect x="605.0" y="1366.6" width="38.1" height="10.1" fill="#000"/>
<rect x="680.2" y="1367.6" width="73.8" height="8.6" fill="#ddd" stroke="#666" stroke-width="1.2"/>
<rect x="1121.0" y="1366.9" width="363.0" height="9.8" fill="#000"/>
<path d="M48.0,1194.3 L48.6,1195.2 L49.3,1193.2 L49.9,1190.6 L50.5,1190.0 L51.1,1187.2 L51.7,1186.8 L52.3,1185.6 L52.9,1182.8 L53.6,1181.8 L54.2,1179.2 L54.8,1178.3 L55.4,1178.7 L56.0,1179.6 L56.7,1181.2 L57.3,1183.0 L57.9,1186.5 L58.5,1189.7 L59.2,1192.9 L59.8,1194.5 L60.4,1196.2 L61.1,1201.1 L61.8,1194.4 L62.5,1189.2 L63.2,1182.6 L63.8,1186.2 L64.5,1191.6 L65.1,1192.7 L65.7,1194.2 L66.3,1197.8 L67.0,1206.3 L67.7,1214.7 L68.4,1224.4 L69.1,1230.6 L69.7,1227.3 L70.4,1223.8 L71.0,1223.1 L71.6,1220.0 L72.3,1216.2 L72.9,1212.0 L73.5,1207.8 L74.1,1205.3 L74.8,1201.2 L75.4,1200.3 L76.0,1199.2 L76.7,1200.0 L77.3,1202.3 L77.9,1202.7 L78.6,1203.8 L79.2,1202.0 L79.8,1201.3 L80.5,1202.4 L81.1,1201.9 L81.7,1201.3 L82.4,1201.1 L83.0,1201.9 L83.6,1202.0 L84.3,1205.1 L84.9,1204.4 L85.5,1205.9 L86.2,1206.4 L86.8,1206.5 L87.4,1210.8 L88.0,1211.3 L88.6,1212.0 L89.2,1210.8 L89.8,1211.4 L90.4,1212.7 L91.0,1215.1 L91.6,1213.5 L92.3,1212.7 L92.9,1212.0 L93.5,1212.2 L94.2,1211.2 L94.8,1210.1 L95.4,1212.7 L96.0,1215.6 L96.6,1217.9 L97.2,1223.7 L97.8,1228.2 L98.4,1231.9 L99.0,1233.3 L99.7,1233.0 L100.3,1229.8 L100.9,1228.4 L101.6,1226.1 L102.2,1223.4 L102.8,1221.7 L103.4,1223.7 L104.1,1224.0 L104.7,1223.1 L105.3,1221.5 L106.0,1222.0 L106.6,1223.7 L107.2,1226.7 L107.9,1230.2 L108.5,1232.4 L109.1,1232.3 L109.8,1232.2 L110.4,1234.6 L111.0,1233.4 L111.7,1231.7 L112.3,1226.9 L112.9,1224.5 L113.6,1223.1 L114.2,1220.2 L114.8,1216.5 L115.5,1211.2 L116.1,1215.3 L116.8,1217.1 L117.5,1221.8 L118.1,1225.5 L118.8,1226.8 L119.4,1231.4 L120.1,1236.0 L120.7,1234.6 L121.4,1232.7 L122.0,1228.6 L122.6,1227.5 L123.3,1226.8 L123.9,1226.5 L124.5,1222.6 L125.2,1218.8 L125.8,1215.8 L126.4,1212.4 L127.1,1215.5 L127.7,1216.8 L128.3,1218.7 L129.0,1221.2 L129.6,1223.8 L130.2,1224.9 L130.9,1225.7 L131.5,1224.4 L132.1,1223.9 L132.7,1225.4 L133.4,1227.1 L134.0,1228.3 L134.6,1228.7 L135.2,1228.3 L135.8,1227.7 L136.4,1228.8 L137.0,1230.9 L137.6,1232.6 L138.2,1232.5 L138.9,1234.7 L139.5,1237.2 L140.1,1240.1 L140.7,1241.0 L141.3,1240.7 L141.9,1239.1 L142.5,1239.9 L143.1,1240.4 L143.7,1242.6 L144.3,1244.2 L145.0,1239.7 L145.6,1234.5 L146.2,1232.3 L146.9,1228.3 L147.5,1224.1 L148.1,1219.7 L148.8,1217.9 L149.4,1215.8 L150.0,1215.7 L150.7,1219.3 L151.3,1222.5 L151.9,1224.2 L152.6,1227.6 L153.2,1231.1 L153.8,1236.1 L154.5,1233.4 L155.1,1230.1 L155.7,1226.1 L156.4,1224.7 L157.0,1222.1 L157.6,1221.8 L158.2,1222.0 L158.8,1222.4 L159.4,1223.2 L160.0,1225.5 L160.6,1226.1 L161.2,1227.3 L161.8,1227.4 L162.5,1227.2 L163.1,1229.6 L163.7,1231.7 L164.4,1232.9 L165.0,1227.5 L165.6,1225.1 L166.3,1221.6 L166.9,1218.4 L167.5,1213.3 L168.1,1214.8 L168.7,1217.1 L169.3,1220.1 L169.9,1224.2 L170.5,1225.8 L171.1,1227.8 L171.7,1229.6 L172.4,1231.6 L173.0,1233.4 L173.6,1237.0 L174.3,1238.8 L174.9,1239.3 L175.6,1235.5 L176.3,1231.2 L177.0,1226.1 L177.6,1219.8 L178.3,1213.6 L178.9,1208.0 L179.5,1204.1 L180.2,1207.9 L180.8,1211.5 L181.4,1213.1 L182.1,1215.7 L182.7,1218.7 L183.3,1221.3 L183.9,1222.6 L184.5,1220.4 L185.1,1221.2 L185.7,1222.0 L186.4,1223.4 L187.0,1223.1 L187.6,1223.5 L188.2,1221.1 L188.8,1220.0 L189.4,1222.0 L190.0,1222.1 L190.6,1223.2 L191.2,1221.9 L191.8,1221.5 L192.4,1222.8 L193.0,1223.4 L193.7,1222.9 L194.3,1223.4 L194.9,1223.1 L195.6,1216.8 L196.3,1211.0 L197.0,1205.2 L197.6,1207.6 L198.2,1210.9 L198.8,1214.6 L199.4,1218.8 L200.1,1223.0 L200.7,1227.9 L201.3,1229.2 L201.9,1232.3 L202.5,1236.7 L203.1,1240.3 L203.7,1242.1 L204.3,1245.4 L204.9,1248.6 L205.5,1251.5 L206.1,1252.9 L206.7,1252.9 L207.4,1251.8 L208.0,1251.5 L208.6,1249.6 L209.2,1248.2 L209.8,1245.8 L210.4,1242.0 L211.0,1237.5 L211.6,1235.4 L212.2,1231.5 L212.8,1228.6 L213.5,1230.1 L214.1,1232.4 L214.7,1232.9 L215.4,1235.3 L216.0,1239.3 L216.7,1245.0 L217.4,1250.5 L218.1,1254.4 L218.7,1252.4 L219.3,1252.7 L219.9,1251.9 L220.5,1248.6 L221.1,1247.7 L221.7,1245.8 L222.3,1246.3 L223.0,1247.3 L223.6,1246.3 L224.2,1245.8 L224.9,1246.0 L225.5,1249.6 L226.1,1251.3 L226.7,1254.1 L227.3,1254.6 L227.9,1255.5 L228.5,1256.7 L229.1,1259.2 L229.7,1260.1 L230.3,1258.7 L230.9,1254.7 L231.5,1252.7 L232.1,1250.6 L232.7,1248.7 L233.3,1246.2 L233.9,1242.2 L234.5,1242.1 L235.1,1244.4 L235.7,1246.7 L236.3,1247.9 L236.9,1249.4 L237.5,1250.0 L238.1,1251.4 L238.7,1251.8 L239.3,1252.0 L240.0,1251.2 L240.6,1252.5 L241.2,1251.8 L241.8,1253.1 L242.4,1254.8 L243.0,1255.3 L243.6,1254.3 L244.3,1254.1 L244.9,1253.2 L245.5,1254.8 L246.1,1258.3 L246.7,1258.6 L247.3,1259.4 L247.9,1261.1 L248.5,1261.1 L249.1,1264.4 L249.7,1265.4 L250.4,1261.8 L251.0,1258.8 L251.6,1258.2 L252.3,1257.5 L252.9,1254.1 L253.5,1251.2 L254.2,1247.3 L254.8,1244.2 L255.4,1242.3 L256.1,1240.6 L256.7,1242.9 L257.3,1243.9 L258.0,1243.4 L258.6,1245.3 L259.2,1248.1 L259.9,1248.9 L260.5,1249.1 L261.1,1249.1 L261.8,1253.0 L262.4,1256.3 L263.0,1257.9 L263.7,1253.2 L264.3,1247.9 L265.0,1246.9 L265.7,1244.0 L266.3,1242.8 L267.0,1240.3 L267.7,1236.7 L268.3,1237.3 L268.9,1239.7 L269.5,1242.3 L270.1,1241.3 L270.7,1242.8 L271.3,1244.2 L271.9,1246.6 L272.5,1247.8 L273.1,1245.6 L273.7,1243.6 L274.3,1242.1 L274.9,1240.6 L275.5,1240.5 L276.1,1241.2 L276.7,1239.2 L277.3,1236.9 L277.9,1233.5 L278.5,1232.7 L279.1,1230.7 L279.7,1228.4 L280.3,1224.8 L280.9,1226.1 L281.6,1226.8 L282.2,1228.5 L282.8,1231.1 L283.5,1229.9 L284.1,1232.3 L284.7,1234.4 L285.4,1238.3 L286.0,1240.6 L286.6,1242.9 L287.2,1238.5 L287.8,1236.1 L288.4,1233.2 L289.0,1231.2 L289.6,1226.6 L290.2,1221.1 L290.8,1217.4 L291.4,1218.2 L292.0,1220.1 L292.6,1219.4 L293.3,1219.6 L293.9,1218.1 L294.5,1216.3 L295.1,1217.6 L295.7,1216.5 L296.3,1215.8 L297.0,1215.9 L297.6,1215.1 L298.2,1217.1 L298.9,1216.7 L299.6,1212.7 L300.3,1208.9 L301.0,1204.1 L301.7,1203.9 L302.4,1200.8 L303.1,1204.9 L303.7,1209.9 L304.3,1213.2 L305.0,1216.9 L305.6,1221.2 L306.3,1224.7 L306.9,1225.8 L307.6,1228.9 L308.2,1231.2 L308.9,1235.3 L309.6,1236.3 L310.2,1236.8 L310.9,1238.8 L311.5,1238.8 L312.2,1237.9 L312.8,1236.4 L313.5,1233.7 L314.2,1233.2 L314.8,1231.7 L315.5,1230.6 L316.1,1227.6 L316.8,1231.1 L317.5,1234.3 L318.1,1239.4 L318.8,1244.0 L319.4,1247.2 L320.1,1248.5 L320.7,1250.7 L321.4,1254.9 L322.0,1253.9 L322.7,1251.5 L323.3,1250.3 L323.9,1247.0 L324.6,1245.7 L325.2,1242.3 L325.8,1240.3 L326.5,1237.7 L327.1,1234.4 L327.7,1232.8 L328.3,1237.0 L329.0,1239.5 L329.6,1241.3 L330.2,1242.7 L330.8,1245.5 L331.4,1249.0 L332.0,1253.4 L332.7,1254.6 L333.3,1257.1 L333.9,1259.9 L334.5,1263.1 L335.1,1266.5 L335.8,1264.3 L336.4,1261.9 L337.1,1259.1 L337.7,1260.7 L338.4,1259.6 L339.1,1259.5 L339.7,1256.4 L340.4,1253.9 L341.0,1256.1 L341.6,1260.3 L342.2,1261.4 L342.8,1264.6 L343.5,1266.2 L344.1,1270.1 L344.7,1273.7 L345.3,1275.2 L345.9,1276.7 L346.5,1277.5 L347.1,1280.3 L347.8,1283.8 L348.4,1284.8 L349.0,1285.3 L349.6,1282.3 L350.2,1280.4 L350.8,1279.8 L351.4,1279.0 L352.0,1279.2 L352.6,1279.5 L353.2,1278.8 L353.9,1280.4 L354.5,1283.3 L355.1,1285.1 L355.8,1284.3 L356.4,1283.2 L357.0,1284.7 L357.7,1284.7 L358.3,1287.0 L358.9,1289.3 L359.5,1288.4 L360.1,1287.6 L360.7,1289.3 L361.3,1291.2 L361.9,1290.8 L362.5,1290.4 L363.2,1289.9 L363.8,1291.1 L364.5,1294.7 L365.1,1294.8 L365.8,1295.0 L366.5,1292.3 L367.1,1293.0 L367.8,1294.4 L368.4,1296.2 L369.0,1295.6 L369.6,1295.5 L370.2,1295.6 L370.8,1296.0 L371.4,1296.0 L372.0,1295.7 L372.6,1295.4 L373.2,1292.3 L373.8,1292.7 L374.4,1292.7 L375.0,1292.4 L375.6,1289.5 L376.2,1287.3 L376.8,1285.1 L377.4,1285.4 L378.0,1286.0 L378.6,1286.8 L379.3,1287.9 L379.9,1287.3 L380.5,1288.4 L381.2,1289.7 L381.8,1289.0 L382.4,1287.8 L383.1,1286.6 L383.7,1287.7 L384.3,1285.8 L385.0,1283.3 L385.6,1277.7 L386.2,1273.0 L386.9,1269.7 L387.5,1269.6 L388.1,1270.5 L388.8,1271.3 L389.4,1270.8 L390.0,1272.7 L390.7,1273.5 L391.3,1272.9 L391.9,1271.7 L392.6,1270.3 L393.2,1270.2 L393.9,1273.3 L394.6,1277.6 L395.3,1279.9 L395.9,1274.3 L396.6,1269.3 L397.2,1267.0 L397.8,1262.6 L398.5,1259.2 L399.1,1256.3 L399.7,1253.9 L400.4,1251.6 L401.0,1250.5 L401.6,1247.4 L402.3,1245.2 L402.9,1242.1 L403.5,1241.6 L404.1,1241.0 L404.8,1240.4 L405.4,1238.7 L406.0,1236.5 L406.7,1236.0 L407.3,1235.3 L407.9,1235.4 L408.5,1234.6 L409.1,1234.0 L409.7,1233.3 L410.4,1235.5 L411.0,1235.5 L411.6,1234.6 L412.2,1233.1 L412.8,1232.6 L413.4,1233.5 L414.1,1236.1 L414.7,1236.7 L415.3,1236.3 L416.0,1239.0 L416.6,1240.4 L417.2,1241.9 L417.8,1244.2 L418.5,1245.9 L419.1,1243.2 L419.7,1242.0 L420.4,1241.0 L421.0,1238.6 L421.6,1234.7 L422.4,1232.5 L423.1,1230.9 L423.8,1231.1 L424.5,1230.8 L425.2,1230.9 L425.9,1232.1 L426.5,1233.2 L427.1,1233.8 L427.8,1236.2 L428.4,1236.1 L429.0,1237.8 L429.6,1238.7 L430.2,1242.2 L430.8,1244.2 L431.4,1243.9 L432.0,1244.2 L432.6,1245.4 L433.2,1245.7 L433.9,1243.3 L434.5,1240.7 L435.1,1237.8 L435.8,1234.2 L436.4,1230.2 L437.1,1228.0 L437.8,1223.5 L438.5,1217.6 L439.1,1214.5 L439.9,1218.5 L440.6,1223.2 L441.3,1229.1 L442.0,1229.6 L442.7,1233.4 L443.4,1234.8 L444.0,1237.7 L444.6,1238.3 L445.3,1238.7 L445.9,1239.9 L446.5,1238.7 L447.2,1238.4 L447.8,1235.9 L448.4,1233.7 L449.0,1230.1 L449.6,1230.0 L450.3,1230.4 L450.9,1231.9 L451.5,1230.4 L452.1,1228.3 L452.7,1226.2 L453.3,1225.1 L453.9,1226.5 L454.5,1229.2 L455.2,1229.3 L455.8,1229.6 L456.4,1231.9 L457.1,1235.5 L457.7,1239.4 L458.3,1241.4 L459.0,1241.8 L459.6,1246.4 L460.2,1245.4 L460.8,1245.6 L461.4,1244.2 L462.0,1241.2 L462.6,1239.4 L463.2,1237.3 L463.8,1235.6 L464.4,1236.8 L465.0,1236.7 L465.6,1236.0 L466.2,1237.5 L466.8,1238.7 L467.4,1238.6 L468.0,1238.4 L468.7,1238.8 L469.3,1240.3 L469.9,1243.6 L470.5,1246.0 L471.2,1249.0 L471.8,1250.6 L472.4,1252.9 L473.0,1255.3 L473.6,1258.4 L474.2,1260.7 L474.8,1263.2 L475.4,1264.6 L476.0,1263.7 L476.7,1263.1 L477.3,1261.2 L477.9,1257.6 L478.6,1253.5 L479.2,1251.0 L479.8,1254.1 L480.5,1257.3 L481.1,1259.4 L481.7,1260.2 L482.4,1262.4 L483.0,1267.4 L483.6,1269.8 L484.2,1273.5 L484.9,1274.6 L485.5,1277.0 L486.1,1279.0 L486.7,1282.2 L487.3,1283.7 L487.9,1283.4 L488.5,1283.5 L489.1,1284.0 L489.8,1283.6 L490.4,1282.7 L491.1,1282.3 L491.7,1281.4 L492.4,1279.0 L493.1,1280.1 L493.7,1278.3 L494.4,1276.0 L495.0,1275.1 L495.6,1276.8 L496.2,1278.6 L496.8,1281.7 L497.4,1283.3 L498.0,1283.0 L498.6,1282.1 L499.2,1282.7 L499.8,1284.1 L500.4,1287.1 L501.0,1288.0 L501.6,1289.0 L502.2,1289.6 L502.8,1292.6 L503.4,1290.6 L504.0,1289.2 L504.6,1286.8 L505.2,1285.7 L505.8,1285.9 L506.4,1284.9 L507.0,1285.6 L507.6,1285.9 L508.3,1284.0 L508.9,1283.7 L509.5,1285.7 L510.2,1287.3 L510.8,1287.8 L511.4,1287.3 L512.1,1287.1 L512.7,1288.3 L513.3,1289.4 M519.7,1274.4 L520.4,1273.9 L521.1,1270.7 L521.8,1269.0 L522.4,1267.8 L523.0,1266.9 L523.6,1262.7 L524.2,1258.5 L524.8,1254.6 L525.4,1252.5 L526.0,1251.0 L526.6,1243.0 L527.3,1234.8 L527.9,1226.3 L528.5,1217.4 L529.1,1209.3 L529.8,1205.1 L530.4,1198.9 L531.0,1194.3 L531.7,1190.2 L532.3,1186.8 L533.0,1190.4 L533.7,1194.7 L534.4,1196.2 L535.1,1203.3 L535.7,1210.0 L536.3,1219.8 L536.9,1228.3 L537.6,1234.7 L538.2,1238.4 L538.8,1243.8 L539.5,1249.2 L540.1,1254.0 L540.7,1258.3 L541.4,1268.9 L542.0,1278.8 L542.6,1291.8 L543.3,1302.8 L544.0,1298.6 L544.6,1293.5 L545.3,1289.6 L546.0,1287.6 L546.6,1285.2 L547.2,1281.1 L547.8,1278.0 L548.4,1272.8 L549.0,1270.1 L549.6,1267.0 L550.2,1263.4 L550.8,1259.9 L551.4,1256.9 L552.0,1255.5 L552.6,1254.4 L553.2,1251.0 L553.8,1248.2 L554.4,1244.5 L555.1,1240.5 L555.7,1237.6 L556.3,1236.4 L557.0,1233.1 L557.6,1230.3 L558.3,1222.0 L559.0,1215.9 L559.7,1208.3 L560.3,1197.6 L561.0,1199.3 L561.6,1200.7 L562.2,1202.7 L562.9,1205.3 L563.6,1217.9 L564.3,1228.3 L565.0,1240.2 L565.6,1246.5 L566.2,1251.5 L566.9,1256.7 L567.5,1262.1 L568.1,1268.1 L568.8,1276.2 L569.4,1283.5 L570.0,1289.3 L570.7,1295.0 L571.3,1302.3 L571.9,1309.4 L572.7,1304.7 L573.4,1300.4 L574.1,1293.4 L574.8,1288.0 L575.5,1281.7 L576.1,1277.1 L576.7,1271.1 L577.3,1265.9 L577.9,1261.5 L578.5,1256.1 L579.1,1251.3 L579.7,1246.9 L580.4,1241.0 L581.0,1237.2 L581.6,1235.3 L582.3,1232.1 L582.9,1231.7 L583.6,1226.4 L584.3,1220.5 L585.0,1216.6 L585.6,1214.4 L586.3,1211.1 L586.9,1207.5 L587.5,1202.9 L588.2,1215.0 L588.9,1229.0 L589.6,1239.4 L590.3,1249.1 L590.9,1252.9 L591.5,1259.1 L592.2,1267.5 L592.8,1273.9 L593.4,1279.3 L594.1,1281.5 L594.7,1285.8 L595.3,1290.8 L596.0,1294.1 L596.6,1297.5 L597.2,1297.9 L597.9,1298.1 L598.5,1300.0 L599.1,1300.7 L599.8,1301.0 L600.4,1301.3 L601.0,1299.6 L601.6,1300.8 L602.2,1301.8 L602.8,1302.9 L603.4,1301.8 L604.0,1302.7 L604.6,1299.7 L605.2,1298.0 L605.9,1294.2 L606.5,1292.1 L607.1,1287.7 L607.8,1284.6 L608.4,1281.8 L609.0,1277.3 L609.7,1273.5 L610.3,1267.6 L610.9,1262.7 L611.5,1258.2 L612.1,1255.6 L612.7,1250.8 L613.3,1246.4 L613.9,1242.4 L614.5,1237.6 L615.2,1232.8 L615.9,1227.5 L616.6,1219.9 L617.3,1217.0 L617.9,1216.6 L618.5,1219.3 L619.2,1220.3 L619.8,1218.7 L620.5,1220.6 L621.2,1224.5 L621.9,1230.7 L622.6,1225.4 L623.3,1217.4 L624.0,1211.6 L624.6,1207.0 L625.4,1214.0 L626.1,1220.8 L626.8,1224.8 L627.5,1231.2 L628.2,1237.5 L628.9,1245.5 L629.5,1252.6 L630.1,1257.0 L630.8,1260.8 L631.4,1266.8 L632.0,1272.6 L632.6,1276.3 L633.2,1280.0 L633.8,1284.1 L634.4,1289.1 L635.0,1295.2 L635.6,1298.5 L636.3,1300.7 L636.9,1301.2 L637.6,1304.0 L638.2,1308.2 L638.9,1311.0 L639.6,1314.3 L640.2,1316.5 L640.9,1317.3 L641.5,1318.3 L642.1,1317.1 L642.8,1315.9 L643.4,1314.6 L644.0,1314.2 L644.6,1309.7 L645.2,1307.4 L645.8,1302.1 L646.4,1297.3 L647.0,1291.7 L647.6,1286.8 L648.2,1284.3 L648.8,1284.1 L649.5,1283.0 L650.1,1281.4 L650.7,1278.4 L651.3,1277.6 L651.9,1276.8 L652.5,1275.4 L653.2,1265.9 L653.9,1257.4 L654.6,1248.9 L655.2,1249.0 L655.8,1249.6 L656.5,1245.6 L657.1,1244.3 L657.7,1244.3 L658.4,1249.6 L659.0,1254.5 L659.6,1259.9 L660.3,1262.8 L660.9,1268.2 L661.5,1273.2 L662.2,1275.5 L662.8,1278.6 L663.4,1281.8 L664.1,1286.2 L664.7,1290.2 L665.3,1295.1 L665.9,1297.3 L666.5,1299.3 L667.1,1302.2 L667.7,1305.3 L668.3,1311.1 L668.9,1313.1 L669.5,1315.7 L670.2,1319.3 L670.8,1322.7 L671.4,1325.4 L672.1,1328.0 L672.8,1327.9 L673.4,1327.9 L674.1,1330.6 L674.7,1333.0 L675.4,1335.5 L676.0,1337.6 L676.7,1337.0 L677.3,1335.8 L678.0,1333.3 L678.6,1332.0 L679.2,1329.9 L679.9,1329.2 L680.5,1325.8 L681.1,1322.3 L681.7,1319.6 L682.3,1317.1 L682.9,1311.7 L683.5,1308.4 L684.1,1304.1 L684.7,1304.0 L685.3,1301.1 L685.9,1299.2 L686.5,1295.2 L687.1,1292.0 L687.7,1288.9 L688.3,1288.1 L688.9,1284.7 L689.5,1282.5 L690.1,1282.2 L690.7,1280.4 L691.3,1279.9 L691.9,1279.2 L692.5,1276.8 L693.1,1278.0 L693.8,1279.7 L694.4,1281.8 L695.0,1286.2 L695.7,1288.6 L696.3,1286.7 L696.9,1287.7 L697.5,1287.3 L698.1,1288.1 L698.7,1287.5 L699.3,1288.6 L699.9,1288.2 L700.5,1289.1 L701.2,1288.8 L701.8,1287.6 L702.5,1285.7 L703.1,1283.7 L703.8,1284.2 L704.4,1283.2 L705.0,1283.2 L705.7,1282.8 L706.3,1280.8 L707.0,1285.6 L707.7,1290.8 L708.4,1294.9 L709.1,1293.9 L709.7,1294.0 L710.3,1296.3 L711.0,1299.0 L711.6,1300.0 L712.3,1298.5 L713.0,1296.9 L713.7,1294.5 L714.3,1298.3 L715.0,1302.1 L715.6,1304.5 L716.2,1307.2 L716.9,1309.1 L717.5,1314.2 L718.1,1318.0 L718.8,1322.0 L719.4,1325.3 L720.0,1328.6 L720.7,1330.9 L721.3,1333.7 L721.9,1334.9 L722.6,1335.9 L723.2,1334.9 L723.8,1335.6 L724.4,1336.1 L725.0,1336.9 L725.6,1334.6 L726.2,1335.2 L726.8,1334.4 L727.4,1334.4 L728.0,1335.3 L728.6,1334.5 L729.2,1332.4 L729.8,1330.8 L730.4,1333.4 L731.0,1333.4 L731.6,1334.0 L732.3,1330.7 L732.9,1326.1 L733.5,1323.7 L734.1,1321.6 L734.8,1319.0 L735.4,1317.8 L736.0,1317.9 L736.7,1316.9 L737.3,1317.9 L737.9,1315.7 L738.6,1311.7 L739.2,1306.7 L739.8,1304.7 L740.5,1302.2 L741.1,1300.4 L741.7,1295.5 L742.4,1289.5 L743.0,1285.1 L743.6,1280.7 L744.3,1276.6 L744.9,1278.5 L745.5,1278.2 L746.2,1278.5 L746.8,1281.1 L747.4,1283.8 L748.1,1281.6 L748.7,1277.2 L749.3,1273.1 L750.0,1272.5 L750.6,1270.4 L751.3,1273.0 L752.0,1272.4 L752.7,1274.0 L753.4,1268.5 L754.1,1264.2 L754.8,1259.1 L755.5,1273.2 L756.2,1288.5 L756.9,1303.1 L757.5,1302.5 L758.1,1301.5 L758.7,1299.7 L759.3,1296.3 L759.9,1295.8 L760.5,1296.3 L761.1,1294.8 L761.8,1300.7 L762.4,1304.5 L763.0,1308.6 L763.7,1314.0 L764.3,1320.9 L764.9,1321.0 L765.6,1321.7 L766.2,1324.5 L766.8,1326.9 L767.5,1329.6 L768.1,1330.4 L768.7,1331.5 L769.3,1330.8 L769.9,1332.9 L770.5,1335.9 L771.1,1337.9 L771.7,1338.3 L772.3,1336.2 L772.9,1335.5 L773.6,1334.5 L774.2,1331.7 L774.8,1331.0 L775.5,1329.4 L776.1,1330.8 L776.7,1333.3 L777.4,1336.6 L778.0,1338.0 L778.6,1335.5 L779.3,1331.4 L779.9,1330.9 L780.5,1328.9 L781.2,1328.6 L781.8,1328.8 L782.4,1330.0 L783.1,1331.2 L783.7,1334.5 L784.3,1334.3 L784.9,1330.6 L785.6,1324.9 L786.2,1322.1 L786.8,1319.9 L787.5,1316.9 L788.1,1314.2 L788.7,1310.1 L789.4,1305.2 L790.0,1302.8 L790.6,1301.6 L791.3,1295.2 L791.9,1290.6 L792.5,1285.9 L793.2,1283.2 L793.9,1274.5 L794.5,1267.1 L795.2,1258.1 L795.9,1250.0 L796.6,1254.5 L797.3,1262.4 L798.0,1265.4 L798.7,1272.2 L799.3,1278.0 L799.9,1284.6 L800.5,1292.6 L801.2,1298.8 L801.8,1289.1 L802.4,1281.6 L803.1,1273.8 L803.7,1266.6 L804.4,1270.6 L805.1,1274.0 L805.8,1276.8 L806.5,1283.2 L807.2,1279.5 L807.9,1276.9 L808.6,1271.7 L809.2,1274.4 L809.8,1276.1 L810.5,1280.3 L811.1,1282.7 L811.7,1284.2 L812.4,1282.9 L813.0,1283.9 L813.6,1283.0 L814.2,1279.7 L814.9,1277.7 L815.5,1281.8 L816.1,1287.1 L816.8,1294.4 L817.4,1299.7 L818.0,1304.9 L818.7,1304.1 L819.3,1305.9 L819.9,1306.7 L820.6,1307.4 L821.2,1306.4 L821.8,1306.0 L822.5,1306.8 L823.1,1309.5 L823.7,1310.0 L824.4,1310.1 L825.0,1312.7 L825.6,1315.2 L826.3,1320.1 L826.9,1323.7 L827.5,1328.2 L828.1,1330.9 L828.7,1331.4 L829.3,1333.7 L829.9,1336.2 L830.5,1339.6 L831.1,1339.3 L831.7,1341.3 L832.3,1342.6 L832.9,1345.7 L833.6,1347.0 L834.2,1347.7 L834.8,1346.3 L835.4,1347.7 L836.0,1348.8 L836.6,1349.9 L837.2,1351.4 L837.8,1351.2 L838.4,1351.7 L839.0,1352.9 L839.6,1353.7 L840.2,1353.3 L840.8,1351.2 L841.4,1347.2 L842.1,1342.5 L842.7,1340.5 L843.3,1339.5 L843.9,1338.3 L844.5,1336.9 L845.1,1334.4 L845.7,1333.6 L846.4,1332.9 L847.0,1333.2 L847.6,1331.8 L848.2,1330.5 L848.8,1328.6 L849.5,1327.4 L850.1,1327.6 L850.7,1324.9 L851.3,1323.4 L852.0,1322.6 L852.6,1324.5 L853.2,1326.4 L853.9,1327.0 L854.5,1321.5 L855.1,1317.7 L855.8,1314.6 L856.4,1311.2 L857.0,1307.8 L857.7,1306.4 L858.3,1305.9 L858.9,1306.6 L859.6,1307.3 L860.2,1306.7 L860.8,1300.0 L861.5,1294.5 L862.1,1289.9 L862.7,1287.0 L863.4,1283.1 L864.0,1286.7 L864.6,1289.5 L865.3,1293.6 L865.9,1298.0 L866.5,1303.4 L867.1,1299.2 L867.7,1293.4 L868.3,1290.2 L868.9,1287.9 L869.5,1284.2 L870.1,1279.9 L870.7,1275.8 L871.4,1279.7 L872.0,1285.1 L872.6,1292.4 L873.3,1298.7 L873.9,1304.9 L874.5,1300.0 L875.1,1294.2 L875.7,1289.6 L876.3,1286.2 L876.9,1281.7 L877.5,1275.7 L878.1,1269.6 L878.8,1275.5 L879.4,1279.0 L880.0,1283.4 L880.6,1285.8 L881.3,1288.2 L881.9,1294.1 L882.5,1300.4 L883.2,1305.8 L883.8,1311.4 L884.4,1315.2 L885.0,1317.9 L885.6,1319.7 L886.3,1321.6 L886.9,1322.1 L887.5,1323.3 L888.1,1324.7 L888.7,1328.2 L889.3,1330.6 L889.9,1333.4 L890.5,1335.8 L891.1,1335.1 L891.7,1337.5 L892.3,1339.5 L892.9,1343.3 L893.5,1343.6 L894.1,1342.5 L894.7,1343.9 L895.3,1344.1 L895.9,1344.9 L896.5,1346.1 L897.1,1345.1 L897.7,1342.2 L898.4,1342.4 L899.0,1341.9 L899.6,1343.0 L900.3,1341.0 L900.9,1342.1 L901.5,1343.2 L902.2,1344.2 L902.8,1345.0 L903.4,1347.2 L904.0,1343.2 L904.7,1339.8 L905.3,1336.7 L905.9,1334.3 L906.6,1330.8 L907.2,1330.2 L907.8,1331.9 L908.4,1333.0 L909.0,1336.0 L909.6,1338.2 L910.2,1339.8 L910.8,1341.6 L911.4,1334.6 L912.1,1329.5 L912.7,1325.4 L913.3,1321.3 L914.0,1313.9 L914.6,1314.5 L915.2,1315.3 L915.9,1317.2 L916.5,1316.3 L917.1,1314.1 L917.7,1311.4 L918.4,1307.6 L919.0,1306.6 L919.6,1303.8 L920.3,1301.0 L920.9,1295.4 L921.6,1297.3 L922.3,1299.6 L923.1,1301.1 L923.8,1303.0 L924.5,1304.0 L925.1,1303.0 L925.7,1302.7 L926.3,1301.5 L926.9,1297.8 L927.5,1294.5 L928.1,1293.0 L928.7,1292.1 L929.3,1297.0 L930.0,1301.2 L930.6,1304.2 L931.2,1308.7 L931.9,1314.3 L932.5,1309.5 L933.1,1305.2 L933.7,1300.8 L934.3,1296.6 L934.9,1292.9 L935.5,1290.9 L936.1,1287.9 L936.7,1291.4 L937.4,1296.0 L938.0,1302.8 L938.6,1309.9 L939.2,1315.0 L939.9,1318.9 L940.5,1323.2 L941.1,1326.2 L941.8,1331.4 L942.4,1334.2 L943.0,1331.3 L943.7,1326.6 L944.3,1323.9 L944.9,1322.9 L945.6,1321.0 L946.2,1327.2 L946.8,1331.5 L947.5,1335.3 L948.1,1341.3 L948.7,1346.3 L949.3,1347.9 L949.9,1348.0 L950.5,1348.8 L951.1,1348.6 L951.7,1351.5 L952.3,1351.4 L953.0,1351.9 L953.6,1350.4 L954.2,1349.4 L954.8,1348.7 L955.4,1350.5 L956.0,1350.7 L956.6,1347.6 L957.2,1347.1 L957.8,1347.5 L958.4,1348.3 L959.0,1349.5 L959.6,1350.0 L960.2,1350.9 L960.8,1352.9 L961.4,1353.6 L962.0,1353.0 L962.7,1352.2 L963.4,1349.2 L964.0,1347.7 L964.7,1347.2 L965.3,1347.4 L966.0,1346.4 L966.7,1346.0 L967.3,1346.6 L967.9,1347.5 L968.5,1350.3 L969.1,1352.5 L969.7,1353.7 L970.3,1355.8 L970.9,1357.8 L971.5,1357.3 L972.1,1357.5 L972.7,1356.8 L973.3,1353.8 L973.9,1353.8 L974.5,1351.9 L975.1,1353.6 L975.7,1353.6 L976.3,1353.3 L977.0,1351.0 L977.6,1350.7 L978.2,1352.3 L978.8,1351.2 L979.5,1348.6 L980.1,1347.5 L980.7,1345.9 L981.3,1346.4 L981.9,1346.7 L982.5,1347.1 L983.1,1344.7 L983.7,1343.7 L984.3,1343.6 L984.9,1345.1 L985.5,1348.2 L986.1,1347.9 L986.7,1348.0 L987.3,1344.8 L987.9,1342.3 L988.5,1338.9 L989.1,1335.6 L989.7,1332.2 L990.3,1328.7 L990.9,1327.0 L991.5,1327.4 L992.2,1325.4 L992.8,1321.3 L993.4,1318.3 L994.1,1316.9 L994.7,1314.4 L995.3,1311.7 L996.0,1308.4 L996.6,1304.8 L997.2,1300.6 L997.8,1304.4 L998.4,1308.8 L999.0,1311.2 L999.6,1313.2 L1000.2,1316.8 L1000.8,1321.7 L1001.4,1326.1 L1002.0,1322.5 L1002.6,1317.9 L1003.2,1312.6 L1003.8,1308.8 L1004.4,1304.2 L1005.0,1301.5 L1005.6,1297.3 L1006.3,1297.5 L1006.9,1297.6 L1007.5,1299.2 L1008.1,1300.6 L1008.7,1302.0 L1009.3,1302.2 L1009.9,1301.9 L1010.5,1298.0 L1011.1,1296.0 L1011.7,1294.0 L1012.3,1292.2 L1012.9,1287.4 L1013.5,1283.0 L1014.1,1280.5 L1014.7,1283.1 L1015.3,1285.5 L1016.0,1288.1 L1016.6,1289.8 L1017.2,1291.8 L1017.9,1291.6 L1018.5,1288.5 L1019.1,1286.7 L1019.8,1281.6 L1020.4,1280.4 L1021.0,1287.5 L1021.7,1294.3 L1022.3,1299.2 L1022.9,1304.5 L1023.6,1308.7 L1024.2,1311.2 L1024.8,1312.6 L1025.5,1314.8 L1026.1,1316.8 L1026.7,1319.1 L1027.4,1317.5 L1028.0,1318.1 L1028.6,1315.3 L1029.3,1312.5 L1029.9,1309.7 L1030.5,1312.3 L1031.2,1314.3 L1031.8,1317.5 L1032.4,1318.9 L1033.1,1319.8 L1033.7,1322.0 L1034.4,1325.6 L1035.0,1329.3 L1035.7,1332.0 L1036.3,1334.7 L1037.0,1331.7 L1037.6,1331.1 L1038.2,1329.5 L1038.9,1325.3 L1039.5,1321.1 L1040.1,1325.5 L1040.8,1327.9 L1041.4,1333.4 L1042.0,1336.7 L1042.6,1338.9 L1043.2,1339.2 L1043.9,1339.6 L1044.5,1340.8 L1045.1,1341.9 L1045.7,1339.6 L1046.3,1339.9 L1046.9,1341.4 L1047.5,1344.4 L1048.1,1345.8 L1048.8,1347.1 L1049.4,1347.4 L1050.0,1349.6 L1050.7,1350.6 L1051.3,1352.5 L1051.9,1354.5 L1052.6,1355.3 L1053.2,1355.6 L1053.8,1355.4 L1054.5,1354.3 L1055.1,1351.6 L1055.7,1348.9 L1056.3,1347.2 L1057.1,1346.6 L1057.8,1345.4 L1058.5,1342.2 L1059.1,1343.5 L1059.7,1344.4 L1060.4,1345.5 L1061.0,1348.8 L1061.6,1350.3 L1062.3,1348.3 L1062.9,1345.9 L1063.5,1344.4 L1064.1,1343.5 L1064.8,1340.8 L1065.4,1339.4 L1066.0,1338.1 L1066.7,1337.3 L1067.3,1339.4 L1067.9,1340.3 L1068.5,1337.2 L1069.1,1335.7 L1069.7,1332.2 L1070.4,1331.3 L1071.0,1330.4 L1071.6,1329.3 L1072.2,1327.2 L1072.8,1329.8 L1073.4,1334.8 L1074.1,1338.1 L1074.7,1341.6 L1075.3,1344.6 L1075.9,1339.6 L1076.5,1338.0 L1077.1,1337.4 L1077.7,1334.5 L1078.3,1333.6 L1078.9,1330.0 L1079.5,1326.5 L1080.2,1325.0 L1080.8,1323.5 L1081.4,1320.0 L1082.1,1318.0 L1082.7,1315.9 L1083.3,1319.5 L1084.0,1323.6 L1084.6,1325.9 L1085.2,1327.2 L1085.9,1326.8 L1086.5,1327.1 L1087.1,1328.9 L1087.8,1329.7 L1088.4,1328.8 L1089.0,1326.7 L1089.7,1321.1 L1090.3,1315.0 L1090.9,1309.7 L1091.6,1303.2 L1092.2,1296.9 L1092.8,1290.8 L1093.4,1300.9 L1094.1,1309.5 L1094.7,1317.6 L1095.3,1324.8 L1096.0,1324.8 L1096.6,1325.4 L1097.2,1329.7 L1097.9,1330.4 L1098.5,1331.7 L1099.1,1324.6 L1099.7,1319.3 L1100.3,1315.7 L1100.9,1308.9 L1101.5,1302.7 L1102.1,1297.3 L1102.7,1290.6 L1103.4,1298.4 L1104.0,1305.2 L1104.6,1311.4 L1105.3,1314.8 L1105.9,1319.0 L1106.5,1322.0 L1107.2,1326.3 L1107.8,1329.1 L1108.4,1332.0 L1109.0,1334.5 L1109.7,1330.9 L1110.4,1328.2 L1111.0,1324.1 L1111.7,1317.6 L1112.3,1312.4 L1113.0,1309.0 L1113.7,1307.1 L1114.3,1303.2 L1114.9,1305.2 L1115.5,1308.3 L1116.1,1310.9 L1116.7,1314.9 L1117.3,1320.5 L1117.9,1322.9 L1118.5,1326.7 L1119.1,1323.6 L1119.7,1320.2 L1120.3,1317.8 L1120.9,1312.8 L1121.5,1309.3 L1122.1,1302.9 L1122.7,1301.3 L1123.4,1305.2 L1124.0,1308.9 L1124.6,1312.4 L1125.3,1316.0 L1125.9,1318.1 L1126.6,1321.7 L1127.3,1325.7 L1128.0,1327.0 L1128.7,1330.3 L1129.4,1327.9 L1130.1,1326.7 L1130.8,1323.5 L1131.5,1317.3 L1132.2,1314.7 L1132.9,1319.8 L1133.5,1326.1 L1134.1,1331.7 L1134.8,1337.1 L1135.4,1341.5 L1136.0,1338.9 L1136.6,1336.9 L1137.2,1336.5 L1137.8,1333.1 L1138.4,1330.1 L1139.0,1329.1 L1139.6,1326.9 L1140.2,1331.8 L1140.8,1334.5 L1141.4,1337.0 L1142.0,1341.0 L1142.6,1343.9 L1143.2,1348.6 L1143.8,1353.6 L1144.5,1353.1 L1145.1,1351.6 L1145.7,1350.3 L1146.4,1349.8 L1147.0,1349.5 L1147.6,1346.7 L1148.3,1344.0 L1148.9,1340.8 L1149.5,1340.7 L1150.2,1338.6 L1150.8,1340.9 L1151.4,1342.5 L1152.0,1344.3 L1152.6,1346.4 L1153.2,1351.5 L1153.8,1354.5 L1154.4,1356.4 L1155.0,1353.3 L1155.6,1352.2 L1156.2,1349.5 L1156.8,1346.9 L1157.4,1345.0 L1158.0,1340.3 L1158.6,1339.2 L1159.2,1341.0 L1159.8,1342.7 L1160.4,1343.0 L1161.0,1343.9 L1161.6,1344.2 L1162.2,1343.9 L1162.8,1344.6 L1163.4,1346.5 L1164.1,1347.4 L1164.7,1348.6 L1165.3,1348.5 L1166.0,1350.3 L1166.6,1349.3 L1167.2,1346.6 L1167.8,1342.3 L1168.4,1339.7 L1169.0,1336.5 L1169.6,1337.1 L1170.2,1335.6 L1170.8,1336.8 L1171.4,1338.7 L1172.0,1339.0 L1172.6,1343.0 L1173.2,1344.9 L1173.8,1349.0 L1174.4,1350.9 L1175.0,1349.0 L1175.7,1347.3 L1176.3,1345.1 L1176.9,1343.8 L1177.6,1341.7 L1178.2,1336.0 L1178.8,1330.7 L1179.5,1325.8 L1180.1,1322.6 L1180.7,1317.3 L1181.3,1317.9 L1181.9,1319.2 L1182.5,1322.1 L1183.1,1324.6 L1183.7,1326.7 L1184.3,1328.7 L1184.9,1331.6 L1185.6,1329.4 L1186.2,1328.5 L1186.8,1326.8 L1187.5,1321.7 L1188.1,1320.0 L1188.7,1316.3 L1189.4,1315.8 L1190.0,1316.0 L1190.6,1313.8 L1191.3,1310.4 L1191.9,1312.8 L1192.5,1316.8 L1193.1,1320.0 L1193.7,1322.8 L1194.3,1325.6 L1194.9,1328.5 L1195.5,1332.4 L1196.1,1334.5 L1196.7,1333.8 L1197.4,1330.6 L1198.0,1328.4 L1198.6,1327.2 L1199.3,1323.9 L1199.9,1319.1 L1200.5,1313.0 L1201.2,1308.1 L1201.8,1302.1 L1202.4,1299.8 L1203.1,1300.2 L1203.7,1298.5 L1204.3,1297.7 L1205.0,1296.3 L1205.7,1303.1 L1206.4,1309.8 L1207.1,1315.4 L1207.7,1314.3 L1208.3,1314.0 L1208.9,1315.5 L1209.5,1316.9 L1210.1,1319.1 L1210.7,1318.4 L1211.3,1319.0 L1211.9,1323.0 L1212.5,1326.7 L1213.2,1330.5 L1213.8,1333.9 L1214.4,1336.7 L1215.1,1338.6 L1215.7,1343.0 L1216.3,1346.0 L1217.0,1347.7 L1217.6,1350.1 L1218.2,1346.4 L1218.9,1344.6 L1219.5,1343.1 L1220.1,1341.4 L1220.8,1340.1 L1221.4,1335.2 L1222.1,1331.8 L1222.7,1328.9 L1223.4,1324.8 L1224.1,1319.3 L1224.7,1314.0 L1225.4,1312.7 L1226.0,1308.6 L1226.7,1313.8 L1227.3,1317.0 L1227.9,1319.3 L1228.6,1324.6 L1229.2,1329.1 L1229.8,1329.0 L1230.5,1326.8 L1231.1,1326.9 L1231.7,1325.4 L1232.4,1325.9 L1233.0,1324.7 L1233.6,1321.4 L1234.2,1318.6 L1234.8,1317.1 L1235.4,1318.0 L1236.0,1317.3 L1236.6,1315.7 L1237.2,1318.6 L1237.8,1321.2 L1238.4,1323.8 L1239.0,1327.7 L1239.6,1331.8 L1240.2,1336.1 L1240.8,1339.3 L1241.4,1338.5 L1242.0,1336.9 L1242.6,1336.1 L1243.2,1334.1 L1243.8,1329.9 L1244.4,1327.0 L1245.0,1325.8 L1245.7,1329.3 L1246.3,1333.1 L1247.0,1334.2 L1247.6,1334.3 L1248.3,1337.8 L1249.0,1339.6 L1249.6,1342.4 L1250.3,1343.5 L1250.9,1342.2 L1251.6,1341.9 L1252.3,1341.1 L1252.9,1340.1 L1253.6,1338.9 L1254.2,1335.7 L1254.9,1334.5 L1255.5,1336.2 L1256.2,1338.8 L1256.8,1340.4 L1257.4,1340.6 L1258.0,1341.5 L1258.6,1344.9 L1259.2,1346.0 L1259.8,1348.3 L1260.4,1348.9 L1261.0,1349.2 L1261.7,1351.0 L1262.3,1354.7 L1262.9,1356.3 L1263.5,1350.9 L1264.1,1346.8 L1264.7,1341.6 L1265.3,1340.1 L1265.9,1336.9 L1266.5,1333.6 L1267.1,1328.8 L1267.7,1331.0 L1268.3,1334.7 L1268.9,1337.9 L1269.6,1340.9 L1270.2,1342.0 L1270.8,1344.1 L1271.4,1347.9 L1272.0,1350.1 L1272.6,1351.2 L1273.3,1350.8 L1273.9,1351.0 L1274.5,1350.7 L1275.2,1348.2 L1275.8,1346.8 L1276.5,1344.6 L1277.2,1342.0 L1277.8,1339.3 L1278.5,1337.0 L1279.1,1335.1 L1279.8,1330.5 L1280.4,1332.4 L1281.1,1336.4 L1281.8,1340.7 L1282.4,1344.2 L1283.1,1347.4 L1283.7,1347.1 L1284.4,1350.4 L1285.1,1354.6 L1285.7,1353.0 L1286.3,1349.3 L1286.9,1347.7 L1287.5,1344.7 L1288.1,1343.8 L1288.7,1340.8 L1289.4,1338.6 L1290.0,1334.9 L1290.6,1332.4 L1291.2,1329.4 L1291.8,1328.7 L1292.4,1326.7 L1293.1,1329.9 L1293.8,1330.1 L1294.4,1334.0 L1295.1,1336.0 L1295.7,1339.3 L1296.4,1343.3 L1297.0,1344.8 L1297.7,1348.6 L1298.3,1346.3 L1298.9,1343.9 L1299.5,1340.8 L1300.1,1338.2 L1300.7,1333.8 L1301.3,1333.8 L1301.9,1332.7 L1302.5,1330.8 L1303.1,1327.2 L1303.7,1325.0 L1304.3,1323.0 L1304.9,1320.7 L1305.5,1318.2 L1306.1,1316.5 L1306.8,1318.5 L1307.5,1319.9 L1308.1,1322.1 L1308.8,1324.6 L1309.4,1326.4 L1310.1,1325.5 L1310.7,1326.8 L1311.4,1330.5 L1312.1,1329.5 L1312.7,1327.9 L1313.4,1324.1 L1314.0,1322.5 L1314.7,1321.0 L1315.4,1318.5 L1316.0,1316.3 L1316.7,1313.4 L1317.3,1316.1 L1318.0,1318.9 L1318.7,1321.7 L1319.3,1322.6 L1320.0,1323.3 L1320.6,1323.1 L1321.3,1325.9 L1321.9,1330.4 L1322.5,1333.9 L1323.2,1334.9 L1323.8,1339.6 L1324.4,1342.6 L1325.0,1346.8 L1325.6,1349.6 L1326.2,1351.4 L1326.8,1347.1 L1327.4,1345.9 L1328.1,1344.1 L1328.7,1341.2 L1329.3,1336.7 L1330.0,1332.2 L1330.6,1329.7 L1331.2,1326.3 L1331.9,1323.6 L1332.5,1322.2 L1333.1,1324.0 L1333.8,1324.6 L1334.5,1327.6 L1335.1,1331.3 L1335.8,1332.2 L1336.4,1333.6 L1337.1,1336.4 L1337.8,1339.4 L1338.4,1339.2 L1339.0,1336.1 L1339.7,1332.7 L1340.3,1330.2 L1340.9,1328.1 L1341.6,1327.8 L1342.2,1324.5 L1342.8,1323.5 L1343.4,1319.9 L1344.1,1318.5 L1344.7,1321.2 L1345.3,1323.8 L1345.9,1326.4 L1346.5,1326.6 L1347.2,1330.3 L1347.8,1334.5 L1348.4,1337.6 L1349.0,1338.8 L1349.6,1340.5 L1350.2,1341.6 L1350.8,1344.4 L1351.5,1347.7 L1352.1,1344.9 L1352.7,1342.8 L1353.4,1339.6 L1354.0,1337.2 L1354.6,1335.4 L1355.2,1332.3 L1355.9,1328.2 L1356.5,1324.0 L1357.1,1319.8 L1357.7,1318.4 L1358.4,1315.3 L1359.0,1318.3 L1359.7,1318.5 L1360.3,1321.5 L1361.0,1326.6 L1361.6,1331.4 L1362.2,1334.1 L1362.8,1339.4 L1363.6,1335.6 L1364.3,1334.6 L1365.0,1330.9 L1365.8,1326.3 L1366.4,1320.0 L1367.0,1316.6 L1367.7,1312.7 L1368.3,1310.3 L1368.9,1309.1 L1369.5,1307.0 L1370.1,1305.0 L1370.8,1305.0 L1371.4,1311.3 L1372.1,1316.3 L1372.7,1321.6 L1373.4,1324.2 L1374.0,1329.8 L1374.6,1335.1 L1375.2,1338.4 L1375.9,1335.8 L1376.5,1334.1 L1377.1,1333.7 L1377.8,1335.2 L1378.4,1334.9 L1379.0,1333.3 L1379.7,1332.2 L1380.4,1328.5 L1381.2,1323.5 L1381.9,1318.3 L1382.7,1312.0 L1383.3,1308.3 L1384.0,1304.7 L1384.6,1302.1 L1385.4,1309.9 L1386.1,1316.6 L1386.9,1317.9 L1387.6,1319.0 L1388.4,1321.4 L1389.1,1323.2 L1389.8,1325.5 L1390.4,1327.1 L1391.1,1328.6 L1391.7,1323.8 L1392.3,1319.0 L1393.0,1314.3 L1393.6,1311.3 L1394.2,1308.8 L1394.8,1303.1 L1395.4,1296.9 L1396.1,1291.2 L1396.8,1301.3 L1397.5,1315.0 L1398.2,1315.5 L1398.9,1315.9 L1399.5,1315.6 L1400.1,1321.6 L1400.8,1326.9 L1401.4,1332.5 L1402.0,1336.7 L1402.7,1331.6 L1403.5,1329.5 L1404.2,1326.3 L1405.0,1323.4 L1405.6,1319.2 L1406.2,1314.4 L1406.8,1311.9 L1407.5,1310.6 L1408.1,1312.3 L1408.7,1311.8 L1409.3,1312.5 L1409.9,1314.3 L1410.7,1320.0 L1411.4,1324.1 L1412.2,1327.9 L1412.9,1331.0 L1413.6,1333.9 L1414.3,1337.9 L1415.0,1340.7 L1415.7,1341.2 L1416.4,1343.4 L1417.1,1345.2 L1417.9,1348.7 L1418.6,1350.5 L1419.4,1352.3 L1420.0,1349.4 L1420.7,1346.7 L1421.3,1343.4 L1422.0,1335.6 L1422.7,1327.5 L1423.3,1322.5 L1424.0,1322.6 L1424.6,1321.5 L1425.2,1320.3 L1425.8,1319.0 L1426.6,1320.4 L1427.3,1322.3 L1428.0,1324.9 L1428.6,1327.9 L1429.3,1330.5 L1429.9,1327.8 L1430.6,1326.1 L1431.3,1322.5 L1432.0,1317.7 L1432.8,1313.7 L1433.5,1310.2 L1434.2,1308.4 L1434.9,1305.7 L1435.5,1302.5 L1436.1,1298.6 L1436.7,1296.3 L1437.5,1306.4 L1438.2,1312.4 L1438.9,1318.6 L1439.5,1324.2 L1440.2,1332.1 L1440.9,1334.8 L1441.7,1335.1 L1442.4,1335.5 L1443.2,1339.2 L1443.8,1337.2 L1444.5,1336.5 L1445.2,1336.0 L1445.9,1331.4 L1446.6,1328.2 L1447.4,1326.1 L1448.1,1322.0 L1448.8,1316.8 L1449.5,1315.6 L1450.1,1313.9 L1450.8,1317.4 L1451.4,1317.2 L1452.1,1317.7 L1452.8,1322.6 L1453.4,1328.2 L1454.1,1335.5 L1454.7,1337.4 L1455.3,1337.4 L1455.9,1338.8 L1456.6,1342.9 L1457.3,1341.8 L1458.1,1338.8 L1458.8,1335.1 L1459.5,1335.9 L1460.2,1334.3 L1460.8,1330.9 L1461.4,1326.4 L1462.0,1320.9 L1462.6,1318.3 L1463.3,1316.9 L1463.9,1314.2 L1464.5,1310.7 L1465.1,1312.3 L1465.7,1316.1 L1466.4,1318.5 L1467.0,1321.6 L1467.6,1321.9 L1468.2,1322.9 L1468.8,1325.6 L1469.5,1328.2 L1470.1,1331.2 L1470.8,1332.8 L1471.4,1334.5 L1472.1,1334.8 L1472.8,1335.9 L1473.4,1337.2 L1474.1,1335.2 L1474.7,1332.2 L1475.3,1329.8 L1475.9,1327.9 L1476.5,1325.6 L1477.2,1323.3 L1477.8,1318.2 L1478.4,1311.6 L1479.1,1308.4 L1479.9,1306.2 L1480.6,1302.4 L1481.4,1299.0 L1482.1,1304.6 L1482.9,1309.5" fill="none" stroke="#000" stroke-width="2.0" stroke-linejoin="round"/>
<path d="M48.9,1154.2 L49.5,1157.4 L50.2,1161.6 L50.9,1166.1 L51.6,1171.5 L52.2,1172.4 L52.9,1174.8 L53.5,1176.6 L54.1,1179.5 L54.8,1179.4 L55.4,1176.4 L56.0,1173.1 L56.7,1170.9 L57.3,1170.0 L57.9,1168.1 L58.5,1163.6 L59.2,1167.2 L59.8,1171.6 L60.4,1175.0 L61.1,1180.3 L61.7,1182.1 L62.3,1184.6 L63.0,1186.8 L63.6,1189.9 L64.2,1194.0 L64.9,1195.4 L65.5,1195.8 L66.1,1197.5 L66.8,1201.4 L67.4,1206.1 L68.0,1206.7 L68.7,1208.4 L69.3,1208.3 L69.9,1209.0 L70.6,1211.6 L71.3,1217.8 L72.0,1225.2 L72.7,1232.5 L73.3,1232.5 L73.9,1233.2 L74.6,1232.2 L75.2,1230.4 L75.8,1229.5 L76.4,1227.2 L77.0,1228.1 L77.6,1228.2 L78.2,1226.1 L78.8,1224.9 L79.4,1222.7 L80.1,1223.7 L80.8,1224.8 L81.5,1224.9 L82.2,1227.2 L82.8,1228.9 L83.4,1231.8 L84.1,1234.6 L84.7,1234.6 L85.3,1234.9 L85.9,1234.2 L86.5,1233.2 L87.1,1231.4 L87.7,1231.7 L88.3,1228.2 L88.9,1226.9 L89.5,1226.8 L90.1,1227.9 L90.7,1228.3 L91.3,1228.7 L91.9,1229.2 L92.5,1230.3 L93.1,1234.6 L93.8,1235.0 L94.4,1235.1 L95.0,1234.1 L95.6,1232.3 L96.3,1233.6 L96.9,1232.9 L97.5,1235.8 L98.2,1236.2 L98.8,1236.5 L99.4,1238.5 L100.1,1239.3 L100.8,1244.4 L101.4,1247.7 L102.1,1251.3 L102.8,1257.1 L103.5,1256.7 L104.2,1253.6 L105.0,1249.0 L105.7,1246.9 L106.4,1243.9 L107.0,1246.7 L107.7,1248.9 L108.3,1248.9 L108.9,1250.4 L109.6,1253.2 L110.2,1253.8 L110.8,1251.7 L111.5,1249.3 L112.1,1248.2 L112.7,1249.3 L113.3,1249.1 L113.9,1249.7 L114.5,1249.6 L115.1,1247.7 L115.7,1246.4 L116.3,1246.9 L116.9,1247.1 L117.5,1246.2 L118.1,1246.2 L118.7,1246.1 L119.3,1248.1 L120.0,1247.9 L120.6,1248.3 L121.2,1247.5 L121.8,1246.3 L122.4,1245.5 L123.1,1247.4 L123.7,1247.8 L124.3,1247.6 L124.9,1245.2 L125.6,1243.7 L126.2,1242.7 L126.8,1240.0 L127.5,1237.3 L128.1,1236.1 L128.7,1234.1 L129.4,1233.8 L130.0,1234.7 L130.6,1231.3 L131.2,1234.2 L131.8,1235.7 L132.4,1240.4 L133.0,1244.7 L133.7,1247.1 L134.3,1250.2 L134.9,1254.1 L135.5,1250.2 L136.1,1247.2 L136.7,1245.2 L137.3,1241.7 L137.9,1237.3 L138.5,1234.1 L139.1,1231.4 L139.7,1234.7 L140.3,1236.0 L140.9,1237.3 L141.5,1237.4 L142.1,1237.6 L142.7,1241.0 L143.3,1242.5 L144.0,1247.2 L144.7,1252.2 L145.4,1256.3 L146.0,1255.7 L146.6,1253.4 L147.2,1250.8 L147.8,1246.7 L148.4,1246.1 L149.0,1243.8 L149.6,1244.2 L150.2,1244.8 L150.8,1243.4 L151.4,1241.8 L152.0,1240.2 L152.6,1241.1 L153.2,1241.9 L153.8,1240.3 L154.5,1241.2 L155.1,1240.9 L155.7,1240.4 L156.4,1241.2 L157.0,1239.7 L157.6,1240.4 L158.3,1243.2 L158.9,1245.2 L159.5,1250.5 L160.2,1253.7 L160.8,1250.8 L161.4,1250.5 L162.0,1248.1 L162.7,1250.0 L163.3,1248.9 L163.9,1251.3 L164.6,1251.1 L165.2,1253.7 L165.8,1254.1 L166.5,1255.6 L167.1,1254.7 L167.7,1251.7 L168.3,1249.9 L168.9,1248.6 L169.5,1248.9 L170.1,1248.4 L170.7,1245.6 L171.3,1249.1 L172.0,1251.2 L172.6,1254.9 L173.2,1257.5 L173.9,1259.1 L174.5,1259.4 L175.1,1262.5 L175.8,1263.6 L176.4,1266.1 L177.0,1266.1 L177.7,1260.7 L178.3,1255.8 L179.0,1253.2 L179.7,1251.4 L180.3,1246.4 L181.0,1242.5 L181.7,1237.3 L182.3,1240.8 L182.9,1243.7 L183.5,1246.9 L184.2,1248.7 L184.8,1251.4 L185.4,1255.4 L186.1,1255.5 L186.7,1254.2 L187.3,1250.2 L188.0,1247.3 L188.6,1246.7 L189.2,1247.1 L189.8,1247.7 L190.4,1247.0 L191.0,1245.0 L191.6,1243.4 L192.2,1243.3 L192.8,1242.9 L193.5,1246.2 L194.1,1249.1 L194.7,1254.3 L195.4,1258.5 L196.0,1263.6 L196.6,1263.1 L197.2,1261.2 L197.8,1260.1 L198.4,1259.1 L199.0,1260.4 L199.6,1261.6 L200.2,1259.5 L200.8,1259.0 L201.5,1257.6 L202.1,1256.6 L202.7,1255.9 L203.4,1255.7 L204.0,1257.9 L204.6,1263.7 L205.2,1268.2 L205.8,1274.6 L206.4,1278.5 L207.0,1282.9 L207.6,1286.6 L208.2,1284.0 L208.9,1284.3 L209.6,1284.4 L210.2,1281.5 L210.9,1280.2 L211.5,1279.7 L212.2,1279.3 L212.8,1276.4 L213.5,1275.8 L214.1,1273.4 L214.7,1273.5 L215.4,1276.3 L216.0,1275.0 L216.6,1276.9 L217.2,1275.8 L217.8,1275.5 L218.4,1276.5 L219.0,1277.7 L219.6,1277.8 L220.2,1278.3 L220.9,1277.2 L221.5,1278.7 L222.1,1278.9 L222.8,1278.3 L223.4,1275.5 L224.0,1276.2 L224.6,1276.8 L225.2,1280.3 L225.8,1282.5 L226.4,1284.0 L227.0,1283.4 L227.6,1283.5 L228.2,1283.2 L228.9,1281.8 L229.5,1282.3 L230.1,1280.0 L230.8,1279.8 L231.4,1279.1 L232.1,1280.7 L232.7,1277.6 L233.4,1276.8 L234.1,1274.7 L234.7,1273.2 L235.4,1274.5 L236.0,1272.6 L236.6,1273.4 L237.2,1273.5 L237.8,1274.5 L238.4,1276.0 L239.0,1279.2 L239.7,1278.5 L240.3,1280.1 L240.9,1280.3 L241.5,1281.9 L242.1,1284.2 L242.7,1284.3 L243.3,1285.3 L243.9,1283.6 L244.5,1284.8 L245.1,1285.4 L245.7,1286.2 L246.3,1285.5 L246.9,1283.9 L247.5,1282.7 L248.1,1284.0 L248.7,1282.6 L249.3,1282.8 L249.9,1282.7 L250.5,1281.8 L251.1,1283.3 L251.7,1284.4 L252.3,1284.4 L252.9,1282.8 L253.6,1280.3 L254.2,1277.6 L254.9,1277.5 L255.5,1276.1 L256.2,1274.6 L256.9,1272.4 L257.5,1269.7 L258.2,1269.1 L258.8,1270.7 L259.4,1269.7 L260.1,1271.5 L260.7,1272.7 L261.3,1275.3 L262.0,1277.4 L262.6,1279.1 L263.2,1279.4 L263.9,1280.7 L264.5,1283.8 L265.1,1285.7 L265.8,1283.6 L266.6,1281.8 L267.3,1279.3 L268.0,1279.2 L268.7,1277.9 L269.3,1275.7 L269.9,1271.2 L270.5,1269.8 L271.1,1268.7 L271.7,1270.1 L272.3,1268.7 L272.9,1265.6 L273.5,1265.9 L274.1,1265.4 L274.7,1267.3 L275.3,1268.1 L275.9,1268.5 L276.5,1270.1 L277.1,1270.6 L277.8,1269.2 L278.4,1268.7 L279.0,1266.0 L279.7,1263.2 L280.3,1259.3 L280.9,1258.5 L281.6,1258.3 L282.2,1258.3 L282.8,1256.1 L283.5,1252.2 L284.1,1255.9 L284.7,1259.1 L285.4,1264.0 L286.0,1267.1 L286.6,1268.7 L287.3,1268.2 L287.9,1265.9 L288.6,1262.4 L289.3,1258.9 L289.9,1254.3 L290.6,1252.6 L291.2,1251.6 L291.9,1248.5 L292.6,1249.5 L293.2,1250.6 L293.9,1251.8 L294.5,1253.2 L295.2,1254.1 L295.8,1254.0 L296.5,1255.7 L297.2,1257.1 L297.8,1258.3 L298.5,1257.6 L299.1,1256.0 L299.8,1254.1 L300.5,1252.3 L301.1,1253.3 L301.8,1252.4 L302.4,1251.0 L303.0,1251.7 L303.6,1249.3 L304.2,1251.3 L304.8,1250.3 L305.4,1248.8 L306.1,1248.1 L306.7,1248.4 L307.3,1251.4 L307.9,1255.9 L308.5,1258.0 L309.1,1261.1 L309.7,1261.5 L310.3,1264.7 L311.0,1266.9 L311.6,1271.7 L312.2,1274.2 L312.8,1276.3 L313.4,1277.9 L314.0,1282.0 L314.6,1280.3 L315.2,1275.8 L315.8,1272.8 L316.4,1268.6 L317.0,1268.5 L317.6,1267.1 L318.2,1264.7 L318.8,1266.1 L319.5,1266.1 L320.1,1267.6 L320.7,1271.3 L321.3,1274.7 L321.9,1277.8 L322.5,1279.5 L323.1,1277.0 L323.7,1275.7 L324.4,1275.7 L325.0,1273.9 L325.6,1271.9 L326.3,1275.1 L327.0,1278.4 L327.7,1284.7 L328.4,1281.8 L329.0,1276.7 L329.6,1273.8 L330.3,1270.3 L330.9,1268.0 L331.5,1270.1 L332.2,1274.4 L332.8,1275.9 L333.4,1279.0 L334.1,1281.9 L334.7,1284.7 L335.3,1286.4 L336.0,1288.2 L336.6,1290.8 L337.2,1294.4 L337.8,1294.8 L338.4,1295.7 L339.1,1293.9 L339.7,1292.5 L340.3,1290.3 L340.9,1291.1 L341.5,1290.3 L342.1,1288.1 L342.8,1288.5 L343.4,1287.1 L344.0,1287.0 L344.6,1286.7 L345.2,1289.0 L345.9,1287.9 L346.5,1289.5 L347.1,1292.6 L347.8,1295.5 L348.4,1298.2 L349.0,1298.1 L349.7,1299.7 L350.3,1301.9 L350.9,1304.3 L351.6,1303.8 L352.2,1302.0 L352.8,1302.0 L353.4,1303.1 L354.1,1302.9 L354.7,1304.2 L355.3,1304.3 L355.9,1302.4 L356.5,1302.8 L357.1,1305.9 L357.7,1306.5 L358.3,1307.9 L358.9,1308.1 L359.6,1309.7 L360.2,1309.9 L360.8,1312.0 L361.5,1311.2 L362.1,1311.5 L362.7,1312.9 L363.4,1314.0 L364.0,1317.1 L364.6,1318.1 L365.3,1315.5 L365.9,1313.6 L366.6,1313.5 L367.3,1314.3 L367.9,1314.0 L368.6,1313.4 L369.2,1311.7 L369.9,1311.8 L370.5,1312.0 L371.1,1311.7 L371.7,1310.8 L372.3,1310.0 L372.9,1309.4 L373.6,1310.3 L374.2,1310.2 L374.8,1310.1 L375.4,1308.8 L376.0,1307.5 L376.6,1305.7 L377.2,1305.7 L377.8,1306.0 L378.4,1306.3 L379.0,1306.9 L379.6,1305.8 L380.2,1308.1 L380.8,1308.3 L381.4,1308.4 L382.0,1307.5 L382.6,1305.8 L383.2,1306.6 L383.9,1305.3 L384.5,1304.4 L385.1,1302.6 L385.7,1300.0 L386.3,1297.2 L386.9,1296.6 L387.5,1295.6 L388.1,1294.0 L388.7,1292.0 L389.3,1290.3 L389.9,1289.8 L390.5,1289.3 L391.1,1287.7 L391.7,1287.9 L392.3,1287.5 L392.9,1288.4 L393.5,1290.3 L394.1,1293.0 L394.7,1293.1 L395.3,1292.9 L395.9,1291.0 L396.6,1291.4 L397.2,1290.1 L397.8,1289.5 L398.5,1288.4 L399.1,1286.2 L399.7,1284.6 L400.4,1283.0 L401.0,1280.3 L401.6,1275.6 L402.3,1274.5 L402.9,1273.1 L403.5,1272.6 L404.1,1272.4 L404.8,1271.2 L405.4,1269.1 L406.0,1269.3 L406.6,1269.9 L407.2,1268.9 L407.8,1268.6 L408.4,1267.2 L409.0,1268.0 L409.6,1266.1 L410.2,1265.4 L410.8,1264.5 L411.4,1260.8 L412.0,1258.7 L412.6,1255.5 L413.2,1255.0 L413.9,1254.1 L414.6,1253.0 L415.4,1250.2 L416.1,1247.6 L416.8,1248.0 L417.5,1250.7 L418.2,1254.8 L418.9,1258.9 L419.5,1263.7 L420.1,1265.6 L420.7,1267.1 L421.3,1268.0 L421.9,1265.5 L422.5,1267.7 L423.1,1268.9 L423.8,1270.6 L424.4,1269.0 L425.0,1266.4 L425.6,1264.3 L426.3,1262.9 L426.9,1260.3 L427.5,1258.2 L428.2,1255.9 L428.8,1255.3 L429.4,1254.2 L430.1,1253.6 L430.7,1257.1 L431.3,1257.2 L432.0,1258.4 L432.6,1260.9 L433.2,1263.8 L433.9,1265.2 L434.5,1266.5 L435.1,1266.4 L435.8,1268.1 L436.4,1269.3 L437.0,1264.0 L437.7,1259.6 L438.3,1253.2 L438.9,1249.9 L439.6,1246.2 L440.2,1248.3 L440.8,1249.1 L441.5,1250.4 L442.1,1249.6 L442.7,1250.3 L443.4,1253.9 L444.1,1254.2 L444.8,1255.5 L445.5,1257.2 L446.2,1261.0 L446.9,1262.9 L447.5,1261.8 L448.1,1261.4 L448.7,1260.1 L449.3,1260.6 L450.0,1263.6 L450.6,1262.4 L451.2,1261.5 L451.8,1261.1 L452.4,1262.8 L453.1,1262.7 L453.7,1263.3 L454.3,1263.4 L454.9,1264.5 L455.5,1267.1 L456.1,1269.4 L456.7,1270.8 L457.3,1271.4 L457.9,1272.7 L458.5,1272.9 L459.2,1274.9 L459.8,1277.3 L460.4,1281.0 L461.1,1281.0 L461.7,1282.3 L462.3,1280.1 L462.9,1279.0 L463.5,1276.5 L464.1,1276.3 L464.7,1274.1 L465.3,1271.3 L465.9,1270.9 L466.5,1274.1 L467.2,1274.7 L467.8,1273.2 L468.4,1274.9 L469.1,1274.6 L469.7,1278.8 L470.3,1281.4 L470.9,1282.7 L471.5,1284.6 L472.1,1285.9 L472.7,1288.9 L473.3,1291.1 L473.9,1289.2 L474.6,1289.2 L475.2,1290.0 L475.8,1291.0 L476.5,1292.9 L477.1,1291.9 L477.7,1290.9 L478.3,1290.9 L478.9,1290.6 L479.5,1292.0 L480.1,1293.5 L480.7,1294.1 L481.3,1294.3 L481.9,1294.6 L482.5,1295.5 L483.1,1296.2 L483.7,1297.2 L484.3,1296.7 L484.9,1297.0 L485.5,1299.1 L486.1,1301.1 L486.8,1301.7 L487.4,1302.7 L488.0,1301.5 L488.7,1300.3 L489.4,1300.5 L490.0,1299.6 L490.7,1299.3 L491.3,1297.4 L492.0,1296.8 L492.7,1297.0 L493.3,1296.6 L493.9,1296.8 L494.5,1296.7 L495.1,1299.2 L495.7,1301.4 L496.3,1304.1 L496.9,1305.6 L497.5,1305.7 L498.1,1303.8 L498.7,1304.8 L499.3,1304.2 L499.9,1304.2 L500.5,1303.2 L501.1,1302.0 L501.7,1301.9 L502.3,1301.5 L502.9,1302.0 L503.6,1302.2 L504.2,1300.7 L504.8,1299.2 L505.4,1300.4 L506.0,1302.1 L506.6,1305.0 L507.2,1304.9 L507.9,1303.0 L508.5,1304.2 L509.1,1305.5 L509.8,1306.1 L510.4,1306.6 L511.0,1308.2 L511.7,1309.2 L512.3,1309.6 M519.7,1268.0 L520.3,1265.9 L520.9,1261.6 L521.5,1260.6 L522.1,1258.2 L522.7,1257.8 L523.3,1254.8 L523.9,1251.7 L524.5,1242.9 L525.1,1237.0 L525.7,1229.9 L526.3,1224.7 L526.9,1216.7 L527.5,1208.8 L528.1,1203.4 L528.7,1197.9 L529.3,1195.0 L529.9,1190.5 L530.5,1185.6 L531.1,1182.8 L531.7,1179.6 L532.3,1176.3 L532.9,1179.9 L533.6,1182.2 L534.2,1182.2 L534.8,1186.1 L535.5,1190.4 L536.1,1193.6 L536.7,1196.2 L537.3,1197.8 L537.9,1200.1 L538.5,1203.2 L539.1,1206.7 L539.7,1208.8 L540.4,1225.5 L541.1,1240.8 L541.8,1259.0 L542.5,1268.0 L543.2,1273.4 L543.9,1277.5 L544.5,1284.3 L545.3,1281.7 L546.0,1281.7 L546.7,1280.0 L547.4,1278.0 L548.1,1276.1 L548.8,1272.6 L549.4,1266.4 L550.0,1259.3 L550.6,1253.4 L551.3,1247.7 L551.9,1248.0 L552.5,1247.7 L553.1,1245.3 L553.7,1243.8 L554.3,1239.8 L554.9,1240.1 L555.5,1238.3 L556.1,1235.2 L556.7,1230.5 L557.3,1227.3 L557.9,1223.7 L558.5,1221.5 L559.1,1218.3 L559.7,1212.7 L560.3,1205.7 L561.0,1201.5 L561.6,1195.8 L562.2,1192.7 L562.9,1187.7 L563.5,1196.5 L564.1,1203.6 L564.8,1214.6 L565.4,1225.3 L566.0,1233.5 L566.7,1240.6 L567.3,1249.7 L567.9,1257.6 L568.6,1266.2 L569.2,1274.0 L569.8,1278.7 L570.5,1282.9 L571.1,1289.1 L571.7,1296.5 L572.4,1305.3 L573.0,1301.9 L573.6,1298.2 L574.3,1292.8 L574.9,1289.5 L575.5,1287.0 L576.2,1282.7 L576.8,1275.6 L577.4,1271.9 L578.1,1267.5 L578.7,1263.7 L579.3,1257.6 L579.9,1253.1 L580.5,1246.6 L581.1,1242.8 L581.7,1238.1 L582.3,1235.1 L582.9,1231.1 L583.6,1225.8 L584.2,1222.1 L584.9,1217.7 L585.6,1214.3 L586.2,1210.4 L586.9,1205.2 L587.5,1203.0 L588.2,1211.2 L588.9,1219.7 L589.6,1226.8 L590.3,1233.5 L590.9,1241.0 L591.5,1251.7 L592.2,1259.6 L592.8,1268.8 L593.4,1277.2 L594.0,1278.9 L594.6,1282.3 L595.2,1286.2 L595.8,1289.3 L596.5,1291.3 L597.1,1293.9 L597.7,1297.5 L598.3,1299.8 L598.9,1304.2 L599.5,1304.0 L600.1,1304.4 L600.7,1306.9 L601.3,1308.5 L601.9,1311.6 L602.5,1310.5 L603.1,1309.9 L603.8,1306.6 L604.4,1306.6 L605.0,1305.6 L605.7,1305.5 L606.3,1305.7 L606.9,1306.9 L607.6,1310.2 L608.2,1313.5 L608.8,1309.6 L609.4,1305.9 L610.0,1299.3 L610.6,1294.7 L611.2,1291.9 L611.8,1289.3 L612.4,1285.8 L613.0,1279.7 L613.7,1273.6 L614.3,1268.6 L614.9,1262.6 L615.6,1256.0 L616.2,1258.0 L616.8,1262.4 L617.5,1267.9 L618.1,1273.4 L618.7,1277.8 L619.4,1276.3 L620.0,1274.2 L620.6,1272.9 L621.3,1271.6 L621.9,1270.5 L622.5,1269.8 L623.1,1268.1 L623.7,1265.2 L624.3,1266.8 L624.9,1265.0 L625.5,1262.8 L626.1,1260.8 L626.7,1266.1 L627.4,1273.1 L628.0,1282.9 L628.6,1289.7 L629.3,1295.5 L629.9,1297.9 L630.5,1298.6 L631.1,1301.4 L631.7,1303.9 L632.3,1305.5 L632.9,1307.8 L633.5,1308.8 L634.1,1312.8 L634.8,1314.7 L635.5,1315.8 L636.1,1315.6 L636.8,1317.4 L637.4,1318.3 L638.1,1321.6 L638.8,1323.4 L639.4,1324.0 L640.0,1324.7 L640.6,1327.6 L641.2,1329.8 L641.8,1330.3 L642.4,1331.3 L643.0,1332.9 L643.6,1330.5 L644.3,1331.1 L645.0,1331.5 L645.6,1328.4 L646.3,1325.5 L646.9,1324.1 L647.6,1323.2 L648.2,1322.7 L648.8,1317.5 L649.5,1313.7 L650.1,1307.9 L650.7,1302.1 L651.3,1297.1 L651.9,1292.4 L652.5,1286.3 L653.1,1284.7 L653.7,1282.5 L654.3,1281.6 L654.9,1282.1 L655.5,1278.3 L656.1,1275.3 L656.7,1272.6 L657.3,1273.0 L657.9,1272.9 L658.6,1270.8 L659.2,1269.6 L659.8,1268.2 L660.4,1271.2 L661.0,1275.5 L661.6,1277.3 L662.2,1280.1 L662.9,1281.0 L663.5,1284.2 L664.1,1288.7 L664.7,1292.9 L665.3,1297.4 L665.9,1297.8 L666.5,1300.6 L667.1,1302.4 L667.7,1307.8 L668.3,1311.0 L668.9,1314.4 L669.5,1318.6 L670.1,1321.0 L670.7,1327.2 L671.3,1330.1 L671.9,1334.8 L672.5,1335.5 L673.1,1335.9 L673.8,1337.8 L674.5,1339.4 L675.1,1340.6 L675.8,1338.3 L676.4,1339.3 L677.1,1338.0 L677.8,1340.7 L678.4,1339.2 L679.0,1335.9 L679.6,1334.6 L680.2,1334.3 L680.8,1334.0 L681.4,1333.0 L682.0,1330.8 L682.6,1328.2 L683.2,1326.1 L683.8,1324.9 L684.4,1325.9 L685.0,1323.6 L685.6,1320.9 L686.2,1318.9 L686.8,1317.2 L687.4,1317.0 L688.0,1315.9 L688.6,1313.2 L689.2,1312.5 L689.8,1311.2 L690.4,1310.0 L691.1,1309.8 L691.7,1308.1 L692.4,1304.9 L693.0,1302.7 L693.7,1302.3 L694.4,1301.9 L695.0,1300.9 L695.7,1297.2 L696.3,1301.0 L696.9,1304.3 L697.6,1307.4 L698.2,1308.8 L698.8,1311.6 L699.5,1311.9 L700.1,1312.9 L700.7,1312.8 L701.3,1312.4 L702.0,1312.1 L702.6,1309.7 L703.2,1310.4 L703.8,1310.6 L704.5,1311.4 L705.1,1312.7 L705.7,1311.5 L706.3,1310.2 L707.0,1311.2 L707.6,1310.5 L708.2,1309.7 L708.9,1308.8 L709.5,1308.7 L710.1,1311.2 L710.8,1315.4 L711.4,1320.1 L712.0,1320.1 L712.6,1323.3 L713.3,1322.3 L713.9,1322.3 L714.5,1322.1 L715.2,1320.4 L715.8,1320.1 L716.4,1322.4 L717.1,1323.3 L717.7,1324.8 L718.3,1325.7 L719.0,1326.3 L719.6,1330.5 L720.2,1336.1 L720.9,1339.3 L721.5,1343.5 L722.1,1344.2 L722.8,1344.5 L723.4,1346.5 L724.0,1347.9 L724.7,1349.3 L725.3,1349.1 L725.9,1347.8 L726.5,1348.9 L727.1,1347.9 L727.7,1346.6 L728.3,1345.3 L728.9,1344.9 L729.5,1342.7 L730.1,1345.2 L730.7,1345.4 L731.3,1344.6 L731.9,1342.9 L732.5,1340.6 L733.1,1340.7 L733.7,1341.7 L734.4,1340.2 L735.0,1337.6 L735.6,1336.2 L736.3,1335.6 L736.9,1335.3 L737.5,1334.0 L738.2,1331.1 L738.8,1330.0 L739.4,1327.0 L740.1,1327.3 L740.7,1326.9 L741.3,1324.7 L741.9,1320.9 L742.6,1316.7 L743.2,1315.2 L743.8,1314.1 L744.5,1311.0 L745.1,1306.5 L745.7,1305.6 L746.4,1304.2 L747.0,1302.9 L747.6,1303.4 L748.2,1300.1 L748.8,1298.0 L749.4,1298.2 L750.0,1299.9 L750.6,1299.9 L751.2,1297.1 L751.9,1295.9 L752.5,1292.8 L753.1,1292.5 L753.8,1290.6 L754.4,1289.6 L755.1,1288.0 L755.8,1288.1 L756.5,1289.0 L757.1,1294.1 L757.8,1296.2 L758.4,1299.1 L759.0,1301.3 L759.7,1303.7 L760.3,1308.4 L760.9,1311.8 L761.6,1312.9 L762.2,1315.1 L762.8,1317.6 L763.4,1319.1 L764.0,1320.6 L764.6,1322.0 L765.2,1322.3 L765.8,1325.3 L766.4,1328.5 L767.1,1331.2 L767.7,1332.0 L768.4,1332.3 L769.0,1333.7 L769.7,1336.2 L770.4,1337.8 L771.0,1339.8 L771.7,1340.1 L772.3,1340.9 L772.9,1343.0 L773.5,1343.9 L774.1,1344.2 L774.7,1344.6 L775.3,1344.7 L775.9,1345.7 L776.5,1347.7 L777.1,1349.0 L777.7,1346.5 L778.3,1345.9 L778.9,1344.2 L779.5,1345.0 L780.1,1345.9 L780.7,1345.8 L781.3,1344.8 L781.9,1343.2 L782.5,1344.7 L783.1,1343.7 L783.7,1344.7 L784.3,1342.9 L784.9,1340.2 L785.6,1337.1 L786.2,1337.4 L786.8,1335.7 L787.5,1332.6 L788.1,1331.4 L788.7,1327.5 L789.4,1327.0 L790.0,1326.0 L790.6,1324.2 L791.3,1320.2 L791.9,1317.5 L792.5,1314.5 L793.2,1310.8 L793.8,1308.0 L794.5,1301.9 L795.2,1295.4 L795.9,1290.3 L796.5,1286.8 L797.2,1283.4 L797.8,1278.5 L798.4,1271.9 L799.1,1268.2 L799.8,1278.8 L800.5,1287.7 L801.2,1298.1 L801.8,1300.7 L802.4,1303.7 L803.1,1308.1 L803.7,1311.2 L804.4,1301.7 L805.1,1293.2 L805.8,1287.6 L806.5,1282.6 L807.1,1284.5 L807.7,1287.4 L808.3,1289.2 L809.0,1290.7 L809.6,1294.7 L810.2,1290.6 L810.9,1287.8 L811.5,1283.8 L812.1,1281.5 L812.8,1280.5 L813.4,1286.5 L814.0,1289.2 L814.7,1294.3 L815.3,1298.2 L815.9,1304.6 L816.6,1308.5 L817.2,1311.4 L817.8,1313.0 L818.5,1315.6 L819.1,1319.5 L819.7,1321.8 L820.3,1321.1 L820.9,1319.6 L821.5,1320.9 L822.1,1322.3 L822.7,1323.8 L823.3,1325.8 L823.9,1327.2 L824.5,1327.7 L825.1,1328.1 L825.7,1331.2 L826.3,1333.9 L826.9,1334.7 L827.5,1336.5 L828.1,1337.2 L828.7,1340.3 L829.3,1342.7 L829.9,1343.6 L830.5,1343.2 L831.1,1344.6 L831.7,1345.6 L832.3,1348.4 L832.9,1351.9 L833.6,1353.2 L834.2,1355.3 L834.8,1354.2 L835.4,1357.7 L836.0,1359.4 L836.6,1358.4 L837.2,1359.1 L837.8,1357.2 L838.4,1356.5 L839.0,1357.8 L839.6,1357.1 L840.2,1355.6 L840.8,1354.1 L841.4,1353.2 L842.0,1355.5 L842.6,1355.4 L843.2,1356.0 L843.8,1356.2 L844.4,1355.5 L845.0,1352.3 L845.7,1351.9 L846.3,1350.0 L846.9,1347.0 L847.6,1345.1 L848.2,1344.3 L848.8,1342.6 L849.4,1342.1 L850.0,1341.8 L850.6,1337.9 L851.2,1337.0 L851.8,1335.9 L852.4,1334.3 L853.0,1332.6 L853.6,1329.7 L854.2,1326.3 L854.8,1322.7 L855.4,1319.3 L856.0,1316.8 L856.6,1315.2 L857.2,1314.3 L857.8,1311.5 L858.4,1310.6 L859.0,1310.8 L859.6,1309.4 L860.2,1307.9 L860.8,1303.9 L861.4,1299.6 L862.0,1298.9 L862.6,1298.2 L863.2,1295.5 L863.8,1293.8 L864.4,1290.5 L865.0,1293.9 L865.6,1299.7 L866.2,1305.7 L866.8,1309.8 L867.4,1312.3 L868.0,1317.8 L868.6,1324.9 L869.3,1317.2 L869.9,1308.2 L870.5,1299.6 L871.2,1290.7 L871.8,1282.0 L872.4,1289.0 L873.1,1294.7 L873.7,1298.8 L874.3,1303.3 L875.0,1310.0 L875.6,1304.6 L876.2,1300.1 L876.9,1295.6 L877.5,1290.0 L878.1,1286.7 L878.8,1284.5 L879.5,1289.6 L880.2,1293.3 L880.9,1294.8 L881.6,1299.1 L882.3,1305.1 L883.0,1309.0 L883.6,1311.7 L884.2,1315.2 L884.9,1320.7 L885.5,1325.1 L886.1,1325.3 L886.7,1325.6 L887.3,1326.1 L887.9,1328.6 L888.5,1332.5 L889.1,1334.8 L889.7,1336.2 L890.3,1336.7 L890.9,1336.9 L891.5,1338.0 L892.1,1340.8 L892.7,1342.8 L893.3,1346.0 L893.9,1346.5 L894.6,1348.8 L895.2,1349.7 L895.9,1350.4 L896.6,1351.1 L897.2,1350.1 L897.9,1353.0 L898.5,1354.9 L899.2,1356.6 L899.8,1355.2 L900.4,1353.8 L901.0,1351.6 L901.6,1351.0 L902.2,1351.8 L902.8,1350.3 L903.4,1347.8 L904.0,1347.3 L904.6,1345.6 L905.2,1344.4 L905.8,1342.5 L906.4,1340.6 L907.0,1336.3 L907.6,1335.3 L908.2,1337.0 L908.8,1340.2 L909.4,1342.3 L910.0,1342.3 L910.6,1342.7 L911.2,1345.0 L911.8,1347.4 L912.4,1343.6 L913.1,1341.0 L913.7,1337.6 L914.3,1336.2 L914.9,1333.4 L915.5,1331.5 L916.1,1328.0 L916.7,1326.2 L917.3,1323.4 L918.0,1322.6 L918.6,1322.1 L919.2,1321.6 L919.8,1318.2 L920.4,1315.4 L921.0,1315.2 L921.6,1313.2 L922.2,1311.7 L922.8,1309.4 L923.4,1308.3 L924.0,1306.5 L924.6,1304.0 L925.2,1303.0 L925.8,1301.6 L926.5,1297.4 L927.1,1294.3 L927.7,1290.5 L928.3,1295.8 L928.9,1298.7 L929.6,1302.6 L930.2,1305.5 L930.8,1308.5 L931.5,1312.2 L932.1,1314.6 L932.7,1318.3 L933.3,1318.9 L934.0,1322.7 L934.6,1317.7 L935.2,1313.6 L935.9,1307.0 L936.5,1300.7 L937.1,1293.5 L937.8,1301.0 L938.4,1308.1 L939.0,1314.1 L939.7,1322.0 L940.3,1327.3 L941.0,1331.1 L941.7,1333.5 L942.4,1334.0 L943.0,1333.1 L943.6,1330.9 L944.2,1330.1 L944.8,1330.0 L945.4,1329.3 L946.0,1327.1 L946.6,1324.5 L947.2,1327.1 L947.8,1330.3 L948.4,1335.0 L949.0,1336.6 L949.6,1340.2 L950.2,1341.8 L950.8,1344.5 L951.4,1346.6 L952.0,1349.8 L952.6,1348.4 L953.3,1349.6 L953.9,1351.4 L954.5,1353.6 L955.1,1356.0 L955.7,1357.1 L956.3,1356.3 L956.9,1355.6 L957.5,1355.4 L958.1,1356.2 L958.7,1357.3 L959.3,1356.8 L959.9,1357.6 L960.5,1358.0 L961.2,1359.0 L961.8,1359.7 L962.4,1359.2 L963.1,1358.2 L963.7,1358.4 L964.3,1358.9 L965.0,1360.3 L965.6,1360.4 L966.2,1360.1 L966.9,1359.2 L967.5,1361.0 L968.1,1361.0 L968.8,1360.7 L969.4,1360.7 L970.0,1360.9 L970.7,1361.1 L971.3,1363.3 L971.9,1363.6 L972.6,1361.1 L973.2,1360.1 L973.8,1360.2 L974.5,1360.0 L975.1,1362.1 L975.7,1361.0 L976.3,1360.0 L977.0,1360.4 L977.6,1359.5 L978.2,1359.0 L978.9,1359.2 L979.5,1357.7 L980.1,1359.1 L980.8,1358.9 L981.4,1360.8 L982.0,1359.3 L982.7,1358.4 L983.3,1357.1 L983.9,1357.4 L984.6,1358.2 L985.2,1356.8 L985.9,1353.9 L986.5,1350.5 L987.2,1349.0 L987.9,1345.8 L988.5,1342.7 L989.2,1340.6 L989.8,1337.4 L990.4,1336.5 L991.0,1334.5 L991.6,1333.2 L992.2,1331.3 L992.9,1326.6 L993.5,1325.4 L994.1,1324.1 L994.7,1323.8 L995.3,1321.8 L996.0,1321.6 L996.6,1321.1 L997.2,1319.2 L997.8,1323.6 L998.4,1325.8 L999.0,1329.5 L999.6,1330.7 L1000.2,1336.1 L1000.8,1340.7 L1001.4,1344.9 L1002.0,1340.2 L1002.6,1334.2 L1003.2,1327.4 L1003.8,1324.6 L1004.4,1320.0 L1005.0,1316.9 L1005.6,1310.7 L1006.3,1311.9 L1006.9,1314.4 L1007.5,1316.5 L1008.1,1318.5 L1008.7,1318.5 L1009.3,1318.7 L1009.9,1320.4 L1010.5,1317.9 L1011.1,1313.7 L1011.7,1310.1 L1012.3,1304.5 L1012.9,1298.2 L1013.5,1293.3 L1014.1,1290.1 L1014.7,1292.0 L1015.3,1293.1 L1015.9,1294.9 L1016.5,1296.9 L1017.1,1299.7 L1017.7,1302.3 L1018.3,1304.3 L1018.9,1302.7 L1019.6,1302.8 L1020.2,1303.6 L1020.8,1305.0 L1021.5,1305.6 L1022.1,1309.8 L1022.7,1312.8 L1023.3,1315.2 L1023.9,1319.7 L1024.5,1325.6 L1025.1,1327.7 L1025.7,1330.4 L1026.3,1331.1 L1026.9,1331.2 L1027.5,1330.4 L1028.1,1329.2 L1028.7,1325.7 L1029.3,1323.3 L1029.9,1322.6 L1030.5,1325.0 L1031.1,1328.5 L1031.7,1331.3 L1032.3,1332.2 L1032.9,1334.4 L1033.5,1337.4 L1034.1,1340.0 L1034.8,1339.1 L1035.6,1336.5 L1036.3,1336.9 L1037.0,1336.7 L1037.6,1335.9 L1038.2,1333.7 L1038.9,1331.6 L1039.5,1330.3 L1040.1,1334.2 L1040.8,1339.8 L1041.4,1343.8 L1042.0,1347.8 L1042.6,1352.9 L1043.2,1353.0 L1043.9,1353.8 L1044.5,1352.7 L1045.1,1351.1 L1045.7,1351.1 L1046.3,1350.8 L1046.9,1352.4 L1047.5,1354.3 L1048.1,1355.5 L1048.8,1354.9 L1049.4,1353.9 L1050.0,1356.4 L1050.7,1358.6 L1051.3,1358.8 L1051.9,1359.4 L1052.6,1361.4 L1053.2,1362.5 L1053.8,1363.8 L1054.4,1360.9 L1055.0,1359.8 L1055.6,1356.9 L1056.2,1357.4 L1056.8,1357.4 L1057.4,1357.5 L1058.0,1358.5 L1058.7,1357.5 L1059.3,1358.4 L1059.9,1359.9 L1060.6,1360.3 L1061.2,1358.6 L1061.8,1356.2 L1062.5,1354.8 L1063.1,1351.9 L1063.7,1350.7 L1064.3,1350.6 L1064.9,1351.0 L1065.5,1349.1 L1066.1,1350.8 L1066.7,1352.6 L1067.3,1354.1 L1067.9,1353.3 L1068.6,1350.6 L1069.2,1348.3 L1069.8,1347.5 L1070.5,1347.5 L1071.1,1344.9 L1071.7,1344.2 L1072.4,1346.1 L1073.1,1347.9 L1073.7,1351.0 L1074.4,1353.3 L1075.0,1352.9 L1075.7,1353.9 L1076.4,1357.6 L1077.0,1356.4 L1077.6,1354.0 L1078.2,1351.3 L1078.8,1347.9 L1079.4,1345.4 L1080.0,1342.6 L1080.6,1340.4 L1081.2,1339.1 L1081.8,1340.3 L1082.4,1340.8 L1083.0,1342.0 L1083.6,1343.1 L1084.2,1345.3 L1084.8,1342.9 L1085.4,1339.8 L1086.1,1338.6 L1086.7,1337.9 L1087.3,1337.8 L1088.0,1335.5 L1088.6,1332.5 L1089.2,1331.0 L1089.9,1330.3 L1090.5,1328.0 L1091.1,1326.4 L1091.7,1327.9 L1092.3,1329.7 L1092.9,1334.0 L1093.5,1337.1 L1094.1,1339.3 L1094.7,1340.4 L1095.3,1343.1 L1096.0,1338.9 L1096.6,1338.3 L1097.2,1334.2 L1097.9,1332.1 L1098.5,1327.5 L1099.1,1324.1 L1099.8,1322.4 L1100.4,1319.5 L1101.0,1314.7 L1101.7,1310.6 L1102.3,1314.1 L1102.9,1320.0 L1103.5,1324.4 L1104.1,1328.9 L1104.7,1330.9 L1105.3,1333.1 L1105.9,1337.1 L1106.5,1339.9 L1107.2,1341.3 L1107.8,1342.9 L1108.4,1343.3 L1109.0,1346.0 L1109.6,1341.6 L1110.3,1336.5 L1110.9,1332.8 L1111.5,1325.1 L1112.1,1320.6 L1112.7,1317.2 L1113.3,1315.2 L1113.9,1316.6 L1114.5,1319.2 L1115.1,1319.6 L1115.7,1321.1 L1116.3,1323.9 L1116.9,1327.1 L1117.5,1329.7 L1118.1,1327.1 L1118.7,1323.9 L1119.3,1323.2 L1119.9,1320.9 L1120.5,1318.4 L1121.1,1316.1 L1121.7,1312.1 L1122.3,1315.2 L1122.9,1320.4 L1123.5,1322.1 L1124.1,1324.7 L1124.7,1326.0 L1125.3,1328.2 L1125.9,1331.2 L1126.5,1332.6 L1127.2,1334.2 L1127.8,1336.5 L1128.4,1337.6 L1129.1,1340.2 L1129.7,1341.2 L1130.3,1339.0 L1130.9,1337.5 L1131.5,1335.9 L1132.1,1334.8 L1132.7,1334.9 L1133.3,1336.0 L1134.0,1342.4 L1134.7,1348.4 L1135.4,1354.7 L1136.0,1352.8 L1136.7,1351.8 L1137.3,1350.4 L1137.9,1349.2 L1138.6,1348.0 L1139.2,1349.4 L1139.8,1353.0 L1140.5,1353.3 L1141.1,1352.5 L1141.7,1353.3 L1142.4,1355.1 L1143.0,1358.4 L1143.6,1360.5 L1144.2,1362.1 L1144.9,1362.0 L1145.5,1360.8 L1146.1,1359.1 L1146.7,1357.6 L1147.3,1354.1 L1147.9,1350.8 L1148.5,1349.5 L1149.1,1348.8 L1149.8,1350.5 L1150.4,1352.5 L1151.1,1353.2 L1151.7,1353.0 L1152.4,1355.8 L1153.1,1358.8 L1153.7,1362.3 L1154.4,1362.0 L1155.0,1360.7 L1155.6,1360.9 L1156.2,1359.7 L1156.8,1357.2 L1157.4,1354.5 L1158.0,1351.8 L1158.6,1351.8 L1159.2,1353.7 L1159.8,1357.7 L1160.4,1358.1 L1161.0,1358.1 L1161.6,1359.5 L1162.2,1360.6 L1162.8,1363.4 L1163.5,1361.3 L1164.1,1359.9 L1164.8,1358.2 L1165.4,1357.5 L1166.1,1356.7 L1166.8,1353.1 L1167.4,1349.9 L1168.1,1349.0 L1168.7,1350.8 L1169.3,1351.3 L1169.9,1352.9 L1170.5,1353.2 L1171.1,1353.0 L1171.8,1351.8 L1172.4,1353.0 L1173.0,1354.1 L1173.6,1354.6 L1174.2,1355.3 L1174.8,1356.4 L1175.4,1356.9 L1176.0,1354.9 L1176.7,1352.0 L1177.3,1348.2 L1177.9,1344.5 L1178.5,1342.8 L1179.1,1342.1 L1179.7,1341.6 L1180.3,1340.8 L1181.0,1341.9 L1181.6,1340.4 L1182.3,1341.6 L1183.0,1343.1 L1183.6,1344.7 L1184.3,1343.7 L1184.9,1345.3 L1185.6,1345.3 L1186.2,1341.9 L1186.9,1339.2 L1187.6,1334.7 L1188.2,1333.5 L1188.9,1331.6 L1189.5,1331.2 L1190.2,1328.0 L1190.8,1327.8 L1191.5,1329.6 L1192.1,1331.8 L1192.7,1334.0 L1193.4,1336.1 L1194.0,1335.3 L1194.6,1337.3 L1195.3,1341.1 L1195.9,1343.1 L1196.5,1344.2 L1197.2,1339.7 L1197.8,1334.8 L1198.4,1333.4 L1199.1,1331.4 L1199.7,1328.9 L1200.3,1324.7 L1201.0,1320.5 L1201.6,1315.9 L1202.2,1314.1 L1202.8,1310.0 L1203.5,1311.4 L1204.2,1313.7 L1204.8,1315.9 L1205.5,1320.0 L1206.1,1321.6 L1206.8,1322.0 L1207.5,1322.9 L1208.1,1325.1 L1208.8,1321.9 L1209.4,1317.7 L1210.0,1313.8 L1210.6,1308.3 L1211.3,1304.1 L1211.9,1306.4 L1212.5,1309.5 L1213.1,1311.6 L1213.7,1314.4 L1214.3,1315.9 L1214.9,1319.2 L1215.5,1324.5 L1216.1,1328.7 L1216.7,1331.0 L1217.3,1335.3 L1217.9,1337.8 L1218.5,1343.6 L1219.1,1347.5 L1219.7,1352.6 L1220.4,1347.9 L1221.0,1344.4 L1221.7,1341.3 L1222.3,1337.4 L1223.0,1334.0 L1223.7,1329.5 L1224.3,1326.0 L1225.0,1322.6 L1225.6,1325.9 L1226.2,1329.9 L1226.8,1331.7 L1227.4,1333.6 L1228.0,1336.1 L1228.6,1339.0 L1229.2,1341.4 L1229.9,1340.1 L1230.5,1339.6 L1231.2,1337.8 L1231.8,1337.8 L1232.5,1336.6 L1233.2,1335.9 L1233.8,1332.9 L1234.5,1331.8 L1235.1,1335.4 L1235.7,1337.5 L1236.3,1338.7 L1236.9,1339.8 L1237.5,1340.3 L1238.1,1342.0 L1238.7,1344.7 L1239.3,1344.7 L1239.9,1345.5 L1240.6,1346.8 L1241.2,1348.7 L1241.8,1351.1 L1242.5,1350.3 L1243.1,1347.1 L1243.7,1345.7 L1244.4,1343.3 L1245.0,1343.2 L1245.6,1346.6 L1246.2,1346.1 L1246.8,1346.5 L1247.4,1346.0 L1248.0,1347.5 L1248.6,1346.9 L1249.2,1347.2 L1249.8,1348.4 L1250.4,1348.9 L1251.0,1350.7 L1251.6,1353.6 L1252.2,1354.3 L1252.8,1353.1 L1253.4,1352.6 L1254.0,1352.8 L1254.6,1352.9 L1255.2,1354.1 L1255.8,1353.6 L1256.5,1354.2 L1257.1,1352.2 L1257.7,1351.9 L1258.3,1354.5 L1258.9,1355.8 L1259.6,1358.9 L1260.2,1359.3 L1260.8,1362.8 L1261.5,1362.6 L1262.1,1361.8 L1262.7,1360.6 L1263.3,1356.6 L1264.0,1354.9 L1264.6,1353.8 L1265.2,1354.6 L1265.9,1354.0 L1266.5,1352.1 L1267.1,1350.3 L1267.8,1351.8 L1268.5,1353.7 L1269.1,1355.5 L1269.8,1356.3 L1270.4,1356.4 L1271.1,1359.3 L1271.8,1361.9 L1272.4,1364.0 L1273.0,1361.6 L1273.7,1359.3 L1274.3,1357.8 L1274.9,1357.0 L1275.6,1356.9 L1276.2,1356.2 L1276.8,1354.6 L1277.5,1353.4 L1278.1,1352.8 L1278.7,1351.7 L1279.4,1351.1 L1280.0,1350.5 L1280.6,1351.9 L1281.2,1355.2 L1281.8,1357.3 L1282.4,1356.2 L1283.0,1356.7 L1283.7,1356.7 L1284.3,1358.9 L1284.9,1358.9 L1285.5,1360.6 L1286.1,1362.3 L1286.7,1358.7 L1287.4,1357.5 L1288.0,1355.7 L1288.6,1352.4 L1289.3,1349.2 L1289.9,1345.0 L1290.5,1343.0 L1291.2,1343.5 L1291.8,1342.1 L1292.4,1339.0 L1293.1,1339.7 L1293.7,1341.0 L1294.3,1342.4 L1294.9,1345.6 L1295.5,1346.7 L1296.1,1348.1 L1296.7,1350.0 L1297.4,1352.4 L1298.0,1353.7 L1298.6,1355.3 L1299.2,1355.9 L1299.8,1357.5 L1300.4,1355.7 L1301.1,1354.1 L1301.7,1353.5 L1302.3,1352.9 L1303.0,1349.5 L1303.6,1346.2 L1304.2,1345.9 L1304.9,1342.8 L1305.5,1341.8 L1306.1,1338.9 L1306.8,1339.5 L1307.4,1341.3 L1308.0,1343.1 L1308.7,1344.5 L1309.3,1343.4 L1309.9,1342.1 L1310.6,1344.0 L1311.2,1347.0 L1311.8,1347.3 L1312.5,1348.5 L1313.1,1347.5 L1313.7,1346.2 L1314.4,1346.4 L1315.0,1346.6 L1315.6,1344.1 L1316.3,1343.2 L1316.9,1343.5 L1317.5,1343.7 L1318.2,1343.2 L1318.8,1341.6 L1319.4,1342.3 L1320.0,1343.3 L1320.6,1345.5 L1321.2,1349.0 L1321.9,1349.8 L1322.5,1350.6 L1323.1,1352.0 L1323.7,1353.5 L1324.3,1356.6 L1324.9,1357.1 L1325.5,1357.6 L1326.2,1358.8 L1326.8,1357.6 L1327.5,1356.8 L1328.1,1355.3 L1328.8,1350.6 L1329.5,1347.1 L1330.1,1344.4 L1330.8,1342.4 L1331.4,1340.7 L1332.0,1342.0 L1332.6,1342.3 L1333.2,1343.7 L1333.8,1345.6 L1334.4,1346.4 L1335.0,1347.3 L1335.6,1347.7 L1336.3,1346.8 L1336.9,1349.1 L1337.5,1352.7 L1338.1,1354.2 L1338.7,1354.2 L1339.3,1355.4 L1339.9,1355.8 L1340.5,1353.6 L1341.2,1353.4 L1341.8,1351.1 L1342.5,1347.1 L1343.2,1346.4 L1343.8,1345.4 L1344.5,1342.4 L1345.1,1340.2 L1345.7,1340.1 L1346.4,1341.5 L1347.0,1345.4 L1347.6,1349.7 L1348.2,1352.2 L1348.8,1352.2 L1349.4,1354.7 L1350.1,1354.9 L1350.7,1358.3 L1351.3,1361.3 L1351.9,1363.6 L1352.5,1364.2 L1353.2,1361.8 L1353.9,1361.3 L1354.5,1360.1 L1355.2,1356.5 L1355.9,1352.0 L1356.5,1349.2 L1357.2,1349.2 L1357.9,1347.6 L1358.5,1345.7 L1359.2,1342.9 L1359.8,1340.0 L1360.5,1344.4 L1361.2,1347.7 L1361.8,1350.0 L1362.6,1351.3 L1363.3,1353.5 L1364.1,1355.4 L1364.8,1355.8 L1365.5,1352.7 L1366.3,1349.1 L1367.0,1347.3 L1367.8,1346.5 L1368.4,1343.6 L1369.0,1341.5 L1369.6,1338.8 L1370.3,1338.6 L1370.9,1341.6 L1371.5,1342.5 L1372.1,1344.9 L1372.7,1346.3 L1373.5,1351.8 L1374.2,1354.6 L1375.0,1356.4 L1375.7,1356.5 L1376.5,1357.6 L1377.2,1359.4 L1377.9,1361.7 L1378.7,1360.5 L1379.4,1360.7 L1380.2,1359.6 L1380.9,1358.6 L1381.7,1356.7 L1382.4,1353.7 L1383.1,1352.1 L1383.8,1351.3 L1384.4,1349.7 L1385.1,1345.8 L1385.8,1346.9 L1386.4,1349.8 L1387.0,1352.1 L1387.6,1354.1 L1388.3,1355.5 L1389.0,1355.5 L1389.7,1356.8 L1390.4,1359.3 L1391.1,1359.7 L1391.8,1355.1 L1392.6,1350.9 L1393.3,1349.1 L1394.1,1346.6 L1394.7,1345.9 L1395.3,1343.0 L1395.9,1340.9 L1396.5,1340.7 L1397.2,1344.4 L1397.8,1346.0 L1398.4,1347.0 L1399.0,1350.8 L1399.7,1351.6 L1400.4,1354.4 L1401.1,1356.1 L1401.8,1356.3 L1402.5,1358.5 L1403.2,1357.7 L1403.9,1355.9 L1404.6,1354.7 L1405.3,1350.1 L1406.0,1348.1 L1406.7,1346.2 L1407.5,1347.1 L1408.2,1345.6 L1408.9,1343.6 L1409.6,1347.4 L1410.2,1350.7 L1410.8,1353.6 L1411.4,1354.7 L1412.2,1353.3 L1412.9,1355.8 L1413.7,1360.2 L1414.4,1361.5 L1415.1,1360.3 L1415.8,1361.3 L1416.5,1361.7 L1417.2,1363.4 L1417.9,1364.0 L1418.6,1362.0 L1419.4,1361.1 L1420.1,1360.4 L1420.9,1356.8 L1421.5,1353.9 L1422.2,1351.2 L1422.9,1352.7 L1423.6,1352.5 L1424.3,1351.8 L1425.1,1348.5 L1425.8,1347.7 L1426.6,1347.0 L1427.3,1345.6 L1428.3,1352.6 L1428.9,1351.8 L1429.5,1351.0 L1430.2,1351.6 L1430.8,1349.3 L1431.4,1347.1 L1432.0,1344.2 L1432.6,1343.0 L1433.3,1341.4 L1433.9,1342.5 L1434.5,1339.3 L1435.1,1338.7 L1435.7,1336.3 L1436.4,1336.2 L1437.1,1334.7 L1437.7,1332.7 L1438.5,1336.7 L1439.2,1342.4 L1439.9,1345.3 L1440.5,1349.1 L1441.2,1349.8 L1441.9,1349.3 L1442.7,1352.5 L1443.4,1355.4 L1444.2,1358.7 L1444.9,1355.8 L1445.7,1354.4 L1446.4,1352.9 L1447.1,1349.8 L1447.9,1345.0 L1448.6,1341.6 L1449.4,1340.2 L1450.1,1337.9 L1450.7,1340.0 L1451.4,1339.9 L1452.0,1341.8 L1452.6,1344.0 L1453.2,1347.4 L1453.8,1349.5 L1454.5,1350.7 L1455.1,1352.0 L1455.7,1354.2 L1456.3,1356.0 L1456.9,1355.4 L1457.6,1354.3 L1458.3,1352.4 L1458.9,1351.0 L1459.6,1352.3 L1460.3,1350.8 L1461.0,1349.3 L1461.8,1344.2 L1462.5,1342.7 L1463.3,1339.3 L1464.0,1338.0 L1464.7,1337.6 L1465.4,1340.2 L1466.1,1343.9 L1466.8,1345.4 L1467.5,1344.6 L1468.1,1345.1 L1468.7,1346.5 L1469.3,1347.1 L1469.9,1350.7 L1470.5,1351.1 L1471.1,1352.4 L1471.7,1351.7 L1472.3,1352.9 L1472.9,1354.5 L1473.6,1352.3 L1474.3,1350.5 L1474.9,1347.3 L1475.6,1348.0 L1476.2,1346.3 L1476.9,1343.8 L1477.6,1340.7 L1478.4,1335.5 L1479.1,1333.7 L1479.9,1333.6 L1480.9,1338.1 L1481.5,1337.5 L1482.1,1337.0 L1482.7,1337.6 L1483.4,1337.4 L1484.0,1337.5 L1484.6,1336.3 L1485.2,1337.6 L1485.8,1338.8 L1486.6,1337.3 L1487.3,1333.8 L1488.1,1330.1 L1488.8,1329.3 L1489.4,1328.3 L1490.0,1327.2 L1490.7,1327.0 L1491.3,1324.7" fill="none" stroke="#e0302c" stroke-width="2.0" stroke-linejoin="round"/>
<line x1="515.0" y1="1160.7" x2="515.0" y2="1381.9" stroke="#000" stroke-width="2.4"/>
<text x="208.9" y="1418.0" font-size="27" textLength="56.7" lengthAdjust="spacingAndGlyphs">SHL</text>
<text x="303.8" y="1417.8" font-size="24.2" text-anchor="middle">&#8211;7</text>
<text x="439.3" y="1417.8" font-size="24.2" text-anchor="middle">&#8211;6</text>
<text x="515.6" y="1417.8" font-size="24.2" text-anchor="middle">&#8211;5</text>
<text x="548.6" y="1417.8" font-size="24.2" text-anchor="middle">&#8211;4</text>
<text x="580.6" y="1417.8" font-size="24.2" text-anchor="middle">&#8211;3</text>
<text x="613.0" y="1417.8" font-size="24.2" text-anchor="middle">&#8211;2</text>
<text x="648.3" y="1417.8" font-size="24.2" text-anchor="middle">&#8211;1</text>
<text x="694.0" y="1417.8" font-size="24.2" text-anchor="middle">0</text>
<text x="738.8" y="1417.8" font-size="24.2" text-anchor="middle">+1</text>
<text x="792.5" y="1417.8" font-size="24.2" text-anchor="middle">+2</text>
<text x="860.3" y="1417.8" font-size="24.2" text-anchor="middle">+3</text>
<text x="917.1" y="1417.8" font-size="24.2" text-anchor="middle">+4</text>
<text x="1004.8" y="1417.8" font-size="24.2" text-anchor="middle">+5</text>
<text x="1092.3" y="1417.8" font-size="24.2" text-anchor="middle">+6</text>
<text x="1197.4" y="1417.8" font-size="24.2" text-anchor="middle">+7</text>
<rect x="43.7" y="1423.5" width="1442.9" height="32.1" fill="none" stroke="#555" stroke-width="1.8" stroke-dasharray="4.6,3.4"/>
<line x1="316.7" y1="1423.5" x2="316.7" y2="1455.6" stroke="#555" stroke-width="1.8" stroke-dasharray="4.6,3.4"/>
<text x="118.0" y="1449.4" font-size="28" textLength="157.5" lengthAdjust="spacingAndGlyphs">Linker DNA</text>
<text x="780.0" y="1449.0" font-size="28" textLength="253.0" lengthAdjust="spacingAndGlyphs">Nucleosomal DNA</text>
<text x="61.0" y="1178.5" font-size="24" textLength="42.2" lengthAdjust="spacingAndGlyphs">&#8211;96</text>
<text x="83.9" y="1203.9" font-size="24" textLength="42.1" lengthAdjust="spacingAndGlyphs">&#8211;92</text>
<text x="131.2" y="1203.9" font-size="24" textLength="41.7" lengthAdjust="spacingAndGlyphs">&#8211;89</text>
<text x="171.8" y="1193.7" font-size="24" textLength="41.7" lengthAdjust="spacingAndGlyphs">&#8211;84</text>
<text x="211.0" y="1224.2" font-size="24" textLength="39.6" lengthAdjust="spacingAndGlyphs">&#8211;81</text>
<text x="1243.8" y="1320.4" font-size="27" textLength="48.6" lengthAdjust="spacingAndGlyphs">+76</text>
<text x="1292.9" y="1307.0" font-size="27" textLength="47.5" lengthAdjust="spacingAndGlyphs">+80</text>
<text x="1371.4" y="1285.3" font-size="27" textLength="49.1" lengthAdjust="spacingAndGlyphs">+86</text>
<text x="1454.0" y="1286.8" font-size="27" textLength="49.0" lengthAdjust="spacingAndGlyphs">+92</text>
<text x="913.3" y="1229.5" font-size="29.5" textLength="86.2" lengthAdjust="spacingAndGlyphs">43N33</text>
<line x1="1251.0" y1="1190.8" x2="1290.3" y2="1190.8" stroke="#000" stroke-width="6.3" stroke-linecap="round"/>
<line x1="1249.5" y1="1223.3" x2="1288.3" y2="1223.3" stroke="#e0302c" stroke-width="6.6" stroke-linecap="round"/>
<text x="1300.7" y="1200.0" font-size="25.5" textLength="51.6" lengthAdjust="spacingAndGlyphs">NCP</text>
<text x="1300.7" y="1231.0" font-size="25.5" textLength="146.7" lengthAdjust="spacingAndGlyphs">NCP+<tspan font-weight="normal">&#916;</tspan>cHLB</text>
<line x1="46.8" y1="1528.0" x2="46.8" y2="1842.8" stroke="#000" stroke-width="2.9"/>
<line x1="45.4" y1="1841.3" x2="1455.6" y2="1841.3" stroke="#000" stroke-width="2.9"/>
<line x1="42.3" y1="1560.0" x2="47.5" y2="1560.0" stroke="#000" stroke-width="1.8"/>
<line x1="42.3" y1="1591.5" x2="47.5" y2="1591.5" stroke="#000" stroke-width="1.8"/>
<line x1="42.3" y1="1622.0" x2="47.5" y2="1622.0" stroke="#000" stroke-width="1.8"/>
<line x1="42.3" y1="1653.5" x2="47.5" y2="1653.5" stroke="#000" stroke-width="1.8"/>
<line x1="42.3" y1="1684.5" x2="47.5" y2="1684.5" stroke="#000" stroke-width="1.8"/>
<line x1="42.3" y1="1716.0" x2="47.5" y2="1716.0" stroke="#000" stroke-width="1.8"/>
<line x1="42.3" y1="1747.6" x2="47.5" y2="1747.6" stroke="#000" stroke-width="1.8"/>
<line x1="42.3" y1="1778.6" x2="47.5" y2="1778.6" stroke="#000" stroke-width="1.8"/>
<line x1="42.3" y1="1809.0" x2="47.5" y2="1809.0" stroke="#000" stroke-width="1.8"/>
<line x1="312.7" y1="1839.3" x2="312.7" y2="1852.8" stroke="#000" stroke-width="2.2"/>
<line x1="445.9" y1="1839.3" x2="445.9" y2="1852.8" stroke="#000" stroke-width="2.2"/>
<line x1="527.6" y1="1839.3" x2="527.6" y2="1852.8" stroke="#000" stroke-width="2.2"/>
<line x1="555.0" y1="1839.3" x2="555.0" y2="1852.8" stroke="#000" stroke-width="2.2"/>
<line x1="580.8" y1="1839.3" x2="580.8" y2="1852.8" stroke="#000" stroke-width="2.2"/>
<line x1="616.9" y1="1839.3" x2="616.9" y2="1852.8" stroke="#000" stroke-width="2.2"/>
<line x1="649.2" y1="1839.3" x2="649.2" y2="1852.8" stroke="#000" stroke-width="2.2"/>
<line x1="689.7" y1="1839.3" x2="689.7" y2="1852.8" stroke="#000" stroke-width="2.2"/>
<line x1="742.9" y1="1839.3" x2="742.9" y2="1852.8" stroke="#000" stroke-width="2.2"/>
<line x1="795.5" y1="1839.3" x2="795.5" y2="1852.8" stroke="#000" stroke-width="2.2"/>
<line x1="861.1" y1="1839.3" x2="861.1" y2="1852.8" stroke="#000" stroke-width="2.2"/>
<line x1="916.9" y1="1839.3" x2="916.9" y2="1852.8" stroke="#000" stroke-width="2.2"/>
<line x1="1003.1" y1="1839.3" x2="1003.1" y2="1852.8" stroke="#000" stroke-width="2.2"/>
<line x1="1078.6" y1="1839.3" x2="1078.6" y2="1852.8" stroke="#000" stroke-width="2.2"/>
<line x1="1185.5" y1="1839.3" x2="1185.5" y2="1852.8" stroke="#000" stroke-width="2.2"/>
<rect x="256.7" y="1816.2" width="321.3" height="11.8" fill="#000"/>
<rect x="691.4" y="1816.2" width="32.0" height="11.8" fill="#000"/>
<rect x="729.5" y="1816.2" width="31.5" height="11.8" fill="#d0d0d0"/>
<path d="M48.0,1572.2 L48.7,1574.7 L49.4,1576.5 L50.1,1579.4 L50.8,1575.4 L51.4,1572.0 L52.0,1570.3 L52.6,1565.9 L53.4,1561.1 L54.1,1555.0 L54.8,1551.4 L55.4,1557.0 L56.0,1562.0 L56.7,1563.3 L57.3,1565.8 L57.9,1569.6 L58.6,1575.0 L59.3,1578.8 L60.0,1582.1 L60.7,1587.2 L61.4,1573.6 L62.1,1563.7 L62.8,1565.9 L63.4,1567.9 L64.0,1570.7 L64.7,1575.3 L65.3,1581.6 L65.9,1590.8 L66.6,1600.9 L67.2,1609.8 L67.8,1618.7 L68.5,1629.2 L69.1,1624.7 L69.8,1620.3 L70.5,1616.5 L71.2,1614.6 L71.8,1609.0 L72.5,1602.7 L73.1,1595.7 L73.7,1587.7 L74.4,1586.8 L75.0,1588.5 L75.6,1589.0 L76.3,1587.6 L76.9,1587.1 L77.5,1588.8 L78.2,1592.0 L78.8,1594.1 L79.4,1594.8 L80.1,1597.4 L80.8,1592.2 L81.5,1590.8 L82.2,1589.0 L82.8,1588.9 L83.4,1589.7 L84.1,1589.7 L84.7,1593.2 L85.3,1596.2 L86.0,1594.0 L86.7,1591.9 L87.4,1588.5 L88.1,1593.6 L88.7,1597.5 L89.3,1600.5 L90.0,1603.0 L90.6,1607.4 L91.2,1607.4 L91.8,1606.5 L92.4,1605.8 L93.0,1602.1 L93.6,1600.8 L94.2,1599.0 L94.8,1599.1 L95.4,1604.5 L96.0,1608.4 L96.6,1613.1 L97.2,1618.5 L97.8,1622.8 L98.4,1629.2 L99.0,1633.1 L99.7,1628.4 L100.3,1624.1 L100.9,1622.9 L101.6,1619.8 L102.2,1617.5 L102.8,1617.4 L103.4,1617.5 L104.1,1615.9 L104.7,1617.7 L105.3,1618.9 L106.0,1622.3 L106.6,1624.7 L107.2,1628.0 L107.9,1630.6 L108.5,1634.3 L109.1,1632.9 L109.8,1632.1 L110.4,1631.4 L111.0,1630.4 L111.7,1631.5 L112.4,1626.2 L113.1,1619.4 L113.8,1613.4 L114.5,1608.3 L115.3,1602.4 L115.9,1605.5 L116.5,1609.8 L117.1,1613.9 L117.7,1619.3 L118.3,1624.8 L118.9,1627.7 L119.5,1629.9 L120.1,1633.0 L120.7,1632.5 L121.4,1631.6 L122.0,1633.2 L122.6,1631.5 L123.3,1629.7 L123.9,1624.0 L124.5,1618.3 L125.2,1613.3 L125.8,1606.9 L126.4,1602.1 L127.1,1604.9 L127.7,1609.8 L128.3,1614.4 L129.0,1617.2 L129.6,1619.6 L130.2,1618.8 L130.8,1619.9 L131.4,1622.1 L132.0,1623.2 L132.6,1623.9 L133.2,1623.2 L133.8,1625.4 L134.4,1626.4 L135.1,1626.6 L135.7,1627.1 L136.3,1627.6 L137.0,1629.1 L137.6,1631.9 L138.2,1636.2 L138.9,1637.8 L139.5,1637.1 L140.1,1638.2 L140.8,1640.3 L141.4,1643.7 L142.0,1646.9 L142.7,1648.6 L143.3,1651.7 L143.9,1646.3 L144.6,1642.1 L145.2,1639.2 L145.8,1632.8 L146.5,1627.0 L147.1,1623.9 L147.7,1619.8 L148.3,1616.8 L149.0,1612.2 L149.6,1605.9 L150.2,1609.6 L150.8,1613.9 L151.4,1619.4 L152.0,1623.7 L152.6,1628.9 L153.2,1632.8 L153.8,1638.4 L154.5,1633.5 L155.1,1628.2 L155.7,1623.5 L156.4,1618.4 L157.0,1614.2 L157.6,1616.8 L158.2,1618.9 L158.8,1619.4 L159.4,1618.3 L160.0,1619.4 L160.6,1620.6 L161.2,1621.9 L161.8,1623.2 L162.4,1624.5 L163.0,1625.5 L163.6,1628.2 L164.2,1630.7 L164.8,1630.9 L165.4,1632.0 L166.1,1623.8 L166.8,1617.2 L167.5,1610.7 L168.2,1604.6 L168.8,1608.7 L169.4,1612.0 L170.1,1616.2 L170.7,1622.1 L171.3,1627.6 L172.0,1631.7 L172.6,1635.0 L173.2,1640.3 L173.9,1646.2 L174.5,1637.8 L175.2,1630.3 L175.9,1621.6 L176.6,1613.4 L177.2,1609.0 L177.9,1604.2 L178.5,1598.1 L179.1,1592.9 L179.8,1595.4 L180.4,1600.6 L181.0,1605.4 L181.7,1607.9 L182.3,1611.2 L182.9,1613.2 L183.5,1614.6 L184.1,1615.5 L184.7,1616.5 L185.3,1616.2 L185.9,1617.3 L186.5,1617.7 L187.1,1617.0 L187.7,1619.2 L188.3,1619.5 L188.9,1617.9 L189.5,1616.5 L190.1,1616.8 L190.7,1616.1 L191.3,1616.3 L191.9,1618.0 L192.5,1617.3 L193.1,1618.2 L193.7,1621.0 L194.3,1621.5 L194.9,1622.5 L195.6,1613.3 L196.3,1603.9 L197.0,1597.4 L197.7,1591.2 L198.4,1598.7 L199.1,1606.4 L199.8,1613.4 L200.5,1621.9 L201.3,1628.7 L201.9,1633.6 L202.5,1636.1 L203.1,1641.2 L203.7,1647.3 L204.3,1653.3 L204.9,1656.3 L205.5,1660.3 L206.1,1658.3 L206.7,1658.5 L207.4,1659.2 L208.0,1658.3 L208.6,1658.5 L209.2,1652.7 L209.8,1647.9 L210.4,1645.1 L211.0,1638.8 L211.6,1633.3 L212.2,1627.8 L212.8,1622.6 L213.5,1629.1 L214.1,1636.3 L214.7,1642.0 L215.3,1646.9 L215.9,1650.1 L216.5,1656.5 L217.1,1662.1 L217.7,1660.5 L218.3,1659.1 L218.9,1656.1 L219.5,1654.4 L220.1,1653.5 L220.7,1652.2 L221.3,1648.4 L221.9,1647.9 L222.5,1647.6 L223.1,1649.0 L223.7,1651.5 L224.3,1652.4 L224.9,1652.6 L225.5,1652.0 L226.1,1655.3 L226.7,1658.1 L227.3,1661.7 L227.9,1664.6 L228.5,1665.5 L229.1,1669.0 L229.7,1673.5 L230.4,1670.4 L231.0,1664.7 L231.7,1659.2 L232.4,1654.9 L233.0,1650.9 L233.7,1648.8 L234.4,1645.2 L235.0,1647.7 L235.6,1649.0 L236.2,1651.1 L236.9,1652.1 L237.5,1655.1 L238.1,1656.3 L238.7,1655.7 L239.3,1658.7 L240.0,1661.0 L240.6,1661.1 L241.2,1662.7 L241.8,1661.0 L242.4,1661.2 L243.0,1661.8 L243.6,1661.7 L244.3,1659.9 L244.9,1658.9 L245.5,1657.4 L246.2,1660.6 L246.8,1664.3 L247.4,1667.9 L248.1,1671.4 L248.7,1672.9 L249.3,1678.2 L249.9,1676.0 L250.6,1672.4 L251.2,1668.7 L251.8,1664.3 L252.6,1659.4 L253.3,1655.4 L254.0,1653.9 L254.7,1649.0 L255.4,1644.6 L256.1,1646.1 L256.8,1649.9 L257.5,1652.0 L258.1,1655.2 L258.8,1656.8 L259.5,1658.9 L260.2,1662.0 L261.0,1663.8 L261.7,1663.0 L262.4,1662.2 L263.0,1659.3 L263.7,1658.4 L264.4,1654.4 L265.0,1650.9 L265.7,1646.5 L266.3,1643.9 L267.0,1642.1 L267.7,1637.2 L268.3,1637.4 L269.0,1641.4 L269.6,1644.4 L270.3,1648.0 L270.9,1648.3 L271.6,1650.6 L272.3,1650.4 L272.9,1654.6 L273.5,1652.0 L274.1,1649.4 L274.7,1646.9 L275.3,1645.2 L275.9,1642.3 L276.5,1640.3 L277.1,1638.4 L277.7,1634.3 L278.3,1630.7 L278.9,1628.7 L279.6,1627.6 L280.2,1626.9 L280.8,1624.8 L281.4,1621.5 L282.0,1624.6 L282.7,1626.9 L283.3,1630.9 L284.0,1633.2 L284.7,1635.9 L285.3,1638.4 L286.0,1643.0 L286.6,1646.4 L287.2,1642.4 L287.8,1635.8 L288.4,1629.3 L289.0,1625.5 L289.6,1623.0 L290.2,1617.4 L290.8,1613.7 L291.4,1611.8 L292.0,1611.2 L292.6,1611.9 L293.3,1611.0 L293.9,1610.7 L294.5,1610.0 L295.1,1610.2 L295.7,1609.9 L296.3,1612.1 L297.0,1611.9 L297.6,1610.4 L298.2,1608.6 L298.9,1603.8 L299.5,1599.8 L300.1,1596.3 L300.8,1591.4 L301.4,1587.4 L302.0,1591.3 L302.6,1596.7 L303.2,1601.9 L303.8,1608.0 L304.4,1612.3 L305.0,1616.9 L305.6,1622.2 L306.3,1626.3 L306.9,1629.3 L307.6,1631.0 L308.2,1631.9 L308.9,1635.4 L309.6,1638.9 L310.2,1643.7 L310.9,1646.1 L311.5,1642.4 L312.2,1639.8 L312.8,1639.4 L313.5,1635.3 L314.2,1631.9 L314.8,1628.3 L315.5,1627.7 L316.1,1627.0 L316.8,1632.3 L317.5,1635.4 L318.1,1639.5 L318.8,1643.4 L319.4,1649.7 L320.1,1654.8 L320.7,1659.9 L321.4,1663.7 L322.0,1661.0 L322.7,1659.1 L323.3,1655.6 L323.9,1651.9 L324.6,1647.7 L325.2,1645.4 L325.8,1643.6 L326.5,1641.6 L327.1,1638.2 L327.7,1632.8 L328.3,1635.9 L329.0,1641.4 L329.6,1644.3 L330.2,1649.4 L330.8,1652.6 L331.4,1655.2 L332.0,1661.4 L332.7,1666.1 L333.3,1669.2 L333.9,1671.9 L334.5,1674.9 L335.1,1677.7 L335.8,1677.9 L336.4,1676.8 L337.1,1674.9 L337.7,1671.6 L338.4,1669.1 L339.1,1667.0 L339.7,1665.9 L340.4,1662.9 L341.0,1665.4 L341.7,1668.0 L342.4,1671.6 L343.0,1674.9 L343.7,1677.0 L344.3,1678.0 L345.0,1682.4 L345.6,1686.1 L346.3,1691.6 L346.9,1695.6 L347.5,1699.0 L348.2,1702.4 L348.8,1706.0 L349.4,1706.3 L350.0,1704.1 L350.6,1701.3 L351.2,1699.7 L351.8,1699.3 L352.4,1697.6 L353.0,1697.3 L353.7,1696.4 L354.3,1696.1 L355.0,1698.1 L355.7,1701.8 L356.3,1703.1 L357.0,1705.2 L357.6,1706.4 L358.3,1706.9 L358.9,1707.8 L359.6,1708.6 L360.2,1708.8 L360.8,1708.9 L361.5,1709.9 L362.1,1712.0 L362.7,1712.3 L363.4,1712.2 L364.0,1711.5 L364.6,1712.5 L365.2,1713.3 L365.8,1716.0 L366.4,1716.3 L367.0,1717.0 L367.6,1718.0 L368.2,1720.1 L368.8,1721.8 L369.4,1721.8 L370.0,1720.2 L370.6,1719.9 L371.2,1720.2 L371.8,1721.8 L372.5,1722.4 L373.1,1724.0 L373.7,1718.8 L374.3,1716.9 L374.9,1714.5 L375.5,1711.1 L376.1,1710.1 L376.8,1708.2 L377.4,1705.7 L378.0,1706.2 L378.6,1707.8 L379.3,1709.0 L379.9,1710.6 L380.5,1709.3 L381.2,1709.8 L381.8,1709.9 L382.4,1711.5 L383.1,1711.7 L383.7,1708.4 L384.3,1703.8 L385.0,1698.4 L385.6,1694.8 L386.2,1689.5 L386.9,1683.1 L387.5,1685.1 L388.1,1685.9 L388.8,1686.6 L389.4,1687.1 L390.0,1687.5 L390.7,1686.4 L391.4,1686.9 L392.1,1688.3 L392.8,1690.8 L393.4,1691.6 L394.0,1693.3 L394.7,1693.2 L395.3,1697.0 L395.9,1691.6 L396.5,1684.0 L397.1,1679.5 L397.7,1673.8 L398.3,1669.6 L398.9,1663.2 L399.5,1656.9 L400.1,1653.3 L400.7,1651.6 L401.3,1649.4 L401.9,1648.2 L402.5,1647.0 L403.1,1644.2 L403.7,1640.7 L404.4,1639.1 L405.0,1639.6 L405.6,1637.3 L406.3,1636.7 L406.9,1633.3 L407.5,1632.2 L408.2,1634.1 L408.8,1634.2 L409.5,1633.7 L410.2,1633.3 L410.8,1632.5 L411.5,1633.4 L412.2,1634.3 L412.8,1635.8 L413.4,1636.0 L414.1,1635.7 L414.7,1637.2 L415.3,1637.0 L415.9,1640.7 L416.5,1641.9 L417.1,1645.0 L417.7,1648.4 L418.3,1651.8 L418.9,1654.4 L419.5,1658.0 L420.1,1651.0 L420.7,1647.2 L421.3,1643.7 L421.9,1640.8 L422.5,1638.1 L423.1,1634.2 L423.8,1628.4 L424.4,1629.9 L425.0,1630.2 L425.6,1630.8 L426.3,1629.8 L426.9,1629.1 L427.5,1631.5 L428.2,1634.8 L428.8,1638.7 L429.4,1638.7 L430.1,1638.4 L430.8,1642.1 L431.4,1646.0 L432.1,1648.6 L432.8,1650.7 L433.5,1644.6 L434.2,1639.2 L435.0,1634.8 L435.7,1628.0 L436.4,1621.2 L437.1,1616.9 L437.8,1614.8 L438.5,1613.0 L439.1,1608.7 L439.9,1611.5 L440.6,1615.5 L441.3,1621.2 L442.0,1626.3 L442.7,1630.8 L443.4,1632.6 L444.0,1636.2 L444.6,1641.3 L445.3,1642.5 L445.9,1644.9 L446.5,1641.0 L447.2,1638.7 L447.8,1636.0 L448.4,1634.7 L449.0,1631.9 L449.6,1629.8 L450.3,1627.7 L450.9,1627.5 L451.5,1626.5 L452.1,1625.3 L452.7,1621.7 L453.3,1620.1 L453.9,1623.9 L454.5,1627.3 L455.2,1628.7 L455.8,1629.7 L456.4,1628.9 L457.1,1634.7 L457.7,1642.2 L458.3,1648.6 L459.0,1654.1 L459.6,1651.6 L460.2,1647.7 L460.8,1645.7 L461.4,1644.4 L462.0,1643.2 L462.6,1641.0 L463.2,1639.3 L463.8,1637.7 L464.4,1639.1 L465.0,1640.2 L465.6,1639.0 L466.2,1638.0 L466.8,1636.6 L467.4,1639.0 L468.0,1639.4 L468.7,1643.9 L469.3,1645.4 L469.9,1646.6 L470.5,1648.9 L471.2,1652.1 L471.8,1656.7 L472.4,1659.9 L473.0,1662.0 L473.6,1666.3 L474.2,1672.5 L474.8,1677.5 L475.4,1680.6 L476.0,1675.6 L476.7,1672.2 L477.3,1668.2 L477.9,1666.8 L478.6,1664.5 L479.2,1661.9 L479.8,1664.0 L480.5,1667.9 L481.1,1670.8 L481.7,1673.2 L482.4,1676.4 L483.0,1681.3 L483.6,1685.7 L484.2,1690.6 L484.9,1695.1 L485.5,1696.8 L486.1,1697.3 L486.7,1697.6 L487.3,1699.2 L487.9,1702.4 L488.5,1704.7 L489.1,1704.4 L489.8,1702.3 L490.4,1702.0 L491.1,1701.4 L491.7,1700.0 L492.4,1696.2 L493.1,1695.3 L493.7,1694.7 L494.4,1694.4 L495.0,1695.3 L495.6,1697.1 L496.2,1695.6 L496.8,1697.3 L497.4,1697.7 L498.0,1699.3 L498.6,1701.4 L499.2,1702.1 L499.8,1705.6 L500.4,1707.5 L501.0,1709.7 L501.6,1711.5 L502.2,1712.7 L502.8,1714.3 L503.4,1712.9 L504.1,1710.5 L504.7,1709.7 L505.3,1706.6 L506.0,1704.7 L506.6,1703.2 L507.2,1704.2 L507.8,1705.4 L508.4,1706.7 L509.0,1707.9 L509.6,1708.6 L510.2,1709.9 L510.8,1711.4 L511.4,1711.2 L512.1,1708.6 L512.7,1707.1 L513.3,1708.8 L513.9,1708.8 L514.5,1707.5 L515.1,1707.8 L515.7,1705.4 L516.4,1704.0 L517.0,1703.2 L517.6,1702.4 L518.2,1696.8 L518.8,1691.6 L519.5,1686.5 L520.1,1683.6 L520.7,1678.1 L521.3,1673.9 L522.0,1665.2 L522.6,1658.2 L523.2,1653.3 L523.9,1648.6 L524.5,1642.0 L525.1,1634.4 L525.8,1627.7 L526.4,1620.6 L527.0,1615.4 L527.7,1617.2 L528.4,1619.9 L529.1,1623.4 L529.8,1625.5 L530.4,1640.3 L531.0,1654.5 L531.7,1666.2 L532.3,1675.9 L532.9,1683.7 L533.6,1692.9 L534.2,1704.1 L534.8,1711.4 L535.5,1720.3 L536.1,1727.5 L536.7,1734.0 L537.4,1741.4 L538.0,1749.5 L538.6,1754.8 L539.3,1748.2 L539.9,1744.7 L540.5,1739.9 L541.2,1734.7 L541.8,1727.6 L542.4,1725.7 L543.1,1723.6 L543.7,1721.8 L544.3,1721.0 L545.0,1716.9 L545.6,1713.1 L546.2,1709.9 L546.9,1707.8 L547.5,1704.2 L548.1,1698.3 L548.8,1690.9 L549.4,1685.3 L550.0,1680.9 L550.6,1677.2 L551.3,1669.8 L551.9,1663.1 L552.5,1655.2 L553.2,1648.8 L553.8,1642.7 L554.4,1635.8 L555.1,1643.2 L555.8,1651.6 L556.6,1661.0 L557.2,1669.2 L557.8,1673.9 L558.4,1679.5 L559.1,1686.6 L559.7,1693.1 L560.3,1698.1 L561.0,1702.5 L561.6,1706.6 L562.2,1708.8 L562.9,1713.7 L563.5,1719.5 L564.1,1725.5 L564.8,1729.1 L565.4,1733.8 L566.0,1739.8 L566.7,1746.0 L567.3,1751.0 L567.9,1753.7 L568.6,1756.0 L569.2,1760.1 L569.8,1755.3 L570.5,1750.4 L571.1,1744.5 L571.7,1737.6 L572.4,1730.2 L573.0,1717.9 L573.6,1708.4 L574.3,1695.7 L574.9,1684.2 L575.5,1672.2 L576.2,1673.0 L576.8,1672.3 L577.4,1671.7 L578.1,1669.5 L578.7,1667.1 L579.3,1664.3 L579.9,1660.7 L580.6,1657.0 L581.2,1652.8 L581.8,1649.1 L582.5,1655.8 L583.1,1663.7 L583.7,1673.1 L584.4,1680.2 L585.0,1688.0 L585.6,1692.3 L586.2,1700.3 L586.8,1708.2 L587.4,1714.3 L588.0,1719.2 L588.6,1722.2 L589.2,1728.5 L589.8,1733.7 L590.4,1739.2 L591.0,1745.3 L591.6,1748.5 L592.2,1753.5 L592.8,1757.4 L593.4,1763.3 L594.0,1762.6 L594.6,1761.8 L595.2,1762.8 L595.8,1764.5 L596.5,1764.9 L597.1,1767.3 L597.7,1767.3 L598.3,1760.8 L598.9,1756.2 L599.6,1752.1 L600.2,1748.9 L600.8,1744.9 L601.4,1740.3 L602.0,1735.5 L602.6,1730.3 L603.2,1725.7 L603.8,1721.2 L604.4,1715.9 L605.0,1709.2 L605.6,1702.2 L606.2,1695.9 L606.8,1690.7 L607.4,1682.5 L608.0,1672.8 L608.6,1664.4 L609.2,1657.6 L609.9,1662.0 L610.5,1665.8 L611.1,1667.7 L611.8,1671.0 L612.4,1676.0 L613.0,1672.4 L613.6,1668.2 L614.2,1663.2 L614.8,1659.3 L615.4,1654.0 L616.0,1651.8 L616.6,1648.8 L617.3,1655.1 L617.9,1660.9 L618.5,1666.2 L619.2,1670.8 L619.8,1677.0 L620.4,1686.1 L621.1,1692.5 L621.7,1699.9 L622.3,1710.5 L623.0,1718.7 L623.6,1724.3 L624.2,1727.1 L624.8,1731.5 L625.4,1735.3 L626.0,1740.6 L626.6,1746.4 L627.2,1752.6 L627.8,1755.0 L628.4,1757.8 L629.0,1759.2 L629.6,1763.8 L630.2,1766.3 L630.8,1769.0 L631.4,1770.8 L632.0,1769.7 L632.6,1769.5 L633.3,1769.1 L633.9,1764.7 L634.5,1762.0 L635.2,1760.1 L635.8,1759.4 L636.4,1757.2 L637.1,1755.5 L637.7,1754.6 L638.3,1749.9 L638.9,1744.9 L639.5,1740.3 L640.1,1737.7 L640.7,1731.5 L641.3,1727.8 L641.9,1723.5 L642.5,1720.8 L643.1,1715.8 L643.7,1712.0 L644.3,1704.9 L644.9,1699.8 L645.5,1696.5 L646.1,1693.0 L646.7,1692.7 L647.3,1692.8 L647.9,1692.9 L648.5,1693.5 L649.1,1694.1 L649.8,1694.0 L650.4,1693.8 L651.0,1700.0 L651.6,1706.6 L652.3,1712.5 L652.9,1721.2 L653.5,1727.9 L654.1,1730.7 L654.8,1736.6 L655.4,1740.7 L656.0,1748.1 L656.7,1754.0 L657.3,1757.5 L657.9,1760.1 L658.5,1764.3 L659.1,1769.0 L659.7,1772.5 L660.3,1775.7 L660.9,1777.8 L661.5,1781.2 L662.1,1785.2 L662.7,1788.7 L663.4,1789.6 L664.0,1788.9 L664.6,1789.6 L665.3,1790.4 L665.9,1792.2 L666.5,1793.7 L667.2,1795.6 L667.8,1796.2 L668.4,1798.5 L669.1,1797.4 L669.7,1794.3 L670.3,1791.3 L671.0,1787.6 L671.6,1784.2 L672.2,1782.5 L672.9,1778.5 L673.5,1775.5 L674.1,1770.3 L674.8,1764.8 L675.4,1760.7 L676.0,1758.8 L676.7,1755.1 L677.3,1752.3 L677.9,1747.2 L678.5,1745.4 L679.2,1742.4 L679.8,1737.4 L680.4,1731.9 L681.1,1725.3 L681.7,1726.8 L682.3,1726.8 L683.0,1728.3 L683.6,1727.4 L684.2,1724.5 L684.9,1730.4 L685.6,1736.2 L686.3,1739.4 L687.1,1743.4 L687.8,1748.2 L688.5,1752.3 L689.1,1751.6 L689.7,1746.8 L690.4,1743.1 L691.0,1737.1 L691.6,1734.7 L692.3,1739.3 L692.9,1741.3 L693.5,1743.7 L694.1,1745.9 L694.8,1748.0 L695.5,1744.0 L696.2,1740.3 L696.8,1735.4 L697.5,1732.4 L698.2,1738.2 L698.8,1745.6 L699.4,1750.3 L700.1,1756.0 L700.7,1752.3 L701.3,1751.9 L701.9,1752.1 L702.6,1751.7 L703.2,1752.0 L703.8,1753.7 L704.5,1756.6 L705.1,1760.6 L705.7,1762.3 L706.4,1766.4 L707.0,1768.8 L707.6,1772.3 L708.3,1778.5 L708.9,1783.1 L709.5,1788.9 L710.2,1788.6 L710.8,1788.6 L711.4,1791.0 L712.1,1792.9 L712.7,1794.7 L713.3,1796.4 L714.0,1795.5 L714.6,1798.1 L715.2,1798.6 L715.9,1800.2 L716.5,1798.6 L717.1,1795.4 L717.8,1794.4 L718.4,1793.8 L719.0,1793.2 L719.7,1793.5 L720.3,1792.9 L720.9,1793.4 L721.6,1793.7 L722.2,1795.0 L722.9,1789.5 L723.6,1781.2 L724.3,1775.2 L724.9,1777.3 L725.6,1777.0 L726.2,1776.6 L726.8,1776.3 L727.5,1775.7 L728.1,1772.5 L728.7,1769.1 L729.4,1765.7 L730.0,1760.2 L730.6,1753.8 L731.2,1748.6 L731.9,1743.0 L732.5,1736.6 L733.1,1731.8 L733.8,1724.1 L734.4,1725.9 L735.0,1728.1 L735.7,1730.7 L736.3,1731.3 L736.9,1731.0 L737.6,1727.9 L738.2,1726.7 L738.8,1725.3 L739.5,1724.6 L740.1,1721.5 L740.8,1717.4 L741.5,1715.5 L742.3,1712.4 L743.0,1709.8 L743.7,1705.9 L744.5,1720.8 L745.4,1738.2 L746.1,1745.6 L746.8,1754.7 L747.5,1763.7 L748.2,1758.2 L748.9,1752.7 L749.6,1747.7 L750.2,1750.0 L750.9,1755.6 L751.5,1761.5 L752.1,1764.6 L752.7,1768.7 L753.4,1772.9 L754.0,1777.2 L754.6,1783.1 L755.3,1788.7 L755.9,1791.2 L756.5,1791.2 L757.2,1791.4 L757.8,1792.7 L758.4,1796.7 L759.1,1798.3 L759.7,1795.9 L760.3,1792.3 L761.0,1792.6 L761.6,1791.1 L762.2,1788.6 L762.9,1786.3 L763.6,1787.5 L764.3,1790.7 L765.0,1794.6 L765.7,1797.4 L766.5,1798.0 L767.2,1794.1 L767.9,1791.9 L768.6,1789.3 L769.2,1791.7 L769.8,1793.1 L770.5,1794.3 L771.1,1797.6 L771.7,1799.9 L772.4,1794.1 L773.0,1786.3 L773.6,1779.4 L774.2,1775.3 L774.9,1771.6 L775.5,1767.2 L776.1,1764.1 L776.8,1757.8 L777.4,1754.8 L778.0,1752.0 L778.7,1749.3 L779.3,1745.1 L779.9,1740.2 L780.6,1735.5 L781.2,1733.4 L781.9,1723.4 L782.6,1713.0 L783.3,1704.1 L783.9,1695.0 L784.6,1703.4 L785.2,1711.2 L785.8,1718.3 L786.5,1723.0 L787.1,1730.0 L787.7,1736.9 L788.4,1744.4 L789.0,1750.0 L789.6,1756.8 L790.3,1742.0 L791.0,1728.0 L791.7,1713.5 L792.4,1716.6 L793.0,1717.4 L793.6,1722.1 L794.3,1725.1 L794.9,1729.5 L795.6,1726.3 L796.3,1723.4 L797.0,1718.3 L797.6,1721.2 L798.3,1724.2 L798.9,1726.7 L799.5,1730.3 L800.2,1733.4 L800.8,1738.6 L801.4,1743.4 L802.1,1745.3 L802.7,1748.6 L803.3,1751.0 L804.0,1754.9 L804.6,1758.8 L805.2,1762.1 L805.9,1762.5 L806.5,1765.9 L807.1,1765.3 L807.8,1765.0 L808.4,1762.3 L809.0,1760.8 L809.7,1759.2 L810.3,1763.5 L810.9,1770.4 L811.6,1774.8 L812.2,1777.4 L812.8,1780.0 L813.5,1782.8 L814.1,1786.7 L814.7,1791.2 L815.4,1795.2 L816.0,1799.7 L816.6,1799.2 L817.3,1800.7 L817.9,1802.2 L818.5,1801.7 L819.1,1801.9 L819.8,1803.2 L820.4,1806.9 L821.0,1809.3 L821.7,1811.3 L822.3,1813.1 L822.9,1812.1 L823.6,1813.9 L824.2,1815.5 L824.8,1816.3 L825.5,1818.1 L826.1,1815.6 L826.7,1814.4 L827.4,1812.2 L828.0,1810.9 L828.6,1807.5 L829.3,1804.0 L829.9,1803.6 L830.5,1801.7 L831.2,1802.8 L831.8,1799.8 L832.4,1795.6 L833.0,1792.3 L833.6,1790.7 L834.2,1789.1 L834.8,1784.8 L835.4,1782.8 L836.0,1779.7 L836.6,1782.4 L837.3,1783.8 L837.9,1786.3 L838.5,1786.7 L839.2,1788.0 L839.8,1781.6 L840.4,1779.1 L841.1,1774.1 L841.7,1769.0 L842.3,1763.9 L843.0,1761.4 L843.6,1759.5 L844.2,1759.8 L844.9,1757.5 L845.5,1757.1 L846.1,1752.1 L846.8,1748.5 L847.4,1744.6 L848.0,1739.3 L848.7,1733.4 L849.3,1735.0 L849.9,1739.1 L850.6,1741.9 L851.2,1747.5 L851.8,1748.5 L852.4,1744.7 L853.0,1741.0 L853.6,1739.3 L854.2,1735.5 L854.8,1731.7 L855.4,1728.7 L856.0,1723.9 L856.7,1732.5 L857.3,1741.0 L857.9,1748.7 L858.6,1754.6 L859.2,1760.1 L859.8,1753.6 L860.4,1748.8 L861.0,1743.7 L861.6,1739.2 L862.2,1732.3 L862.8,1726.2 L863.4,1719.4 L864.1,1721.4 L864.8,1722.6 L865.5,1722.3 L866.2,1727.0 L866.8,1734.5 L867.4,1742.0 L868.1,1745.9 L868.7,1749.8 L869.3,1752.7 L869.9,1757.6 L870.6,1762.8 L871.2,1765.8 L871.8,1769.2 L872.5,1771.5 L873.1,1774.4 L873.7,1777.9 L874.4,1779.5 L875.0,1781.3 L875.6,1783.6 L876.3,1789.1 L876.9,1793.5 L877.5,1796.6 L878.2,1801.0 L878.8,1799.1 L879.4,1800.2 L880.1,1803.2 L880.7,1805.0 L881.3,1806.3 L882.0,1805.6 L882.6,1805.5 L883.2,1807.4 L883.9,1807.3 L884.5,1807.3 L885.1,1806.0 L885.8,1804.3 L886.4,1805.5 L887.0,1807.4 L887.7,1807.4 L888.3,1804.0 L888.9,1801.0 L889.5,1798.1 L890.1,1795.9 L890.7,1795.3 L891.3,1792.7 L891.9,1790.8 L892.5,1794.2 L893.1,1797.0 L893.8,1800.9 L894.4,1803.6 L895.0,1804.5 L895.7,1797.8 L896.3,1794.1 L896.9,1790.5 L897.6,1785.5 L898.2,1779.1 L898.8,1775.8 L899.5,1772.7 L900.1,1770.6 L900.7,1768.0 L901.4,1764.8 L902.0,1762.0 L902.6,1758.5 L903.3,1757.3 L903.9,1755.5 L904.5,1751.5 L905.2,1752.7 L905.8,1754.5 L906.4,1758.8 L907.0,1763.2 L907.7,1766.8 L908.3,1762.6 L908.9,1759.4 L909.5,1756.9 L910.1,1752.9 L910.7,1750.8 L911.3,1747.4 L911.9,1743.1 L912.5,1749.8 L913.2,1758.0 L913.8,1762.6 L914.4,1768.7 L915.1,1772.2 L915.7,1767.8 L916.4,1763.9 L917.0,1759.2 L917.7,1753.4 L918.4,1748.5 L919.0,1743.0 L919.7,1738.6 L920.4,1744.2 L921.1,1749.5 L921.8,1754.9 L922.4,1760.6 L923.1,1765.6 L923.7,1771.3 L924.3,1772.8 L925.0,1776.0 L925.6,1778.5 L926.2,1781.2 L926.9,1782.3 L927.5,1785.6 L928.1,1785.1 L928.8,1785.4 L929.4,1788.4 L930.0,1791.2 L930.7,1792.0 L931.3,1793.8 L931.9,1795.5 L932.5,1798.1 L933.1,1800.1 L933.7,1801.8 L934.3,1802.1 L934.9,1803.0 L935.5,1803.9 L936.1,1804.8 L936.7,1806.3 L937.3,1808.9 L937.9,1808.8 L938.5,1809.4 L939.1,1811.0 L939.8,1814.1 L940.4,1815.2 L941.0,1813.8 L941.6,1812.4 L942.2,1812.7 L942.8,1813.4 L943.4,1816.2 L944.0,1814.9 L944.6,1814.4 L945.2,1812.9 L945.9,1812.2 L946.5,1811.5 L947.2,1810.5 L947.9,1809.7 L948.5,1808.0 L949.2,1809.5 L949.8,1808.5 L950.4,1810.5 L951.0,1809.5 L951.6,1810.2 L952.2,1811.9 L952.9,1815.2 L953.5,1817.3 L954.1,1818.2 L954.7,1818.2 L955.4,1816.4 L956.0,1816.5 L956.7,1816.8 L957.3,1816.6 L958.0,1815.7 L958.7,1816.2 L959.3,1817.2 L959.9,1815.9 L960.5,1815.0 L961.1,1812.2 L961.7,1808.7 L962.3,1809.7 L962.9,1810.0 L963.5,1809.3 L964.1,1807.9 L964.7,1808.7 L965.3,1808.3 L966.0,1807.8 L966.6,1808.3 L967.2,1810.1 L967.8,1809.1 L968.4,1805.5 L969.0,1803.4 L969.7,1801.6 L970.3,1798.5 L970.9,1795.1 L971.6,1790.6 L972.2,1788.0 L972.8,1788.3 L973.4,1786.3 L974.1,1782.2 L974.7,1780.8 L975.3,1778.1 L976.0,1776.8 L976.6,1774.5 L977.2,1772.0 L977.9,1767.7 L978.5,1765.0 L979.1,1761.7 L979.8,1760.2 L980.4,1755.8 L981.0,1759.4 L981.7,1762.6 L982.3,1768.8 L982.9,1773.9 L983.6,1778.2 L984.2,1779.4 L984.8,1780.5 L985.5,1783.3 L986.1,1784.6 L986.7,1786.7 L987.4,1777.3 L988.0,1769.9 L988.6,1763.2 L989.3,1757.2 L989.9,1750.8 L990.5,1749.9 L991.2,1751.8 L991.8,1752.4 L992.4,1755.0 L993.1,1757.7 L993.8,1756.1 L994.5,1752.9 L995.3,1751.8 L996.0,1747.2 L996.7,1738.6 L997.4,1731.9 L998.1,1735.2 L998.7,1738.9 L999.4,1745.3 L1000.1,1749.1 L1000.8,1744.0 L1001.5,1737.7 L1002.2,1735.3 L1002.9,1739.8 L1003.5,1744.4 L1004.1,1749.5 L1004.8,1752.6 L1005.4,1763.8 L1006.0,1773.1 L1006.7,1780.8 L1007.3,1789.4 L1007.9,1783.9 L1008.5,1781.1 L1009.2,1778.9 L1009.8,1776.1 L1010.4,1770.3 L1011.1,1765.8 L1011.7,1770.3 L1012.3,1775.7 L1013.0,1781.2 L1013.6,1784.3 L1014.2,1789.6 L1014.9,1790.1 L1015.5,1792.3 L1016.1,1793.0 L1016.8,1793.3 L1017.4,1793.6 L1018.0,1790.8 L1018.6,1790.3 L1019.2,1788.9 L1019.8,1787.4 L1020.4,1784.9 L1021.0,1782.9 L1021.6,1781.1 L1022.3,1786.5 L1022.9,1789.7 L1023.5,1795.0 L1024.1,1799.5 L1024.8,1804.2 L1025.4,1804.7 L1026.0,1806.1 L1026.6,1805.0 L1027.2,1804.2 L1027.8,1805.2 L1028.4,1805.5 L1029.0,1807.1 L1029.6,1810.1 L1030.2,1812.1 L1030.8,1812.9 L1031.4,1815.0 L1032.0,1817.5 L1032.6,1819.9 L1033.2,1821.1 L1033.8,1819.2 L1034.5,1817.2 L1035.1,1818.2 L1035.7,1817.6 L1036.4,1816.6 L1037.0,1811.3 L1037.6,1807.9 L1038.3,1805.4 L1038.9,1805.5 L1039.5,1803.8 L1040.2,1805.0 L1040.8,1806.0 L1041.4,1809.3 L1042.1,1811.9 L1042.7,1813.4 L1043.3,1808.5 L1044.0,1804.7 L1044.6,1802.4 L1045.2,1800.5 L1045.9,1801.6 L1046.5,1801.3 L1047.1,1800.5 L1047.8,1798.1 L1048.4,1799.7 L1049.0,1799.5 L1049.6,1797.7 L1050.2,1796.5 L1050.8,1793.8 L1051.4,1792.9 L1052.0,1790.4 L1052.6,1787.2 L1053.2,1784.6 L1053.9,1788.3 L1054.5,1793.7 L1055.1,1799.5 L1055.8,1803.7 L1056.4,1807.3 L1057.0,1809.6 L1057.7,1805.8 L1058.5,1801.4 L1059.2,1797.6 L1059.9,1792.7 L1060.6,1788.2 L1061.2,1786.9 L1061.9,1783.2 L1062.5,1781.3 L1063.1,1774.9 L1063.8,1772.0 L1064.4,1773.8 L1065.0,1778.0 L1065.7,1783.4 L1066.3,1785.0 L1066.9,1787.9 L1067.6,1782.8 L1068.2,1779.5 L1068.8,1778.1 L1069.5,1774.4 L1070.1,1770.7 L1070.8,1764.1 L1071.5,1757.4 L1072.2,1752.5 L1072.8,1745.1 L1073.5,1751.8 L1074.1,1761.0 L1074.7,1769.4 L1075.4,1780.9 L1076.0,1782.3 L1076.6,1781.8 L1077.3,1782.8 L1077.9,1785.9 L1078.5,1788.4 L1079.2,1779.7 L1079.8,1772.4 L1080.4,1766.0 L1081.1,1758.8 L1081.7,1754.4 L1082.3,1746.7 L1083.1,1749.0 L1083.8,1753.1 L1084.5,1758.9 L1085.3,1764.8 L1085.9,1769.8 L1086.5,1772.3 L1087.2,1777.3 L1087.8,1780.9 L1088.4,1786.1 L1089.1,1789.9 L1089.7,1783.8 L1090.3,1778.6 L1090.9,1775.4 L1091.5,1772.3 L1092.1,1767.7 L1092.7,1761.6 L1093.3,1754.7 L1093.9,1756.0 L1094.5,1760.9 L1095.1,1763.8 L1095.7,1766.9 L1096.3,1767.9 L1096.9,1770.4 L1097.5,1773.8 L1098.1,1771.2 L1098.8,1767.8 L1099.4,1763.4 L1100.0,1760.0 L1100.7,1758.6 L1101.3,1756.3 L1102.0,1760.4 L1102.7,1761.7 L1103.4,1763.3 L1104.2,1765.6 L1104.9,1768.1 L1105.5,1771.8 L1106.1,1775.7 L1106.8,1779.5 L1107.4,1784.1 L1108.0,1789.0 L1108.7,1785.0 L1109.3,1778.2 L1109.9,1774.8 L1110.6,1771.2 L1111.2,1778.7 L1111.8,1784.9 L1112.5,1789.7 L1113.1,1795.3 L1113.7,1800.3 L1114.4,1806.3 L1115.0,1804.4 L1115.6,1800.3 L1116.2,1796.3 L1116.8,1794.2 L1117.4,1792.3 L1118.0,1788.9 L1118.6,1786.9 L1119.2,1790.5 L1119.8,1792.5 L1120.4,1797.8 L1121.0,1803.7 L1121.6,1809.1 L1122.2,1813.2 L1122.8,1816.8 L1123.5,1814.5 L1124.1,1812.4 L1124.8,1809.9 L1125.4,1806.7 L1126.1,1805.2 L1126.8,1802.8 L1127.4,1800.4 L1128.1,1799.6 L1128.7,1802.8 L1129.3,1804.3 L1129.9,1805.6 L1130.5,1808.8 L1131.1,1813.4 L1131.7,1816.6 L1132.3,1819.5 L1132.9,1816.1 L1133.6,1814.3 L1134.3,1811.7 L1134.9,1810.0 L1135.6,1806.7 L1136.2,1804.0 L1136.9,1801.4 L1137.6,1800.1 L1138.2,1804.8 L1138.8,1804.9 L1139.4,1805.0 L1140.0,1807.3 L1140.6,1810.3 L1141.2,1812.4 L1141.8,1816.1 L1142.4,1812.8 L1143.0,1810.2 L1143.7,1806.8 L1144.3,1805.0 L1144.9,1804.6 L1145.6,1801.2 L1146.2,1797.5 L1146.8,1795.8 L1147.5,1794.3 L1148.1,1793.9 L1148.7,1795.5 L1149.3,1798.1 L1149.9,1799.9 L1150.5,1803.5 L1151.1,1807.8 L1151.7,1810.0 L1152.3,1812.2 L1153.0,1807.0 L1153.6,1802.2 L1154.3,1797.6 L1154.9,1792.3 L1155.6,1787.1 L1156.3,1782.1 L1156.9,1777.2 L1157.6,1774.7 L1158.2,1777.9 L1158.8,1778.0 L1159.4,1780.4 L1160.0,1782.2 L1160.6,1784.9 L1161.2,1790.2 L1161.8,1791.6 L1162.4,1789.3 L1163.1,1786.7 L1163.7,1785.4 L1164.3,1782.9 L1165.0,1779.3 L1165.6,1775.6 L1166.2,1771.8 L1166.9,1771.7 L1167.5,1770.8 L1168.1,1767.4 L1168.8,1769.3 L1169.4,1771.6 L1170.1,1774.7 L1170.8,1779.7 L1171.4,1783.3 L1172.1,1785.9 L1172.7,1787.2 L1173.4,1792.5 L1174.0,1790.0 L1174.7,1786.7 L1175.3,1782.9 L1175.9,1776.7 L1176.6,1773.9 L1177.2,1773.4 L1177.9,1770.8 L1178.6,1765.5 L1179.3,1759.3 L1180.1,1755.5 L1180.8,1752.2 L1181.4,1756.5 L1182.0,1761.9 L1182.7,1767.0 L1183.3,1772.9 L1183.9,1780.2 L1184.5,1777.1 L1185.1,1773.5 L1185.7,1769.4 L1186.3,1767.7 L1186.9,1764.8 L1187.5,1765.0 L1188.1,1761.7 L1188.8,1766.3 L1189.4,1773.0 L1190.0,1777.4 L1190.7,1785.0 L1191.3,1790.4 L1191.9,1792.8 L1192.5,1794.0 L1193.1,1798.3 L1193.7,1801.9 L1194.3,1807.1 L1194.9,1809.0 L1195.5,1810.1 L1196.2,1804.4 L1196.8,1800.4 L1197.4,1798.0 L1198.1,1793.0 L1198.7,1788.1 L1199.3,1781.9 L1199.9,1777.7 L1200.6,1773.1 L1201.2,1769.5 L1201.8,1763.6 L1202.4,1767.2 L1203.1,1774.3 L1203.7,1779.3 L1204.3,1785.0 L1204.9,1788.5 L1205.5,1792.1 L1206.1,1797.3 L1206.7,1793.9 L1207.3,1791.6 L1208.0,1789.6 L1208.6,1785.7 L1209.2,1783.4 L1209.9,1779.2 L1210.5,1778.4 L1211.1,1773.1 L1211.8,1770.6 L1212.4,1773.5 L1213.0,1777.3 L1213.6,1783.3 L1214.2,1787.6 L1214.8,1790.8 L1215.4,1793.3 L1216.0,1796.8 L1216.6,1802.5 L1217.3,1801.7 L1217.9,1800.1 L1218.6,1796.2 L1219.2,1794.8 L1219.9,1795.0 L1220.6,1792.0 L1221.2,1790.9 L1221.9,1787.0 L1222.5,1790.6 L1223.1,1792.3 L1223.7,1797.9 L1224.3,1800.0 L1224.9,1801.3 L1225.5,1802.4 L1226.1,1806.2 L1226.7,1805.2 L1227.4,1804.0 L1228.1,1803.2 L1228.7,1802.6 L1229.4,1800.7 L1230.0,1801.3 L1230.7,1799.4 L1231.4,1797.2 L1232.0,1800.0 L1232.7,1803.0 L1233.3,1806.4 L1234.0,1810.2 L1234.7,1812.7 L1235.3,1815.4 L1236.0,1817.6 L1236.6,1820.6 L1237.3,1816.7 L1237.9,1813.0 L1238.6,1808.7 L1239.3,1805.4 L1239.9,1802.0 L1240.6,1797.4 L1241.2,1791.9 L1241.9,1787.7 L1242.5,1789.8 L1243.2,1794.5 L1243.8,1797.2 L1244.4,1801.6 L1245.1,1802.6 L1245.7,1805.9 L1246.3,1809.1 L1247.0,1811.6 L1247.6,1813.1 L1248.2,1817.0 L1248.9,1813.4 L1249.5,1812.6 L1250.1,1809.8 L1250.8,1806.6 L1251.4,1803.7 L1252.0,1798.9 L1252.6,1796.0 L1253.3,1794.9 L1253.9,1793.5 L1254.5,1789.2 L1255.2,1792.7 L1255.8,1795.6 L1256.4,1799.4 L1257.1,1801.9 L1257.7,1805.4 L1258.3,1808.0 L1259.0,1811.7 L1259.6,1815.2 L1260.2,1820.1 L1260.9,1822.0 L1261.5,1817.4 L1262.1,1811.4 L1262.8,1809.8 L1263.4,1807.2 L1264.0,1802.9 L1264.7,1798.7 L1265.3,1794.6 L1265.9,1791.1 L1266.6,1786.8 L1267.2,1784.5 L1267.8,1784.9 L1268.5,1787.2 L1269.1,1790.8 L1269.7,1795.5 L1270.4,1800.3 L1271.0,1800.8 L1271.6,1802.4 L1272.3,1806.1 L1272.9,1808.8 L1273.5,1812.2 L1274.1,1810.2 L1274.7,1806.5 L1275.4,1803.2 L1276.0,1801.1 L1276.6,1797.1 L1277.2,1794.9 L1277.8,1790.2 L1278.4,1785.1 L1279.0,1782.9 L1279.7,1782.0 L1280.3,1779.6 L1280.9,1775.2 L1281.6,1776.6 L1282.2,1779.8 L1282.9,1782.9 L1283.5,1787.4 L1284.2,1790.7 L1284.8,1791.9 L1285.5,1796.3 L1286.2,1800.6 L1286.8,1796.0 L1287.5,1792.7 L1288.1,1788.2 L1288.8,1783.9 L1289.5,1782.1 L1290.1,1780.6 L1290.8,1776.1 L1291.4,1771.2 L1292.0,1775.7 L1292.7,1779.6 L1293.3,1782.9 L1293.9,1786.2 L1294.5,1789.6 L1295.1,1793.8 L1295.7,1799.6 L1296.4,1803.9 L1297.0,1807.4 L1297.6,1809.6 L1298.2,1812.4 L1298.8,1815.0 L1299.4,1813.4 L1300.1,1811.3 L1300.7,1807.0 L1301.3,1800.8 L1302.0,1796.9 L1302.6,1793.9 L1303.2,1789.7 L1303.9,1785.6 L1304.5,1780.1 L1305.1,1777.3 L1305.8,1781.1 L1306.4,1783.2 L1307.0,1785.1 L1307.7,1787.5 L1308.3,1788.6 L1308.9,1792.0 L1309.6,1795.0 L1310.2,1798.1 L1310.8,1800.1 L1311.5,1801.8 L1312.1,1797.7 L1312.7,1796.8 L1313.4,1793.4 L1314.0,1790.7 L1314.6,1786.9 L1315.3,1785.7 L1315.9,1785.4 L1316.5,1782.8 L1317.2,1778.5 L1317.8,1775.0 L1318.4,1776.5 L1319.0,1780.4 L1319.7,1782.2 L1320.3,1784.5 L1320.9,1786.7 L1321.5,1787.5 L1322.1,1791.0 L1322.8,1794.2 L1323.4,1794.9 L1324.0,1795.4 L1324.6,1797.4 L1325.3,1800.6 L1325.9,1803.4 L1326.5,1805.9 L1327.3,1799.0 L1328.1,1792.4 L1328.8,1787.5 L1329.6,1782.7 L1330.4,1776.9 L1331.2,1770.6 L1331.9,1776.1 L1332.7,1781.3 L1333.5,1783.9 L1334.3,1788.0 L1335.0,1794.2 L1335.8,1800.8 L1336.6,1797.4 L1337.4,1790.5 L1338.1,1784.7 L1338.8,1779.8 L1339.5,1774.6 L1340.2,1768.5 L1340.9,1762.3 L1341.7,1762.0 L1342.5,1762.6 L1343.3,1760.7 L1344.0,1767.2 L1344.8,1773.6 L1345.6,1783.8 L1346.4,1790.5 L1347.1,1792.9 L1347.9,1797.1 L1348.5,1796.6 L1349.1,1796.1 L1349.8,1796.9 L1350.4,1794.3 L1351.0,1794.5 L1351.6,1793.4 L1352.4,1791.0 L1353.2,1788.6 L1354.0,1782.5 L1354.7,1773.9 L1355.3,1768.4 L1356.0,1762.4 L1356.7,1755.3 L1357.4,1764.7 L1358.1,1776.3 L1358.8,1779.4 L1359.5,1780.1 L1360.2,1779.4 L1360.9,1780.6 L1361.6,1783.8 L1362.2,1787.8 L1362.8,1790.0 L1363.5,1784.6 L1364.2,1778.8 L1364.9,1774.0 L1365.6,1771.5 L1366.4,1763.4 L1367.1,1754.0 L1367.9,1744.4 L1368.6,1758.5 L1369.3,1771.5 L1369.9,1773.2 L1370.5,1773.1 L1371.2,1777.2 L1371.9,1782.3 L1372.6,1790.0 L1373.3,1794.0 L1374.0,1797.6 L1374.7,1794.1 L1375.3,1790.2 L1376.0,1786.6 L1376.7,1782.7 L1377.5,1777.2 L1378.3,1771.9 L1379.1,1766.4 L1379.8,1768.0 L1380.6,1769.5 L1381.4,1773.6 L1382.1,1779.0 L1382.8,1784.0 L1383.5,1787.5 L1384.2,1790.7 L1385.0,1794.5 L1385.7,1799.8 L1386.5,1803.2 L1387.3,1805.8 L1388.1,1810.0 L1388.8,1813.8 L1389.6,1814.0 L1390.4,1813.2 L1391.2,1815.5 L1391.8,1808.7 L1392.4,1800.2 L1393.0,1793.0 L1393.6,1787.4 L1394.3,1784.7 L1394.9,1782.0 L1395.5,1780.8 L1396.1,1777.1 L1396.7,1774.9 L1397.4,1779.4 L1398.0,1782.0 L1398.7,1786.2 L1399.3,1790.1 L1400.0,1792.0 L1400.8,1787.1 L1401.6,1783.1 L1402.3,1778.7 L1403.0,1774.8 L1403.7,1768.5 L1404.4,1764.1 L1405.1,1760.8 L1405.9,1756.9 L1406.7,1752.7 L1407.4,1750.1 L1408.2,1760.6 L1409.0,1771.6 L1409.8,1778.9 L1410.4,1782.0 L1411.1,1786.1 L1411.7,1792.6 L1412.4,1797.9 L1413.0,1802.1 L1413.7,1799.2 L1414.3,1797.7 L1415.0,1796.3 L1415.6,1793.3 L1416.3,1790.5 L1416.9,1786.6 L1417.6,1784.2 L1418.2,1780.3 L1418.9,1777.0 L1419.5,1772.4 L1420.2,1770.1 L1420.9,1771.0 L1421.6,1774.2 L1422.3,1775.1 L1423.1,1779.4 L1423.9,1783.6 L1424.7,1791.3 L1425.4,1795.3 L1426.2,1798.8 L1427.0,1803.1 L1427.6,1803.7 L1428.3,1803.7 L1428.9,1802.9 L1429.6,1801.4 L1430.2,1800.1 L1431.0,1794.6 L1431.8,1789.4 L1432.6,1783.7 L1433.3,1778.3 L1434.1,1772.8 L1434.9,1767.4 L1435.6,1771.4 L1436.3,1772.7 L1437.0,1774.6 L1437.7,1779.9 L1438.4,1785.9 L1439.2,1787.9 L1440.0,1790.7 L1440.6,1790.3 L1441.2,1792.9 L1441.9,1795.9 L1442.5,1796.6 L1443.1,1797.5 L1443.7,1797.9 L1444.4,1796.2 L1445.1,1793.5 L1445.8,1788.8 L1446.5,1785.3 L1447.3,1779.2 L1448.1,1775.5 L1448.8,1768.5 L1449.5,1762.4 L1450.1,1756.1 L1450.7,1751.5 L1451.4,1761.0 L1452.1,1767.3" fill="none" stroke="#000" stroke-width="2.4" stroke-linejoin="round"/>
<path d="M48.9,1539.5 L49.5,1547.2 L50.2,1555.9 L50.9,1562.2 L51.6,1571.3 L52.3,1578.5 L53.0,1581.5 L53.7,1585.1 L54.3,1584.7 L55.0,1585.9 L55.6,1588.5 L56.2,1590.1 L56.9,1592.5 L57.5,1592.0 L58.1,1593.8 L58.8,1595.5 L59.4,1597.8 L60.0,1599.1 L60.7,1600.5 L61.3,1600.9 L61.9,1603.0 L62.6,1605.7 L63.2,1608.1 L63.8,1607.7 L64.5,1610.7 L65.1,1613.5 L65.7,1618.1 L66.3,1621.0 L67.0,1623.4 L67.6,1624.7 L68.2,1627.4 L68.9,1630.5 L69.5,1631.8 L70.1,1635.1 L70.8,1639.4 L71.4,1647.0 L72.0,1652.9 L72.7,1651.1 L73.4,1649.7 L74.1,1645.3 L74.8,1643.2 L75.4,1641.6 L76.0,1638.5 L76.6,1635.9 L77.2,1633.8 L77.8,1629.8 L78.4,1629.1 L79.0,1625.6 L79.6,1623.5 L80.3,1625.9 L80.9,1629.5 L81.5,1633.9 L82.2,1638.5 L82.8,1637.1 L83.4,1634.9 L84.1,1633.2 L84.7,1631.6 L85.3,1630.1 L86.0,1629.3 L86.6,1625.2 L87.2,1622.3 L87.8,1618.7 L88.5,1616.8 L89.1,1623.0 L89.7,1628.9 L90.4,1633.7 L91.0,1640.0 L91.6,1647.5 L92.2,1648.2 L92.8,1647.1 L93.5,1643.3 L94.1,1641.3 L94.7,1639.3 L95.3,1639.3 L95.9,1638.6 L96.5,1637.9 L97.1,1639.8 L97.8,1640.7 L98.4,1642.5 L99.0,1645.8 L99.6,1648.5 L100.2,1651.2 L100.8,1655.7 L101.4,1660.6 L102.0,1666.8 L102.6,1672.0 L103.2,1675.9 L103.8,1672.4 L104.4,1668.6 L105.0,1665.7 L105.6,1662.8 L106.2,1659.3 L106.9,1656.5 L107.5,1653.4 L108.1,1658.7 L108.7,1662.5 L109.3,1666.0 L109.9,1668.5 L110.5,1668.7 L111.1,1672.0 L111.7,1676.6 L112.3,1677.7 L112.9,1677.6 L113.6,1676.8 L114.2,1675.4 L114.8,1676.6 L115.5,1672.0 L116.1,1670.0 L116.7,1664.9 L117.4,1663.4 L118.0,1660.1 L118.6,1666.5 L119.3,1669.2 L119.9,1671.6 L120.5,1673.0 L121.2,1675.9 L121.8,1680.7 L122.4,1682.3 L123.1,1683.3 L123.7,1686.0 L124.3,1688.2 L124.9,1686.6 L125.5,1683.8 L126.1,1680.6 L126.7,1678.5 L127.3,1676.3 L127.9,1674.9 L128.5,1674.6 L129.1,1674.6 L129.7,1672.8 L130.3,1670.5 L130.9,1669.7 L131.5,1669.8 L132.1,1669.6 L132.7,1668.7 L133.4,1673.0 L134.0,1676.7 L134.6,1682.9 L135.3,1687.3 L135.9,1690.4 L136.5,1684.7 L137.1,1681.8 L137.7,1679.7 L138.3,1677.2 L138.9,1676.1 L139.5,1671.5 L140.1,1666.5 L140.8,1669.5 L141.4,1672.1 L142.0,1675.6 L142.7,1678.8 L143.3,1681.8 L143.9,1686.2 L144.6,1690.1 L145.2,1695.8 L145.8,1699.7 L146.5,1702.1 L147.1,1699.6 L147.7,1698.4 L148.3,1695.7 L149.0,1693.6 L149.6,1690.6 L150.2,1687.6 L150.9,1683.5 L151.5,1682.3 L152.1,1679.2 L152.8,1675.0 L153.4,1678.0 L154.0,1682.4 L154.7,1686.1 L155.3,1688.1 L155.9,1690.8 L156.6,1686.3 L157.3,1684.9 L157.9,1685.7 L158.6,1684.6 L159.2,1681.4 L159.9,1678.6 L160.5,1677.1 L161.2,1676.2 L161.8,1678.1 L162.5,1680.1 L163.1,1681.2 L163.7,1684.1 L164.4,1687.1 L165.0,1688.2 L165.6,1688.5 L166.2,1688.0 L166.8,1688.1 L167.4,1690.2 L168.0,1691.2 L168.6,1692.4 L169.2,1690.9 L169.8,1686.9 L170.4,1684.7 L171.0,1682.2 L171.6,1681.4 L172.2,1677.2 L172.8,1673.9 L173.4,1675.9 L174.0,1677.4 L174.6,1679.1 L175.2,1681.3 L175.8,1680.1 L176.4,1679.5 L177.0,1681.4 L177.6,1678.6 L178.3,1676.1 L178.9,1671.7 L179.5,1668.9 L180.2,1665.0 L180.8,1666.6 L181.4,1666.6 L182.0,1667.4 L182.6,1666.9 L183.2,1666.3 L183.8,1668.4 L184.4,1670.7 L185.1,1678.0 L185.8,1682.9 L186.5,1687.6 L187.2,1682.2 L187.8,1679.9 L188.5,1676.2 L189.1,1670.4 L189.8,1666.7 L190.5,1663.9 L191.1,1660.4 L191.8,1655.7 L192.4,1654.3 L193.0,1656.0 L193.6,1658.7 L194.2,1661.2 L194.8,1663.0 L195.4,1663.6 L196.0,1665.6 L196.6,1667.2 L197.3,1669.7 L197.9,1672.4 L198.5,1675.8 L199.1,1677.8 L199.8,1675.5 L200.4,1674.0 L201.0,1672.1 L201.7,1669.4 L202.3,1666.0 L202.9,1668.7 L203.5,1673.2 L204.1,1677.4 L204.7,1683.2 L205.3,1685.8 L205.9,1688.0 L206.5,1691.2 L207.1,1695.0 L207.7,1698.9 L208.3,1702.8 L208.9,1704.2 L209.5,1707.6 L210.1,1711.9 L210.7,1716.0 L211.4,1714.6 L212.1,1709.3 L212.7,1705.2 L213.4,1703.8 L214.0,1702.9 L214.7,1701.5 L215.4,1697.9 L216.0,1693.9 L216.6,1697.8 L217.2,1701.0 L217.8,1703.7 L218.4,1706.4 L219.0,1709.4 L219.6,1712.7 L220.2,1716.7 L220.9,1715.2 L221.5,1714.2 L222.1,1711.9 L222.8,1709.2 L223.4,1709.6 L224.0,1708.4 L224.7,1709.8 L225.3,1707.8 L225.9,1706.1 L226.6,1704.6 L227.2,1708.0 L227.9,1709.1 L228.5,1710.7 L229.2,1712.0 L229.8,1714.1 L230.5,1718.0 L231.2,1719.4 L231.8,1719.9 L232.5,1717.5 L233.1,1714.7 L233.7,1713.2 L234.4,1713.0 L235.0,1710.7 L235.6,1707.6 L236.2,1707.0 L236.9,1705.0 L237.5,1704.3 L238.1,1700.8 L238.8,1703.2 L239.5,1704.6 L240.1,1708.6 L240.8,1713.3 L241.4,1716.4 L242.1,1717.8 L242.8,1719.3 L243.4,1721.4 L244.1,1721.1 L244.7,1718.9 L245.4,1717.3 L246.0,1716.7 L246.7,1714.5 L247.4,1714.0 L248.0,1711.3 L248.7,1707.3 L249.3,1711.9 L249.9,1715.6 L250.6,1721.1 L251.2,1725.9 L251.8,1727.8 L252.4,1724.7 L253.1,1719.9 L253.7,1717.4 L254.3,1714.9 L254.9,1709.2 L255.5,1707.0 L256.1,1701.7 L256.7,1701.7 L257.3,1700.2 L257.9,1698.0 L258.5,1693.3 L259.1,1691.6 L259.7,1689.6 L260.3,1688.6 L260.9,1691.2 L261.5,1693.2 L262.2,1694.8 L262.8,1696.8 L263.4,1699.8 L264.1,1703.4 L264.7,1704.6 L265.3,1707.0 L266.0,1708.7 L266.6,1712.4 L267.2,1711.5 L267.9,1708.5 L268.5,1703.1 L269.1,1699.3 L269.8,1697.9 L270.4,1696.9 L271.0,1694.8 L271.7,1691.8 L272.3,1687.9 L272.9,1686.0 L273.5,1689.2 L274.1,1691.5 L274.7,1693.2 L275.3,1694.8 L275.9,1697.1 L276.5,1701.9 L277.1,1704.0 L277.7,1701.5 L278.3,1696.1 L278.9,1692.6 L279.6,1689.8 L280.2,1688.3 L280.8,1685.4 L281.4,1682.5 L282.0,1678.4 L282.6,1673.7 L283.3,1670.9 L283.9,1666.9 L284.5,1662.3 L285.1,1664.1 L285.7,1667.4 L286.3,1671.7 L286.9,1674.5 L287.5,1677.0 L288.1,1679.7 L288.7,1679.7 L289.4,1678.8 L290.0,1677.4 L290.6,1674.6 L291.3,1672.7 L291.9,1669.0 L292.5,1668.0 L293.2,1664.8 L293.8,1662.2 L294.4,1658.6 L295.1,1656.6 L295.7,1657.2 L296.3,1660.1 L296.9,1664.0 L297.5,1664.8 L298.1,1664.9 L298.7,1664.8 L299.3,1666.3 L299.9,1663.7 L300.5,1663.8 L301.1,1660.5 L301.7,1659.1 L302.3,1656.2 L302.9,1655.8 L303.5,1652.2 L304.1,1654.7 L304.7,1652.8 L305.3,1654.4 L305.9,1656.4 L306.5,1660.1 L307.1,1661.4 L307.7,1662.5 L308.3,1666.9 L308.9,1671.1 L309.5,1676.7 L310.1,1683.0 L310.7,1689.8 L311.3,1695.6 L311.9,1700.7 L312.6,1698.1 L313.2,1696.6 L313.8,1693.7 L314.5,1688.7 L315.1,1685.8 L315.7,1682.6 L316.3,1681.1 L317.0,1679.3 L317.6,1676.9 L318.2,1673.5 L318.9,1676.1 L319.5,1680.9 L320.1,1685.9 L320.8,1688.7 L321.4,1692.7 L322.0,1697.2 L322.7,1701.9 L323.3,1706.2 L323.9,1710.4 L324.6,1712.9 L325.2,1707.6 L325.8,1706.1 L326.5,1703.6 L327.1,1700.9 L327.7,1696.5 L328.4,1691.6 L329.0,1688.4 L329.6,1684.5 L330.3,1681.6 L330.9,1676.1 L331.5,1681.1 L332.2,1687.0 L332.8,1694.0 L333.4,1698.8 L334.1,1703.0 L334.7,1706.3 L335.3,1711.0 L336.0,1716.1 L336.6,1722.1 L337.2,1726.8 L337.8,1723.1 L338.5,1721.3 L339.1,1718.8 L339.7,1715.7 L340.4,1712.8 L341.0,1709.3 L341.6,1707.7 L342.3,1706.0 L342.9,1704.0 L343.5,1702.6 L344.2,1704.9 L344.9,1706.9 L345.5,1711.4 L346.2,1717.6 L346.8,1720.4 L347.5,1724.2 L348.2,1728.4 L348.8,1733.2 L349.4,1734.8 L350.0,1734.4 L350.6,1735.1 L351.2,1733.8 L351.8,1735.7 L352.4,1738.9 L353.0,1740.5 L353.7,1739.6 L354.3,1738.3 L355.0,1737.1 L355.7,1737.6 L356.3,1739.0 L357.0,1739.2 L357.6,1737.0 L358.3,1738.0 L358.9,1740.6 L359.5,1741.8 L360.1,1742.5 L360.8,1742.4 L361.4,1743.5 L362.0,1746.0 L362.6,1749.1 L363.2,1750.3 L363.8,1752.9 L364.4,1751.7 L365.1,1753.2 L365.7,1754.5 L366.3,1755.0 L367.0,1752.6 L367.7,1751.6 L368.3,1751.0 L369.0,1750.8 L369.6,1750.4 L370.3,1747.6 L370.9,1745.7 L371.6,1745.9 L372.2,1746.5 L372.8,1748.1 L373.4,1747.8 L374.1,1745.6 L374.7,1744.4 L375.3,1744.7 L375.9,1745.1 L376.6,1744.1 L377.2,1743.4 L377.8,1742.9 L378.4,1743.0 L379.0,1745.0 L379.6,1745.8 L380.2,1745.7 L380.8,1745.3 L381.4,1746.5 L382.0,1747.1 L382.6,1749.2 L383.2,1748.8 L383.9,1744.9 L384.5,1742.1 L385.1,1740.1 L385.7,1737.8 L386.3,1735.1 L386.9,1732.8 L387.5,1729.1 L388.1,1726.7 L388.8,1725.0 L389.4,1723.1 L390.0,1721.0 L390.6,1718.8 L391.2,1716.1 L391.8,1716.2 L392.4,1716.8 L393.0,1716.3 L393.6,1714.4 L394.2,1714.1 L394.9,1714.2 L395.5,1715.9 L396.1,1716.6 L396.8,1716.1 L397.4,1716.8 L398.0,1714.6 L398.7,1715.1 L399.3,1714.5 L399.9,1712.1 L400.6,1708.2 L401.2,1705.9 L401.8,1705.1 L402.5,1704.9 L403.1,1704.1 L403.7,1703.0 L404.4,1702.0 L405.0,1701.8 L405.6,1700.9 L406.3,1700.3 L406.9,1696.8 L407.6,1700.5 L408.3,1704.7 L409.0,1710.6 L409.6,1706.5 L410.3,1701.0 L410.9,1695.4 L411.5,1691.1 L412.2,1687.7 L412.8,1684.7 L413.4,1681.6 L414.1,1678.8 L414.7,1676.4 L415.3,1673.2 L416.0,1671.7 L416.7,1671.4 L417.4,1673.4 L418.1,1677.6 L418.8,1681.9 L419.5,1685.3 L420.3,1687.3 L421.0,1689.1 L421.7,1692.8 L422.4,1695.8 L423.1,1699.0 L423.8,1695.6 L424.4,1692.8 L425.0,1691.2 L425.6,1689.4 L426.3,1686.5 L426.9,1682.3 L427.5,1680.7 L428.2,1680.4 L428.8,1680.6 L429.4,1677.7 L430.1,1676.8 L430.7,1674.8 L431.3,1677.4 L432.0,1679.0 L432.6,1678.7 L433.2,1679.8 L433.9,1683.2 L434.6,1688.5 L435.3,1694.4 L436.0,1690.4 L436.6,1683.8 L437.2,1678.8 L437.9,1676.9 L438.5,1673.8 L439.2,1671.3 L439.9,1665.2 L440.7,1661.7 L441.4,1656.5 L442.1,1652.9 L442.7,1656.5 L443.4,1660.7 L444.0,1663.3 L444.6,1668.3 L445.3,1672.8 L445.9,1675.8 L446.5,1675.8 L447.2,1675.4 L447.8,1676.1 L448.4,1678.8 L449.0,1679.5 L449.7,1681.2 L450.4,1675.7 L451.1,1670.5 L451.8,1665.4 L452.5,1661.2 L453.3,1655.7 L453.9,1658.4 L454.5,1661.8 L455.1,1666.4 L455.7,1669.8 L456.3,1670.8 L456.9,1670.8 L457.5,1674.4 L458.2,1679.4 L458.9,1684.2 L459.6,1688.7 L460.3,1690.4 L461.1,1694.7 L461.7,1693.6 L462.3,1689.0 L463.0,1685.0 L463.6,1682.7 L464.2,1679.7 L464.9,1679.3 L465.5,1679.2 L466.1,1677.5 L466.8,1675.0 L467.4,1673.5 L468.1,1681.8 L468.8,1688.2 L469.4,1693.8 L470.1,1698.4 L470.8,1701.7 L471.4,1706.5 L472.0,1709.4 L472.7,1711.2 L473.3,1713.3 L473.9,1712.4 L474.6,1711.6 L475.2,1711.4 L475.8,1710.9 L476.5,1707.9 L477.1,1706.5 L477.7,1705.7 L478.3,1706.4 L479.0,1704.9 L479.6,1704.9 L480.2,1707.2 L480.9,1709.3 L481.5,1712.2 L482.1,1712.7 L482.8,1712.4 L483.4,1712.9 L484.0,1716.1 L484.7,1720.9 L485.3,1723.2 L485.9,1725.0 L486.6,1726.4 L487.2,1727.1 L487.8,1729.4 L488.5,1733.3 L489.1,1734.5 L489.7,1730.9 L490.3,1730.5 L490.9,1729.7 L491.5,1728.6 L492.1,1724.9 L492.7,1721.8 L493.3,1719.7 L493.9,1721.6 L494.5,1723.9 L495.1,1727.8 L495.7,1727.9 L496.3,1729.9 L496.9,1729.6 L497.5,1732.2 L498.2,1734.5 L498.8,1734.3 L499.4,1734.6 L500.1,1735.7 L500.7,1737.1 L501.3,1736.3 L501.9,1735.0 L502.5,1731.3 L503.1,1729.0 L503.7,1726.7 L504.3,1724.4 L504.9,1724.2 L505.5,1725.1 L506.2,1722.4 L506.8,1721.5 L507.4,1722.6 L508.1,1722.7 L508.7,1725.5 L509.3,1727.2 L509.9,1729.0 L510.5,1732.9 L511.1,1736.6 L511.7,1740.4 L512.3,1741.8 L512.9,1737.5 L513.6,1736.6 L514.3,1734.8 L514.9,1734.7 L515.6,1733.0 L516.2,1732.0 L516.9,1729.1 L517.6,1728.5 L518.2,1722.1 L518.8,1713.7 L519.5,1706.5 L520.1,1699.7 L520.7,1695.2 L521.3,1689.8 L522.0,1682.3 L522.6,1674.7 L523.2,1666.3 L523.9,1660.4 L524.5,1655.8 L525.1,1652.4 L525.8,1647.6 L526.4,1644.4 L527.0,1639.9 L527.7,1638.2 L528.4,1636.1 L529.1,1633.2 L529.8,1630.3 L530.5,1635.9 L531.3,1641.3 L532.0,1645.5 L532.7,1647.8 L533.4,1656.7 L534.0,1667.0 L534.6,1677.3 L535.3,1687.1 L535.9,1696.8 L536.5,1707.6 L537.2,1714.6 L537.8,1722.8 L538.4,1729.2 L539.1,1735.5 L539.7,1741.5 L540.3,1751.0 L541.0,1748.2 L541.6,1744.0 L542.2,1737.3 L542.8,1731.2 L543.5,1729.2 L544.1,1726.8 L544.7,1722.9 L545.3,1719.2 L545.9,1716.9 L546.5,1713.7 L547.1,1712.1 L547.7,1707.2 L548.3,1701.5 L549.0,1692.8 L549.6,1686.7 L550.2,1681.4 L550.9,1678.6 L551.6,1675.3 L552.3,1673.4 L553.0,1669.8 L553.7,1667.4 L554.4,1664.7 L555.1,1658.4 L555.8,1649.4 L556.5,1644.2 L557.2,1639.2 L557.8,1646.7 L558.4,1651.8 L559.1,1657.8 L559.7,1665.1 L560.3,1677.1 L561.0,1687.2 L561.6,1699.1 L562.2,1708.4 L562.9,1717.5 L563.5,1725.1 L564.1,1731.6 L564.7,1736.9 L565.3,1743.1 L565.9,1748.6 L566.5,1756.8 L567.1,1766.0 L567.7,1761.8 L568.3,1757.9 L568.9,1752.2 L569.5,1748.5 L570.1,1744.8 L570.7,1743.4 L571.3,1739.2 L571.9,1728.3 L572.6,1718.1 L573.2,1707.6 L573.8,1698.6 L574.5,1689.0 L575.1,1682.6 L575.7,1677.3 L576.4,1672.9 L577.0,1671.0 L577.6,1667.3 L578.3,1660.1 L579.1,1652.5 L579.8,1647.9 L580.5,1644.5 L581.2,1639.3 L581.9,1643.5 L582.6,1648.6 L583.3,1656.4 L584.0,1660.8 L584.6,1672.2 L585.2,1681.7 L585.9,1691.4 L586.5,1704.0 L587.1,1717.3 L587.7,1723.4 L588.3,1726.1 L588.9,1730.3 L589.5,1735.8 L590.1,1741.4 L590.7,1749.1 L591.3,1752.7 L591.9,1753.1 L592.5,1754.4 L593.1,1754.8 L593.7,1755.3 L594.3,1754.9 L594.9,1754.1 L595.5,1753.6 L596.2,1755.5 L596.8,1756.6 L597.4,1758.3 L598.1,1757.7 L598.7,1757.3 L599.3,1752.8 L600.0,1746.5 L600.6,1743.1 L601.2,1736.9 L601.9,1731.5 L602.5,1729.0 L603.1,1726.0 L603.7,1723.8 L604.3,1720.1 L604.9,1715.3 L605.5,1710.1 L606.1,1707.7 L606.7,1705.4 L607.3,1702.9 L607.9,1698.9 L608.5,1694.7 L609.1,1691.2 L609.7,1686.5 L610.3,1683.3 L610.9,1686.5 L611.6,1688.3 L612.2,1691.2 L612.8,1693.2 L613.5,1696.9 L614.1,1692.6 L614.7,1685.0 L615.4,1678.7 L616.0,1672.9 L616.6,1668.2 L617.3,1675.2 L617.9,1679.5 L618.5,1684.2 L619.2,1689.9 L619.8,1694.6 L620.4,1701.9 L621.1,1706.3 L621.7,1711.6 L622.3,1718.6 L623.0,1726.1 L623.6,1732.0 L624.3,1734.3 L624.9,1737.8 L625.6,1739.9 L626.2,1744.9 L626.9,1749.6 L627.6,1753.6 L628.2,1757.0 L628.9,1761.4 L629.5,1763.1 L630.1,1768.1 L630.8,1769.5 L631.4,1772.2 L632.0,1769.6 L632.6,1770.6 L633.2,1771.5 L633.8,1770.6 L634.4,1769.6 L635.0,1768.1 L635.6,1765.8 L636.2,1764.8 L636.8,1766.1 L637.4,1765.8 L638.0,1764.0 L638.6,1763.8 L639.2,1762.6 L639.8,1762.7 L640.4,1757.9 L641.0,1751.6 L641.6,1746.0 L642.2,1742.9 L642.8,1740.2 L643.4,1735.5 L644.0,1732.4 L644.6,1728.6 L645.2,1726.3 L645.8,1724.1 L646.4,1723.1 L647.0,1723.1 L647.6,1721.9 L648.2,1719.5 L648.9,1716.4 L649.5,1715.9 L650.1,1712.5 L650.8,1709.6 L651.4,1706.3 L652.0,1711.3 L652.7,1718.3 L653.3,1725.5 L653.9,1731.5 L654.6,1735.8 L655.2,1740.1 L655.8,1743.1 L656.4,1746.8 L657.0,1750.8 L657.6,1753.3 L658.2,1757.5 L658.8,1761.9 L659.4,1767.8 L660.0,1772.6 L660.7,1777.4 L661.3,1778.9 L661.9,1783.3 L662.5,1789.8 L663.2,1795.5 L663.8,1797.3 L664.4,1799.1 L665.1,1799.6 L665.7,1801.6 L666.3,1804.0 L667.0,1804.5 L667.6,1805.1 L668.2,1807.1 L668.9,1807.6 L669.5,1810.7 L670.1,1812.4 L670.8,1808.5 L671.6,1803.0 L672.3,1800.7 L673.0,1799.7 L673.7,1798.2 L674.3,1792.9 L675.0,1788.3 L675.6,1785.5 L676.2,1781.6 L676.9,1778.5 L677.5,1776.8 L678.1,1774.8 L678.8,1774.1 L679.4,1774.0 L680.0,1772.3 L680.7,1770.7 L681.3,1768.2 L681.9,1766.2 L682.6,1766.1 L683.2,1766.8 L683.8,1764.0 L684.5,1761.5 L685.1,1760.1 L685.7,1760.0 L686.3,1756.7 L687.0,1761.0 L687.6,1765.2 L688.2,1768.4 L688.9,1773.5 L689.5,1779.1 L690.1,1781.1 L690.8,1779.9 L691.4,1781.7 L692.0,1782.5 L692.7,1785.1 L693.3,1782.0 L693.9,1779.3 L694.6,1777.4 L695.2,1776.0 L695.8,1774.8 L696.5,1773.6 L697.1,1770.0 L697.7,1769.4 L698.4,1766.9 L699.0,1767.2 L699.6,1772.0 L700.3,1776.0 L700.9,1778.1 L701.5,1782.2 L702.2,1785.6 L702.8,1784.6 L703.4,1783.8 L704.1,1783.0 L704.7,1781.2 L705.3,1779.8 L706.0,1784.5 L706.6,1786.8 L707.2,1788.3 L707.8,1790.8 L708.5,1793.3 L709.1,1798.4 L709.7,1801.9 L710.4,1804.1 L711.0,1804.5 L711.6,1806.4 L712.2,1808.1 L712.8,1809.3 L713.5,1809.2 L714.1,1808.3 L714.7,1808.2 L715.3,1810.7 L715.9,1810.3 L716.5,1810.7 L717.1,1809.4 L717.7,1807.4 L718.3,1807.7 L718.9,1808.0 L719.5,1809.3 L720.1,1808.0 L720.7,1806.3 L721.3,1803.1 L722.0,1801.8 L722.6,1800.3 L723.2,1798.6 L723.8,1796.4 L724.4,1796.9 L725.0,1797.4 L725.6,1797.5 L726.2,1795.1 L726.9,1793.9 L727.5,1790.9 L728.1,1788.2 L728.7,1784.8 L729.3,1784.4 L729.9,1780.3 L730.5,1775.8 L731.1,1772.5 L731.7,1769.2 L732.3,1768.2 L732.9,1766.0 L733.5,1764.5 L734.1,1760.8 L734.7,1759.1 L735.3,1759.6 L735.9,1758.5 L736.5,1756.5 L737.1,1755.1 L737.7,1752.7 L738.3,1751.0 L738.9,1750.3 L739.5,1751.1 L740.1,1749.5 L740.7,1747.7 L741.3,1745.3 L741.9,1744.0 L742.5,1743.2 L743.1,1740.9 L743.7,1738.8 L744.3,1736.0 L744.9,1746.1 L745.6,1753.8 L746.2,1760.5 L746.8,1767.0 L747.5,1771.9 L748.1,1773.9 L748.7,1774.6 L749.4,1774.9 L750.0,1774.7 L750.6,1775.7 L751.2,1778.7 L751.8,1780.4 L752.4,1784.1 L753.0,1784.5 L753.7,1785.2 L754.3,1788.1 L754.9,1790.1 L755.5,1794.0 L756.1,1795.5 L756.7,1796.3 L757.3,1797.4 L757.9,1799.7 L758.5,1800.4 L759.1,1803.4 L759.7,1803.1 L760.3,1803.9 L760.9,1804.0 L761.5,1806.9 L762.1,1807.9 L762.7,1808.6 L763.3,1807.4 L763.9,1805.4 L764.5,1806.1 L765.1,1806.3 L765.7,1807.5 L766.3,1806.3 L766.9,1806.7 L767.5,1805.1 L768.1,1805.4 L768.8,1807.4 L769.4,1807.7 L770.0,1809.0 L770.7,1809.4 L771.3,1808.3 L771.9,1807.0 L772.5,1803.8 L773.1,1801.2 L773.7,1798.4 L774.3,1795.3 L774.9,1793.7 L775.5,1791.3 L776.1,1786.5 L776.8,1782.5 L777.4,1777.6 L778.0,1772.9 L778.7,1768.9 L779.3,1761.4 L779.9,1755.2 L780.6,1748.7 L781.2,1744.7 L781.8,1742.0 L782.4,1738.2 L783.0,1731.6 L783.6,1726.7 L784.2,1722.7 L784.8,1720.1 L785.4,1718.3 L786.1,1728.5 L786.7,1737.7 L787.3,1747.2 L788.0,1756.6 L788.6,1767.5 L789.2,1762.0 L789.8,1756.0 L790.5,1749.7 L791.1,1745.6 L791.7,1741.1 L792.4,1741.5 L793.0,1740.0 L793.6,1738.6 L794.3,1739.8 L794.9,1740.2 L795.5,1741.5 L796.2,1742.0 L796.8,1741.7 L797.4,1741.3 L798.1,1743.3 L798.7,1747.3 L799.3,1750.3 L800.0,1753.9 L800.6,1758.7 L801.2,1763.3 L801.8,1766.8 L802.4,1769.4 L803.0,1769.7 L803.6,1772.4 L804.2,1773.8 L804.8,1777.3 L805.4,1781.1 L806.0,1781.4 L806.7,1780.0 L807.3,1780.3 L807.9,1782.4 L808.5,1782.8 L809.1,1781.9 L809.7,1780.5 L810.3,1783.4 L810.9,1784.5 L811.6,1789.2 L812.2,1789.9 L812.8,1790.6 L813.5,1793.2 L814.1,1795.9 L814.7,1801.2 L815.4,1803.8 L816.0,1806.9 L816.6,1808.0 L817.2,1810.6 L817.8,1811.1 L818.4,1814.0 L819.0,1813.4 L819.6,1814.0 L820.2,1815.3 L820.9,1815.9 L821.5,1818.1 L822.2,1820.0 L822.8,1820.9 L823.5,1820.1 L824.2,1821.5 L824.8,1824.4 L825.5,1825.1 L826.1,1824.2 L826.7,1822.0 L827.3,1823.2 L827.9,1822.9 L828.5,1823.1 L829.1,1821.5 L829.7,1819.2 L830.3,1816.9 L830.9,1816.5 L831.5,1816.0 L832.1,1813.4 L832.7,1812.0 L833.3,1808.3 L833.9,1808.0 L834.5,1805.7 L835.2,1803.5 L835.8,1800.9 L836.4,1800.0 L837.1,1798.1 L837.7,1798.8 L838.3,1797.3 L838.9,1796.5 L839.5,1794.2 L840.1,1790.6 L840.7,1791.3 L841.3,1791.4 L841.9,1787.5 L842.5,1783.6 L843.2,1777.5 L843.8,1774.6 L844.4,1770.1 L845.0,1766.3 L845.6,1762.5 L846.3,1758.6 L846.9,1757.4 L847.5,1754.7 L848.1,1753.3 L848.7,1750.2 L849.3,1752.8 L849.9,1757.7 L850.5,1763.2 L851.1,1768.9 L851.7,1775.3 L852.3,1779.5 L852.9,1783.5 L853.5,1775.4 L854.1,1767.9 L854.7,1761.1 L855.3,1751.7 L855.9,1741.8 L856.5,1735.2 L857.1,1726.3 L857.7,1736.5 L858.4,1744.1 L859.0,1751.3 L859.6,1757.1 L860.3,1765.0 L860.9,1759.2 L861.5,1755.0 L862.1,1749.9 L862.7,1743.2 L863.3,1738.7 L863.9,1733.3 L864.5,1728.1 L865.1,1731.8 L865.7,1735.9 L866.3,1740.4 L866.9,1743.9 L867.5,1750.2 L868.1,1755.2 L868.7,1759.3 L869.3,1762.5 L869.9,1765.9 L870.6,1770.4 L871.2,1773.7 L871.8,1778.8 L872.5,1779.5 L873.1,1783.4 L873.7,1786.1 L874.4,1789.4 L875.0,1791.8 L875.6,1793.0 L876.2,1794.0 L876.8,1796.2 L877.4,1800.5 L878.0,1804.5 L878.6,1806.6 L879.2,1808.1 L879.9,1809.5 L880.5,1811.6 L881.1,1814.9 L881.8,1817.4 L882.4,1818.8 L883.0,1818.2 L883.6,1818.0 L884.2,1818.4 L884.8,1816.3 L885.4,1813.9 L886.0,1811.0 L886.6,1811.0 L887.2,1810.7 L887.8,1809.6 L888.4,1809.9 L889.0,1806.2 L889.6,1804.8 L890.2,1803.6 L890.8,1804.2 L891.4,1804.4 L892.0,1803.1 L892.6,1803.8 L893.2,1805.1 L893.8,1806.7 L894.4,1807.5 L895.0,1806.2 L895.7,1800.8 L896.3,1795.5 L896.9,1793.0 L897.6,1791.9 L898.2,1787.4 L898.8,1786.4 L899.4,1783.3 L900.0,1783.5 L900.6,1782.7 L901.2,1781.1 L901.8,1778.2 L902.4,1777.8 L903.0,1775.3 L903.6,1776.3 L904.2,1775.1 L904.8,1771.0 L905.4,1767.7 L906.0,1765.7 L906.6,1764.0 L907.3,1767.5 L907.9,1769.6 L908.5,1772.5 L909.2,1772.8 L909.8,1776.3 L910.4,1771.2 L911.1,1765.9 L911.7,1760.3 L912.3,1753.3 L913.0,1750.4 L913.6,1755.2 L914.2,1760.5 L914.8,1764.1 L915.4,1766.8 L916.0,1768.1 L916.6,1772.9 L917.2,1777.8 L917.8,1776.1 L918.4,1772.9 L919.0,1770.4 L919.6,1768.5 L920.2,1767.4 L920.8,1763.6 L921.4,1760.8 L922.0,1763.6 L922.6,1768.1 L923.2,1773.3 L923.8,1778.7 L924.4,1784.6 L925.0,1785.9 L925.6,1789.1 L926.2,1789.5 L926.9,1788.3 L927.5,1789.2 L928.1,1787.5 L928.8,1786.7 L929.4,1790.7 L930.0,1794.7 L930.7,1798.7 L931.3,1799.4 L931.9,1801.4 L932.5,1803.3 L933.1,1806.8 L933.7,1812.2 L934.3,1814.7 L934.9,1815.5 L935.5,1816.6 L936.1,1818.8 L936.8,1819.9 L937.5,1820.8 L938.1,1818.0 L938.8,1818.6 L939.4,1819.4 L940.1,1819.4 L940.7,1818.9 L941.4,1818.7 L942.1,1817.4 L942.7,1817.1 L943.4,1820.1 L944.0,1820.2 L944.7,1820.8 L945.4,1819.9 L946.0,1819.5 L946.7,1820.1 L947.3,1820.1 L948.0,1820.4 L948.7,1821.3 L949.3,1821.8 L950.0,1823.7 L950.6,1824.4 L951.3,1823.1 L951.9,1823.8 L952.6,1824.7 L953.2,1827.1 L953.8,1829.7 L954.5,1830.4 L955.1,1830.5 L955.8,1830.7 L956.4,1829.5 L957.1,1830.0 L957.7,1829.1 L958.4,1826.1 L959.1,1826.4 L959.7,1827.6 L960.4,1828.6 L961.0,1827.0 L961.7,1824.9 L962.4,1825.2 L963.0,1824.9 L963.7,1825.2 L964.3,1824.5 L965.0,1825.5 L965.6,1825.3 L966.3,1824.1 L966.9,1821.7 L967.5,1819.0 L968.1,1817.0 L968.7,1814.1 L969.3,1813.0 L969.9,1813.3 L970.5,1810.4 L971.1,1807.6 L971.7,1803.2 L972.3,1800.4 L972.9,1799.0 L973.5,1798.0 L974.1,1795.9 L974.7,1793.0 L975.3,1792.9 L975.9,1793.3 L976.5,1791.5 L977.1,1790.5 L977.7,1789.2 L978.3,1786.7 L978.9,1786.7 L979.6,1784.8 L980.2,1785.4 L980.8,1783.0 L981.5,1779.4 L982.1,1784.3 L982.7,1788.5 L983.4,1793.4 L984.0,1798.8 L984.6,1802.1 L985.3,1800.7 L985.9,1798.3 L986.5,1797.0 L987.2,1794.7 L987.8,1790.2 L988.4,1784.6 L989.0,1781.2 L989.7,1777.3 L990.3,1773.7 L990.9,1769.0 L991.6,1767.0 L992.2,1763.8 L992.8,1764.5 L993.4,1764.0 L994.0,1762.7 L994.7,1760.5 L995.3,1759.0 L996.0,1757.7 L996.6,1754.7 L997.3,1750.9 L998.0,1745.4 L998.7,1749.1 L999.4,1756.1 L1000.2,1759.9 L1000.9,1763.8 L1001.6,1766.3 L1002.2,1766.4 L1002.9,1767.7 L1003.5,1768.6 L1004.1,1766.8 L1004.8,1767.9 L1005.4,1776.0 L1006.0,1784.1 L1006.7,1790.4 L1007.3,1795.0 L1007.9,1801.5 L1008.5,1798.3 L1009.2,1797.8 L1009.8,1794.9 L1010.4,1792.2 L1011.1,1788.9 L1011.7,1790.9 L1012.3,1792.9 L1013.0,1794.3 L1013.6,1795.9 L1014.2,1796.6 L1014.9,1796.2 L1015.6,1802.6 L1016.3,1807.9 L1017.0,1810.9 L1017.6,1807.3 L1018.3,1804.9 L1019.0,1803.1 L1019.6,1801.6 L1020.3,1799.1 L1021.0,1797.6 L1021.6,1795.5 L1022.2,1797.0 L1022.8,1801.2 L1023.4,1802.1 L1024.0,1804.4 L1024.6,1806.4 L1025.2,1809.7 L1025.8,1811.7 L1026.4,1815.2 L1027.0,1814.4 L1027.6,1814.4 L1028.2,1816.2 L1028.8,1817.4 L1029.4,1821.0 L1030.1,1821.6 L1030.7,1822.3 L1031.3,1824.0 L1031.9,1825.9 L1032.5,1827.2 L1033.1,1830.3 L1033.7,1830.1 L1034.3,1830.8 L1034.9,1829.9 L1035.5,1829.9 L1036.1,1828.5 L1036.7,1828.7 L1037.3,1826.3 L1037.9,1824.1 L1038.5,1822.7 L1039.1,1823.6 L1039.7,1822.1 L1040.3,1822.1 L1040.9,1822.3 L1041.5,1821.5 L1042.1,1823.2 L1042.7,1823.3 L1043.3,1820.9 L1043.9,1819.0 L1044.5,1816.0 L1045.1,1816.3 L1045.7,1817.4 L1046.3,1816.2 L1046.9,1816.1 L1047.5,1813.6 L1048.1,1811.1 L1048.7,1811.3 L1049.3,1810.1 L1049.9,1808.0 L1050.5,1806.5 L1051.1,1805.2 L1051.8,1807.3 L1052.4,1808.7 L1053.0,1808.6 L1053.7,1808.6 L1054.3,1806.1 L1054.9,1809.5 L1055.5,1811.6 L1056.1,1813.5 L1056.7,1815.1 L1057.3,1815.7 L1057.9,1818.2 L1058.5,1819.2 L1059.1,1815.6 L1059.8,1811.9 L1060.4,1809.0 L1061.0,1804.3 L1061.7,1803.2 L1062.4,1800.6 L1063.1,1796.7 L1063.8,1792.2 L1064.4,1794.3 L1065.0,1796.1 L1065.6,1798.4 L1066.2,1799.6 L1066.8,1799.4 L1067.4,1801.0 L1068.0,1801.6 L1068.6,1798.2 L1069.2,1795.0 L1069.8,1788.8 L1070.4,1784.7 L1071.0,1779.4 L1071.6,1776.2 L1072.2,1773.4 L1072.8,1777.6 L1073.4,1779.5 L1074.0,1783.0 L1074.6,1785.8 L1075.2,1790.4 L1075.8,1794.4 L1076.4,1798.8 L1077.1,1793.3 L1077.7,1789.7 L1078.4,1786.6 L1079.0,1783.4 L1079.7,1779.8 L1080.4,1773.9 L1081.0,1770.1 L1081.7,1768.3 L1082.3,1764.8 L1083.0,1769.5 L1083.6,1772.8 L1084.2,1776.0 L1084.9,1781.1 L1085.5,1785.0 L1086.1,1789.4 L1086.8,1792.0 L1087.4,1796.5 L1088.0,1801.6 L1088.7,1805.5 L1089.3,1799.5 L1090.0,1794.4 L1090.6,1789.8 L1091.3,1784.7 L1092.0,1783.6 L1092.6,1779.3 L1093.3,1773.5 L1093.9,1776.4 L1094.6,1779.5 L1095.2,1784.3 L1095.8,1788.1 L1096.5,1792.0 L1097.1,1788.8 L1097.7,1787.7 L1098.3,1786.7 L1098.9,1785.8 L1099.5,1783.8 L1100.1,1779.8 L1100.7,1777.5 L1101.3,1780.6 L1101.9,1782.1 L1102.5,1784.5 L1103.1,1786.2 L1103.7,1786.9 L1104.3,1787.5 L1104.9,1788.9 L1105.5,1792.9 L1106.1,1794.5 L1106.8,1795.6 L1107.4,1798.6 L1108.0,1803.6 L1108.6,1802.7 L1109.2,1801.1 L1109.9,1799.4 L1110.5,1798.8 L1111.1,1797.3 L1111.7,1798.6 L1112.3,1799.8 L1112.9,1802.5 L1113.5,1805.4 L1114.2,1808.3 L1114.8,1812.6 L1115.4,1816.8 L1116.1,1814.2 L1116.7,1811.4 L1117.3,1809.3 L1118.0,1808.7 L1118.6,1808.2 L1119.2,1811.1 L1119.8,1811.2 L1120.4,1813.2 L1121.0,1815.5 L1121.6,1819.9 L1122.2,1823.1 L1122.8,1825.8 L1123.4,1823.2 L1124.0,1823.1 L1124.6,1821.8 L1125.2,1819.2 L1125.8,1816.9 L1126.4,1815.3 L1127.0,1813.5 L1127.6,1816.5 L1128.2,1817.4 L1128.8,1819.9 L1129.4,1819.8 L1130.0,1818.5 L1130.6,1819.7 L1131.2,1821.3 L1131.8,1821.8 L1132.4,1824.4 L1133.0,1825.0 L1133.6,1824.5 L1134.2,1826.6 L1134.8,1826.5 L1135.4,1828.8 L1136.0,1826.4 L1136.7,1824.1 L1137.3,1822.9 L1137.9,1822.5 L1138.5,1821.8 L1139.1,1819.6 L1139.7,1816.8 L1140.3,1816.7 L1140.9,1817.3 L1141.5,1818.7 L1142.1,1820.8 L1142.7,1822.6 L1143.3,1821.4 L1143.9,1823.1 L1144.5,1822.7 L1145.1,1821.8 L1145.7,1819.7 L1146.3,1816.3 L1146.9,1814.3 L1147.5,1814.7 L1148.1,1813.4 L1148.8,1815.7 L1149.4,1815.7 L1150.1,1815.8 L1150.7,1817.0 L1151.4,1819.3 L1152.0,1821.7 L1152.7,1822.6 L1153.4,1822.1 L1154.0,1820.6 L1154.7,1818.2 L1155.3,1816.3 L1156.0,1811.2 L1156.7,1807.4 L1157.3,1804.9 L1158.0,1803.1 L1158.6,1801.4 L1159.3,1801.7 L1160.0,1803.0 L1160.6,1804.1 L1161.3,1805.1 L1161.9,1806.6 L1162.6,1807.1 L1163.2,1809.6 L1163.9,1811.3 L1164.6,1809.3 L1165.2,1805.4 L1165.9,1802.5 L1166.5,1798.3 L1167.2,1794.4 L1167.9,1793.2 L1168.5,1792.3 L1169.2,1787.2 L1169.8,1789.3 L1170.5,1791.2 L1171.1,1794.5 L1171.8,1796.0 L1172.5,1797.2 L1173.1,1798.7 L1173.8,1802.1 L1174.4,1804.7 L1175.0,1799.8 L1175.6,1794.6 L1176.3,1787.8 L1176.9,1781.8 L1177.5,1778.5 L1178.1,1774.5 L1178.7,1768.8 L1179.3,1770.6 L1179.9,1772.3 L1180.5,1774.3 L1181.1,1777.0 L1181.7,1779.4 L1182.3,1779.7 L1182.9,1782.8 L1183.5,1781.4 L1184.2,1781.5 L1184.9,1782.1 L1185.5,1778.9 L1186.2,1777.4 L1186.8,1774.7 L1187.5,1776.3 L1188.1,1774.8 L1188.7,1778.0 L1189.3,1781.5 L1190.0,1785.0 L1190.6,1788.4 L1191.2,1791.8 L1191.8,1794.8 L1192.4,1797.6 L1193.0,1799.4 L1193.6,1802.4 L1194.2,1807.8 L1194.8,1809.8 L1195.4,1812.5 L1196.0,1813.2 L1196.6,1815.4 L1197.2,1812.3 L1197.9,1811.1 L1198.6,1807.0 L1199.2,1805.1 L1199.9,1801.6 L1200.5,1799.5 L1201.2,1795.8 L1201.8,1792.4 L1202.4,1792.1 L1203.1,1795.1 L1203.7,1799.1 L1204.3,1802.6 L1204.9,1804.5 L1205.5,1806.2 L1206.1,1808.4 L1206.7,1804.9 L1207.3,1803.6 L1208.0,1803.6 L1208.6,1800.5 L1209.2,1798.8 L1209.9,1796.6 L1210.5,1795.7 L1211.1,1795.5 L1211.8,1792.5 L1212.4,1789.1 L1213.0,1791.5 L1213.7,1795.9 L1214.4,1801.5 L1215.0,1804.3 L1215.7,1807.3 L1216.3,1809.4 L1217.0,1813.5 L1217.7,1817.1 L1218.3,1816.0 L1218.9,1813.8 L1219.5,1812.8 L1220.1,1811.8 L1220.7,1812.4 L1221.3,1811.9 L1221.9,1807.7 L1222.5,1808.8 L1223.1,1811.3 L1223.7,1815.0 L1224.3,1819.7 L1224.9,1822.4 L1225.5,1823.0 L1226.1,1824.7 L1226.7,1823.0 L1227.3,1822.5 L1227.9,1821.6 L1228.5,1819.7 L1229.1,1816.8 L1229.7,1816.7 L1230.3,1815.2 L1230.9,1819.0 L1231.6,1819.3 L1232.2,1818.5 L1232.8,1820.1 L1233.5,1823.2 L1234.1,1826.3 L1234.7,1827.2 L1235.4,1829.1 L1236.0,1830.7 L1236.6,1831.2 L1237.3,1829.4 L1237.9,1827.1 L1238.5,1825.0 L1239.2,1823.1 L1239.8,1821.5 L1240.4,1821.2 L1241.1,1818.5 L1241.7,1815.4 L1242.3,1811.8 L1243.0,1809.3 L1243.6,1813.1 L1244.2,1815.1 L1244.8,1817.8 L1245.4,1819.9 L1246.0,1822.2 L1246.6,1824.8 L1247.2,1827.4 L1247.8,1825.9 L1248.4,1823.3 L1249.1,1822.1 L1249.7,1822.6 L1250.3,1822.9 L1251.0,1820.9 L1251.6,1818.8 L1252.2,1816.2 L1252.9,1814.2 L1253.5,1815.4 L1254.1,1816.8 L1254.8,1817.1 L1255.5,1817.3 L1256.1,1819.0 L1256.8,1820.0 L1257.4,1821.2 L1258.1,1821.8 L1258.8,1821.2 L1259.4,1822.5 L1260.0,1825.3 L1260.6,1827.2 L1261.2,1827.5 L1261.8,1825.8 L1262.4,1827.1 L1263.0,1827.7 L1263.6,1824.1 L1264.2,1821.9 L1264.8,1817.5 L1265.4,1814.9 L1266.0,1812.5 L1266.6,1811.0 L1267.2,1806.9 L1267.8,1807.8 L1268.5,1808.9 L1269.1,1810.2 L1269.7,1812.8 L1270.4,1817.4 L1271.0,1818.3 L1271.6,1820.8 L1272.3,1821.5 L1272.9,1822.3 L1273.5,1826.1 L1274.1,1823.1 L1274.8,1819.9 L1275.4,1816.9 L1276.0,1815.3 L1276.7,1813.7 L1277.3,1811.2 L1277.9,1807.2 L1278.6,1804.2 L1279.2,1800.5 L1279.8,1800.6 L1280.5,1803.2 L1281.2,1806.4 L1281.8,1806.3 L1282.5,1809.9 L1283.1,1811.4 L1283.8,1814.6 L1284.5,1816.7 L1285.1,1817.9 L1285.7,1816.7 L1286.4,1816.3 L1287.0,1815.4 L1287.6,1812.7 L1288.3,1809.7 L1288.9,1807.0 L1289.5,1805.6 L1290.2,1806.8 L1290.8,1804.7 L1291.4,1802.0 L1292.0,1804.1 L1292.6,1806.2 L1293.2,1809.5 L1293.8,1809.7 L1294.4,1810.5 L1295.0,1812.5 L1295.6,1816.1 L1296.3,1817.7 L1296.9,1820.9 L1297.5,1822.3 L1298.1,1824.1 L1298.7,1824.1 L1299.3,1826.6 L1299.9,1829.8 L1300.5,1828.9 L1301.1,1825.6 L1301.8,1823.0 L1302.4,1820.1 L1303.0,1818.1 L1303.7,1817.1 L1304.3,1813.0 L1304.9,1809.9 L1305.6,1807.6 L1306.2,1806.9 L1306.8,1810.4 L1307.5,1812.0 L1308.2,1811.6 L1308.8,1812.8 L1309.5,1816.2 L1310.1,1820.4 L1310.8,1820.9 L1311.5,1822.9 L1312.1,1820.5 L1312.7,1819.9 L1313.4,1819.3 L1314.0,1816.4 L1314.6,1812.3 L1315.3,1811.5 L1315.9,1809.7 L1316.5,1810.2 L1317.2,1807.3 L1317.8,1804.3 L1318.4,1806.5 L1319.1,1807.9 L1319.7,1809.9 L1320.3,1812.9 L1321.0,1813.7 L1321.6,1816.2 L1322.2,1818.5 L1322.9,1820.3 L1323.5,1822.8 L1324.1,1824.2 L1324.8,1823.9 L1325.4,1825.9 L1326.0,1830.2 L1326.7,1828.6 L1327.4,1825.1 L1328.1,1822.8 L1328.8,1819.7 L1329.5,1818.0 L1330.1,1815.7 L1330.8,1813.4 L1331.4,1810.7 L1332.1,1808.1 L1332.7,1810.6 L1333.4,1812.9 L1334.0,1813.0 L1334.7,1811.7 L1335.3,1813.1 L1336.0,1816.6 L1336.7,1820.4 L1337.4,1820.6 L1338.1,1822.0 L1338.9,1818.5 L1339.7,1814.8 L1340.5,1811.7 L1341.2,1809.4 L1342.0,1807.5 L1342.8,1806.5 L1343.6,1810.2 L1344.3,1810.3 L1345.1,1813.9 L1345.8,1816.0 L1346.5,1819.8 L1347.2,1823.1 L1347.9,1823.9 L1348.6,1826.3 L1349.3,1826.7 L1350.0,1827.0 L1350.7,1828.4 L1351.4,1825.8 L1352.1,1825.0 L1352.8,1824.4 L1353.5,1822.4 L1354.1,1818.0 L1354.8,1815.3 L1355.4,1814.4 L1356.1,1813.7 L1356.7,1811.4 L1357.4,1812.4 L1358.1,1813.5 L1358.8,1814.7 L1359.5,1816.5 L1360.2,1817.7 L1360.9,1820.3 L1361.6,1822.6 L1362.3,1826.8 L1363.0,1825.4 L1363.7,1821.4 L1364.4,1816.7 L1365.1,1813.5 L1365.7,1812.4 L1366.4,1809.3 L1367.0,1807.9 L1367.6,1804.6 L1368.3,1806.5 L1368.9,1810.7 L1369.6,1814.2 L1370.2,1816.6 L1370.9,1816.6 L1371.6,1819.8 L1372.3,1821.9 L1373.0,1825.4 L1373.7,1823.7 L1374.4,1822.9 L1375.1,1822.9 L1375.8,1824.2 L1376.5,1823.7 L1377.2,1822.9 L1377.9,1820.6 L1378.6,1822.4 L1379.4,1820.9 L1380.2,1819.9 L1380.9,1816.8 L1381.6,1818.7 L1382.3,1822.9 L1383.0,1825.2 L1383.7,1827.0 L1384.4,1825.5 L1385.1,1828.2 L1385.8,1829.1 L1386.5,1831.2 L1387.2,1830.3 L1387.8,1832.6 L1388.5,1836.0 L1389.1,1837.3 L1389.8,1838.2 L1390.4,1835.2 L1391.1,1833.3 L1391.7,1833.1 L1392.4,1833.2 L1393.0,1833.6 L1393.7,1829.8 L1394.4,1824.1 L1395.1,1821.2 L1395.8,1818.4 L1396.5,1818.9 L1397.2,1819.2 L1397.9,1821.2 L1398.6,1823.4 L1399.3,1822.7 L1399.9,1822.5 L1400.6,1821.9 L1401.2,1821.7 L1401.9,1822.1 L1402.6,1821.5 L1403.3,1817.1 L1404.0,1814.0 L1404.7,1811.4 L1405.3,1808.6 L1405.9,1806.8 L1406.5,1801.9 L1407.2,1805.7 L1407.9,1808.8 L1408.6,1812.0 L1409.3,1816.7 L1409.9,1816.6 L1410.5,1817.2 L1411.2,1818.7 L1411.8,1819.5 L1412.4,1823.5 L1413.0,1823.6 L1413.7,1823.4 L1414.4,1824.0 L1415.1,1825.4 L1415.8,1826.2 L1416.5,1822.3 L1417.2,1817.6 L1417.9,1816.2 L1418.6,1814.8 L1419.2,1813.7 L1419.8,1812.6 L1420.5,1808.9 L1421.1,1806.7 L1421.7,1805.9 L1422.3,1806.3 L1422.9,1809.2 L1423.6,1812.5 L1424.2,1815.6 L1424.8,1818.4 L1425.4,1821.9 L1426.0,1824.3 L1426.7,1821.0 L1427.3,1818.3 L1428.0,1818.0 L1428.7,1816.8 L1429.3,1814.1 L1430.0,1813.4 L1430.6,1809.8 L1431.3,1810.2 L1432.0,1809.2 L1432.6,1807.9 L1433.3,1805.4 L1434.0,1804.1 L1434.6,1807.7 L1435.3,1811.5 L1435.9,1812.6 L1436.6,1813.6 L1437.2,1815.1 L1437.9,1816.8 L1438.5,1819.5 L1439.2,1821.4 L1439.8,1820.9 L1440.5,1820.6 L1441.1,1821.5 L1441.8,1824.9 L1442.4,1824.9 L1443.1,1826.0 L1443.7,1827.4 L1444.4,1825.8 L1445.1,1823.6 L1445.8,1822.1 L1446.5,1817.2 L1447.2,1813.5 L1447.8,1812.3 L1448.5,1812.1 L1449.1,1810.6 L1449.8,1806.7 L1450.4,1805.6 L1451.1,1804.6 L1451.7,1806.4 L1452.4,1806.2 L1453.0,1805.1 L1453.6,1804.6 L1454.3,1805.2 L1454.9,1806.5 L1455.5,1807.8 L1456.1,1805.5 L1456.7,1803.9" fill="none" stroke="#e0302c" stroke-width="2.4" stroke-linejoin="round"/>
<line x1="515.0" y1="1530.5" x2="515.0" y2="1841.3" stroke="#000" stroke-width="4.6"/>
<text x="193.8" y="1875.4" font-size="27" textLength="57.2" lengthAdjust="spacingAndGlyphs">SHL</text>
<text x="306.6" y="1875.4" font-size="23.5" text-anchor="middle">&#8211;7</text>
<text x="438.5" y="1875.4" font-size="23.5" text-anchor="middle">&#8211;6</text>
<text x="514.7" y="1875.4" font-size="23.5" text-anchor="middle">&#8211;5</text>
<text x="545.5" y="1875.4" font-size="23.5" text-anchor="middle">&#8211;4</text>
<text x="580.0" y="1875.4" font-size="23.5" text-anchor="middle">&#8211;3</text>
<text x="613.5" y="1875.4" font-size="23.5" text-anchor="middle">&#8211;2</text>
<text x="649.1" y="1875.4" font-size="23.5" text-anchor="middle">&#8211;1</text>
<text x="688.4" y="1875.4" font-size="23.5" text-anchor="middle">0</text>
<text x="739.3" y="1875.4" font-size="23.5" text-anchor="middle">+1</text>
<text x="791.5" y="1875.4" font-size="23.5" text-anchor="middle">+2</text>
<text x="853.7" y="1875.4" font-size="23.5" text-anchor="middle">+3</text>
<text x="914.1" y="1875.4" font-size="23.5" text-anchor="middle">+4</text>
<text x="994.9" y="1875.4" font-size="23.5" text-anchor="middle">+5</text>
<text x="1073.8" y="1875.4" font-size="23.5" text-anchor="middle">+6</text>
<text x="1182.0" y="1876.0" font-size="28" text-anchor="middle">+7</text>
<rect x="35.6" y="1886.4" width="1442.7" height="31.5" fill="none" stroke="#555" stroke-width="1.8" stroke-dasharray="4.6,3.4"/>
<line x1="308.6" y1="1886.4" x2="308.6" y2="1917.9" stroke="#555" stroke-width="1.8" stroke-dasharray="4.6,3.4"/>
<text x="110.8" y="1911.8" font-size="28" textLength="157.2" lengthAdjust="spacingAndGlyphs">Linker DNA</text>
<text x="775.0" y="1910.6" font-size="28" textLength="249.0" lengthAdjust="spacingAndGlyphs">Nucleosomal DNA</text>
<text x="70.2" y="1576.3" font-size="24" textLength="40.6" lengthAdjust="spacingAndGlyphs">&#8211;96</text>
<text x="134.7" y="1585.4" font-size="24" textLength="40.7" lengthAdjust="spacingAndGlyphs">&#8211;89</text>
<text x="180.5" y="1576.3" font-size="24" textLength="41.7" lengthAdjust="spacingAndGlyphs">&#8211;84</text>
<text x="278.6" y="1583.9" font-size="24" textLength="41.7" lengthAdjust="spacingAndGlyphs">&#8211;75</text>
<text x="1266.6" y="1762.4" font-size="23" textLength="42.8" lengthAdjust="spacingAndGlyphs">+80</text>
<text x="1349.7" y="1736.6" font-size="23" textLength="42.4" lengthAdjust="spacingAndGlyphs">+86</text>
<text x="1438.6" y="1746.9" font-size="23" textLength="42.4" lengthAdjust="spacingAndGlyphs">+92</text>
<text x="889.5" y="1666.3" font-size="28.5" textLength="85.7" lengthAdjust="spacingAndGlyphs">43N33</text>
<line x1="1264.5" y1="1617.8" x2="1304.3" y2="1617.8" stroke="#000" stroke-width="6.3" stroke-linecap="round"/>
<line x1="1263.0" y1="1649.8" x2="1302.3" y2="1649.8" stroke="#e0302c" stroke-width="6.6" stroke-linecap="round"/>
<text x="1314.6" y="1626.5" font-size="25.5" textLength="51.7" lengthAdjust="spacingAndGlyphs">NCP</text>
<text x="1314.6" y="1658.6" font-size="25.5" textLength="141.0" lengthAdjust="spacingAndGlyphs">NCP+ISW1a</text>
</svg>
</body></html>
